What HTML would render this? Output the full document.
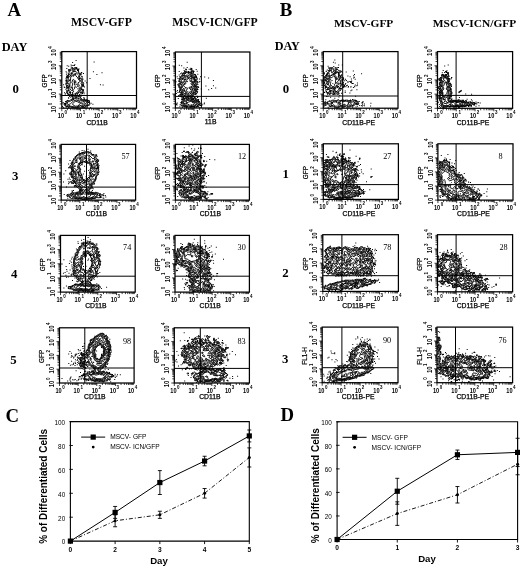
<!DOCTYPE html>
<html><head><meta charset="utf-8"><title>Figure</title>
<style>html,body{margin:0;padding:0;background:#fff;}svg{display:block;}</style></head>
<body><svg width="520" height="568" viewBox="0 0 520 568">
<rect x="0" y="0" width="520" height="568" fill="#fff"/>
<text x="14.30" y="15.60" font-family="'Liberation Serif', serif" font-size="18.8" font-weight="bold" text-anchor="middle" >A</text>
<text x="286.00" y="15.90" font-family="'Liberation Serif', serif" font-size="18.8" font-weight="bold" text-anchor="middle" >B</text>
<text x="101.50" y="25.80" font-family="'Liberation Serif', serif" font-size="11.7" font-weight="bold" text-anchor="middle" >MSCV-GFP</text>
<text x="215.00" y="26.00" font-family="'Liberation Serif', serif" font-size="11.7" font-weight="bold" text-anchor="middle" >MSCV-ICN/GFP</text>
<text x="363.70" y="27.00" font-family="'Liberation Serif', serif" font-size="11.4" font-weight="bold" text-anchor="middle" >MSCV-GFP</text>
<text x="474.50" y="27.00" font-family="'Liberation Serif', serif" font-size="11.4" font-weight="bold" text-anchor="middle" >MSCV-ICN/GFP</text>
<text x="14.50" y="50.90" font-family="'Liberation Serif', serif" font-size="12.4" font-weight="bold" text-anchor="middle" >DAY</text>
<text x="287.30" y="50.30" font-family="'Liberation Serif', serif" font-size="12.2" font-weight="bold" text-anchor="middle" >DAY</text>
<text x="15.60" y="93.40" font-family="'Liberation Serif', serif" font-size="12.8" font-weight="bold" text-anchor="middle" >0</text>
<text x="15.20" y="180.20" font-family="'Liberation Serif', serif" font-size="12.8" font-weight="bold" text-anchor="middle" >3</text>
<text x="14.10" y="278.40" font-family="'Liberation Serif', serif" font-size="12.8" font-weight="bold" text-anchor="middle" >4</text>
<text x="13.40" y="364.20" font-family="'Liberation Serif', serif" font-size="12.8" font-weight="bold" text-anchor="middle" >5</text>
<text x="285.90" y="92.60" font-family="'Liberation Serif', serif" font-size="12.8" font-weight="bold" text-anchor="middle" >0</text>
<text x="285.70" y="178.40" font-family="'Liberation Serif', serif" font-size="12.8" font-weight="bold" text-anchor="middle" >1</text>
<text x="285.40" y="277.20" font-family="'Liberation Serif', serif" font-size="12.8" font-weight="bold" text-anchor="middle" >2</text>
<text x="285.20" y="362.80" font-family="'Liberation Serif', serif" font-size="12.8" font-weight="bold" text-anchor="middle" >3</text>
<rect x="61.80" y="51.60" width="74.70" height="56.60" fill="none" stroke="#000" stroke-width="1.25"/>
<line x1="87.20" y1="51.60" x2="87.20" y2="108.20" stroke="#000" stroke-width="1"/>
<line x1="61.80" y1="95.50" x2="136.50" y2="95.50" stroke="#000" stroke-width="1"/>
<path d="M86 107.7l-.2-2 .4-.5 3 0 .7-.5-.5-3.9-3.2-1.3-1 .5-3-.3-1-1.6-1 .1-.2-.4 1.1-1-.2-1-1.9-1 1.2-.8 2.4-.2-.2-1 1.3-3-1.5-.6-1 .6 .3-2 2.4-3.9-2-3 1.3-2-1-.8-1 .9-1.7-2.1 .7-2.7 1 .3 .4-.6-.4-.6-1 .5-1.3-.9-.7-3.3-1.4-.6 0-1-.6-.3-2 .2-.9 .9-2-.1-2.2 1.3-.7 1 .9 1-.8 1.9 1 1-2.7 1-.8 3 .4 1-.7 1 .8 1-.7 2 1.1 3-1 2.9 1 1-.5 2 1.5 1 .4 1.5 1-1.5 0 1.3-.6 .7 1.6 1.5 1-.9 1.2 1.4-.2 1.3-2 .8-1 1-2-.5-.8 .4-.2 2.8-1-.5-1.4 .6 .4 1.5 2 .4-.5 1.1 2.5 0 .6 1 M70.1 107.7l.2 0 M77.8 107.7l1.2 0 M84.2 98.3l0 1.5 0-1.5 M68.3 97.6l.6 .2-.6-.2 M68.3 84.9l0 .4 0-.4 M82.2 76.7l0 .6 0-.6 M75.2 64.8l-1.3 .2 .3 .7 1-.9 M76.4 107.7l2.8-1 1 .5 2-.9 2 .4 1-2.8 1.2-1.2-.2-1.7-1 .3-6-2.5-1.9 0-1.1-.9-6.9 3.8-1.7 0-.5 3 .6 1 4.6 1.8 3.8 .2 M76.2 71.7l-2.9-.2-2 3.9-3.5 2.5 1.5 2-2 3 2 1.7 .2 1.3-.2 1.2-1.3 .7 1 2 0 1 1.5 1-.2 2.8 2.4 .2 .6 2.5 1.4-.5 .3-2 1.2-1.1 1 0 .7-.9 1.9-1 .3-3 1.9-3.9-1.1-1 .6-1-.5-2-1.8-2-.5-2 .5-2.5-1-1-1 1-.5-.5 .4-1-.9-1.2 M70.3 95l0 1 .3-.2-.3-.8 M78.2 93.6l-.6 .2 .6 .2 0-.4 M81.2 91.6l-.3 .2 .3 .3 0-.5 M70.3 70.7l-1.2 .3 1.2 .1 0-.4 M81.2 100.6l-1-.5-.8 .7-.2 1-.2-1-.8-.4-2 .5-1-.6-1.9 .8-3 2.8-2.1 .8 2.1 1.4 5.9 1.1 5-2 2 .8 .6-.3 .5-4-3.1-1.1 M75.2 73.1l-1.2 2.8-.7 .4-1-.5-1.5 1.1-.6 5 .2 1-.5 1 0 4.9 1.4 1.7 2 .3 .4 1-1.8 1 1.4 1.5 .9-.1 3.8-2.4 1.1-2-.3-1 .7-1-.8-.9 .6-2-1.2-1-.2-1 2.3-1.5 0-.6-1.4-.9-1.6-2.8-1.4-1.2-.6-2.8 M77.5 88.8l-.4 0 .4 0 M73.3 74.3l-.7 .6 .7 .7 .7-.7-.7-.6 M77.2 101.6l-2-.3-2.6 2.4 .2 1 2.4 1.5 3-.2 2-2.7 1 0 1 1 .9-.6-1.9-1.7-2 .7-2-1.1 M73.3 79.4l-.7 .5-.8 3 1 1-.9 3 .8 .9-.4 1.7 1 .4 1.2-1.1 .2-1.9 .5-.5 1 1.2 1.7-1.7-.7-1.7-1 0-1 1.2-.7-.5-.3-3 .3 1 1.4 0-.2-2-.8 0-.7 .9 0-1.9-.9-.5 M71.3 87.2l0 .9 .6-.3-.6-.6" fill="none" stroke="#000" stroke-width="0.9" stroke-linejoin="round"/>
<path d="M70.6 64.4h1.0v1.0h-1.0zM73.3 70.4h1.0v1.0h-1.0zM88.6 100.2h1.0v1.0h-1.0zM66.8 86.8h1.0v1.0h-1.0zM66.3 67.9h1.0v1.0h-1.0zM67.1 76.9h1.0v1.0h-1.0zM87.2 100.3h1.0v1.0h-1.0zM80.9 79.3h1.0v1.0h-1.0zM66.9 105.7h1.0v1.0h-1.0zM73.6 69.4h1.0v1.0h-1.0zM61.7 102.6h1.0v1.0h-1.0zM71.7 67.0h1.0v1.0h-1.0zM81.8 79.5h1.0v1.0h-1.0zM65.1 100.9h1.0v1.0h-1.0zM64.0 92.2h1.0v1.0h-1.0zM88.0 102.1h1.0v1.0h-1.0zM80.1 91.9h1.0v1.0h-1.0zM79.4 107.2h1.0v1.0h-1.0zM88.3 104.3h1.0v1.0h-1.0zM66.7 75.9h1.0v1.0h-1.0zM74.6 69.2h1.0v1.0h-1.0zM84.4 100.0h1.0v1.0h-1.0zM66.2 82.7h1.0v1.0h-1.0zM86.3 104.7h1.0v1.0h-1.0zM69.2 73.4h1.0v1.0h-1.0zM69.8 74.5h1.0v1.0h-1.0zM82.5 82.0h1.0v1.0h-1.0zM80.7 92.0h1.0v1.0h-1.0zM86.9 101.1h1.0v1.0h-1.0zM64.3 86.9h1.0v1.0h-1.0zM64.4 104.2h1.0v1.0h-1.0zM72.5 97.9h1.0v1.0h-1.0zM81.3 72.2h1.0v1.0h-1.0zM67.1 80.8h1.0v1.0h-1.0zM64.1 102.9h1.0v1.0h-1.0zM85.1 105.6h1.0v1.0h-1.0zM62.9 102.2h1.0v1.0h-1.0zM78.7 75.9h1.0v1.0h-1.0zM70.1 92.2h1.0v1.0h-1.0zM67.6 79.2h1.0v1.0h-1.0zM73.3 70.6h1.0v1.0h-1.0zM81.6 91.4h1.0v1.0h-1.0zM75.2 93.8h1.0v1.0h-1.0zM72.5 68.2h1.0v1.0h-1.0zM72.1 70.5h1.0v1.0h-1.0zM70.6 95.2h1.0v1.0h-1.0zM86.6 100.0h1.0v1.0h-1.0zM68.4 82.8h1.0v1.0h-1.0zM64.3 104.3h1.0v1.0h-1.0zM80.8 72.1h1.0v1.0h-1.0zM78.9 94.8h1.0v1.0h-1.0zM71.2 94.5h1.0v1.0h-1.0zM77.7 95.6h1.0v1.0h-1.0zM70.2 75.0h1.0v1.0h-1.0zM80.7 99.6h1.0v1.0h-1.0zM81.9 89.6h1.0v1.0h-1.0zM66.9 83.2h1.0v1.0h-1.0zM75.6 60.0h1.0v1.0h-1.0zM66.0 85.7h1.0v1.0h-1.0zM65.1 103.5h1.0v1.0h-1.0zM65.8 106.0h1.0v1.0h-1.0zM64.6 94.6h1.0v1.0h-1.0zM85.3 105.8h1.0v1.0h-1.0zM83.0 89.6h1.0v1.0h-1.0zM66.8 85.1h1.0v1.0h-1.0zM79.1 96.2h1.0v1.0h-1.0zM83.0 72.9h1.0v1.0h-1.0zM76.9 95.4h1.0v1.0h-1.0zM71.9 99.4h1.0v1.0h-1.0zM77.2 69.2h1.0v1.0h-1.0zM63.0 107.3h1.0v1.0h-1.0zM79.2 73.6h1.0v1.0h-1.0zM74.4 68.2h1.0v1.0h-1.0zM81.8 89.2h1.0v1.0h-1.0zM75.7 98.8h1.0v1.0h-1.0zM77.9 71.4h1.0v1.0h-1.0zM73.0 98.7h1.0v1.0h-1.0zM86.9 102.6h1.0v1.0h-1.0zM72.2 69.2h1.0v1.0h-1.0zM70.6 73.1h1.0v1.0h-1.0zM65.9 80.7h1.0v1.0h-1.0zM67.2 100.0h1.0v1.0h-1.0zM82.1 84.3h1.0v1.0h-1.0zM73.4 64.9h1.0v1.0h-1.0zM76.8 93.7h1.0v1.0h-1.0zM74.6 69.5h1.0v1.0h-1.0zM66.4 79.7h1.0v1.0h-1.0zM71.9 93.9h1.0v1.0h-1.0zM81.5 107.2h1.0v1.0h-1.0zM72.5 70.8h1.0v1.0h-1.0zM81.8 90.0h1.0v1.0h-1.0zM70.2 69.8h1.0v1.0h-1.0zM69.8 91.4h1.0v1.0h-1.0zM68.0 76.4h1.0v1.0h-1.0zM65.9 74.3h1.0v1.0h-1.0zM67.8 86.0h1.0v1.0h-1.0zM81.3 106.8h1.0v1.0h-1.0zM67.8 93.4h1.0v1.0h-1.0zM67.4 85.6h1.0v1.0h-1.0zM72.7 97.8h1.0v1.0h-1.0zM65.1 93.2h1.0v1.0h-1.0zM84.6 107.2h1.0v1.0h-1.0zM67.2 87.7h1.0v1.0h-1.0zM83.6 93.2h1.0v1.0h-1.0zM68.8 106.6h1.0v1.0h-1.0zM74.4 67.5h1.0v1.0h-1.0zM70.7 66.6h1.0v1.0h-1.0zM86.7 100.5h1.0v1.0h-1.0zM76.9 93.2h1.0v1.0h-1.0zM79.5 78.1h1.0v1.0h-1.0zM77.0 70.0h1.0v1.0h-1.0zM65.1 102.9h1.0v1.0h-1.0zM75.9 68.4h1.0v1.0h-1.0zM81.8 83.3h1.0v1.0h-1.0zM71.8 94.8h1.0v1.0h-1.0zM78.0 69.3h1.0v1.0h-1.0zM77.7 96.1h1.0v1.0h-1.0zM89.0 102.6h1.0v1.0h-1.0zM67.1 89.8h1.0v1.0h-1.0zM62.1 106.0h1.0v1.0h-1.0zM73.6 97.4h1.0v1.0h-1.0zM71.7 95.5h1.0v1.0h-1.0zM77.8 70.3h1.0v1.0h-1.0zM79.6 73.8h1.0v1.0h-1.0zM68.4 106.2h1.0v1.0h-1.0zM76.6 107.0h1.0v1.0h-1.0zM67.2 92.6h1.0v1.0h-1.0zM71.0 94.5h1.0v1.0h-1.0zM82.2 85.2h1.0v1.0h-1.0zM77.3 68.4h1.0v1.0h-1.0zM68.0 89.5h1.0v1.0h-1.0zM87.3 105.0h1.0v1.0h-1.0zM67.8 86.7h1.0v1.0h-1.0zM75.2 97.0h1.0v1.0h-1.0zM87.9 100.8h1.0v1.0h-1.0zM78.6 78.3h1.0v1.0h-1.0zM85.5 100.0h1.0v1.0h-1.0zM68.2 97.7h1.0v1.0h-1.0zM83.1 84.9h1.0v1.0h-1.0zM65.0 103.9h1.0v1.0h-1.0zM65.8 79.9h1.0v1.0h-1.0zM83.4 97.1h1.0v1.0h-1.0zM78.3 91.8h1.0v1.0h-1.0zM81.3 75.9h1.0v1.0h-1.0zM68.9 79.9h1.0v1.0h-1.0zM63.1 84.3h1.0v1.0h-1.0zM83.3 86.1h1.0v1.0h-1.0zM67.2 91.1h1.0v1.0h-1.0zM67.5 75.0h1.0v1.0h-1.0zM76.5 95.1h1.0v1.0h-1.0zM66.2 77.2h1.0v1.0h-1.0zM66.5 79.8h1.0v1.0h-1.0zM67.7 75.7h1.0v1.0h-1.0zM82.6 91.5h1.0v1.0h-1.0zM83.7 98.7h1.0v1.0h-1.0zM73.5 69.2h1.0v1.0h-1.0zM72.0 96.3h1.0v1.0h-1.0zM76.1 96.3h1.0v1.0h-1.0zM80.5 74.4h1.0v1.0h-1.0zM81.4 76.2h1.0v1.0h-1.0zM79.9 96.6h1.0v1.0h-1.0zM72.3 67.6h1.0v1.0h-1.0zM78.2 97.4h1.0v1.0h-1.0zM66.3 72.4h1.0v1.0h-1.0zM75.5 95.0h1.0v1.0h-1.0zM78.4 95.8h1.0v1.0h-1.0zM67.8 74.7h1.0v1.0h-1.0zM67.2 91.6h1.0v1.0h-1.0zM67.9 94.1h1.0v1.0h-1.0zM90.2 106.9h1.0v1.0h-1.0zM78.8 77.6h1.0v1.0h-1.0zM79.8 89.7h1.0v1.0h-1.0zM69.3 69.5h1.0v1.0h-1.0zM68.2 107.3h1.0v1.0h-1.0zM82.0 106.2h1.0v1.0h-1.0zM83.9 86.5h1.0v1.0h-1.0zM72.1 62.1h1.0v1.0h-1.0zM70.6 69.6h1.0v1.0h-1.0zM69.8 74.4h1.0v1.0h-1.0zM68.2 69.6h1.0v1.0h-1.0zM66.7 77.6h1.0v1.0h-1.0zM63.7 86.5h1.0v1.0h-1.0zM68.2 68.9h1.0v1.0h-1.0zM65.6 71.2h1.0v1.0h-1.0zM65.7 83.5h1.0v1.0h-1.0zM76.2 67.1h1.0v1.0h-1.0zM76.0 67.4h1.0v1.0h-1.0zM75.2 96.1h1.0v1.0h-1.0zM70.9 72.3h1.0v1.0h-1.0zM74.9 95.1h1.0v1.0h-1.0zM83.4 91.7h1.0v1.0h-1.0zM70.7 72.4h1.0v1.0h-1.0zM76.5 96.9h1.0v1.0h-1.0zM70.6 69.5h1.0v1.0h-1.0zM65.8 106.5h1.0v1.0h-1.0zM67.1 92.9h1.0v1.0h-1.0zM71.5 107.0h1.0v1.0h-1.0zM71.7 65.1h1.0v1.0h-1.0zM67.2 100.6h1.0v1.0h-1.0zM81.1 88.7h1.0v1.0h-1.0zM92.4 103.8h1.0v1.0h-1.0zM77.7 98.5h1.0v1.0h-1.0zM90.6 102.8h1.0v1.0h-1.0zM75.4 97.5h1.0v1.0h-1.0zM67.9 73.8h1.0v1.0h-1.0zM79.5 88.1h1.0v1.0h-1.0zM68.2 65.8h1.0v1.0h-1.0zM78.5 68.6h1.0v1.0h-1.0zM85.4 99.8h1.0v1.0h-1.0zM75.4 67.6h1.0v1.0h-1.0zM66.7 65.3h1.0v1.0h-1.0zM84.6 80.6h1.0v1.0h-1.0zM78.7 77.6h1.0v1.0h-1.0zM71.3 72.9h1.0v1.0h-1.0zM67.9 90.3h1.0v1.0h-1.0zM82.0 92.9h1.0v1.0h-1.0zM82.7 107.3h1.0v1.0h-1.0zM69.1 92.0h1.0v1.0h-1.0zM83.7 107.1h1.0v1.0h-1.0zM78.6 75.9h1.0v1.0h-1.0zM93.6 61.4h1.0v1.0h-1.0zM99.9 84.3h1.0v1.0h-1.0zM92.9 71.2h1.0v1.0h-1.0zM86.1 82.3h1.0v1.0h-1.0zM89.5 78.0h1.0v1.0h-1.0zM101.5 72.2h1.0v1.0h-1.0zM96.4 74.0h1.0v1.0h-1.0zM102.6 84.4h1.0v1.0h-1.0z" fill="#000"/>
<path d="M58.80 108.20H61.80M61.80 108.20V111.20M59.80 103.94H61.80M67.42 108.20V110.20M59.80 101.45H61.80M70.71 108.20V110.20M59.80 99.68H61.80M73.04 108.20V110.20M59.80 98.31H61.80M74.85 108.20V110.20M59.80 97.19H61.80M76.33 108.20V110.20M59.80 96.24H61.80M77.58 108.20V110.20M59.80 95.42H61.80M78.67 108.20V110.20M59.80 94.70H61.80M79.62 108.20V110.20M58.80 94.05H61.80M80.47 108.20V111.20M59.80 89.79H61.80M86.10 108.20V110.20M59.80 87.30H61.80M89.39 108.20V110.20M59.80 85.53H61.80M91.72 108.20V110.20M59.80 84.16H61.80M93.53 108.20V110.20M59.80 83.04H61.80M95.01 108.20V110.20M59.80 82.09H61.80M96.26 108.20V110.20M59.80 81.27H61.80M97.34 108.20V110.20M59.80 80.55H61.80M98.30 108.20V110.20M58.80 79.90H61.80M99.15 108.20V111.20M59.80 75.64H61.80M104.77 108.20V110.20M59.80 73.15H61.80M108.06 108.20V110.20M59.80 71.38H61.80M110.39 108.20V110.20M59.80 70.01H61.80M112.20 108.20V110.20M59.80 68.89H61.80M113.68 108.20V110.20M59.80 67.94H61.80M114.93 108.20V110.20M59.80 67.12H61.80M116.02 108.20V110.20M59.80 66.40H61.80M116.97 108.20V110.20M58.80 65.75H61.80M117.83 108.20V111.20M59.80 61.49H61.80M123.45 108.20V110.20M59.80 59.00H61.80M126.74 108.20V110.20M59.80 57.23H61.80M129.07 108.20V110.20M59.80 55.86H61.80M130.88 108.20V110.20M59.80 54.74H61.80M132.36 108.20V110.20M59.80 53.79H61.80M133.61 108.20V110.20M59.80 52.97H61.80M134.69 108.20V110.20M59.80 52.25H61.80M135.65 108.20V110.20" stroke="#000" stroke-width="0.75" fill="none"/>
<g transform="translate(62.0 118.1)"><text x="-5.53" y="0" font-family="'Liberation Sans', sans-serif" font-size="7.4" font-weight="bold" transform="scale(0.76 1)">10</text><text x="3.25" y="-4.0" font-family="'Liberation Sans', sans-serif" font-size="5.6" font-weight="bold" transform="scale(0.8 1)">0</text></g>
<g transform="translate(80.1 118.1)"><text x="-5.53" y="0" font-family="'Liberation Sans', sans-serif" font-size="7.4" font-weight="bold" transform="scale(0.76 1)">10</text><text x="3.25" y="-4.0" font-family="'Liberation Sans', sans-serif" font-size="5.6" font-weight="bold" transform="scale(0.8 1)">1</text></g>
<g transform="translate(98.2 118.1)"><text x="-5.53" y="0" font-family="'Liberation Sans', sans-serif" font-size="7.4" font-weight="bold" transform="scale(0.76 1)">10</text><text x="3.25" y="-4.0" font-family="'Liberation Sans', sans-serif" font-size="5.6" font-weight="bold" transform="scale(0.8 1)">2</text></g>
<g transform="translate(116.3 118.1)"><text x="-5.53" y="0" font-family="'Liberation Sans', sans-serif" font-size="7.4" font-weight="bold" transform="scale(0.76 1)">10</text><text x="3.25" y="-4.0" font-family="'Liberation Sans', sans-serif" font-size="5.6" font-weight="bold" transform="scale(0.8 1)">3</text></g>
<g transform="translate(134.5 118.1)"><text x="-5.53" y="0" font-family="'Liberation Sans', sans-serif" font-size="7.4" font-weight="bold" transform="scale(0.76 1)">10</text><text x="3.25" y="-4.0" font-family="'Liberation Sans', sans-serif" font-size="5.6" font-weight="bold" transform="scale(0.8 1)">4</text></g>
<g transform="translate(56.4 108.2) rotate(-90)"><text x="-5.66" y="0" font-family="'Liberation Sans', sans-serif" font-size="7.8" font-weight="bold" transform="scale(0.76 1)">10</text><text x="3.62" y="-4.3" font-family="'Liberation Sans', sans-serif" font-size="5.6" font-weight="bold" transform="scale(0.8 1)">0</text></g>
<g transform="translate(56.4 94.0) rotate(-90)"><text x="-5.66" y="0" font-family="'Liberation Sans', sans-serif" font-size="7.8" font-weight="bold" transform="scale(0.76 1)">10</text><text x="3.62" y="-4.3" font-family="'Liberation Sans', sans-serif" font-size="5.6" font-weight="bold" transform="scale(0.8 1)">1</text></g>
<g transform="translate(56.4 79.9) rotate(-90)"><text x="-5.66" y="0" font-family="'Liberation Sans', sans-serif" font-size="7.8" font-weight="bold" transform="scale(0.76 1)">10</text><text x="3.62" y="-4.3" font-family="'Liberation Sans', sans-serif" font-size="5.6" font-weight="bold" transform="scale(0.8 1)">2</text></g>
<g transform="translate(56.4 65.8) rotate(-90)"><text x="-5.66" y="0" font-family="'Liberation Sans', sans-serif" font-size="7.8" font-weight="bold" transform="scale(0.76 1)">10</text><text x="3.62" y="-4.3" font-family="'Liberation Sans', sans-serif" font-size="5.6" font-weight="bold" transform="scale(0.8 1)">3</text></g>
<g transform="translate(56.4 51.6) rotate(-90)"><text x="-5.66" y="0" font-family="'Liberation Sans', sans-serif" font-size="7.8" font-weight="bold" transform="scale(0.76 1)">10</text><text x="3.62" y="-4.3" font-family="'Liberation Sans', sans-serif" font-size="5.6" font-weight="bold" transform="scale(0.8 1)">4</text></g>
<text x="97.15" y="124.50" font-family="'Liberation Sans', sans-serif" font-size="6.8" font-weight="normal" text-anchor="middle" stroke="#000" stroke-width="0.25">CD11B</text>
<text transform="translate(46.60 80.90) rotate(-90)" font-family="'Liberation Sans', sans-serif" font-size="6.4" text-anchor="middle" stroke="#000" stroke-width="0.2">GFP</text>
<rect x="175.40" y="52.00" width="74.50" height="56.00" fill="none" stroke="#000" stroke-width="1.25"/>
<line x1="201.40" y1="52.00" x2="201.40" y2="108.00" stroke="#000" stroke-width="1"/>
<line x1="175.40" y1="96.40" x2="249.90" y2="96.40" stroke="#000" stroke-width="1"/>
<path d="M198.3 107.5l.8-2.6 1.1-.4-.5-2-1.6-2.7-1.5-.3-1.6-2.1-.5 .1-.5 1.3-3.1-1.3 2.8-1-.4-1 .7-1.3 2 0 1-1 .6-1.7-.6-.7-1.2-.3-.2-1 .1-1 1.2-1-1.2-2 .3-.6 1 .5 .9-.9-.6-1 .1-2-.7-1 .5-2-1.2-3.1-1-1-1 0-1 1-.3-.9 1.2-3-1.9-1.9-.8 .9 .8 2-2 .7-1-1.7-1 .5-3-.4-1 1.4-1.7 .5 .1 1-.9 1 .3 1-1.9 1-1.2 4 1.2 .2 .5 .8-2.7 2 1.2 1.1 1.2 3.9 1 1-1.2-.3-.4 1.3 1.2 1 .2 1-.9 2 .9 1.4 1-.1 .5 1.7-.8 1 .6 1-1.1 2 .8 1.4-1-.2-.7 .8 .7 .9 3 1.1 .8 1 M185.8 107.5l1.4 0 M193.6 107.5l1.7 0 M188.2 95.5l.3 1-.5 1-1 .5-.6-.5 1.3-2 .5 0 M182.7 95.5l-.8 .8-.5-.8 .5-.4 .8 .4 M197 88.1l-.4 1.4 .4 .6 .8-.6-.8-1.4 M198.1 86.3l0 .5 0-.5 M196 76.5l-1 1.3-.4-1.3 .4-.6 1 .6 M186 69.2l0 .9 0-.9 M191 68.6l-.4 .9 .4 .6 .7-.6-.7-.9 M190.6 107.5l3.4-.9 2 .3 1.5-1.4 .3-1 1.4-1-.2-1-3-2.4-2 .5-1-1.4-2 .3-1-1.6-2 1.1-3-.3-.4 .8-1.6 1-.4 3 .7 2 1.7 1.4 2-.5 .7 1.1 M180.9 104.3l0 .4 0-.4 M183 97.3l0 .5 0-.5 M187 72.3l-3.2 2.2 1.2 .9 0 1.1-2-1.2-.1 1.2 .8 1-2.8 2-1-.4-.3 1.4 2.4 2-2.1 .6-.5 1.4 1.8 5 1 1-.6 1 2.2 3-.4 1 .6 .8 1-1.5 2 .5 1-.7 1.1 .9 .9 1.7 2.3-.7 1.6-4 2.7-1-1.6-.4-.3-.6-.1-2 1-1-.7-3-1.4-1 .5-1.8 1-.2 .8-1-1.8-1.5-.7-2.5-1.3-.9-1 .4-.8-.5 .8-1.1-2-.3-2-1.8 M181.9 92.7l-.4 .8 .4 .6 .6-.6-.6-.8 M197 84l-.5 .5 .5 .4 .4-.4-.4-.5 M196 80.7l-.9 .8 .9 .9 .6-.9-.6-.8 M181.9 77.4l0 .9 0-.9 M192 73.3l-.8 .2 .8 .5 0-.7 M192 70.4l0 .4 0-.4 M193 100.3l-6-.8-1.4 1-.6 1.4-.5-1.4-.5-.3-.6 3.3 .6 .6 1-1.2 .3 .6-1.3 2 1 .8 2-.2 1 .8 2 .3 3-1 2 .3 1-1.8 1.9-1.2-1.9-2.6-3 .6 0-1.2 M188 75.4l-1-.6-1 .7 .1 1-4.9 4 1.3 2 0 1-.6 .9-1-1.1-.7 .2 .1 1 1.6 .1-.5 3.9 .5 1 2.1 .5 0 .9-1.5 .6 1.5 1.9 1 .5 1-.6 1 1.3 1-1 2 1.8 2 .5 0-1.3-2-1.1 1-.2 1 1.2 1.7-3 .3-2-.5-1 1.3-1-.8-2.9-1.1-1.1 0-1 1.8-2-1.8-1 .1-1-1-2-1 .2-3-1.3 M190 100.2l-1-.1-1 .7-1-.8-.6 .5-.1 4-1.7 1 4.4 .4 1 .8 1-.1 3.8-1.1 1.8-2-.6-1.7-3 .3-1-1.2-2-.7 M187 76.2l-1.2 1.3 .2 1.9-1 .1-1.6 2-.4 1 2.1 1-1.9 1-.9 3 2.3 2-.2 2 1 1 1.6 .9 1-.7 1 .9 1-1.8 1 .2 1-.5 .8-3 1-1-1.4-4 .6-2-2-1 .6-1-.6-1-4-2.3 M192 91.6l-.4 .9 .4 .3 0-1.2 M187.1 89.5l-.1 .5-.3-.5 .4 0 M184 79l0 1 .9-.5-.9-.5 M192 77.5l-.6 0-.4 1 1 .2 0-1.2 M191 101.2l-4 1.4-.3 .9 4.3 2.5 .9-.5-1.1-1 1.2 .8 3-1.7 .6-1.1-2.6 .5-2-1.8 M186 90.4l-.6 1.1 1.6 .9 .4-.9-1.4-1.1 M189 91.3l0 .3 0-.3 M192 86.6l-.1 .9-2.4 1 .5 0 1 1.9 1.1-.9-.1-2.9 M185 88.1l0 .5 0-.5 M189 78.3l-2 1-.4 1.2 1.1 1-.7 .4-2-1-.7 .6 1.4 1 .2 1-2.4 2 1.5 1.9 3 1 .9-.9 3.1-1 .3-1-.3-1.1-1-.3-.2-.6 1.1-1 .2-1-1.1-.4-1 .4 0-1.7-1-1.5 M188 77.2l-.7 .3 .7 .9 .4-.9-.4-.3" fill="none" stroke="#000" stroke-width="0.9" stroke-linejoin="round"/>
<path d="M178.8 81.0h1.0v1.0h-1.0zM181.7 90.2h1.0v1.0h-1.0zM180.9 91.5h1.0v1.0h-1.0zM181.1 72.6h1.0v1.0h-1.0zM192.4 70.8h1.0v1.0h-1.0zM190.0 106.5h1.0v1.0h-1.0zM187.7 97.7h1.0v1.0h-1.0zM179.5 90.3h1.0v1.0h-1.0zM201.3 105.0h1.0v1.0h-1.0zM183.8 97.9h1.0v1.0h-1.0zM194.2 98.3h1.0v1.0h-1.0zM196.7 81.0h1.0v1.0h-1.0zM200.3 105.1h1.0v1.0h-1.0zM188.7 68.8h1.0v1.0h-1.0zM197.6 101.0h1.0v1.0h-1.0zM198.4 81.8h1.0v1.0h-1.0zM193.6 78.2h1.0v1.0h-1.0zM196.4 91.2h1.0v1.0h-1.0zM195.3 82.5h1.0v1.0h-1.0zM199.2 103.7h1.0v1.0h-1.0zM195.7 69.1h1.0v1.0h-1.0zM180.6 95.9h1.0v1.0h-1.0zM186.7 67.1h1.0v1.0h-1.0zM179.0 94.6h1.0v1.0h-1.0zM191.8 99.2h1.0v1.0h-1.0zM188.3 97.9h1.0v1.0h-1.0zM179.8 76.6h1.0v1.0h-1.0zM184.6 75.2h1.0v1.0h-1.0zM177.6 84.2h1.0v1.0h-1.0zM178.2 94.9h1.0v1.0h-1.0zM195.5 75.9h1.0v1.0h-1.0zM194.6 83.5h1.0v1.0h-1.0zM189.4 72.1h1.0v1.0h-1.0zM183.4 67.4h1.0v1.0h-1.0zM193.7 81.8h1.0v1.0h-1.0zM192.4 73.3h1.0v1.0h-1.0zM193.9 76.8h1.0v1.0h-1.0zM181.2 65.3h1.0v1.0h-1.0zM181.7 98.9h1.0v1.0h-1.0zM182.7 97.8h1.0v1.0h-1.0zM179.4 76.0h1.0v1.0h-1.0zM196.6 91.5h1.0v1.0h-1.0zM198.8 100.9h1.0v1.0h-1.0zM188.0 72.1h1.0v1.0h-1.0zM183.4 75.2h1.0v1.0h-1.0zM196.5 100.1h1.0v1.0h-1.0zM184.9 72.5h1.0v1.0h-1.0zM180.4 77.8h1.0v1.0h-1.0zM184.1 98.4h1.0v1.0h-1.0zM194.5 96.9h1.0v1.0h-1.0zM195.2 86.1h1.0v1.0h-1.0zM193.0 98.9h1.0v1.0h-1.0zM185.6 71.8h1.0v1.0h-1.0zM186.7 61.7h1.0v1.0h-1.0zM182.8 103.6h1.0v1.0h-1.0zM195.6 83.2h1.0v1.0h-1.0zM190.5 68.9h1.0v1.0h-1.0zM181.5 105.5h1.0v1.0h-1.0zM177.7 84.4h1.0v1.0h-1.0zM198.1 87.1h1.0v1.0h-1.0zM183.8 73.3h1.0v1.0h-1.0zM182.9 98.8h1.0v1.0h-1.0zM193.3 70.8h1.0v1.0h-1.0zM192.7 71.6h1.0v1.0h-1.0zM179.1 90.8h1.0v1.0h-1.0zM198.1 103.9h1.0v1.0h-1.0zM175.7 103.9h1.0v1.0h-1.0zM195.4 98.0h1.0v1.0h-1.0zM184.9 72.3h1.0v1.0h-1.0zM196.5 81.8h1.0v1.0h-1.0zM203.6 103.5h1.0v1.0h-1.0zM191.7 97.5h1.0v1.0h-1.0zM196.5 78.5h1.0v1.0h-1.0zM176.3 103.3h1.0v1.0h-1.0zM191.2 73.7h1.0v1.0h-1.0zM180.2 95.2h1.0v1.0h-1.0zM194.6 89.2h1.0v1.0h-1.0zM191.1 75.2h1.0v1.0h-1.0zM195.4 99.1h1.0v1.0h-1.0zM188.5 95.3h1.0v1.0h-1.0zM186.8 96.2h1.0v1.0h-1.0zM196.1 106.8h1.0v1.0h-1.0zM182.4 94.0h1.0v1.0h-1.0zM185.0 94.6h1.0v1.0h-1.0zM193.6 74.3h1.0v1.0h-1.0zM180.9 95.5h1.0v1.0h-1.0zM182.9 72.4h1.0v1.0h-1.0zM197.2 106.0h1.0v1.0h-1.0zM197.0 91.6h1.0v1.0h-1.0zM180.5 92.3h1.0v1.0h-1.0zM175.5 81.3h1.0v1.0h-1.0zM199.6 104.9h1.0v1.0h-1.0zM198.1 99.0h1.0v1.0h-1.0zM178.7 71.0h1.0v1.0h-1.0zM196.4 105.5h1.0v1.0h-1.0zM175.9 92.9h1.0v1.0h-1.0zM194.7 92.0h1.0v1.0h-1.0zM180.4 93.9h1.0v1.0h-1.0zM193.3 92.1h1.0v1.0h-1.0zM175.4 91.0h1.0v1.0h-1.0zM181.8 78.2h1.0v1.0h-1.0zM199.4 107.0h1.0v1.0h-1.0zM194.8 74.0h1.0v1.0h-1.0zM194.8 90.2h1.0v1.0h-1.0zM193.2 75.4h1.0v1.0h-1.0zM178.7 91.9h1.0v1.0h-1.0zM177.8 97.9h1.0v1.0h-1.0zM184.2 95.0h1.0v1.0h-1.0zM195.8 93.0h1.0v1.0h-1.0zM181.2 98.5h1.0v1.0h-1.0zM182.6 104.9h1.0v1.0h-1.0zM193.3 91.6h1.0v1.0h-1.0zM185.1 96.4h1.0v1.0h-1.0zM178.8 64.7h1.0v1.0h-1.0zM185.4 68.6h1.0v1.0h-1.0zM193.6 96.7h1.0v1.0h-1.0zM194.3 84.8h1.0v1.0h-1.0zM195.5 94.2h1.0v1.0h-1.0zM177.5 78.1h1.0v1.0h-1.0zM197.8 96.3h1.0v1.0h-1.0zM194.3 77.8h1.0v1.0h-1.0zM179.4 105.8h1.0v1.0h-1.0zM192.3 95.8h1.0v1.0h-1.0zM190.9 68.6h1.0v1.0h-1.0zM196.3 89.2h1.0v1.0h-1.0zM183.7 69.9h1.0v1.0h-1.0zM179.0 90.9h1.0v1.0h-1.0zM197.0 97.0h1.0v1.0h-1.0zM197.8 99.2h1.0v1.0h-1.0zM196.8 89.0h1.0v1.0h-1.0zM193.3 100.5h1.0v1.0h-1.0zM191.0 71.5h1.0v1.0h-1.0zM200.0 76.2h1.0v1.0h-1.0zM196.7 70.8h1.0v1.0h-1.0zM182.0 106.7h1.0v1.0h-1.0zM181.6 101.3h1.0v1.0h-1.0zM180.1 88.5h1.0v1.0h-1.0zM194.2 84.2h1.0v1.0h-1.0zM189.7 71.3h1.0v1.0h-1.0zM184.1 71.1h1.0v1.0h-1.0zM190.2 72.6h1.0v1.0h-1.0zM184.6 73.0h1.0v1.0h-1.0zM183.0 96.9h1.0v1.0h-1.0zM187.7 96.7h1.0v1.0h-1.0zM195.2 83.4h1.0v1.0h-1.0zM188.7 95.8h1.0v1.0h-1.0zM196.4 100.2h1.0v1.0h-1.0zM191.8 98.3h1.0v1.0h-1.0zM194.7 88.2h1.0v1.0h-1.0zM196.0 77.1h1.0v1.0h-1.0zM176.7 102.4h1.0v1.0h-1.0zM194.5 80.5h1.0v1.0h-1.0zM194.8 74.9h1.0v1.0h-1.0zM191.3 68.1h1.0v1.0h-1.0zM182.7 99.0h1.0v1.0h-1.0zM181.3 102.0h1.0v1.0h-1.0zM181.9 93.9h1.0v1.0h-1.0zM194.8 93.4h1.0v1.0h-1.0zM188.4 97.4h1.0v1.0h-1.0zM195.2 80.3h1.0v1.0h-1.0zM188.4 73.3h1.0v1.0h-1.0zM192.5 106.6h1.0v1.0h-1.0zM191.1 71.2h1.0v1.0h-1.0zM194.1 79.5h1.0v1.0h-1.0zM201.7 103.7h1.0v1.0h-1.0zM178.2 86.6h1.0v1.0h-1.0zM199.1 78.6h1.0v1.0h-1.0zM182.5 73.4h1.0v1.0h-1.0zM190.8 98.6h1.0v1.0h-1.0zM186.2 97.8h1.0v1.0h-1.0zM193.0 97.9h1.0v1.0h-1.0zM185.8 69.0h1.0v1.0h-1.0zM199.8 102.8h1.0v1.0h-1.0zM179.5 88.9h1.0v1.0h-1.0zM193.4 77.3h1.0v1.0h-1.0zM197.3 85.9h1.0v1.0h-1.0zM203.9 102.4h1.0v1.0h-1.0zM192.1 71.5h1.0v1.0h-1.0zM176.9 89.9h1.0v1.0h-1.0zM197.1 100.4h1.0v1.0h-1.0zM181.8 74.5h1.0v1.0h-1.0zM180.5 102.0h1.0v1.0h-1.0zM190.9 98.2h1.0v1.0h-1.0zM191.8 75.4h1.0v1.0h-1.0zM179.8 77.6h1.0v1.0h-1.0zM194.5 93.0h1.0v1.0h-1.0zM181.4 101.7h1.0v1.0h-1.0zM188.0 71.1h1.0v1.0h-1.0zM190.4 67.8h1.0v1.0h-1.0zM176.5 104.5h1.0v1.0h-1.0zM192.5 106.6h1.0v1.0h-1.0zM184.7 97.3h1.0v1.0h-1.0zM180.1 73.3h1.0v1.0h-1.0zM197.3 88.9h1.0v1.0h-1.0zM180.9 93.8h1.0v1.0h-1.0zM193.4 95.8h1.0v1.0h-1.0zM185.6 98.5h1.0v1.0h-1.0zM178.7 74.6h1.0v1.0h-1.0zM195.4 77.3h1.0v1.0h-1.0zM195.2 79.0h1.0v1.0h-1.0zM185.2 96.6h1.0v1.0h-1.0zM197.3 73.7h1.0v1.0h-1.0zM177.3 91.7h1.0v1.0h-1.0zM194.4 98.7h1.0v1.0h-1.0zM196.8 95.7h1.0v1.0h-1.0zM178.7 85.4h1.0v1.0h-1.0zM197.4 86.4h1.0v1.0h-1.0zM185.6 96.5h1.0v1.0h-1.0zM195.9 86.6h1.0v1.0h-1.0zM197.3 104.9h1.0v1.0h-1.0zM196.4 86.7h1.0v1.0h-1.0zM205.8 97.7h1.0v1.0h-1.0zM181.8 75.4h1.0v1.0h-1.0zM181.2 91.7h1.0v1.0h-1.0zM183.5 96.2h1.0v1.0h-1.0zM189.9 96.8h1.0v1.0h-1.0zM194.1 81.7h1.0v1.0h-1.0zM198.2 101.7h1.0v1.0h-1.0zM176.7 76.2h1.0v1.0h-1.0zM185.5 70.4h1.0v1.0h-1.0zM212.9 85.3h1.0v1.0h-1.0zM204.2 76.6h1.0v1.0h-1.0zM208.1 77.6h1.0v1.0h-1.0zM215.2 87.5h1.0v1.0h-1.0zM212.9 80.0h1.0v1.0h-1.0zM200.8 88.4h1.0v1.0h-1.0zM208.2 89.2h1.0v1.0h-1.0zM199.3 81.1h1.0v1.0h-1.0zM211.1 88.0h1.0v1.0h-1.0zM205.4 85.4h1.0v1.0h-1.0z" fill="#000"/>
<path d="M172.40 108.00H175.40M175.40 108.00V111.00M173.40 103.79H175.40M181.01 108.00V110.00M173.40 101.32H175.40M184.29 108.00V110.00M173.40 99.57H175.40M186.61 108.00V110.00M173.40 98.21H175.40M188.42 108.00V110.00M173.40 97.11H175.40M189.89 108.00V110.00M173.40 96.17H175.40M191.14 108.00V110.00M173.40 95.36H175.40M192.22 108.00V110.00M173.40 94.64H175.40M193.17 108.00V110.00M172.40 94.00H175.40M194.03 108.00V111.00M173.40 89.79H175.40M199.63 108.00V110.00M173.40 87.32H175.40M202.91 108.00V110.00M173.40 85.57H175.40M205.24 108.00V110.00M173.40 84.21H175.40M207.04 108.00V110.00M173.40 83.11H175.40M208.52 108.00V110.00M173.40 82.17H175.40M209.76 108.00V110.00M173.40 81.36H175.40M210.85 108.00V110.00M173.40 80.64H175.40M211.80 108.00V110.00M172.40 80.00H175.40M212.65 108.00V111.00M173.40 75.79H175.40M218.26 108.00V110.00M173.40 73.32H175.40M221.54 108.00V110.00M173.40 71.57H175.40M223.86 108.00V110.00M173.40 70.21H175.40M225.67 108.00V110.00M173.40 69.11H175.40M227.14 108.00V110.00M173.40 68.17H175.40M228.39 108.00V110.00M173.40 67.36H175.40M229.47 108.00V110.00M173.40 66.64H175.40M230.42 108.00V110.00M172.40 66.00H175.40M231.28 108.00V111.00M173.40 61.79H175.40M236.88 108.00V110.00M173.40 59.32H175.40M240.16 108.00V110.00M173.40 57.57H175.40M242.49 108.00V110.00M173.40 56.21H175.40M244.29 108.00V110.00M173.40 55.11H175.40M245.77 108.00V110.00M173.40 54.17H175.40M247.01 108.00V110.00M173.40 53.36H175.40M248.10 108.00V110.00M173.40 52.64H175.40M249.05 108.00V110.00" stroke="#000" stroke-width="0.75" fill="none"/>
<g transform="translate(175.6 117.9)"><text x="-5.53" y="0" font-family="'Liberation Sans', sans-serif" font-size="7.4" font-weight="bold" transform="scale(0.76 1)">10</text><text x="3.25" y="-4.0" font-family="'Liberation Sans', sans-serif" font-size="5.6" font-weight="bold" transform="scale(0.8 1)">0</text></g>
<g transform="translate(193.7 117.9)"><text x="-5.53" y="0" font-family="'Liberation Sans', sans-serif" font-size="7.4" font-weight="bold" transform="scale(0.76 1)">10</text><text x="3.25" y="-4.0" font-family="'Liberation Sans', sans-serif" font-size="5.6" font-weight="bold" transform="scale(0.8 1)">1</text></g>
<g transform="translate(211.7 117.9)"><text x="-5.53" y="0" font-family="'Liberation Sans', sans-serif" font-size="7.4" font-weight="bold" transform="scale(0.76 1)">10</text><text x="3.25" y="-4.0" font-family="'Liberation Sans', sans-serif" font-size="5.6" font-weight="bold" transform="scale(0.8 1)">2</text></g>
<g transform="translate(229.8 117.9)"><text x="-5.53" y="0" font-family="'Liberation Sans', sans-serif" font-size="7.4" font-weight="bold" transform="scale(0.76 1)">10</text><text x="3.25" y="-4.0" font-family="'Liberation Sans', sans-serif" font-size="5.6" font-weight="bold" transform="scale(0.8 1)">3</text></g>
<g transform="translate(247.9 117.9)"><text x="-5.53" y="0" font-family="'Liberation Sans', sans-serif" font-size="7.4" font-weight="bold" transform="scale(0.76 1)">10</text><text x="3.25" y="-4.0" font-family="'Liberation Sans', sans-serif" font-size="5.6" font-weight="bold" transform="scale(0.8 1)">4</text></g>
<g transform="translate(170.0 108.0) rotate(-90)"><text x="-5.66" y="0" font-family="'Liberation Sans', sans-serif" font-size="7.8" font-weight="bold" transform="scale(0.76 1)">10</text><text x="3.62" y="-4.3" font-family="'Liberation Sans', sans-serif" font-size="5.6" font-weight="bold" transform="scale(0.8 1)">0</text></g>
<g transform="translate(170.0 94.0) rotate(-90)"><text x="-5.66" y="0" font-family="'Liberation Sans', sans-serif" font-size="7.8" font-weight="bold" transform="scale(0.76 1)">10</text><text x="3.62" y="-4.3" font-family="'Liberation Sans', sans-serif" font-size="5.6" font-weight="bold" transform="scale(0.8 1)">1</text></g>
<g transform="translate(170.0 80.0) rotate(-90)"><text x="-5.66" y="0" font-family="'Liberation Sans', sans-serif" font-size="7.8" font-weight="bold" transform="scale(0.76 1)">10</text><text x="3.62" y="-4.3" font-family="'Liberation Sans', sans-serif" font-size="5.6" font-weight="bold" transform="scale(0.8 1)">2</text></g>
<g transform="translate(170.0 66.0) rotate(-90)"><text x="-5.66" y="0" font-family="'Liberation Sans', sans-serif" font-size="7.8" font-weight="bold" transform="scale(0.76 1)">10</text><text x="3.62" y="-4.3" font-family="'Liberation Sans', sans-serif" font-size="5.6" font-weight="bold" transform="scale(0.8 1)">3</text></g>
<g transform="translate(170.0 52.0) rotate(-90)"><text x="-5.66" y="0" font-family="'Liberation Sans', sans-serif" font-size="7.8" font-weight="bold" transform="scale(0.76 1)">10</text><text x="3.62" y="-4.3" font-family="'Liberation Sans', sans-serif" font-size="5.6" font-weight="bold" transform="scale(0.8 1)">4</text></g>
<text x="210.65" y="124.30" font-family="'Liberation Sans', sans-serif" font-size="6.8" font-weight="normal" text-anchor="middle" stroke="#000" stroke-width="0.25">11B</text>
<text transform="translate(160.20 81.00) rotate(-90)" font-family="'Liberation Sans', sans-serif" font-size="6.4" text-anchor="middle" stroke="#000" stroke-width="0.2">GFP</text>
<rect x="61.20" y="144.40" width="74.40" height="55.70" fill="none" stroke="#000" stroke-width="1.25"/>
<line x1="86.50" y1="144.40" x2="86.50" y2="200.10" stroke="#000" stroke-width="1"/>
<line x1="61.20" y1="187.10" x2="135.60" y2="187.10" stroke="#000" stroke-width="1"/>
<path d="M90.8 199.6l2.3-1 1.8 0 2-1.2 1 .4 2.8-.2-.1-2 .7-1-3.4-1.7-1 .4-1-.6-2 .1-2-.7-1 .3-1.9-1.7 1.3-2 2.2-1-.6-2.1 1-1.4 1.4-.5-.6-1 1.3-1 1.8-6 1.5-1-.2-1 .9-1.9-.8-2 .5-3-.7-1 .2-2-.7-1 0-1 .9-1-3-4 .9-1-.4-.9-2 .3-2-.9-1-1.9-2.1-.2-1-.6-1 .7-2-.5-4 1.7-1-.3-3 1.9-4.3 5.7-.9 2 .9 1-1.7 1.2-1.5 2.8 .4 .3 1.1-1.2 1-.3-.8 1.2 1 3-1.1 1 .2 4.9 .7 .6 1-.2 .1 1.6 1.3 1 .7 3 1.6 2-2.1 1 1.4 .3 3 2.5 .9 .2-.2 1 .8 1.9-1.5-.3-1 1.3-7 .7-1.9 2.3 0 1 .7 1 1.2 .1 1 1.1 1-1.3 2 1.2 2 0 1 .6 2-.6 1.7 .9 M83.4 199.6l1.6 0 M87.4 199.6l1 0 M67.7 195l-.6 .6 .6 1.2 .7-1.2-.7-.6 M72.8 180l-1.4 1.7 .3 1 1.1 .7 1-.1 .7-.6-1.7-2.7 M68.7 181.6l0 .4 0-.4 M83.2 161.8l6.7 1.8 .3 .2-.5 1 1.3 2-.9 3 .6 1-1.1 1 .3 2.9-.8 1 .7 1-2.7 2-.1 1-2.2 1.3-2.1-2.3-.9-3.8-1 .4-1.2-.6 1.1-2-.9-1.9 1.1-1-1.6-3 1.5-2 1-.2 .6-2.8 .8 0 M96.9 154.8l-.6 0 .6 0 M89.9 152.6l-1.1 .5-1-.5-1 .7-2-.7-1 .3 .7 .9-.7 .5-2-.4-1 .7-1-.7-3.6 2.9-.8 2-2 2-.4 1 .2 2-1 2 .4 1-.7 2 2 4.9-2.3 2 .2 .6 1.4 .4 .6 2.2 1-.3 1 1.3 .3 .8-.6 2 3.3 1.8 .1 1.2 1.1 1 .3 2 .8 1-.2 2.9-2.1-.2-1 .6-2 .1-3 2.5 2 2.6 3 .5 2-.4 3 1.1 6-.2 6.1-1.1 2-1.5 .4-1 0-1-1.4-1-5-.7-1-.8-1.1 .7-1-.2-.9-1 .9-.3 1.8-2.6 1.6-1 .6-3 2.9-4 1.3-5 1.2-1-.1-3.9-.9-1 1.5-2-1.3-8-1.5-1-.6-2-1.4-1.5-1.9-.5-.1-1.2-1-1 M69.7 195.9l0 .8 0-.8 M98.9 194.8l0 .9 0-.9 M71.8 194l-1.4 .6 .4 .8 1 0 .5-.8-.5-.6 M99.9 194.6l-.8 0 .8 0 M76.8 185.3l-.4 .4 .4 .5 .8-.5-.8-.4 M89.1 160.8l.7 2 1.2 1 .7 4-1.1 2 .8 1-1.1 1.9 .6 2.4-2.1 4.7-2 .5-2 1.5-1.4-1.1-2.1-4-1.5-.8-.9-1.2-.4-2.9 .7-1 0-2-.8-2 1.2-3 3-3 3.2 1.1 2-.6 1-1 .3 .5 M74.9 161.8l-.1 .5 .1-.5 M81.1 158.8l-1.4 0 .1-.5 1.3 .5 M86.2 157.8l-.5 1-1.4 0 1.9-1 M77.8 157.8l-.5 0-.5 2 .3 3-1.3-.6-2.5 2.6-.1 1 .7 1-1.5 2 2.4 4.9-2 2 2.8 2 0 1 1.1 2 .1 1.8 1-.6 2 2.7-.2 1.1 1.5 1-.1 2 1.2 1 1 1.9-1.4 2.1-6-.1-1.6 3 1.6 1.3 4-.1 3 1.1 1-.4 2 .4 5.1-.6 3-1.2 1 .2 1.5-1.7-.5-1.1-6-1.6-2.1 .4-2-1.7 1.7-.9-.4-1 1.7-.7 1.3-1.3-.1-1 2.2-4 1.8-2 .3-1-.4-.8-2 .4-1-.5-1.2 1.9-1.9 1.2-1-.8-1 1.6-3-.3-2-5.3-1 1.4-.7-.8-.7-4-1.7-2.9 .2-1 1.4-1-1-2 1-2-.2-1 2-1 .6-2-1.9-2.9-1-.1 M81.8 190.3l0 1.4 .9-1-.9-.4 M80.2 179.7l-.6 0 .2-.7 .4 .7 M88.8 154.8l-.9 1 1.8 1-1.5 2 2.7 2.9 .7 4.1 .8 1 .1 2 .9 2-2.4 1.9 1.9 1-1.5 1-.3 1 .8 1.8 3.9-2.8 .3-2.9-1.4-2 1.4-2-.7-1 1.3-1-.1-1-1.3-1 .8-1-2.2-4.5-1 .6-4.1-4.1 M94.7 163.8l-.8 .4-.9-.4 .9-.4 .8 .4 M75.8 159.7l-.5 1.1 .5 .6 .9-1.6-.9-.1 M85.8 160.6l-.4 .2 .9 0-.5-.2 M82.8 159l-1-.1-.9 .9 .9 .8 1-.5 .5-.3-.5-.8 M85.8 155.7l-4 .6-2-.8-.7 .3-.1 1 .8 .7 4 .5 2.2-1.2-.2-1.1 M84.8 191.8l-1 .2-.8 1.6-1.2 .6-6 .1-.8 2.3 .8 .8 3-.6 2 1.2 3-.4 2 .8 5.1-.6 4.1-2.2-1.1-1.1-2 .1-2-1.1-2.1 .6-1-1.2-1 .1-1-1.2 M90.9 180.3l-4.1 4.8-1-.9-3-.5-1-.8-1-.1-.6 .9 .6 1.3 1.7 .7 .5 1-.2 .6-1 0-.1 1.4 1.1 .7 1-.1 1 2.1 1-2.5 3-1.1-.4-1.1 2.3-2 .5-1-.2-1 .8-1-.2-1-.7-.4 M80.8 180.1l-1.8 .6 .8 2.5 1.6-1.5-.6-1.6 M75.8 172.2l-.5 3.5-.7 1 1.2 .1 .7 .9-.2 1 1.4 1 0 1 .5 0-.4-3-1.7-2 .9-2-1.2-1.5 M94.9 174.5l-2-.2-1.4 1.4 .4 .7 1-.3 2-1.6 M74.8 168.5l-1-.4-.7 .7 1.7 3.5 .8-.5 .7-2-1.5-1.3 M94.9 171.5l-1.2 .3 1.2 .3 0-.6 M92.9 164.6l-.4 .2 1.4 4.4 .5-.4 .1-2 .9-1-.5-.7-2-.5 M74.8 165.4l0 1.5 .5-1.1-.5-.4 M92.9 160.5l-1 1.5 2.1-.2-1.1-1.3 M89.9 158.5l-.5 .3 .5 1.1 .5-1.1-.5-.3 M86.8 193.5l-2 .7-1-.5-3 1.2-1 .7 .3 1 .7 .7 2-.1 1-1.1 1 1.4 1.6 .1 3.5-1 1.2-2-1.2-.5-2.1 .8-.7-.3-.3-1.1 M75.8 196l0 .8 .3-.2-.3-.6 M77.8 194.6l-.5 1 .5 .4 .7-.4-.7-1 M85.8 185.1l-1.9 1.6 .9 1 2.4-1-1.4-1.6 M89.9 183.3l-1.1 1.6 1.3-.2-.2-1.4" fill="none" stroke="#000" stroke-width="0.9" stroke-linejoin="round"/>
<path d="M68.6 182.3h1.0v1.0h-1.0zM90.1 150.6h1.0v1.0h-1.0zM65.2 170.2h1.0v1.0h-1.0zM78.8 151.4h1.0v1.0h-1.0zM78.7 184.5h1.0v1.0h-1.0zM70.3 181.2h1.0v1.0h-1.0zM80.9 173.6h1.0v1.0h-1.0zM80.6 190.0h1.0v1.0h-1.0zM88.2 177.0h1.0v1.0h-1.0zM72.8 192.5h1.0v1.0h-1.0zM101.1 196.6h1.0v1.0h-1.0zM73.5 182.2h1.0v1.0h-1.0zM78.1 186.1h1.0v1.0h-1.0zM91.0 191.6h1.0v1.0h-1.0zM78.6 154.0h1.0v1.0h-1.0zM89.2 177.7h1.0v1.0h-1.0zM76.4 155.1h1.0v1.0h-1.0zM72.2 182.3h1.0v1.0h-1.0zM89.8 175.6h1.0v1.0h-1.0zM77.9 172.0h1.0v1.0h-1.0zM88.2 169.9h1.0v1.0h-1.0zM89.3 199.4h1.0v1.0h-1.0zM71.4 171.3h1.0v1.0h-1.0zM103.3 197.7h1.0v1.0h-1.0zM80.4 191.8h1.0v1.0h-1.0zM90.7 164.3h1.0v1.0h-1.0zM70.0 173.8h1.0v1.0h-1.0zM83.9 181.6h1.0v1.0h-1.0zM88.4 152.6h1.0v1.0h-1.0zM96.3 192.2h1.0v1.0h-1.0zM84.2 160.9h1.0v1.0h-1.0zM67.6 194.6h1.0v1.0h-1.0zM81.7 153.3h1.0v1.0h-1.0zM84.1 165.7h1.0v1.0h-1.0zM74.8 181.4h1.0v1.0h-1.0zM78.6 198.1h1.0v1.0h-1.0zM75.0 156.8h1.0v1.0h-1.0zM93.8 183.4h1.0v1.0h-1.0zM97.3 163.6h1.0v1.0h-1.0zM82.3 152.2h1.0v1.0h-1.0zM103.2 195.3h1.0v1.0h-1.0zM72.9 182.9h1.0v1.0h-1.0zM89.8 172.7h1.0v1.0h-1.0zM78.9 163.9h1.0v1.0h-1.0zM74.4 186.2h1.0v1.0h-1.0zM85.7 151.0h1.0v1.0h-1.0zM86.6 154.6h1.0v1.0h-1.0zM89.0 191.3h1.0v1.0h-1.0zM88.0 192.4h1.0v1.0h-1.0zM63.0 181.4h1.0v1.0h-1.0zM69.6 179.1h1.0v1.0h-1.0zM96.0 168.1h1.0v1.0h-1.0zM94.6 156.5h1.0v1.0h-1.0zM79.2 190.1h1.0v1.0h-1.0zM71.5 167.1h1.0v1.0h-1.0zM79.5 170.8h1.0v1.0h-1.0zM73.0 158.6h1.0v1.0h-1.0zM71.7 165.8h1.0v1.0h-1.0zM92.0 197.6h1.0v1.0h-1.0zM72.0 197.4h1.0v1.0h-1.0zM87.5 148.8h1.0v1.0h-1.0zM85.7 180.3h1.0v1.0h-1.0zM99.0 195.2h1.0v1.0h-1.0zM72.9 193.5h1.0v1.0h-1.0zM97.6 173.8h1.0v1.0h-1.0zM86.8 162.4h1.0v1.0h-1.0zM91.7 187.6h1.0v1.0h-1.0zM72.4 170.2h1.0v1.0h-1.0zM79.1 153.6h1.0v1.0h-1.0zM72.6 198.3h1.0v1.0h-1.0zM71.1 168.5h1.0v1.0h-1.0zM98.2 168.8h1.0v1.0h-1.0zM99.3 196.7h1.0v1.0h-1.0zM81.0 162.1h1.0v1.0h-1.0zM79.1 167.8h1.0v1.0h-1.0zM79.1 171.6h1.0v1.0h-1.0zM103.0 194.6h1.0v1.0h-1.0zM104.8 194.9h1.0v1.0h-1.0zM81.2 174.3h1.0v1.0h-1.0zM97.0 160.6h1.0v1.0h-1.0zM99.9 195.7h1.0v1.0h-1.0zM83.6 150.3h1.0v1.0h-1.0zM70.9 174.0h1.0v1.0h-1.0zM97.7 167.6h1.0v1.0h-1.0zM75.1 185.1h1.0v1.0h-1.0zM69.7 195.2h1.0v1.0h-1.0zM92.6 154.1h1.0v1.0h-1.0zM97.1 171.8h1.0v1.0h-1.0zM80.5 189.3h1.0v1.0h-1.0zM74.5 177.9h1.0v1.0h-1.0zM72.7 179.8h1.0v1.0h-1.0zM78.9 163.1h1.0v1.0h-1.0zM68.1 183.2h1.0v1.0h-1.0zM80.0 152.9h1.0v1.0h-1.0zM99.0 195.1h1.0v1.0h-1.0zM98.5 164.9h1.0v1.0h-1.0zM83.1 179.9h1.0v1.0h-1.0zM71.5 176.7h1.0v1.0h-1.0zM85.5 178.6h1.0v1.0h-1.0zM90.9 192.0h1.0v1.0h-1.0zM81.6 150.0h1.0v1.0h-1.0zM63.4 173.5h1.0v1.0h-1.0zM81.7 164.3h1.0v1.0h-1.0zM79.8 162.3h1.0v1.0h-1.0zM69.5 159.9h1.0v1.0h-1.0zM80.2 192.4h1.0v1.0h-1.0zM85.9 152.8h1.0v1.0h-1.0zM70.9 170.8h1.0v1.0h-1.0zM96.6 161.7h1.0v1.0h-1.0zM97.2 168.2h1.0v1.0h-1.0zM96.4 159.9h1.0v1.0h-1.0zM76.7 191.5h1.0v1.0h-1.0zM95.4 154.7h1.0v1.0h-1.0zM71.6 191.9h1.0v1.0h-1.0zM69.5 172.5h1.0v1.0h-1.0zM81.9 199.1h1.0v1.0h-1.0zM90.2 150.5h1.0v1.0h-1.0zM69.8 197.4h1.0v1.0h-1.0zM88.2 161.8h1.0v1.0h-1.0zM74.8 156.3h1.0v1.0h-1.0zM101.7 194.0h1.0v1.0h-1.0zM87.3 179.5h1.0v1.0h-1.0zM86.9 178.0h1.0v1.0h-1.0zM67.5 178.8h1.0v1.0h-1.0zM72.1 162.1h1.0v1.0h-1.0zM72.2 162.0h1.0v1.0h-1.0zM96.2 154.7h1.0v1.0h-1.0zM63.7 194.0h1.0v1.0h-1.0zM95.4 178.7h1.0v1.0h-1.0zM98.0 160.7h1.0v1.0h-1.0zM99.8 196.7h1.0v1.0h-1.0zM75.1 183.1h1.0v1.0h-1.0zM85.7 199.2h1.0v1.0h-1.0zM73.6 181.7h1.0v1.0h-1.0zM68.1 163.5h1.0v1.0h-1.0zM95.3 191.8h1.0v1.0h-1.0zM98.2 166.5h1.0v1.0h-1.0zM88.8 162.3h1.0v1.0h-1.0zM71.0 176.6h1.0v1.0h-1.0zM71.6 190.2h1.0v1.0h-1.0zM86.5 161.4h1.0v1.0h-1.0zM71.1 182.8h1.0v1.0h-1.0zM100.0 193.4h1.0v1.0h-1.0zM66.8 193.9h1.0v1.0h-1.0zM97.0 167.1h1.0v1.0h-1.0zM88.3 190.8h1.0v1.0h-1.0zM79.9 190.3h1.0v1.0h-1.0zM71.3 172.7h1.0v1.0h-1.0zM82.9 173.6h1.0v1.0h-1.0zM79.7 189.0h1.0v1.0h-1.0zM105.3 196.6h1.0v1.0h-1.0zM95.4 177.7h1.0v1.0h-1.0zM66.0 186.4h1.0v1.0h-1.0zM70.6 167.8h1.0v1.0h-1.0zM96.9 164.3h1.0v1.0h-1.0zM87.2 179.2h1.0v1.0h-1.0zM87.6 151.1h1.0v1.0h-1.0zM71.8 190.9h1.0v1.0h-1.0zM72.4 174.5h1.0v1.0h-1.0zM96.5 155.9h1.0v1.0h-1.0zM97.4 192.8h1.0v1.0h-1.0zM81.8 161.4h1.0v1.0h-1.0zM86.9 192.2h1.0v1.0h-1.0zM83.7 179.0h1.0v1.0h-1.0zM67.3 197.8h1.0v1.0h-1.0zM85.6 176.2h1.0v1.0h-1.0zM102.6 197.6h1.0v1.0h-1.0zM71.4 194.8h1.0v1.0h-1.0zM87.3 162.4h1.0v1.0h-1.0zM71.6 173.2h1.0v1.0h-1.0zM70.6 163.1h1.0v1.0h-1.0zM91.9 189.9h1.0v1.0h-1.0zM79.8 169.3h1.0v1.0h-1.0zM93.0 153.9h1.0v1.0h-1.0zM66.4 195.3h1.0v1.0h-1.0zM80.3 175.1h1.0v1.0h-1.0zM71.6 164.6h1.0v1.0h-1.0zM71.6 162.2h1.0v1.0h-1.0zM72.5 179.6h1.0v1.0h-1.0zM71.2 182.6h1.0v1.0h-1.0zM69.5 165.8h1.0v1.0h-1.0zM72.5 170.8h1.0v1.0h-1.0zM70.7 192.9h1.0v1.0h-1.0zM78.1 172.2h1.0v1.0h-1.0zM69.0 173.5h1.0v1.0h-1.0zM103.4 193.1h1.0v1.0h-1.0zM92.7 188.3h1.0v1.0h-1.0zM92.3 192.0h1.0v1.0h-1.0zM94.0 183.2h1.0v1.0h-1.0zM82.1 162.3h1.0v1.0h-1.0zM96.6 196.4h1.0v1.0h-1.0zM71.2 172.3h1.0v1.0h-1.0zM83.2 152.6h1.0v1.0h-1.0zM69.6 181.6h1.0v1.0h-1.0zM72.0 194.0h1.0v1.0h-1.0zM97.0 194.0h1.0v1.0h-1.0zM84.1 170.7h1.0v1.0h-1.0zM98.2 171.7h1.0v1.0h-1.0zM72.6 170.1h1.0v1.0h-1.0zM81.4 152.1h1.0v1.0h-1.0zM71.1 173.5h1.0v1.0h-1.0zM68.9 177.6h1.0v1.0h-1.0zM96.3 168.0h1.0v1.0h-1.0zM98.1 159.5h1.0v1.0h-1.0zM80.2 163.1h1.0v1.0h-1.0zM71.5 162.6h1.0v1.0h-1.0zM73.9 180.4h1.0v1.0h-1.0zM77.4 186.5h1.0v1.0h-1.0zM90.4 167.6h1.0v1.0h-1.0zM73.0 190.1h1.0v1.0h-1.0zM83.7 152.7h1.0v1.0h-1.0zM100.2 196.9h1.0v1.0h-1.0zM68.4 193.7h1.0v1.0h-1.0zM96.8 158.9h1.0v1.0h-1.0zM101.6 195.0h1.0v1.0h-1.0zM72.7 181.1h1.0v1.0h-1.0zM75.9 185.8h1.0v1.0h-1.0zM73.8 185.6h1.0v1.0h-1.0zM68.0 167.2h1.0v1.0h-1.0zM71.4 196.1h1.0v1.0h-1.0z" fill="#000"/>
<path d="M58.20 200.10H61.20M61.20 200.10V203.10M59.20 195.91H61.20M66.80 200.10V202.10M59.20 193.46H61.20M70.07 200.10V202.10M59.20 191.72H61.20M72.40 200.10V202.10M59.20 190.37H61.20M74.20 200.10V202.10M59.20 189.26H61.20M75.67 200.10V202.10M59.20 188.33H61.20M76.92 200.10V202.10M59.20 187.52H61.20M78.00 200.10V202.10M59.20 186.81H61.20M78.95 200.10V202.10M58.20 186.18H61.20M79.80 200.10V203.10M59.20 181.98H61.20M85.40 200.10V202.10M59.20 179.53H61.20M88.67 200.10V202.10M59.20 177.79H61.20M91.00 200.10V202.10M59.20 176.44H61.20M92.80 200.10V202.10M59.20 175.34H61.20M94.27 200.10V202.10M59.20 174.41H61.20M95.52 200.10V202.10M59.20 173.60H61.20M96.60 200.10V202.10M59.20 172.89H61.20M97.55 200.10V202.10M58.20 172.25H61.20M98.40 200.10V203.10M59.20 168.06H61.20M104.00 200.10V202.10M59.20 165.61H61.20M107.27 200.10V202.10M59.20 163.87H61.20M109.60 200.10V202.10M59.20 162.52H61.20M111.40 200.10V202.10M59.20 161.41H61.20M112.87 200.10V202.10M59.20 160.48H61.20M114.12 200.10V202.10M59.20 159.67H61.20M115.20 200.10V202.10M59.20 158.96H61.20M116.15 200.10V202.10M58.20 158.33H61.20M117.00 200.10V203.10M59.20 154.13H61.20M122.60 200.10V202.10M59.20 151.68H61.20M125.87 200.10V202.10M59.20 149.94H61.20M128.20 200.10V202.10M59.20 148.59H61.20M130.00 200.10V202.10M59.20 147.49H61.20M131.47 200.10V202.10M59.20 146.56H61.20M132.72 200.10V202.10M59.20 145.75H61.20M133.80 200.10V202.10M59.20 145.04H61.20M134.75 200.10V202.10" stroke="#000" stroke-width="0.75" fill="none"/>
<g transform="translate(61.4 210.0)"><text x="-5.53" y="0" font-family="'Liberation Sans', sans-serif" font-size="7.4" font-weight="bold" transform="scale(0.76 1)">10</text><text x="3.25" y="-4.0" font-family="'Liberation Sans', sans-serif" font-size="5.6" font-weight="bold" transform="scale(0.8 1)">0</text></g>
<g transform="translate(79.4 210.0)"><text x="-5.53" y="0" font-family="'Liberation Sans', sans-serif" font-size="7.4" font-weight="bold" transform="scale(0.76 1)">10</text><text x="3.25" y="-4.0" font-family="'Liberation Sans', sans-serif" font-size="5.6" font-weight="bold" transform="scale(0.8 1)">1</text></g>
<g transform="translate(97.5 210.0)"><text x="-5.53" y="0" font-family="'Liberation Sans', sans-serif" font-size="7.4" font-weight="bold" transform="scale(0.76 1)">10</text><text x="3.25" y="-4.0" font-family="'Liberation Sans', sans-serif" font-size="5.6" font-weight="bold" transform="scale(0.8 1)">2</text></g>
<g transform="translate(115.5 210.0)"><text x="-5.53" y="0" font-family="'Liberation Sans', sans-serif" font-size="7.4" font-weight="bold" transform="scale(0.76 1)">10</text><text x="3.25" y="-4.0" font-family="'Liberation Sans', sans-serif" font-size="5.6" font-weight="bold" transform="scale(0.8 1)">3</text></g>
<g transform="translate(133.6 210.0)"><text x="-5.53" y="0" font-family="'Liberation Sans', sans-serif" font-size="7.4" font-weight="bold" transform="scale(0.76 1)">10</text><text x="3.25" y="-4.0" font-family="'Liberation Sans', sans-serif" font-size="5.6" font-weight="bold" transform="scale(0.8 1)">4</text></g>
<g transform="translate(55.8 200.1) rotate(-90)"><text x="-5.66" y="0" font-family="'Liberation Sans', sans-serif" font-size="7.8" font-weight="bold" transform="scale(0.76 1)">10</text><text x="3.62" y="-4.3" font-family="'Liberation Sans', sans-serif" font-size="5.6" font-weight="bold" transform="scale(0.8 1)">0</text></g>
<g transform="translate(55.8 186.2) rotate(-90)"><text x="-5.66" y="0" font-family="'Liberation Sans', sans-serif" font-size="7.8" font-weight="bold" transform="scale(0.76 1)">10</text><text x="3.62" y="-4.3" font-family="'Liberation Sans', sans-serif" font-size="5.6" font-weight="bold" transform="scale(0.8 1)">1</text></g>
<g transform="translate(55.8 172.2) rotate(-90)"><text x="-5.66" y="0" font-family="'Liberation Sans', sans-serif" font-size="7.8" font-weight="bold" transform="scale(0.76 1)">10</text><text x="3.62" y="-4.3" font-family="'Liberation Sans', sans-serif" font-size="5.6" font-weight="bold" transform="scale(0.8 1)">2</text></g>
<g transform="translate(55.8 158.3) rotate(-90)"><text x="-5.66" y="0" font-family="'Liberation Sans', sans-serif" font-size="7.8" font-weight="bold" transform="scale(0.76 1)">10</text><text x="3.62" y="-4.3" font-family="'Liberation Sans', sans-serif" font-size="5.6" font-weight="bold" transform="scale(0.8 1)">3</text></g>
<g transform="translate(55.8 144.4) rotate(-90)"><text x="-5.66" y="0" font-family="'Liberation Sans', sans-serif" font-size="7.8" font-weight="bold" transform="scale(0.76 1)">10</text><text x="3.62" y="-4.3" font-family="'Liberation Sans', sans-serif" font-size="5.6" font-weight="bold" transform="scale(0.8 1)">4</text></g>
<text x="96.40" y="216.40" font-family="'Liberation Sans', sans-serif" font-size="6.8" font-weight="normal" text-anchor="middle" stroke="#000" stroke-width="0.25">CD11B</text>
<text transform="translate(46.00 173.25) rotate(-90)" font-family="'Liberation Sans', sans-serif" font-size="6.4" text-anchor="middle" stroke="#000" stroke-width="0.2">GFP</text>
<text x="125.50" y="158.80" font-family="'Liberation Serif', serif" font-size="8.2" font-weight="normal" text-anchor="middle" >57</text>
<rect x="175.40" y="144.40" width="74.00" height="55.70" fill="none" stroke="#000" stroke-width="1.25"/>
<line x1="200.80" y1="144.40" x2="200.80" y2="200.10" stroke="#000" stroke-width="1"/>
<line x1="175.40" y1="187.10" x2="249.40" y2="187.10" stroke="#000" stroke-width="1"/>
<path d="M197.4 199.6l4.5-2.2 1-1.3 2 2 .5-.5 .3-2-.8-1 .9-1-.5-2-.4-.3-1 .4-3.3-1-.7-1.5-1 .9-.5-.4 1.1-1 .4-2.6 1.3 .6 0-1-2.3-1.5 0-1.3 2 .6 1.4-.8-1.4-2.4 1 .8 0-3.3 1 .8 .8-.9-.1-1 1.1-1 .9-3-.7-.8-1 1-1.2-.2 1.2 0 .7-.9-.7-3.2-.9 2.2-.6 0-1.5-2.2-2.7-.8 .7-1.1 2 0 2.2-1.9-1.2-1.4-1.4-.6 .2-1-.8-1.4-1-.6-1 .5-2-1.5 2-.6 1.4-1.4-1.4-1.4-1 1.9-3.2-.5-2.8-3.4-1 1.2-1-.1-1 2.3-1 .5-1-1.8-3 2.4-.7 .9-.3 2 .5 2-.5 .3-1.1-.3 .1-1.8 .5-.2-2.5-2.3-1.3 .3 .7 1-.2 5 .6 3-1.3 2 1.1 1-1.1 1 1.3 .9-.8 1.3-1-1.5-.4 1.2 .4 1.3 2 .4 .5 2.3 1.2 2-.6 3-1.8 2 .7 .6 3.4 .4-.1 2 .9 1 .8 2.6 2-2.4 .6 .8-1.6 2.5-2.7-.6-.3-1-2-.3-1.2 1.3 1.7 2-1.3 1 2.8 2.7 1-.7 1 1.2 2 .5 2-.8 1.4 2.1 M193.9 199.6l.1 0 M195.4 199.6l.5-.8 .5 .8 M207.3 199.6l-.4-1.4-1 .1-.3 .3 .8 1 M206.9 192.9l-.9 .7 .1 1 .8 .8 .8-.8-.8-1.7 M178.9 193.5l.5 .1-.5-.1 M212.9 193.5l-2.2 .1 1.2 .4 1-.5 M176.9 188.4l0 1.4 0-1.4 M180.9 189.5l0 .6 0-.6 M191.2 189.7l-1.3 .7 0-.9 1-.3 .3 .5 M180.9 186.1l-1.2 .6 1.2 1.4 .5-.4-.5-1.6 M202.9 185.5l-.9 2.2 .9 .8 .9-.8-.9-2.2 M177.9 184.8l-.6 .9 .6 .7 .8-.7-.8-.9 M175.9 184.8l0-.2 M191.1 183.7l1.1 1-.3 .4-1 .1-.9-1.5 1.1 0 M203.9 181.1l-.6 .6 .6 .6 .6-.6-.6-.6 M178.9 178.2l-2.1 .5 1.1 .5 1 1.6 .9-2.1-.9-.5 M203.9 177.8l-1 .9 1 .8 .8-.8-.8-.9 M202 176.7l-.1 .9 .1-.9 M181.3 169.8l-.4 1.5-1.2-1.5 1.6 0 M176.9 167.4l-.7 1.4 .7 .7 1-.7-1-1.4 M204.9 165.4l0 1.5 .4-1.1-.4-.4 M175.9 166.3l1.3-.5-1.3-1.4 M205.9 164.2l-.7 .6 .7 .7 .6-.7-.6-.6 M199.1 162.8l-.6 1-.8 0 1.4-1 M203.9 160.2l-.7 .6 .7 1.3 .7-1.3-.7-.6 M190.3 157.8l1 2-.4 .3-2.1-1.3 1.5-1 M201.9 157.6l-1.1 .2 1.1 .3 0-.5 M182.9 155.2l-.8 .6 .8 1.9 .7-.9 0-1-.7-.6 M201.9 155.7l-2.4 .1 1.4 .5 1-.6 M195.9 153.3l-1.3 .5 .4 1 1.9 .9 .8-.9-1.8-1.5 M188.9 152.1l-.7 .8 .7 .7 .6-.7-.6-.8 M197.9 151.2l-1.4 .7 .4 1.8 1.7-1.8-.7-.7 M183.9 150.8l0 1.2 0-1.2 M187.9 151.6l-1.2 .3 1.2 .4 .4-.4-.4-.3 M200.9 147.8l0 1.2 0-1.2 M192.8 144.9l.2 0 M193.2 199.6l.7-.9 1 .3 1-.9 2 .6 4-1.9 1.8-2.2-.5-1 1.7-.4 .3-.6-4.3-1.2-1 1-1-.5-1.1-1.2 .1-3-1-1-1 3.1-2.2-.1-.2-1 .7-1-1.3-1.6-2.8 1.6 1.7 2-.5 1-2.2 0-.1-1-1.3-2 .2-.7 2 .5 .7-.8-1.7-2.8 0-1.2 1 .6 1-.4 1 .9 2 .3 2 2.2 1 .4 .5-1-2.4-2 .8-1-.2-1 .3-.5 1 .3 1-.5 1-2.5 .1 1.2 .9 .8 1.6-2.8-.9-1-.2-2-.8-1 1.3 0 1-1.5 1.6-.4-2.6-.5-.1-1.5-.9-.8-2-.5-.2-.7 1.1-2-.9-1-1.4 0 1.1-2 0-1-1.8-2-.7-2-1.2-.4-.8 .4-.1 1-2.1 2.1-2.9-2.1 .7-1-.8-.3-1.9 1.3 .9 1.2 0 .9-1.7-.1 .1-1-1.4-1.4-1 .3 .1 1.1-.6 1 .5 .9 1-.3 .5 1.4-.5 .8-3 .1-.9 1.1 .1 2-.9 1 .1 1 1.6 .6 1-.3 .6 .7-.6 1.5-1.8 1.4-.2 1 1.2 1-.2 .6-1.2 .4 .2 1 1.2 1-.5 1 .7 1-.3 1 .9 .7 2.1 .3-1.1 .1-.8 .9 1.1 1-.3 .7-1.3-.7-.7-1.6-.8 1.6 .3 1 1.5 .5 1-.4 .5 .9-.5 1.1 3.9 1.9 1.5 2-1.4 .2-2 2.3-1-.9-2-.3-.7 .6 .7 1.7 1-1 1.1 3.3 1.9 1.2 2-.7 2 2.4 2-.9 .6 1 M204.9 195.4l-.6 1.2 .6 .5 0-1.7 M179.9 194.5l.4 .1-.4-.1 M206.9 193.5l0 1.3 0-1.3 M183.9 189l0 1.1 .6-.4-.6-.7 M202.9 186.9l-.4 .8 .4 .4 .4-.4-.4-.8 M194.9 186.4l-.3 .3 .3-.3 M198.9 185.1l-.6 .6 .6 .8 .6-.8-.6-.6 M197.9 182.3l-1.2 .4-.5 1 .7 .9 1-.1 .5-.8-.5-1.4 M200.9 182l-.6 .7 .6 .2 .4-.2-.4-.7 M185.1 178.7l-.2 1.2 0-2 .2 .8 M203.9 178.3l-.4 .4 .4 .4 0-.8 M196 175.7l-1.1 .7-.3-.7 .3-.3 1.1 .3 M203.9 174.4l-1 1.2-1.2 .1 2.2 .3 0-1.6 M204.9 172.6l0 1.4 0-1.4 M178.9 171.1l-.7 .7 .7 .5 1-.5-1-.7 M199.9 164l-.8 .8 .3 1 1.5 .2-.1-1.2-.9-.8 M178.9 164.1l0 1 .4-.3-.4-.7 M179.9 161.4l-1 .2 0 2.1 1.4-.9-.4-1.4 M190.1 162.8l-.7 0 .7 0 M199.9 161.4l-.6 .4 .6 .5 0-.9 M185.9 156.4l-.6 .4 .6 .9 0-1.3 M188.9 156.1l-.4 .7 .4 .9 .8-.9-.8-.7 M190.9 154.3l-1.6 1.5 .6 .7 1 .1 1-.8-1-1.5 M196.9 189.4l-1 1.4-2-.4-1 .5-4 .2-2 .6-1.4 1.9 .5 2 1.9 .9 2 2.1 2-.8 3 .5 1-.8 1 0 1 .5 3-1.1 1.3-1.3 .2-2-.5-.6-2 .4-2.6-2.7-.4-1.3 M185.9 195.7l-.5 .9 .5 .3 .6-.3-.6-.9 M183.9 193l-.4 1.6 .4 .7 .5-1.7-.5-.6 M187.9 189.2l0 .8 .4-.3-.4-.5 M186.9 187.1l-.9 .6 .9 .2 0-.8 M191.9 187.4l-.5 .3 .5 .9 0-1.2 M183.9 186l-.4 .7 .4 .3 .5-.3-.5-.7 M194.9 158.7l-1-.4-1.9 2.5-1.7 1 .4 1-.8 1.2-1.2-.2-.4-1 1.9-2-2.3-.5-1 1.3-2-.1 .4 1.3-1.4 1.4-2 .5-1-.5-.5 .6 .4 2-1.1 1 1.2 1.1 1.1-1.1-.4-1 1.3-1.7 1 .2 1.8 1.5-1.6 1 1.6 1-2.6 2-.2 1.2-2 .4-.4 1.3 1.8 2 2.6 1.4 .9 1.6 .4 1-2.3 .8 .4-1.8-.4-1.1-1.9 .1-.5 1 .5 1-.3 1 2.2 0 .8 1-.8 .8-1.3 .2 2.5 1-.8 1 .6 .7 2-1.1 1 .3 .5-.9-.8-2-.1-2 .4-.3 2-.4 .5 .7-.5 1.7-1-1.4-.8 .7 .4 1 1.4 1 1-.6 1 1.1 .7-.5 .3-2.3 1 .2 1-1.9-1-3 1-1 1.3 0 .1-1 1.2-1-1-.9 .4-1 .3 1 1.7 1.3 1.7-.4-1.7-1.9 1.4-1-2.8-1-.3-1 1.2-2-.5-.5-1 .3-1 1.2-.9-1 .2-1 1.3-1-1.3-1-.3-1.5-1.4-.5 1.4-.2 .4-.8-.4-1.1 M196.9 183.5l.6 .2-.6-.2 M194.9 181.5l-.6 1.2 .6 .6 .5-.6-.5-1.2 M195.9 177l-.7 .7 0 1 1 2 .7 .4 .6-.4 0-1-1.2-1 .4-1-.8-.7 M199.9 178.1l0 1.2 .4-.6-.4-.6 M191.9 176.7l-1 1.3-.5-.3 .5-1.1 1 .1 M197.9 173.1l-1.9 3.6 1.9 1.6 1-1.5 1 0 .4-1.1-2.4-2.6 M183.1 173.7l-.5 0 .5 0 M187.4 166.8l0 1-.5 .2-1-1.2 1-1 .5 1 M194.1 167.8l-.2 .5-.3-.5 .5 0 M182.9 166.6l-.8 .2 .8 .3 0-.5 M199.9 164.5l0 .7 0-.7 M193.5 163.8l-1.2 0 1.2 0 M196.9 162.3l-.7 .5 .7 .4 0-.9 M195.9 160.7l-.4 .1 .4-.1 M183.9 159.6l0 .6 0-.6 M190.9 155.5l0 .5 0-.5 M196.9 190.8l-3 .4-2 .9-1 1.5-2 0 1.3-1-1.3-.8-1.9 .8-.6 1 .5 1.3 3 3.1 1-.7 4 .6 1-1 2 0 3-1.1-.4-1.2-2.8-2 0-1-.8-.8 M185.9 180.9l-.5 .8 .2 1 1.1 1 1.2 .1-2-2.9 M191.9 180.5l-.7 .2 .7 .5 0-.7 M182.9 178.6l0 .5 0-.5 M190.9 163.4l-.8 1.4 1 1-2.9 2 .6 1-1.9-.1-3.2 2.1 1.2 .9 2-1.6 1.1 1.7-1 .9 1.2 1-.9 0-.4-.8-2.9 1.8 1.9 3.1 3 1.1 1.6-2.2 .4-1.7 0 .7 1.7 1-.4 1-1.5 1 .2 .5 3 0 .4-.5-1.6-4 1.2 .3 2.1-2.3-.6-.9 1.1-4-2.8-3-1.8-.4-1-1 M196.9 176.1l0 1 .7-.4-.7-.6 M197.9 174.2l-.8 1.5 .8 .9 1.7-.9-1.7-1.5 M190.1 169.8l-.2 .4-.7-.4 .7-.6 .2 .6 M197.9 169.6l-1-.8-.6 1 1.6 .5 .4-.5-.4-.2 M194.5 167.8l0 1-1.8 0 .2-1.3 1-.5 .6 .8 M188.9 164.6l-1-.6-1.4 .8 1.4 1.5 1-.2 .5-1.3-.5-.2 M184.9 163.7l-.7 1.1 .7 .5 .7-.5-.7-1.1 M191.9 161.3l-.6 .5 .6 .7 .6-.7-.6-.5 M196.9 191.3l-.7 .3 .7 1-1.3 0-.7-1.1-4 2.7-2-.3-1.4 .7 2.4 2.7 1-.8 2 .1 1-1.1 2 .9 4-.5 .4-.3-1.4-1.8-2-1.2 0-1.3 M192.9 178.3l-1.3 .4 1.7 0-.4-.4 M187.9 174.5l-2-.2-.7 .4 .7 1.6 3 1.8 1.5-2.4-.5-.7-1 .9-.8-.2 .3-1-.5-.2 M188.9 171.1l-.7 1.6 .7 1 1 .6 1.5-.6-2.5-2.6 M193.9 172.4l-1-.2 0 1.3 1 .2 0-1.3 M191.9 166.8l-1.6 2 .2 2 1.4 .5 1-1.1 1 .9 1.1-1.3-2.1-.1-1-.9 .5-1-.5-1 M187.9 169.3l-.5 .5 .5 .5 .5-.5-.5-.5 M188.9 167.6l.6 .2-.6-.2 M192.9 165.1l-.5 .7 .5 .6 .5-.6-.5-.7" fill="none" stroke="#000" stroke-width="0.9" stroke-linejoin="round"/>
<path d="M182.8 156.6h1.0v1.0h-1.0zM193.5 150.0h1.0v1.0h-1.0zM184.1 156.1h1.0v1.0h-1.0zM179.8 186.3h1.0v1.0h-1.0zM192.3 144.4h1.0v1.0h-1.0zM204.2 156.1h1.0v1.0h-1.0zM206.0 176.1h1.0v1.0h-1.0zM190.9 184.9h1.0v1.0h-1.0zM194.5 187.8h1.0v1.0h-1.0zM181.0 194.0h1.0v1.0h-1.0zM198.4 198.4h1.0v1.0h-1.0zM176.9 182.9h1.0v1.0h-1.0zM188.6 145.6h1.0v1.0h-1.0zM182.1 194.6h1.0v1.0h-1.0zM187.8 151.1h1.0v1.0h-1.0zM205.7 186.8h1.0v1.0h-1.0zM178.1 184.2h1.0v1.0h-1.0zM193.6 185.5h1.0v1.0h-1.0zM196.3 158.9h1.0v1.0h-1.0zM183.4 195.8h1.0v1.0h-1.0zM202.2 191.2h1.0v1.0h-1.0zM196.1 199.3h1.0v1.0h-1.0zM182.6 155.4h1.0v1.0h-1.0zM183.2 151.0h1.0v1.0h-1.0zM193.8 189.1h1.0v1.0h-1.0zM205.9 182.6h1.0v1.0h-1.0zM180.2 191.4h1.0v1.0h-1.0zM178.3 192.8h1.0v1.0h-1.0zM198.6 188.1h1.0v1.0h-1.0zM185.1 157.5h1.0v1.0h-1.0zM178.1 163.8h1.0v1.0h-1.0zM198.1 178.9h1.0v1.0h-1.0zM196.9 161.1h1.0v1.0h-1.0zM195.0 157.7h1.0v1.0h-1.0zM205.4 164.6h1.0v1.0h-1.0zM178.4 160.6h1.0v1.0h-1.0zM196.5 186.4h1.0v1.0h-1.0zM201.1 155.3h1.0v1.0h-1.0zM196.9 157.7h1.0v1.0h-1.0zM176.8 160.6h1.0v1.0h-1.0zM183.8 189.8h1.0v1.0h-1.0zM204.8 193.0h1.0v1.0h-1.0zM189.6 198.7h1.0v1.0h-1.0zM190.9 157.6h1.0v1.0h-1.0zM180.9 186.5h1.0v1.0h-1.0zM177.3 185.0h1.0v1.0h-1.0zM200.8 168.2h1.0v1.0h-1.0zM181.7 196.4h1.0v1.0h-1.0zM176.8 189.6h1.0v1.0h-1.0zM203.3 160.5h1.0v1.0h-1.0zM186.3 151.5h1.0v1.0h-1.0zM176.2 165.7h1.0v1.0h-1.0zM197.4 164.7h1.0v1.0h-1.0zM188.2 152.3h1.0v1.0h-1.0zM189.5 156.0h1.0v1.0h-1.0zM184.3 187.2h1.0v1.0h-1.0zM183.7 197.0h1.0v1.0h-1.0zM212.1 193.4h1.0v1.0h-1.0zM179.9 191.7h1.0v1.0h-1.0zM176.4 153.0h1.0v1.0h-1.0zM177.6 158.0h1.0v1.0h-1.0zM185.4 152.0h1.0v1.0h-1.0zM198.6 168.0h1.0v1.0h-1.0zM203.1 160.8h1.0v1.0h-1.0zM186.4 190.4h1.0v1.0h-1.0zM204.7 165.2h1.0v1.0h-1.0zM201.1 156.9h1.0v1.0h-1.0zM191.5 197.9h1.0v1.0h-1.0zM201.3 190.8h1.0v1.0h-1.0zM199.0 184.5h1.0v1.0h-1.0zM189.2 184.4h1.0v1.0h-1.0zM203.0 170.8h1.0v1.0h-1.0zM203.6 180.8h1.0v1.0h-1.0zM196.3 198.5h1.0v1.0h-1.0zM180.4 180.9h1.0v1.0h-1.0zM199.6 155.2h1.0v1.0h-1.0zM200.7 186.1h1.0v1.0h-1.0zM183.8 150.7h1.0v1.0h-1.0zM202.4 176.4h1.0v1.0h-1.0zM202.7 164.5h1.0v1.0h-1.0zM198.3 155.9h1.0v1.0h-1.0zM198.0 147.8h1.0v1.0h-1.0zM210.6 193.4h1.0v1.0h-1.0zM196.7 157.0h1.0v1.0h-1.0zM176.4 174.2h1.0v1.0h-1.0zM206.2 160.7h1.0v1.0h-1.0zM205.9 199.4h1.0v1.0h-1.0zM178.5 169.2h1.0v1.0h-1.0zM200.3 163.0h1.0v1.0h-1.0zM179.0 190.6h1.0v1.0h-1.0zM198.7 180.9h1.0v1.0h-1.0zM184.8 189.5h1.0v1.0h-1.0zM211.2 193.5h1.0v1.0h-1.0zM188.6 155.8h1.0v1.0h-1.0zM181.7 152.0h1.0v1.0h-1.0zM192.0 151.7h1.0v1.0h-1.0zM202.4 185.5h1.0v1.0h-1.0zM207.4 191.2h1.0v1.0h-1.0zM202.9 193.8h1.0v1.0h-1.0zM178.0 178.3h1.0v1.0h-1.0zM176.1 172.9h1.0v1.0h-1.0zM201.7 178.7h1.0v1.0h-1.0zM201.8 169.4h1.0v1.0h-1.0zM180.5 155.6h1.0v1.0h-1.0zM197.0 184.3h1.0v1.0h-1.0zM175.9 184.1h1.0v1.0h-1.0zM178.8 180.0h1.0v1.0h-1.0zM180.4 186.9h1.0v1.0h-1.0zM178.9 170.5h1.0v1.0h-1.0zM201.1 198.2h1.0v1.0h-1.0zM197.6 155.6h1.0v1.0h-1.0zM177.7 177.8h1.0v1.0h-1.0zM182.9 155.1h1.0v1.0h-1.0zM199.1 160.6h1.0v1.0h-1.0zM214.3 159.3h1.0v1.0h-1.0zM192.6 183.7h1.0v1.0h-1.0zM199.0 180.9h1.0v1.0h-1.0zM183.8 147.3h1.0v1.0h-1.0zM191.7 152.1h1.0v1.0h-1.0zM197.7 188.2h1.0v1.0h-1.0zM202.0 152.9h1.0v1.0h-1.0zM209.2 158.9h1.0v1.0h-1.0zM183.6 187.8h1.0v1.0h-1.0zM175.3 164.2h1.0v1.0h-1.0zM201.3 164.6h1.0v1.0h-1.0zM176.0 177.8h1.0v1.0h-1.0zM179.9 177.4h1.0v1.0h-1.0zM184.5 188.6h1.0v1.0h-1.0zM204.3 191.3h1.0v1.0h-1.0zM201.5 172.8h1.0v1.0h-1.0zM191.1 148.3h1.0v1.0h-1.0zM198.3 161.2h1.0v1.0h-1.0zM195.6 187.4h1.0v1.0h-1.0zM205.2 197.8h1.0v1.0h-1.0zM190.3 199.0h1.0v1.0h-1.0zM203.8 168.5h1.0v1.0h-1.0zM178.8 172.8h1.0v1.0h-1.0zM179.4 182.8h1.0v1.0h-1.0zM179.2 159.0h1.0v1.0h-1.0zM204.4 197.5h1.0v1.0h-1.0zM208.1 174.9h1.0v1.0h-1.0zM185.9 159.6h1.0v1.0h-1.0zM205.5 164.2h1.0v1.0h-1.0zM200.1 188.5h1.0v1.0h-1.0zM191.9 155.2h1.0v1.0h-1.0zM206.4 198.0h1.0v1.0h-1.0zM200.3 184.8h1.0v1.0h-1.0zM181.2 170.0h1.0v1.0h-1.0zM193.4 154.7h1.0v1.0h-1.0zM182.0 161.9h1.0v1.0h-1.0zM184.0 157.1h1.0v1.0h-1.0zM192.2 157.1h1.0v1.0h-1.0zM195.4 189.6h1.0v1.0h-1.0zM180.8 188.9h1.0v1.0h-1.0zM181.6 190.4h1.0v1.0h-1.0zM200.2 147.6h1.0v1.0h-1.0zM182.7 187.6h1.0v1.0h-1.0zM203.1 193.2h1.0v1.0h-1.0zM200.1 174.1h1.0v1.0h-1.0zM201.7 163.7h1.0v1.0h-1.0zM194.0 153.8h1.0v1.0h-1.0zM177.5 184.9h1.0v1.0h-1.0zM203.3 169.6h1.0v1.0h-1.0zM194.2 148.5h1.0v1.0h-1.0zM177.1 171.5h1.0v1.0h-1.0zM198.5 186.5h1.0v1.0h-1.0zM199.4 166.7h1.0v1.0h-1.0zM196.3 152.2h1.0v1.0h-1.0zM176.8 188.4h1.0v1.0h-1.0zM199.9 189.9h1.0v1.0h-1.0zM204.3 185.0h1.0v1.0h-1.0zM176.8 157.2h1.0v1.0h-1.0zM177.2 196.1h1.0v1.0h-1.0zM180.1 160.4h1.0v1.0h-1.0zM207.6 197.1h1.0v1.0h-1.0zM188.9 187.0h1.0v1.0h-1.0zM199.6 162.4h1.0v1.0h-1.0zM200.2 148.0h1.0v1.0h-1.0zM179.9 184.6h1.0v1.0h-1.0zM185.6 155.7h1.0v1.0h-1.0zM199.8 182.1h1.0v1.0h-1.0zM178.0 165.3h1.0v1.0h-1.0zM204.4 166.5h1.0v1.0h-1.0zM177.7 174.7h1.0v1.0h-1.0zM198.5 158.8h1.0v1.0h-1.0zM195.6 154.5h1.0v1.0h-1.0zM200.4 181.1h1.0v1.0h-1.0zM195.0 153.5h1.0v1.0h-1.0zM199.5 188.9h1.0v1.0h-1.0zM203.4 196.5h1.0v1.0h-1.0zM176.2 167.5h1.0v1.0h-1.0zM190.1 184.9h1.0v1.0h-1.0zM202.9 171.0h1.0v1.0h-1.0zM179.8 191.4h1.0v1.0h-1.0zM180.6 194.9h1.0v1.0h-1.0zM178.7 167.9h1.0v1.0h-1.0zM201.2 180.7h1.0v1.0h-1.0zM192.5 156.4h1.0v1.0h-1.0zM176.8 172.3h1.0v1.0h-1.0zM202.8 186.1h1.0v1.0h-1.0zM178.9 171.6h1.0v1.0h-1.0zM177.9 166.4h1.0v1.0h-1.0zM194.9 155.0h1.0v1.0h-1.0zM196.9 160.3h1.0v1.0h-1.0zM202.5 176.8h1.0v1.0h-1.0zM182.5 160.9h1.0v1.0h-1.0zM189.9 159.0h1.0v1.0h-1.0zM194.2 198.7h1.0v1.0h-1.0zM198.3 190.2h1.0v1.0h-1.0zM200.4 172.9h1.0v1.0h-1.0zM188.3 152.8h1.0v1.0h-1.0zM191.6 156.1h1.0v1.0h-1.0zM200.2 170.7h1.0v1.0h-1.0zM191.5 158.5h1.0v1.0h-1.0zM203.0 160.9h1.0v1.0h-1.0zM200.0 156.8h1.0v1.0h-1.0zM199.6 180.2h1.0v1.0h-1.0zM183.1 157.0h1.0v1.0h-1.0zM181.8 163.4h1.0v1.0h-1.0zM209.4 194.3h1.0v1.0h-1.0z" fill="#000"/>
<path d="M172.40 200.10H175.40M175.40 200.10V203.10M173.40 195.91H175.40M180.97 200.10V202.10M173.40 193.46H175.40M184.23 200.10V202.10M173.40 191.72H175.40M186.54 200.10V202.10M173.40 190.37H175.40M188.33 200.10V202.10M173.40 189.26H175.40M189.80 200.10V202.10M173.40 188.33H175.40M191.03 200.10V202.10M173.40 187.52H175.40M192.11 200.10V202.10M173.40 186.81H175.40M193.05 200.10V202.10M172.40 186.18H175.40M193.90 200.10V203.10M173.40 181.98H175.40M199.47 200.10V202.10M173.40 179.53H175.40M202.73 200.10V202.10M173.40 177.79H175.40M205.04 200.10V202.10M173.40 176.44H175.40M206.83 200.10V202.10M173.40 175.34H175.40M208.30 200.10V202.10M173.40 174.41H175.40M209.53 200.10V202.10M173.40 173.60H175.40M210.61 200.10V202.10M173.40 172.89H175.40M211.55 200.10V202.10M172.40 172.25H175.40M212.40 200.10V203.10M173.40 168.06H175.40M217.97 200.10V202.10M173.40 165.61H175.40M221.23 200.10V202.10M173.40 163.87H175.40M223.54 200.10V202.10M173.40 162.52H175.40M225.33 200.10V202.10M173.40 161.41H175.40M226.80 200.10V202.10M173.40 160.48H175.40M228.03 200.10V202.10M173.40 159.67H175.40M229.11 200.10V202.10M173.40 158.96H175.40M230.05 200.10V202.10M172.40 158.33H175.40M230.90 200.10V203.10M173.40 154.13H175.40M236.47 200.10V202.10M173.40 151.68H175.40M239.73 200.10V202.10M173.40 149.94H175.40M242.04 200.10V202.10M173.40 148.59H175.40M243.83 200.10V202.10M173.40 147.49H175.40M245.30 200.10V202.10M173.40 146.56H175.40M246.53 200.10V202.10M173.40 145.75H175.40M247.61 200.10V202.10M173.40 145.04H175.40M248.55 200.10V202.10" stroke="#000" stroke-width="0.75" fill="none"/>
<g transform="translate(175.6 210.0)"><text x="-5.53" y="0" font-family="'Liberation Sans', sans-serif" font-size="7.4" font-weight="bold" transform="scale(0.76 1)">10</text><text x="3.25" y="-4.0" font-family="'Liberation Sans', sans-serif" font-size="5.6" font-weight="bold" transform="scale(0.8 1)">0</text></g>
<g transform="translate(193.5 210.0)"><text x="-5.53" y="0" font-family="'Liberation Sans', sans-serif" font-size="7.4" font-weight="bold" transform="scale(0.76 1)">10</text><text x="3.25" y="-4.0" font-family="'Liberation Sans', sans-serif" font-size="5.6" font-weight="bold" transform="scale(0.8 1)">1</text></g>
<g transform="translate(211.5 210.0)"><text x="-5.53" y="0" font-family="'Liberation Sans', sans-serif" font-size="7.4" font-weight="bold" transform="scale(0.76 1)">10</text><text x="3.25" y="-4.0" font-family="'Liberation Sans', sans-serif" font-size="5.6" font-weight="bold" transform="scale(0.8 1)">2</text></g>
<g transform="translate(229.4 210.0)"><text x="-5.53" y="0" font-family="'Liberation Sans', sans-serif" font-size="7.4" font-weight="bold" transform="scale(0.76 1)">10</text><text x="3.25" y="-4.0" font-family="'Liberation Sans', sans-serif" font-size="5.6" font-weight="bold" transform="scale(0.8 1)">3</text></g>
<g transform="translate(247.4 210.0)"><text x="-5.53" y="0" font-family="'Liberation Sans', sans-serif" font-size="7.4" font-weight="bold" transform="scale(0.76 1)">10</text><text x="3.25" y="-4.0" font-family="'Liberation Sans', sans-serif" font-size="5.6" font-weight="bold" transform="scale(0.8 1)">4</text></g>
<g transform="translate(170.0 200.1) rotate(-90)"><text x="-5.66" y="0" font-family="'Liberation Sans', sans-serif" font-size="7.8" font-weight="bold" transform="scale(0.76 1)">10</text><text x="3.62" y="-4.3" font-family="'Liberation Sans', sans-serif" font-size="5.6" font-weight="bold" transform="scale(0.8 1)">0</text></g>
<g transform="translate(170.0 186.2) rotate(-90)"><text x="-5.66" y="0" font-family="'Liberation Sans', sans-serif" font-size="7.8" font-weight="bold" transform="scale(0.76 1)">10</text><text x="3.62" y="-4.3" font-family="'Liberation Sans', sans-serif" font-size="5.6" font-weight="bold" transform="scale(0.8 1)">1</text></g>
<g transform="translate(170.0 172.2) rotate(-90)"><text x="-5.66" y="0" font-family="'Liberation Sans', sans-serif" font-size="7.8" font-weight="bold" transform="scale(0.76 1)">10</text><text x="3.62" y="-4.3" font-family="'Liberation Sans', sans-serif" font-size="5.6" font-weight="bold" transform="scale(0.8 1)">2</text></g>
<g transform="translate(170.0 158.3) rotate(-90)"><text x="-5.66" y="0" font-family="'Liberation Sans', sans-serif" font-size="7.8" font-weight="bold" transform="scale(0.76 1)">10</text><text x="3.62" y="-4.3" font-family="'Liberation Sans', sans-serif" font-size="5.6" font-weight="bold" transform="scale(0.8 1)">3</text></g>
<g transform="translate(170.0 144.4) rotate(-90)"><text x="-5.66" y="0" font-family="'Liberation Sans', sans-serif" font-size="7.8" font-weight="bold" transform="scale(0.76 1)">10</text><text x="3.62" y="-4.3" font-family="'Liberation Sans', sans-serif" font-size="5.6" font-weight="bold" transform="scale(0.8 1)">4</text></g>
<text x="210.40" y="216.40" font-family="'Liberation Sans', sans-serif" font-size="6.8" font-weight="normal" text-anchor="middle" stroke="#000" stroke-width="0.25">CD11B</text>
<text transform="translate(160.20 173.25) rotate(-90)" font-family="'Liberation Sans', sans-serif" font-size="6.4" text-anchor="middle" stroke="#000" stroke-width="0.2">GFP</text>
<text x="242.00" y="158.80" font-family="'Liberation Serif', serif" font-size="8.2" font-weight="normal" text-anchor="middle" >12</text>
<rect x="60.50" y="235.40" width="74.70" height="56.70" fill="none" stroke="#000" stroke-width="1.25"/>
<line x1="85.50" y1="235.40" x2="85.50" y2="292.10" stroke="#000" stroke-width="1"/>
<line x1="60.50" y1="276.20" x2="135.20" y2="276.20" stroke="#000" stroke-width="1"/>
<path d="M91.6 291.6l2.3-.5 2-1.3 1.9 .5 2-2.7-1-2.4-7.2-.6-1.6-2.9 .9-2.4 2-.5 3-2.6 .9-1.5 .7-5 2.2-2-.4-1 .8-1 .4-1.9-.7-1.4 1.2-.6-1.2-.5-.1-2.5-1-1 1.4-2 .1-1-2.4-1 1-2-1.9-1 .8-3-.8-.8-2.3-.2 .9-1-.4-1-2.2-1.5-2 .2-1-.5-1-1.1-3 1-1-.1-1-1-5.1 7-1.7 1 0 3-1.2-.3-.9 1.3 1.5 1-2.3 3-.7 2 .6 3-.9 1.9 .8 2-.8 1-.2 2 .7 2-.4 3 1.6 1.2 1-.3 .3 2.1 1.7 2.5 4.2 1.5-1.2 1.6-2 1.1-4-.5-1 1.2-1.9 1.2-3.7 .3 0 2 3.7 .5 1 1.2 3.9 .2 1 .7 2-.7 4.3 1.1 M85.4 291.6l1.5-.7 1 .7 M87.9 291.6l1-.5 1.8 .5 M89.4 281.7l-.5 1.9-1.3 0 .3-1.7 1-.6 .5 .4 M77.9 281l-.6 .7 .6 .4 .5-.4-.5-.7 M71 274.5l0 .5 .6-.3-.6-.2 M89.6 253.8l-.2 1 .5 .8 1-1.4 .2 .6-1.1 1 1.5 2-.3 3 .8 2-.5 2.9-1.5 2 .2 2-1.1 1-1.2 .5-2-.8-1 .4-1-1.7-1 .3-1-.5-.8-3.2 1.3-1-.9-3.9 1-1-.3-2 1.7-1.7 1.6-.3 .4-2 1 .3 1-.8 1.7 .5 M73 262.6l.4 .2-.4-.2 M86.9 255.7l-.5 .1 .5-.1 M89.9 241.7l-.9 .2 .9 .5 0-.7 M84.9 282.6l-1 1.5-4 .1-2 .8-1-.7-2 .5-3.8 2.8 1.9 2.1 .9-.4 4 1 3-.3 4 1.1 2-.8 1 .5 3 0 3-.5 1-1 2.9-.3 .4-.4 .2-2-.6-.4-.9 .6-.9-.2-.1-1.1-2-.5-1 .6-4-1.4-1 .2-3-1.8 M89.9 243.9l-1-.7-1 .5-2-.3-.9 .5 1.1 .9-.2 1.1-2.9-1.1 1.7-.9-1.8-.3 0 1.2-2.1 2-1.9 3.3-1 .3 .1 2.4-1 1 .3 1-2.4 3-.3 4 .8 1-1.3 1.9 .9 2-1.2 1 1.4 1-1.5 1 .7 2-.3 1 2.2 2 .6 3.2 1-.3 3.3 1.1 1.2 1 .5 1.9 2-.8 1 .8 1-.3 2.5-1.6 .1-1 2.4-1.5 1 .7 .8-2.2 2.2-.7 .6-2.3-1.3-3 2.6-2 .1-1-.9-1 1.8-1.9-.6-3 .9-1-.1-1-1.1-1 .3-1-.4-2-1.3-2 .2-1-.9-1 1.4-3-1.3-.4-1 .5-1-.9-1.9-.2 1.9-.9 .2-1.1-4.2-.9 M79.9 278.8l-.5 .9 .5 .6 .5-.6-.5-.9 M87.9 251.8l5.1 3 .5 3-1.6 1 .2 3 .7 1-.6 1.9 .7 1-2.2 2 .3 3-5.1 2.3-1-.3-1-2.8-2 .3-.5-.5-.8-3-.7-.8-1.1-.2-.1-1 1.2 .6 1.5-1.5-.9-1-.5-3 1.2-1 0-1 2.4-3 .3-2.2 3-1 1 .2 M86.9 284.6l-3 .5-1-.8-1 .7-2-.2-3 1.1-1.7-.3-1.3 1 1 .6 .2 1.4 .8 .6 2 .5 3-.3 3 1.1 3-.6 2 .4 2-.8 1 .6 1-.7 1 .2 1.5-2-1.5-2.2-2 .5-2-.8-2 .1-1-.6 M73 287.6l0 1.1 0-1.1 M78.9 266.3l-2-.5-.9 .9 .1 2 .8 1.5 1-1.4 .4 .9-1.4 1.3-1-.1-1.3 1.8 1.3 .9 2-1.4 .9 .5-1.3 2 .4 1.6 2 .6 3 2.1 .5-1.3-.5-1 1-2 .3 2 .8 1 .1 2 1.8 .5 1.1-.5-.1-1 2-.7 2-1.6 1.6-2.7-.1-1 .5-.2 1 1 1-.5-.6-2.3-1-1 .5-1-1.2-1-1.7-.2-.5 1.2 .4 2-.9 .9-1.1 .1 1.9 1-2.8 .6-1-.7-1 1.3-1-.3-2 1.1-1-2.1-1-.4-1.1 .5-.5-5-1.4-1.4 M92.9 276.4l-.5 .3 .5 .3 0-.6 M74.9 269.7l0 1.5 .9-.5-.9-1 M94.9 262.8l-1.8 1.9 1.2 2-.4 1 1 1 1.9-1-1.9-4.9 M78.9 261.7l-1 .9-1-.1-1 1.6-1.1 .6 2.1 .9 2.4-2.8-.4-1.1 M88.9 244.1l-2 1.2-1 1.9-2-1.5-3.4 3.1-2.1 3 .4 1-1 1-.3 2 .8 1-1.4 1.5-1-.9-.3 .4-.2 1 .5 1.1 1 .3 3.4-1.4 .8-2-.2-1 2.2-1 .1-3 .7-.8 1 .6 3-1 2 1.8 2-2 .6 .4 1.3 4-.5 1 .3 1 1.3 1-.8 1 1.1 2-.3 .6-1-.4-1-1.5-.2 2.3 2.2 .8 2-1 1.3-1.8-1.3-4 .4-1-1.8-2 .7-1-1.6-2-.4-2-1.3-.4-1.1 .4-2.9-3.7 M84.4 247.8l-.5 1.5-.3-1.5 .8 0 M95.9 248.5l0 .5 0-.5 M88.1 247.8l-.2 .7-.5-.7 .5-.4 .2 .4 M89.9 285.6l-1 .4-3-.6-2 .6-1-1.1-1 .7-2-.5-3.8 2.5 .8 1.2 2-.3 4 1.2 4-.4 2 .6 2-1.3 1 1 2.1-1-.1-2.3-3 .2-1-.9 M85.9 277.6l0 1.1 0-1.1 M90.9 274.4l-2.7 .3 .3 1-.6 1 1 .9 2.9-2.9-.9-.3 M80.9 274.1l-1.2 .6 .3 1 1.9 .2 .4-.2-1.4-1.6 M75.9 272.4l-.4 .3 .8 0-.4-.3 M79.9 270.5l-1 0-.3 1.2 1.3 .5 0-1.7 M92.9 270.4l-1.4 1.3 .4 .4 1.2-.4-.2-1.3 M76.9 266.7l0 1.4 0-1.4 M94.9 267.4l0 .4 .7-.1-.7-.3 M95.9 253.6l-1-.1-1.1 2.3 1.3 1 .4 1-.5 1 .9 1 .7-1 0-4-.7-1.2 M78.9 258.5l-.3 .3 .6 0-.3-.3 M94.9 251.5l-.6 .3 .6 .5 .4-.5-.4-.3 M92.9 248.6l-.7 .2 .7 1.1 0-1.3 M89.9 247.1l-1 .2-.1 .5 1.1 1.2 .6-1.2-.6-.7 M82.9 285.6l-1 .6-1-.3-1.5 1.7 .5 .7 4 .6 3-.2 2 .8 2-1.7 1 1.2 .5-.4-.1-1-1.4-.2-1-1-1 .4-2-.7-3.5 .5-.5-1" fill="none" stroke="#000" stroke-width="0.9" stroke-linejoin="round"/>
<path d="M66.0 276.8h1.0v1.0h-1.0zM81.4 264.2h1.0v1.0h-1.0zM86.5 240.5h1.0v1.0h-1.0zM77.2 251.8h1.0v1.0h-1.0zM89.7 254.0h1.0v1.0h-1.0zM78.1 278.0h1.0v1.0h-1.0zM85.0 281.3h1.0v1.0h-1.0zM70.9 261.7h1.0v1.0h-1.0zM83.0 265.9h1.0v1.0h-1.0zM85.6 252.0h1.0v1.0h-1.0zM80.1 283.4h1.0v1.0h-1.0zM90.0 256.5h1.0v1.0h-1.0zM85.4 254.3h1.0v1.0h-1.0zM74.4 277.5h1.0v1.0h-1.0zM89.0 268.1h1.0v1.0h-1.0zM87.2 291.2h1.0v1.0h-1.0zM99.3 272.0h1.0v1.0h-1.0zM99.1 264.7h1.0v1.0h-1.0zM83.1 242.8h1.0v1.0h-1.0zM88.1 258.4h1.0v1.0h-1.0zM99.3 259.9h1.0v1.0h-1.0zM72.6 274.1h1.0v1.0h-1.0zM73.9 265.7h1.0v1.0h-1.0zM69.6 269.6h1.0v1.0h-1.0zM83.0 268.8h1.0v1.0h-1.0zM72.9 262.0h1.0v1.0h-1.0zM71.3 264.5h1.0v1.0h-1.0zM91.3 255.0h1.0v1.0h-1.0zM73.8 273.2h1.0v1.0h-1.0zM90.2 255.1h1.0v1.0h-1.0zM90.7 280.0h1.0v1.0h-1.0zM97.5 255.5h1.0v1.0h-1.0zM92.3 265.1h1.0v1.0h-1.0zM70.2 287.3h1.0v1.0h-1.0zM66.5 270.7h1.0v1.0h-1.0zM98.0 263.1h1.0v1.0h-1.0zM87.4 240.7h1.0v1.0h-1.0zM85.0 271.0h1.0v1.0h-1.0zM98.3 284.4h1.0v1.0h-1.0zM84.3 253.1h1.0v1.0h-1.0zM71.1 258.5h1.0v1.0h-1.0zM80.9 258.4h1.0v1.0h-1.0zM99.3 264.1h1.0v1.0h-1.0zM75.8 253.7h1.0v1.0h-1.0zM84.4 254.9h1.0v1.0h-1.0zM72.0 279.9h1.0v1.0h-1.0zM90.7 255.3h1.0v1.0h-1.0zM87.4 259.7h1.0v1.0h-1.0zM77.2 278.7h1.0v1.0h-1.0zM74.0 274.8h1.0v1.0h-1.0zM93.3 289.7h1.0v1.0h-1.0zM98.5 290.2h1.0v1.0h-1.0zM99.4 255.5h1.0v1.0h-1.0zM81.2 283.4h1.0v1.0h-1.0zM65.9 285.4h1.0v1.0h-1.0zM99.1 263.5h1.0v1.0h-1.0zM80.7 266.2h1.0v1.0h-1.0zM75.9 248.6h1.0v1.0h-1.0zM82.0 281.8h1.0v1.0h-1.0zM81.1 245.6h1.0v1.0h-1.0zM80.9 243.2h1.0v1.0h-1.0zM84.1 256.6h1.0v1.0h-1.0zM65.4 274.7h1.0v1.0h-1.0zM89.2 278.1h1.0v1.0h-1.0zM73.4 263.2h1.0v1.0h-1.0zM85.4 244.9h1.0v1.0h-1.0zM91.2 279.7h1.0v1.0h-1.0zM71.8 284.9h1.0v1.0h-1.0zM85.6 255.5h1.0v1.0h-1.0zM81.7 289.7h1.0v1.0h-1.0zM75.0 284.1h1.0v1.0h-1.0zM69.6 260.6h1.0v1.0h-1.0zM73.9 259.3h1.0v1.0h-1.0zM91.1 258.1h1.0v1.0h-1.0zM96.7 276.5h1.0v1.0h-1.0zM92.7 290.5h1.0v1.0h-1.0zM89.7 270.2h1.0v1.0h-1.0zM67.9 287.8h1.0v1.0h-1.0zM98.4 285.6h1.0v1.0h-1.0zM84.9 270.2h1.0v1.0h-1.0zM95.7 243.4h1.0v1.0h-1.0zM98.5 254.7h1.0v1.0h-1.0zM81.9 283.6h1.0v1.0h-1.0zM71.7 256.8h1.0v1.0h-1.0zM73.0 269.9h1.0v1.0h-1.0zM74.2 262.4h1.0v1.0h-1.0zM74.6 254.3h1.0v1.0h-1.0zM74.7 265.9h1.0v1.0h-1.0zM98.0 286.9h1.0v1.0h-1.0zM90.8 283.7h1.0v1.0h-1.0zM67.8 276.6h1.0v1.0h-1.0zM81.7 289.8h1.0v1.0h-1.0zM89.2 254.7h1.0v1.0h-1.0zM89.8 282.6h1.0v1.0h-1.0zM94.8 275.5h1.0v1.0h-1.0zM75.0 255.2h1.0v1.0h-1.0zM73.7 270.2h1.0v1.0h-1.0zM87.4 252.2h1.0v1.0h-1.0zM87.7 251.4h1.0v1.0h-1.0zM99.1 261.1h1.0v1.0h-1.0zM82.3 281.1h1.0v1.0h-1.0zM82.4 258.2h1.0v1.0h-1.0zM70.8 274.8h1.0v1.0h-1.0zM93.4 290.0h1.0v1.0h-1.0zM84.0 254.8h1.0v1.0h-1.0zM93.7 278.8h1.0v1.0h-1.0zM62.9 272.7h1.0v1.0h-1.0zM79.4 265.0h1.0v1.0h-1.0zM95.8 274.8h1.0v1.0h-1.0zM90.3 260.1h1.0v1.0h-1.0zM73.2 274.6h1.0v1.0h-1.0zM71.7 267.8h1.0v1.0h-1.0zM90.2 283.4h1.0v1.0h-1.0zM81.0 239.8h1.0v1.0h-1.0zM91.2 266.0h1.0v1.0h-1.0zM92.5 290.0h1.0v1.0h-1.0zM96.2 285.4h1.0v1.0h-1.0zM68.8 286.3h1.0v1.0h-1.0zM97.3 269.8h1.0v1.0h-1.0zM72.2 270.8h1.0v1.0h-1.0zM92.4 242.5h1.0v1.0h-1.0zM98.3 252.0h1.0v1.0h-1.0zM85.5 265.7h1.0v1.0h-1.0zM81.9 261.3h1.0v1.0h-1.0zM84.9 242.8h1.0v1.0h-1.0zM98.4 288.9h1.0v1.0h-1.0zM79.0 246.1h1.0v1.0h-1.0zM91.2 278.4h1.0v1.0h-1.0zM77.7 243.1h1.0v1.0h-1.0zM83.0 282.5h1.0v1.0h-1.0zM90.9 265.0h1.0v1.0h-1.0zM87.6 237.0h1.0v1.0h-1.0zM89.9 239.2h1.0v1.0h-1.0zM87.3 281.1h1.0v1.0h-1.0zM77.9 290.9h1.0v1.0h-1.0zM65.6 266.1h1.0v1.0h-1.0zM96.3 244.8h1.0v1.0h-1.0zM90.5 241.8h1.0v1.0h-1.0zM68.5 272.7h1.0v1.0h-1.0zM77.4 249.4h1.0v1.0h-1.0zM79.4 290.7h1.0v1.0h-1.0zM74.4 283.9h1.0v1.0h-1.0zM98.1 248.4h1.0v1.0h-1.0zM80.9 261.4h1.0v1.0h-1.0zM97.5 254.5h1.0v1.0h-1.0zM86.1 281.7h1.0v1.0h-1.0zM93.2 275.0h1.0v1.0h-1.0zM70.4 287.6h1.0v1.0h-1.0zM100.0 286.4h1.0v1.0h-1.0zM97.8 273.1h1.0v1.0h-1.0zM73.7 257.8h1.0v1.0h-1.0zM68.9 262.9h1.0v1.0h-1.0zM77.8 278.9h1.0v1.0h-1.0zM96.3 283.3h1.0v1.0h-1.0zM106.1 286.8h1.0v1.0h-1.0zM86.0 255.6h1.0v1.0h-1.0zM97.8 252.5h1.0v1.0h-1.0zM89.9 241.2h1.0v1.0h-1.0zM94.3 245.5h1.0v1.0h-1.0zM96.3 271.0h1.0v1.0h-1.0zM69.7 287.1h1.0v1.0h-1.0zM91.4 243.5h1.0v1.0h-1.0zM98.3 254.8h1.0v1.0h-1.0zM88.6 254.1h1.0v1.0h-1.0zM89.4 282.1h1.0v1.0h-1.0zM96.4 250.6h1.0v1.0h-1.0zM73.4 260.9h1.0v1.0h-1.0zM95.7 289.6h1.0v1.0h-1.0zM82.5 262.8h1.0v1.0h-1.0zM84.3 253.7h1.0v1.0h-1.0zM89.8 282.7h1.0v1.0h-1.0zM80.2 262.4h1.0v1.0h-1.0zM63.4 259.2h1.0v1.0h-1.0zM78.2 247.2h1.0v1.0h-1.0zM71.6 272.7h1.0v1.0h-1.0zM84.3 271.7h1.0v1.0h-1.0zM71.6 266.3h1.0v1.0h-1.0zM60.4 263.5h1.0v1.0h-1.0zM81.6 242.3h1.0v1.0h-1.0zM96.6 249.3h1.0v1.0h-1.0zM78.4 264.0h1.0v1.0h-1.0zM98.8 251.2h1.0v1.0h-1.0zM86.2 242.4h1.0v1.0h-1.0zM77.5 241.3h1.0v1.0h-1.0zM87.7 251.7h1.0v1.0h-1.0zM90.7 291.3h1.0v1.0h-1.0zM81.2 259.8h1.0v1.0h-1.0zM97.5 288.7h1.0v1.0h-1.0zM84.0 253.2h1.0v1.0h-1.0zM82.1 282.1h1.0v1.0h-1.0zM66.2 269.1h1.0v1.0h-1.0zM61.6 263.5h1.0v1.0h-1.0zM97.0 273.3h1.0v1.0h-1.0zM89.0 270.3h1.0v1.0h-1.0zM68.0 287.7h1.0v1.0h-1.0zM97.9 264.2h1.0v1.0h-1.0zM96.9 264.9h1.0v1.0h-1.0zM91.2 290.1h1.0v1.0h-1.0zM86.7 253.1h1.0v1.0h-1.0zM81.5 282.4h1.0v1.0h-1.0zM97.6 284.7h1.0v1.0h-1.0zM89.9 270.3h1.0v1.0h-1.0zM63.4 287.4h1.0v1.0h-1.0zM87.9 269.6h1.0v1.0h-1.0zM81.8 262.7h1.0v1.0h-1.0zM97.2 251.5h1.0v1.0h-1.0zM97.0 267.0h1.0v1.0h-1.0zM76.2 280.7h1.0v1.0h-1.0zM100.9 288.0h1.0v1.0h-1.0zM70.5 285.9h1.0v1.0h-1.0zM100.2 261.1h1.0v1.0h-1.0zM96.4 243.6h1.0v1.0h-1.0zM64.6 272.1h1.0v1.0h-1.0zM80.3 280.5h1.0v1.0h-1.0zM73.8 255.7h1.0v1.0h-1.0zM69.7 288.1h1.0v1.0h-1.0zM82.5 280.7h1.0v1.0h-1.0zM96.2 286.3h1.0v1.0h-1.0zM91.4 291.3h1.0v1.0h-1.0zM83.3 239.0h1.0v1.0h-1.0z" fill="#000"/>
<path d="M57.50 292.10H60.50M60.50 292.10V295.10M58.50 287.83H60.50M66.12 292.10V294.10M58.50 285.34H60.50M69.41 292.10V294.10M58.50 283.57H60.50M71.74 292.10V294.10M58.50 282.19H60.50M73.55 292.10V294.10M58.50 281.07H60.50M75.03 292.10V294.10M58.50 280.12H60.50M76.28 292.10V294.10M58.50 279.30H60.50M77.37 292.10V294.10M58.50 278.57H60.50M78.32 292.10V294.10M57.50 277.93H60.50M79.17 292.10V295.10M58.50 273.66H60.50M84.80 292.10V294.10M58.50 271.16H60.50M88.09 292.10V294.10M58.50 269.39H60.50M90.42 292.10V294.10M58.50 268.02H60.50M92.23 292.10V294.10M58.50 266.89H60.50M93.71 292.10V294.10M58.50 265.95H60.50M94.96 292.10V294.10M58.50 265.12H60.50M96.04 292.10V294.10M58.50 264.40H60.50M97.00 292.10V294.10M57.50 263.75H60.50M97.85 292.10V295.10M58.50 259.48H60.50M103.47 292.10V294.10M58.50 256.99H60.50M106.76 292.10V294.10M58.50 255.22H60.50M109.09 292.10V294.10M58.50 253.84H60.50M110.90 292.10V294.10M58.50 252.72H60.50M112.38 292.10V294.10M58.50 251.77H60.50M113.63 292.10V294.10M58.50 250.95H60.50M114.72 292.10V294.10M58.50 250.22H60.50M115.67 292.10V294.10M57.50 249.58H60.50M116.52 292.10V295.10M58.50 245.31H60.50M122.15 292.10V294.10M58.50 242.81H60.50M125.44 292.10V294.10M58.50 241.04H60.50M127.77 292.10V294.10M58.50 239.67H60.50M129.58 292.10V294.10M58.50 238.54H60.50M131.06 292.10V294.10M58.50 237.60H60.50M132.31 292.10V294.10M58.50 236.77H60.50M133.39 292.10V294.10M58.50 236.05H60.50M134.35 292.10V294.10" stroke="#000" stroke-width="0.75" fill="none"/>
<g transform="translate(60.7 302.0)"><text x="-5.53" y="0" font-family="'Liberation Sans', sans-serif" font-size="7.4" font-weight="bold" transform="scale(0.76 1)">10</text><text x="3.25" y="-4.0" font-family="'Liberation Sans', sans-serif" font-size="5.6" font-weight="bold" transform="scale(0.8 1)">0</text></g>
<g transform="translate(78.8 302.0)"><text x="-5.53" y="0" font-family="'Liberation Sans', sans-serif" font-size="7.4" font-weight="bold" transform="scale(0.76 1)">10</text><text x="3.25" y="-4.0" font-family="'Liberation Sans', sans-serif" font-size="5.6" font-weight="bold" transform="scale(0.8 1)">1</text></g>
<g transform="translate(96.9 302.0)"><text x="-5.53" y="0" font-family="'Liberation Sans', sans-serif" font-size="7.4" font-weight="bold" transform="scale(0.76 1)">10</text><text x="3.25" y="-4.0" font-family="'Liberation Sans', sans-serif" font-size="5.6" font-weight="bold" transform="scale(0.8 1)">2</text></g>
<g transform="translate(115.0 302.0)"><text x="-5.53" y="0" font-family="'Liberation Sans', sans-serif" font-size="7.4" font-weight="bold" transform="scale(0.76 1)">10</text><text x="3.25" y="-4.0" font-family="'Liberation Sans', sans-serif" font-size="5.6" font-weight="bold" transform="scale(0.8 1)">3</text></g>
<g transform="translate(133.2 302.0)"><text x="-5.53" y="0" font-family="'Liberation Sans', sans-serif" font-size="7.4" font-weight="bold" transform="scale(0.76 1)">10</text><text x="3.25" y="-4.0" font-family="'Liberation Sans', sans-serif" font-size="5.6" font-weight="bold" transform="scale(0.8 1)">4</text></g>
<g transform="translate(55.1 292.1) rotate(-90)"><text x="-5.66" y="0" font-family="'Liberation Sans', sans-serif" font-size="7.8" font-weight="bold" transform="scale(0.76 1)">10</text><text x="3.62" y="-4.3" font-family="'Liberation Sans', sans-serif" font-size="5.6" font-weight="bold" transform="scale(0.8 1)">0</text></g>
<g transform="translate(55.1 277.9) rotate(-90)"><text x="-5.66" y="0" font-family="'Liberation Sans', sans-serif" font-size="7.8" font-weight="bold" transform="scale(0.76 1)">10</text><text x="3.62" y="-4.3" font-family="'Liberation Sans', sans-serif" font-size="5.6" font-weight="bold" transform="scale(0.8 1)">1</text></g>
<g transform="translate(55.1 263.8) rotate(-90)"><text x="-5.66" y="0" font-family="'Liberation Sans', sans-serif" font-size="7.8" font-weight="bold" transform="scale(0.76 1)">10</text><text x="3.62" y="-4.3" font-family="'Liberation Sans', sans-serif" font-size="5.6" font-weight="bold" transform="scale(0.8 1)">2</text></g>
<g transform="translate(55.1 249.6) rotate(-90)"><text x="-5.66" y="0" font-family="'Liberation Sans', sans-serif" font-size="7.8" font-weight="bold" transform="scale(0.76 1)">10</text><text x="3.62" y="-4.3" font-family="'Liberation Sans', sans-serif" font-size="5.6" font-weight="bold" transform="scale(0.8 1)">3</text></g>
<g transform="translate(55.1 235.4) rotate(-90)"><text x="-5.66" y="0" font-family="'Liberation Sans', sans-serif" font-size="7.8" font-weight="bold" transform="scale(0.76 1)">10</text><text x="3.62" y="-4.3" font-family="'Liberation Sans', sans-serif" font-size="5.6" font-weight="bold" transform="scale(0.8 1)">4</text></g>
<text x="95.85" y="308.40" font-family="'Liberation Sans', sans-serif" font-size="6.8" font-weight="normal" text-anchor="middle" stroke="#000" stroke-width="0.25">CD11B</text>
<text transform="translate(45.30 264.75) rotate(-90)" font-family="'Liberation Sans', sans-serif" font-size="6.4" text-anchor="middle" stroke="#000" stroke-width="0.2">GFP</text>
<text x="127.20" y="250.00" font-family="'Liberation Serif', serif" font-size="8.2" font-weight="normal" text-anchor="middle" >74</text>
<rect x="175.00" y="235.40" width="74.40" height="56.70" fill="none" stroke="#000" stroke-width="1.25"/>
<line x1="200.30" y1="235.40" x2="200.30" y2="292.10" stroke="#000" stroke-width="1"/>
<line x1="175.00" y1="276.20" x2="249.40" y2="276.20" stroke="#000" stroke-width="1"/>
<path d="M175.5 254.5l.8 4.3-.7 3 .9 .9 3 2.3 1-.1 1 1.3 1-.2 1 1.4 3.1-1 1 .1 .5 1.2-.5 1 1 .5 1-1.5 .4 1 1.2 1-.6 1.1-1-.9-1 .1-.6 .7 .6 1.4 2.1 .6-1.5 1-1.2 3 2.8 2 0 2-.7 1 .3 1 2.2-.5-1.6 3.4 1.2 1-.6 .6-1.6-1.6-1.6 0 1.1 1-.7 1 .9 2 .9 .8 1-.2 .8 .4 0 1 M192.9 291.6l3.7-.5 1 .5 M208.5 291.6l1.7-1 .3-2-1.1-1 0-3 1.5-1-2.2-1.9 0-1 3.1-3-1.3-1-.1-1 .6-1-.8-1 .4-1-1.9-1.8 1.4-1.2-.9-1 .7-1-2.3 0 .6-1-.5-2 .4-.9-.7-3-1-1 1.6-2-1-6-1.3-.7-1-1.7-1 0-2.7-2.6-.4-1.1-.3 2.1-.7 .4-1-2.6-3 .7-3-1-1 .9-1.2-1.4 .6-.9-2.4-.9-.9 .9 .6 .9-.1 1-5.3 3-1.7 0 1.5-2-1.2-.3-2 2.9-2-.7 0 1.8 1.1 .3-1.1 .1-.7 .9 .1 1-1.4 .5 M210.9 291.6l-.5 0 M211.7 286.7l-1.6 .9 1.6 1.3 .8-1.3-.8-.9 M212.7 286.5l-.5 .1 .5-.1 M211.7 284.4l0 2 0-2 M185.6 282.9l-.7 .7 .7 1.3 .8-1.3-.8-.7 M187.6 282.5l-1.4 .2 .4 .4 1-.6 M189.6 279.5l0 1.4 .5-.2-.5-1.2 M207 278.7l-.3 .3-1.1-.3 1.4 0 M207.8 273.7l-1.1 .6 0-.7 1.1 .1 M217.7 273.6l-1.1 .1 1.1-.1 M177.5 270.6l-1.1 .1 1.1-.1 M186.6 268l-.7 .7 .2 1 1.5 .4 .6-.4-1.6-1.7 M204.9 265.7l-1 2 .8 .8 1.9 .2-.9 1.2-2-1.2-.4-1 1.3-1-.6-1 .7-.9 .2 .9 M175.5 265.2l1.2-.5-.5-.9 .2-1-.9-.8 M180.3 262.8l-1.1 0 .3-.4 .8 .4 M177.6 260.8l-.1 .6 .1-.6 M208.7 260.2l-.8 .6 .8 .6 .9-.6-.9-.6 M210.7 260.2l-.9 .6 .9 .6 .6-.6-.6-.6 M212.7 256.6l-1.2 .2 1.2-.2 M178.7 255.8l-.2 .4-1.2-.4 1.4 0 M208.7 253.4l-.8 .4-.2 1 .2 1 .8 .4 .7-1.4-.7-1.4 M201.8 251.8l-1.2 1-1.1-1 2.3 0 M175.5 250.9l0-.2 M195 247.8l.5 1-.9 .2-.8-1.2 .8-.4 .4 .4 M205.7 245.7l0 1.3 0-1.3 M208 291.6l1.4-3-.8-1-.4-3 .8-1-.1-.9-1.6 0 .9-1 .5-2-1-.9-1 1-1 .1-.9-1.2 1.9-.8 1 .5 .5-.7-2.1-2 0-2 .6-.9 1 0 1 .8 1-.2 .5-.7-.5-.5-2 .3-.5-.8 2-2-1.5-.9-2 1.9-3.1-1.8-1-2-1 0-1 1.1-.9-1.3 .9-1.2 1 1.2 1-.1 1-1.3 2.1-1.2 2 .1 .3-.4 .1-2-1.6-2 2-2-.8-3 .4-1-.4-1-3-1-1.1 .5 0 1.5-3.2-1-.6-2 3.8 .7 .8-1.7-1.8-1.6-1-.1-3 2.1-1-.2-3.1-1.2-.4-1 .4-1-.9-.6-1 .9-1-1.1-1.2 .8-1.9 0-3.5 2 1.4 1-2.9-.3-2 .6-1 1.2-2 .4 1.9 2.1 .2 1-.7 2-1.4 .1-.8 .9 .9 2 1.9 1.7 2 .9 1-.7 1.3 .1-2.7 2 .4 1.6 4.1-.1 2 .5 1 1.1 2 .4 .1 1.4 1.7 1 .3 1-2.5 4 1 1-.3 2 .7 .9 2-1.1 .2 1.2-1.6 1 1.2 3-1.4 1.9 .8 2-.1 1-1.1 .4-1-1.1-1.2 .7 1.2 2.2 1-.3 1 .8 1-.1 1-1.3 .2 .7-.9 1 1.7 .4 1-.5 1.6 1.1 M200.1 291.6l.5-1 .3 1 M203.5 291.6l.2-.6 2-.4 .2 1 M211.7 287.4l0 .5 0-.5 M209.7 278.5l-.6 .2 .6-.2 M189.6 275.5l-.9 1.2 .9 .7 .8-.7-.8-1.2 M209.7 276.3l0 .5 0-.5 M195.1 272.7l-1.6 0 1.1-.6 .5 .6 M189.6 270.5l-.5 .2 .5 .6 0-.8 M196 270.7l-.5 0 .5 0 M193.8 268.7l-.4 0 .4 0 M205.7 267l-.8 .7 .8 .5 .9-.5-.9-.7 M203.7 266.6l-.4 .1 .4-.1 M190.9 264.7l.4 1-.7 .7-.9-.7-.2-1 1.4 0 M196.8 265.7l-.4 0 .4 0 M206.7 265.6l-1.1 .1 1.1 .3 0-.4 M186.1 262.8l.3 1-.8 .4-.3-1.4 .8 0 M176.5 259.5l0 2.5 .7-2.2-.7-.3 M205.1 256.8l-.4 1.3-.6-.3 .3-1 .7 0 M177.5 253.1l-1.7 .7 .7 1 1.3 0 .4-1-.7-.7 M206.7 254.8l-1 .4-.3-.4 1.3 0 M208.7 254.5l0 .6 0-.6 M183.6 252.8l-1.3 0 .2-.4 1.1 .4 M187.8 249.8l-2 0 2 0 M189.6 243.5l-1.5 .4 1.5 .8 .6-.8-.6-.4 M207.2 291.6l1.1-6-1.6-1.6-2.4 .6 .6-2.9 .8-.4 1 .6 .5-.2 .6-2-2.1 .7-1.5-1.7 1.3-1-.3-2 .7-1-.2-.7-2.4-.3 .4-.5 2 .2 .6-1.7-.6-.6-2 1.3-1.1-.3-1-4.5-2 1-4.3-2.9 1.3-1.1 1 1 2-1.5 1 1.8 1-.2 2-1.9-.2-1 1.7-2-4.5-3.6-1.2-.4 2.2-1.3 2.1 1 1.3-.7-.8-1-.2-2-.7 0 .3 1-2 .5-3-1.3-3-3.2-1.7 0-2-1-1.3-2-1 1.2-2-.7-.6 .5 .2 1 2.3 1-.9 .7-2-.3-1 .6-2.7 0 1.1 2-.5 1.1-1.9-1.1 .4-1-1.5-1-.2 1-1.2 1 1.6 2-.6 1 .3 1-2.9 1 0 1 2 2.1 1-.9 1 1.3 1-.3 3.1 1.1 1-.5 2 3.1 2-.8 1 .3 1.3 1.5-.2 1 .9 .8 1-.4 1 1.6 3.3 1-1.3 .4-1.6 1.6-.2 1-1.9 1-.3 .8-2-.3-.5 .5 1.5 1.8 1-.7 .9 .9-.5 1 .4 1-1.2 2 .4 1.4 1 .1 1-1 .7 .5-1.7 1.7-1-.1-.9 1.3 .9 3.7 1-.7 1 0 .6 1-.6 1.3 1 0 2 1.5 1-.8 2-.5 .6 .5-.1 1 M203 291.6l.1-1 1.6-.6 1.6 .6 .1 1 M192.6 288.3l-1 .3 1 1.2 .7-1.2-.7-.3 M189.6 276.3l0 .6 0-.6 M204.3 275.7l-.6 1.3-.8-.3 .1-1 .7-.5 .6 .5 M192.6 272l0 .9 0-.9 M209.7 272.7l-1.3 0 1.3 0 M194.6 269.1l-1.5 .6 .1 2 1.6-1 .4-1-.6-.6 M206.7 270.5l0 .4 0-.4 M207.7 269.4l-.4 .3 .4 .5 .5-.5-.5-.3 M191.6 266.2l-.6 1.5 .6 1.3 .9-1.3 0-1-.9-.5 M184.6 263.3l-1.1-.3-1 .5-.7 1.2 1.7-.1 1.1-.6 0-.7 M194.8 263.8l-.2 .4-.4-.4 .6 0 M200.8 260.8l-.2 2.2-.7-1.2 .9-1 M204.7 262.4l-.4 .4 .4 .3 .6-.3-.6-.4 M198.9 259.8l-.3 .6-.2-.6 .5 0 M206.7 256.9l-1 .6 0 .6 1 .3 .6-.6-.6-.9 M181.6 256.8l-.7 0 .7 0 M205.7 253.5l-.5 .3 1 0-.5-.3 M200.6 248.6l-1.4 1.2 1.4 .8 2-.2 .4-.6-.4-.5-2-.7 M201.6 269.1l-1 0-.5 1.6-1.5 .1-1.1 .9 1.4 1 0 1-2.1 1 .8 1 .1 2-1.4 0-.7-1-1 .6 .6 1.4-1.4 2 .8 .8 1.3-.8 1.2 1-.7 1 2.9 1.9-3 3 1.3 1.8 1.1-.8-.7 1 .6 1.4 1-1.3 2-.3 1 .6 2.1-.9 .8-.5-1.1-2 .3-.7 1 1.3 2-.9 .2-.7-1.2-.9-2 .9-1.3-1 .6-2.9 1.2-1-1.5-1.7-.2-1.3-1.5-1 .6-1.5 .9-.5-1.6-1-.3-4.6 M206.7 288.6l-.9 1 .9 .5 0-1.5 M194.6 285.2l-.6 1.4 1.6 .6 .9-.6-1.9-1.4 M193.6 284.1l0 1 .7-.5-.7-.5 M196.6 272.4l-2 2.3 2 2.8 .9-1.8-1-1 .4-1-.3-1.3 M204.7 274.4l-.8 .3 .8 .4 .4-.4-.4-.3 M191.6 267.4l0 .6 0-.6 M200.6 264.5l.5 .2-.5-.2 M190.6 249.5l-.4 1.3 .4 1.2-2 0-1 .7-.9-.9 .9-1-1-.1-1 1-1-.3-.5 .4 .2 2 .7 1-2.5 .1-.5 .9 .8 1-.3 .5-2.3 1.5 1.3 1.6 5.1 .3 1 .7 .4 1.4 1.6 .9 2.7-.9-.6-1 .9-.3 1 .7 1 0 1 2 3-.4 .9-1-1.7-2-.2-1 1.6-1 .4-1-1.1-1 1.7-1 .2-1-3.8-2.9-1-1.5-2 1-1-1.2-2-.7 M201.6 263l-.7 .8 .7 .8 .9-.8-.9-.8 M197.4 260.8l-.6 1 1.3 1-.5 .7-1-.6-.4-1.1 .4-1.9 .8 .9 M202.6 260.1l-.9 .7-.3 1 1.2 .8 .8-1.8-.8-.7 M200.6 258l-.8 .8-.1 1 1.9 .9 .7-.9-1.7-1.8 M206.7 257.4l-.5 .4 .5 .2 0-.6 M196.9 255.8l-.3 .6 0-1 .3 .4 M188.6 248.3l-.3 .5 .9 0-.6-.5 M190.6 247.5l0 .8 0-.8 M202.6 281.3l-2 2.3-1-.6-1 .2 0 .5 1.7 .9-2.3 2 2.6 2.7 2.4-1.7 .1-4.9-.5-1.4 M203.7 288l-.8 .6 1.2 0-.4-.6 M197.6 287l-.5 .6 .5 .9 .9-.9-.9-.6 M206.7 285.1l-1.5 .5 1.5 .6 .7-.6-.7-.5 M199.6 274.1l-1.4 1.6 .4 2.2-2 .4-1.5 1.4 1.5 .8 2.8 .2-1 1 1.2 .6 1.3-.6-.3-2.6 1-.4 1 .4 .4-.4-.4-.4-2 .2 .1-1.8-1.1-2.6 M194.6 280l-.4 .7 .4 .4 .4-.4-.4-.7 M200.6 271.2l-1.8 .5 .8 1.5 1 .3 .7-.8-.7-1.5 M189.6 262.1l-.3 .7 1.2 0-.9-.7 M188.6 261.2l0 .9 .7-.3-.7-.6 M197.6 261.5l0 .5 0-.5 M191.6 250.9l-.8 1.9 0 2 .8 .9 1-.3 .4 .4-.4 1.1-1 0-.1-1.1-.9-.8-3-.5-2.8 2.3 .1 2 2.7 .3 1 1.2 1.8 .5 .2 .9 5-1 1-1.4 1 .1 .7-.6 .5-1-1.2-1.6-1 1.4-1.4-1.8 .1-2-1.7-1.6-1 .4-1-1.7 M182.5 258.4l-1.4 .4 1.4 .9 0-1.3 M184.6 255.6l-.7 .2 .7 .5 .6-.5-.6-.2 M198.6 255.3l-.5 .5 1.5 0-1-.5 M197.6 253l-.5 .8 .5 .6 .6-.6-.6-.8 M195.6 251.5l-1-.2-.5 .5 .5 .9 1-.6 0-.6" fill="none" stroke="#000" stroke-width="0.9" stroke-linejoin="round"/>
<path d="M188.7 273.0h1.0v1.0h-1.0zM182.1 246.3h1.0v1.0h-1.0zM188.3 245.7h1.0v1.0h-1.0zM203.8 269.4h1.0v1.0h-1.0zM192.3 279.8h1.0v1.0h-1.0zM208.0 253.6h1.0v1.0h-1.0zM209.1 261.9h1.0v1.0h-1.0zM197.7 248.5h1.0v1.0h-1.0zM208.9 289.4h1.0v1.0h-1.0zM185.1 278.7h1.0v1.0h-1.0zM190.7 270.2h1.0v1.0h-1.0zM208.0 273.1h1.0v1.0h-1.0zM214.8 253.4h1.0v1.0h-1.0zM193.5 246.4h1.0v1.0h-1.0zM199.9 266.4h1.0v1.0h-1.0zM216.7 272.9h1.0v1.0h-1.0zM216.4 275.6h1.0v1.0h-1.0zM197.0 243.9h1.0v1.0h-1.0zM206.5 251.6h1.0v1.0h-1.0zM192.0 243.8h1.0v1.0h-1.0zM215.8 246.7h1.0v1.0h-1.0zM204.1 249.2h1.0v1.0h-1.0zM208.1 260.8h1.0v1.0h-1.0zM179.2 263.9h1.0v1.0h-1.0zM192.5 291.1h1.0v1.0h-1.0zM179.3 249.6h1.0v1.0h-1.0zM200.5 291.3h1.0v1.0h-1.0zM184.4 266.4h1.0v1.0h-1.0zM191.7 277.9h1.0v1.0h-1.0zM186.3 246.0h1.0v1.0h-1.0zM186.4 282.1h1.0v1.0h-1.0zM176.5 257.1h1.0v1.0h-1.0zM190.1 273.6h1.0v1.0h-1.0zM210.3 283.6h1.0v1.0h-1.0zM212.2 285.9h1.0v1.0h-1.0zM187.4 269.4h1.0v1.0h-1.0zM211.2 273.7h1.0v1.0h-1.0zM190.7 285.4h1.0v1.0h-1.0zM193.3 290.1h1.0v1.0h-1.0zM213.9 279.2h1.0v1.0h-1.0zM198.3 245.6h1.0v1.0h-1.0zM187.8 266.8h1.0v1.0h-1.0zM180.4 266.2h1.0v1.0h-1.0zM201.0 247.0h1.0v1.0h-1.0zM185.3 284.6h1.0v1.0h-1.0zM204.8 259.6h1.0v1.0h-1.0zM202.3 266.0h1.0v1.0h-1.0zM207.7 290.1h1.0v1.0h-1.0zM188.9 280.6h1.0v1.0h-1.0zM209.5 252.0h1.0v1.0h-1.0zM205.5 251.6h1.0v1.0h-1.0zM185.1 265.8h1.0v1.0h-1.0zM209.6 287.9h1.0v1.0h-1.0zM195.1 247.7h1.0v1.0h-1.0zM210.2 286.7h1.0v1.0h-1.0zM189.4 270.8h1.0v1.0h-1.0zM195.2 246.8h1.0v1.0h-1.0zM186.4 272.2h1.0v1.0h-1.0zM188.3 270.0h1.0v1.0h-1.0zM207.9 279.2h1.0v1.0h-1.0zM197.8 247.3h1.0v1.0h-1.0zM204.2 267.3h1.0v1.0h-1.0zM209.0 267.0h1.0v1.0h-1.0zM207.9 267.0h1.0v1.0h-1.0zM177.2 262.2h1.0v1.0h-1.0zM191.3 278.9h1.0v1.0h-1.0zM208.4 278.6h1.0v1.0h-1.0zM176.0 256.1h1.0v1.0h-1.0zM183.8 287.0h1.0v1.0h-1.0zM176.9 256.4h1.0v1.0h-1.0zM210.2 290.6h1.0v1.0h-1.0zM208.9 269.0h1.0v1.0h-1.0zM175.4 262.6h1.0v1.0h-1.0zM177.7 267.8h1.0v1.0h-1.0zM175.6 264.5h1.0v1.0h-1.0zM206.8 266.3h1.0v1.0h-1.0zM199.7 245.3h1.0v1.0h-1.0zM213.1 290.2h1.0v1.0h-1.0zM186.9 286.1h1.0v1.0h-1.0zM206.0 252.8h1.0v1.0h-1.0zM207.4 262.9h1.0v1.0h-1.0zM211.0 285.2h1.0v1.0h-1.0zM189.8 277.2h1.0v1.0h-1.0zM190.9 278.3h1.0v1.0h-1.0zM189.6 264.3h1.0v1.0h-1.0zM190.9 283.8h1.0v1.0h-1.0zM211.3 277.5h1.0v1.0h-1.0zM208.9 274.6h1.0v1.0h-1.0zM211.8 256.6h1.0v1.0h-1.0zM180.8 246.2h1.0v1.0h-1.0zM207.0 274.9h1.0v1.0h-1.0zM211.5 284.3h1.0v1.0h-1.0zM201.9 251.4h1.0v1.0h-1.0zM201.8 246.3h1.0v1.0h-1.0zM210.5 277.4h1.0v1.0h-1.0zM188.5 275.9h1.0v1.0h-1.0zM209.3 289.7h1.0v1.0h-1.0zM189.6 281.3h1.0v1.0h-1.0zM186.1 265.3h1.0v1.0h-1.0zM209.2 247.1h1.0v1.0h-1.0zM175.0 264.0h1.0v1.0h-1.0zM196.0 247.5h1.0v1.0h-1.0zM188.7 279.6h1.0v1.0h-1.0zM199.5 264.8h1.0v1.0h-1.0zM209.1 283.6h1.0v1.0h-1.0zM205.3 245.3h1.0v1.0h-1.0zM177.1 248.5h1.0v1.0h-1.0zM184.9 247.0h1.0v1.0h-1.0zM209.0 255.9h1.0v1.0h-1.0zM204.3 242.7h1.0v1.0h-1.0zM193.8 246.8h1.0v1.0h-1.0zM175.0 263.7h1.0v1.0h-1.0zM206.5 264.2h1.0v1.0h-1.0zM197.3 242.3h1.0v1.0h-1.0zM211.3 256.5h1.0v1.0h-1.0zM207.8 255.8h1.0v1.0h-1.0zM192.1 283.6h1.0v1.0h-1.0zM210.3 268.1h1.0v1.0h-1.0zM180.2 246.9h1.0v1.0h-1.0zM212.7 260.1h1.0v1.0h-1.0zM189.8 268.6h1.0v1.0h-1.0zM208.7 264.0h1.0v1.0h-1.0zM208.4 275.5h1.0v1.0h-1.0zM190.5 286.4h1.0v1.0h-1.0zM211.3 251.6h1.0v1.0h-1.0zM217.1 273.0h1.0v1.0h-1.0zM208.8 257.8h1.0v1.0h-1.0zM187.8 284.7h1.0v1.0h-1.0zM185.6 269.2h1.0v1.0h-1.0zM182.2 278.4h1.0v1.0h-1.0zM191.5 279.8h1.0v1.0h-1.0zM208.1 286.2h1.0v1.0h-1.0zM207.4 247.8h1.0v1.0h-1.0zM194.2 244.6h1.0v1.0h-1.0zM198.3 246.1h1.0v1.0h-1.0zM201.9 268.2h1.0v1.0h-1.0zM178.4 249.7h1.0v1.0h-1.0zM210.5 259.8h1.0v1.0h-1.0zM189.4 284.9h1.0v1.0h-1.0zM212.9 275.6h1.0v1.0h-1.0zM176.8 269.9h1.0v1.0h-1.0zM213.7 285.9h1.0v1.0h-1.0zM202.4 264.9h1.0v1.0h-1.0zM187.1 282.6h1.0v1.0h-1.0zM210.6 273.8h1.0v1.0h-1.0zM207.4 271.5h1.0v1.0h-1.0zM208.8 274.9h1.0v1.0h-1.0zM182.8 248.5h1.0v1.0h-1.0zM189.7 271.5h1.0v1.0h-1.0zM205.1 248.4h1.0v1.0h-1.0zM210.8 245.5h1.0v1.0h-1.0zM212.9 284.2h1.0v1.0h-1.0zM175.2 253.1h1.0v1.0h-1.0zM190.7 281.0h1.0v1.0h-1.0zM180.4 243.0h1.0v1.0h-1.0zM211.3 288.4h1.0v1.0h-1.0zM175.4 250.5h1.0v1.0h-1.0zM204.2 291.1h1.0v1.0h-1.0zM206.1 267.7h1.0v1.0h-1.0zM209.8 260.7h1.0v1.0h-1.0zM212.1 254.4h1.0v1.0h-1.0zM204.9 246.7h1.0v1.0h-1.0zM178.3 253.8h1.0v1.0h-1.0zM197.5 248.9h1.0v1.0h-1.0zM207.4 265.7h1.0v1.0h-1.0zM208.7 250.0h1.0v1.0h-1.0zM200.1 246.2h1.0v1.0h-1.0zM189.6 244.1h1.0v1.0h-1.0zM179.5 263.7h1.0v1.0h-1.0zM223.0 258.8h1.0v1.0h-1.0zM208.1 284.4h1.0v1.0h-1.0zM176.2 255.0h1.0v1.0h-1.0zM192.8 245.6h1.0v1.0h-1.0zM192.0 245.4h1.0v1.0h-1.0zM190.6 282.3h1.0v1.0h-1.0zM181.1 249.6h1.0v1.0h-1.0zM195.8 248.7h1.0v1.0h-1.0zM199.0 252.4h1.0v1.0h-1.0zM207.2 268.2h1.0v1.0h-1.0zM190.0 245.3h1.0v1.0h-1.0zM182.3 260.8h1.0v1.0h-1.0zM193.3 248.7h1.0v1.0h-1.0zM213.1 262.7h1.0v1.0h-1.0zM176.4 254.5h1.0v1.0h-1.0zM189.1 290.2h1.0v1.0h-1.0zM179.8 248.0h1.0v1.0h-1.0zM197.3 248.6h1.0v1.0h-1.0zM184.2 265.3h1.0v1.0h-1.0zM178.3 261.5h1.0v1.0h-1.0zM209.3 285.4h1.0v1.0h-1.0zM207.4 273.8h1.0v1.0h-1.0zM188.7 273.8h1.0v1.0h-1.0zM188.4 270.9h1.0v1.0h-1.0zM196.4 246.0h1.0v1.0h-1.0zM206.3 266.2h1.0v1.0h-1.0zM193.8 238.8h1.0v1.0h-1.0zM210.5 278.9h1.0v1.0h-1.0zM204.2 240.2h1.0v1.0h-1.0zM208.1 259.8h1.0v1.0h-1.0zM181.4 264.8h1.0v1.0h-1.0zM186.7 279.7h1.0v1.0h-1.0zM177.0 249.3h1.0v1.0h-1.0zM188.9 245.0h1.0v1.0h-1.0zM187.7 267.7h1.0v1.0h-1.0zM186.1 274.9h1.0v1.0h-1.0zM192.7 242.2h1.0v1.0h-1.0zM177.6 261.8h1.0v1.0h-1.0zM179.3 254.4h1.0v1.0h-1.0zM184.1 288.7h1.0v1.0h-1.0zM201.2 252.7h1.0v1.0h-1.0zM180.3 263.6h1.0v1.0h-1.0zM180.8 262.3h1.0v1.0h-1.0zM181.9 243.9h1.0v1.0h-1.0zM177.9 263.2h1.0v1.0h-1.0zM190.6 243.8h1.0v1.0h-1.0zM175.9 269.7h1.0v1.0h-1.0zM206.2 259.9h1.0v1.0h-1.0zM197.1 246.6h1.0v1.0h-1.0zM180.9 247.5h1.0v1.0h-1.0z" fill="#000"/>
<path d="M172.00 292.10H175.00M175.00 292.10V295.10M173.00 287.83H175.00M180.60 292.10V294.10M173.00 285.34H175.00M183.87 292.10V294.10M173.00 283.57H175.00M186.20 292.10V294.10M173.00 282.19H175.00M188.00 292.10V294.10M173.00 281.07H175.00M189.47 292.10V294.10M173.00 280.12H175.00M190.72 292.10V294.10M173.00 279.30H175.00M191.80 292.10V294.10M173.00 278.57H175.00M192.75 292.10V294.10M172.00 277.93H175.00M193.60 292.10V295.10M173.00 273.66H175.00M199.20 292.10V294.10M173.00 271.16H175.00M202.47 292.10V294.10M173.00 269.39H175.00M204.80 292.10V294.10M173.00 268.02H175.00M206.60 292.10V294.10M173.00 266.89H175.00M208.07 292.10V294.10M173.00 265.95H175.00M209.32 292.10V294.10M173.00 265.12H175.00M210.40 292.10V294.10M173.00 264.40H175.00M211.35 292.10V294.10M172.00 263.75H175.00M212.20 292.10V295.10M173.00 259.48H175.00M217.80 292.10V294.10M173.00 256.99H175.00M221.07 292.10V294.10M173.00 255.22H175.00M223.40 292.10V294.10M173.00 253.84H175.00M225.20 292.10V294.10M173.00 252.72H175.00M226.67 292.10V294.10M173.00 251.77H175.00M227.92 292.10V294.10M173.00 250.95H175.00M229.00 292.10V294.10M173.00 250.22H175.00M229.95 292.10V294.10M172.00 249.58H175.00M230.80 292.10V295.10M173.00 245.31H175.00M236.40 292.10V294.10M173.00 242.81H175.00M239.67 292.10V294.10M173.00 241.04H175.00M242.00 292.10V294.10M173.00 239.67H175.00M243.80 292.10V294.10M173.00 238.54H175.00M245.27 292.10V294.10M173.00 237.60H175.00M246.52 292.10V294.10M173.00 236.77H175.00M247.60 292.10V294.10M173.00 236.05H175.00M248.55 292.10V294.10" stroke="#000" stroke-width="0.75" fill="none"/>
<g transform="translate(175.2 302.0)"><text x="-5.53" y="0" font-family="'Liberation Sans', sans-serif" font-size="7.4" font-weight="bold" transform="scale(0.76 1)">10</text><text x="3.25" y="-4.0" font-family="'Liberation Sans', sans-serif" font-size="5.6" font-weight="bold" transform="scale(0.8 1)">0</text></g>
<g transform="translate(193.2 302.0)"><text x="-5.53" y="0" font-family="'Liberation Sans', sans-serif" font-size="7.4" font-weight="bold" transform="scale(0.76 1)">10</text><text x="3.25" y="-4.0" font-family="'Liberation Sans', sans-serif" font-size="5.6" font-weight="bold" transform="scale(0.8 1)">1</text></g>
<g transform="translate(211.3 302.0)"><text x="-5.53" y="0" font-family="'Liberation Sans', sans-serif" font-size="7.4" font-weight="bold" transform="scale(0.76 1)">10</text><text x="3.25" y="-4.0" font-family="'Liberation Sans', sans-serif" font-size="5.6" font-weight="bold" transform="scale(0.8 1)">2</text></g>
<g transform="translate(229.3 302.0)"><text x="-5.53" y="0" font-family="'Liberation Sans', sans-serif" font-size="7.4" font-weight="bold" transform="scale(0.76 1)">10</text><text x="3.25" y="-4.0" font-family="'Liberation Sans', sans-serif" font-size="5.6" font-weight="bold" transform="scale(0.8 1)">3</text></g>
<g transform="translate(247.4 302.0)"><text x="-5.53" y="0" font-family="'Liberation Sans', sans-serif" font-size="7.4" font-weight="bold" transform="scale(0.76 1)">10</text><text x="3.25" y="-4.0" font-family="'Liberation Sans', sans-serif" font-size="5.6" font-weight="bold" transform="scale(0.8 1)">4</text></g>
<g transform="translate(169.6 292.1) rotate(-90)"><text x="-5.66" y="0" font-family="'Liberation Sans', sans-serif" font-size="7.8" font-weight="bold" transform="scale(0.76 1)">10</text><text x="3.62" y="-4.3" font-family="'Liberation Sans', sans-serif" font-size="5.6" font-weight="bold" transform="scale(0.8 1)">0</text></g>
<g transform="translate(169.6 277.9) rotate(-90)"><text x="-5.66" y="0" font-family="'Liberation Sans', sans-serif" font-size="7.8" font-weight="bold" transform="scale(0.76 1)">10</text><text x="3.62" y="-4.3" font-family="'Liberation Sans', sans-serif" font-size="5.6" font-weight="bold" transform="scale(0.8 1)">1</text></g>
<g transform="translate(169.6 263.8) rotate(-90)"><text x="-5.66" y="0" font-family="'Liberation Sans', sans-serif" font-size="7.8" font-weight="bold" transform="scale(0.76 1)">10</text><text x="3.62" y="-4.3" font-family="'Liberation Sans', sans-serif" font-size="5.6" font-weight="bold" transform="scale(0.8 1)">2</text></g>
<g transform="translate(169.6 249.6) rotate(-90)"><text x="-5.66" y="0" font-family="'Liberation Sans', sans-serif" font-size="7.8" font-weight="bold" transform="scale(0.76 1)">10</text><text x="3.62" y="-4.3" font-family="'Liberation Sans', sans-serif" font-size="5.6" font-weight="bold" transform="scale(0.8 1)">3</text></g>
<g transform="translate(169.6 235.4) rotate(-90)"><text x="-5.66" y="0" font-family="'Liberation Sans', sans-serif" font-size="7.8" font-weight="bold" transform="scale(0.76 1)">10</text><text x="3.62" y="-4.3" font-family="'Liberation Sans', sans-serif" font-size="5.6" font-weight="bold" transform="scale(0.8 1)">4</text></g>
<text x="210.20" y="308.40" font-family="'Liberation Sans', sans-serif" font-size="6.8" font-weight="normal" text-anchor="middle" stroke="#000" stroke-width="0.25">CD11B</text>
<text transform="translate(159.80 264.75) rotate(-90)" font-family="'Liberation Sans', sans-serif" font-size="6.4" text-anchor="middle" stroke="#000" stroke-width="0.2">GFP</text>
<text x="241.70" y="250.00" font-family="'Liberation Serif', serif" font-size="8.2" font-weight="normal" text-anchor="middle" >30</text>
<rect x="59.50" y="327.80" width="74.60" height="55.20" fill="none" stroke="#000" stroke-width="1.25"/>
<line x1="84.80" y1="327.80" x2="84.80" y2="383.00" stroke="#000" stroke-width="1"/>
<line x1="59.50" y1="368.00" x2="134.10" y2="368.00" stroke="#000" stroke-width="1"/>
<path d="M103.8 333.5l-1 .4-2-.4-2 .7-4 2.7-2 2.2-2 .3-.7 .9 .3 2.1-1.2 1-.8 2-.3 3-2.4 4 .8 1-.3 1 .7 1.2-2-1.8-1.4 .6-.6 1.6-.7-.6 .5-2-.8-.6-1 1.6 1.8 3-2.8 .1-1 .9 1.5 2-.8 5 1.3 1.8 1-1.3 2 1.8 .2-.3-.2-2.6-2 .3-.8-.7 1.8-2.7 1 .6 1-.4 0 1.1-1-.4-.8 .8 .8 .9 1-.4 .9 1.5 1.1 .2 .9 .9 .2-1.1 .8-.7 1 .5 1 1.2 2 .6 1.3 2.5-.5 1 .4 1-2.2-.7-1.4 1.7-1.6-.5-3.9 2.3-1-1-1 1.7-1.6 .5 .6 .7 3-1.2 .3 .5-1.3 3 .2 1 .8 .4 2-.4 1.9 1.1 1-1.2 2 1.6 1-.3 2 .8 2-1.1 2 1.3 2-.5 3 .4 3.4-1.1 .5-.9 2 .2 .6-.3-.1-1 .6-1 2.7-1 0-1-.8-.8-1.5-.2-4.5-2.6-.9 .7-2-1.4-3 .8-.5-.5-.1-2 1.6-.6 2.8-2.5 .1-1 1.1-.3 .5-1.7 1.8-2 1.4-4-.1-2 1.1-2 0-1-.8-1 .7-1 .5-4-1.2-3-.1-2.1-2-1-.2-1 .7-2-1.4-1.3-2.3-.7-.6-1.8 M84.9 371.3l0 .5 .4-.3-.4-.2 M85.9 368.2l0 .5 0-.5 M105.8 365.7l-.9 .7 .9 .7 .5-.7-.5-.7 M100.8 344.4l.4 2 1.4 1 1.1 2-.1 4-.8 2.1-.9-.1-.2-1-.5 3-1.4 1.7-1 .4-1-1.1-2-.1-.3-2.9 .5-1-1.2-1.4-.1-1.6 .9-3 1.2-1.6 3-2.3 1-.1 M84.9 350.3l-.4 .1 .4-.1 M99.8 371.8l-3 .8-1-.9-.7 .8-1.3 .1-2-1-1 1.4-4.4 1.5 1.1 1-2.2 1-.8 1 .2 1 3.1 .7 1-.5 1 .2 2 1.4 2 0 1 .7 2-.9 2 .6 5 .3 2-1.3 .9 .2 2-4.2 1 1 2-.4 .6-.8-3.6-1.8-2-.6-.9 .3-2-.9-3 .6-1-1.3 M94.8 369.6l-.5 .9 .5 .4 .6-.4-.6-.9 M101.8 334l-2 .5-4 2.3-2 2.4-1.9 1.1 .5 1-.6 1.1-2 1-1.6 6 .1 2-1.4 6.7-1-.5-1-2-1.3 .8 .5 1-.2 1 1.3 1-2.3-1.3-3 .3 1.4 2-.4 1.2 1 .2 1-.9 1 .4 1-.3 .8 .4 .2 1.1 .8-.1 1.1-1.4 1.9 3.4 1.1 1.2 2.6 .8 1.4 3 2-.5 1 .5 3-.8 2.7-2.2 2-3 2-2 .8-3 .7-1-.3-2 1.1-2-.5-2 1.1-5-1.5-2-.2-2.4-2-2.5-.1-1.2 .7-1-4.5-1.4-1-1.9 M80.9 365l-.5 .4 .5 .7 .5-.7-.5-.4 M85.9 364l0 .7 .6-.3-.6-.4 M101.2 344.4l.6 1.4 1.3 .6 1.3 4-.5 4-4.1 5.3-3 0-1.9-2.3-1.2-7 5.1-6.9 2 .1 .4 .8 M90.8 340.1l0 .7 .8-.5-.8-.2 M104.8 373.1l-1-.2-3 .8-1-1-6 .6-1-.8-1 2-3 0-.7 2 3.7 3.2 1-.2 2 .9 2-.8 6 .8 2-1 3.2-3.9-.3-.8-1.9-.5-1-1.1 M99.8 335l-3.6 2.3-2 2-2.4 4-1 .3-1.9 5.8 .3 4-1 1-.4 2 .5 1-.7 1 3.2 6.3 3.4 1.7-.2 1 .8 .9 1 .3 1-.6 1 .9 5-2.8 1.5-1.7 .1-1 2.5-2 1.9-7 0-6 .9-.9 .2-1.1-1.2-.8-1 0 .7-2.2-2.7-5.1-2.9-1.6-1-1.2-2-.5 M101.2 343.4l3.1 4 .8 3-.6 1 .2 2-1.9 4.1-3.7 2.9-.3 1-1 .3-.8-.3 .2-1-2.4-1.8-2-7.2 .8-3 1.6-1 .6-1.6 1.5-1.4 0-1 1.5-.9 2.4 .9 M82.9 358.9l-1.4 .5 1.4 .6 .5-.6-.5-.5 M84.9 357.1l0 1.4 0-1.4 M94.8 378.7l-.6 .8 .6 .4 .8-.4-.8-.8 M97.8 373.4l-2 .7-3-.7-.5 1.1-2.9 2 1.3 2 1.1 .5 2-1.1 2 1.4 3-.1 3 .6 1.3-.3 .7-1.3 1.1 .3 .7-3-.8-1-1 .1-1-.8-2 .5-1-.7-2-.2 M106.7 375.4l-.3 .1 .3-.1 M95.8 366.7l-1 .1-.3 .6 1.3 .2 0-.9 M100.8 336l-2 .6-.6 .7 .9 1-.3 .5-2-.3-2 .8-.9 2-1.3 1.1-1.6 3 .8 1.3-1 .1-1.4 2.6 .7 4-.3 1.2-1-.2-.1 1 .1 1.2 1.7 .8-.6 2 1.7 2-.2 1 1.4 1.5 .4 1.5 2.6 .8 2 1.9 5.7-3.7 0-1 3-3 .6-4 1.2-2 .1-6 .8-2-2.5 .1-2.2-2.1 .3-.5 1.9 1.3 .9-.8-.3-2-2.5-3.9-1-.2-3-2.3 M100.1 341.3l.7 .7 1 0 1.4 1.4 .3 2 1.5 2-.1 1 1 2-.1 2.4-3.1 5.6 .6 1-.2 1-2.3-.3-2 1.9-2 .1-1-1.4-1-.3-1.4-3 .3-1-1.3-2-.4-5 2.7-3 1.2-3 3.3-2.1 .9 0 M99.8 374.1l-4 1.1-1-.6-2 0-1.1 .9 1.1 2.3 1-.7 1 .1 1 1.1 2 .5 4-.1 2-1.3 1 .2 0-1.2-2-1.6-2 0-1-.7 M101.8 363.4l-5 .2-.2 .8 1.2 .8 2-.1 1 .5 1.7-1.2-.7-1 M93.8 362.1l-1.1 .3 1.1 .2 0-.5 M100.8 361.1l-1 .4-.4 .9 .4 .8 1.7-.8-.1-1-.6-.3 M102.8 361.4l0 .6 .7-.6-.7 0 M90.8 358.1l0 1.6 .5-.3-.5-1.3 M104.8 357.2l-.6 1.2 .6 2 1-2-1-1.2 M92.8 356.3l-1.4 .1 1.4-.1 M106.7 351.1l-.4 1.3 .3 1-1.4 2 .6 .7 .9-.1 1-1.6-.6-1 .6-1.6-1-.7 M90.8 351.6l0 1.6 .7-.8-.7-.8 M106.7 347.3l-.9 0-.2 1.1 1.1 1.6 1 0 0-2-1-.7 M93.8 345.6l-1-.1 0 2 1.1-1.1-.1-.8 M91.8 345.3l.5 .1-.5-.1 M94.8 341.7l-2 1.2 0 1.9 1 .4 1-1.4 .6-1.4-.6-.7 M106.7 342.8l-.6 .6 .6 .5 0-1.1 M105.8 341.1l-1 0-1.5 1.3 2.5 .9 .8-.9-.8-1.3 M96.8 339.3l-1.5 1-.3 1 .8 .7 2.9-1.7-1.9-1 M102.8 338.3l-1-.8-1 1.2-1 .3-.5 1.3 1.5-.3 2 1.4 .5-1.1-.5-2" fill="none" stroke="#000" stroke-width="0.9" stroke-linejoin="round"/>
<path d="M83.3 345.8h1.0v1.0h-1.0zM96.1 350.5h1.0v1.0h-1.0zM109.1 376.7h1.0v1.0h-1.0zM94.1 350.6h1.0v1.0h-1.0zM101.3 355.2h1.0v1.0h-1.0zM81.0 364.7h1.0v1.0h-1.0zM90.1 340.6h1.0v1.0h-1.0zM81.0 375.1h1.0v1.0h-1.0zM77.8 367.6h1.0v1.0h-1.0zM91.7 371.0h1.0v1.0h-1.0zM83.1 374.7h1.0v1.0h-1.0zM110.2 381.3h1.0v1.0h-1.0zM95.0 354.3h1.0v1.0h-1.0zM87.4 379.2h1.0v1.0h-1.0zM90.7 339.2h1.0v1.0h-1.0zM101.0 353.7h1.0v1.0h-1.0zM103.6 350.1h1.0v1.0h-1.0zM107.0 379.6h1.0v1.0h-1.0zM112.4 376.1h1.0v1.0h-1.0zM85.6 379.0h1.0v1.0h-1.0zM106.1 338.5h1.0v1.0h-1.0zM106.8 364.1h1.0v1.0h-1.0zM88.2 380.1h1.0v1.0h-1.0zM81.8 368.3h1.0v1.0h-1.0zM81.0 361.5h1.0v1.0h-1.0zM83.2 361.1h1.0v1.0h-1.0zM81.4 367.9h1.0v1.0h-1.0zM109.6 355.7h1.0v1.0h-1.0zM83.0 354.5h1.0v1.0h-1.0zM94.7 380.9h1.0v1.0h-1.0zM94.1 349.6h1.0v1.0h-1.0zM83.0 378.5h1.0v1.0h-1.0zM92.9 371.4h1.0v1.0h-1.0zM87.0 373.3h1.0v1.0h-1.0zM81.4 353.9h1.0v1.0h-1.0zM80.1 376.2h1.0v1.0h-1.0zM86.1 380.3h1.0v1.0h-1.0zM88.8 344.6h1.0v1.0h-1.0zM83.7 363.4h1.0v1.0h-1.0zM109.3 379.4h1.0v1.0h-1.0zM86.6 353.9h1.0v1.0h-1.0zM112.8 375.0h1.0v1.0h-1.0zM83.9 350.1h1.0v1.0h-1.0zM106.2 338.5h1.0v1.0h-1.0zM102.1 366.7h1.0v1.0h-1.0zM82.2 364.8h1.0v1.0h-1.0zM83.4 351.3h1.0v1.0h-1.0zM105.2 366.3h1.0v1.0h-1.0zM77.1 356.6h1.0v1.0h-1.0zM103.4 371.2h1.0v1.0h-1.0zM86.4 357.3h1.0v1.0h-1.0zM95.2 370.4h1.0v1.0h-1.0zM105.6 366.0h1.0v1.0h-1.0zM108.8 358.7h1.0v1.0h-1.0zM83.5 367.0h1.0v1.0h-1.0zM108.6 373.4h1.0v1.0h-1.0zM86.9 366.1h1.0v1.0h-1.0zM98.5 370.6h1.0v1.0h-1.0zM89.9 341.7h1.0v1.0h-1.0zM108.1 378.3h1.0v1.0h-1.0zM106.2 371.8h1.0v1.0h-1.0zM80.0 362.0h1.0v1.0h-1.0zM97.3 369.8h1.0v1.0h-1.0zM97.1 344.5h1.0v1.0h-1.0zM98.1 371.2h1.0v1.0h-1.0zM78.1 360.7h1.0v1.0h-1.0zM101.7 345.7h1.0v1.0h-1.0zM83.7 366.5h1.0v1.0h-1.0zM110.4 349.3h1.0v1.0h-1.0zM92.6 379.9h1.0v1.0h-1.0zM79.4 363.6h1.0v1.0h-1.0zM86.5 349.5h1.0v1.0h-1.0zM94.3 335.8h1.0v1.0h-1.0zM86.9 366.1h1.0v1.0h-1.0zM83.5 353.9h1.0v1.0h-1.0zM82.2 375.3h1.0v1.0h-1.0zM84.2 378.7h1.0v1.0h-1.0zM86.0 352.9h1.0v1.0h-1.0zM84.9 367.7h1.0v1.0h-1.0zM110.5 350.1h1.0v1.0h-1.0zM74.7 361.7h1.0v1.0h-1.0zM83.3 365.6h1.0v1.0h-1.0zM80.2 363.3h1.0v1.0h-1.0zM95.5 355.4h1.0v1.0h-1.0zM108.2 378.8h1.0v1.0h-1.0zM101.5 354.3h1.0v1.0h-1.0zM88.8 371.1h1.0v1.0h-1.0zM100.1 357.6h1.0v1.0h-1.0zM79.6 352.6h1.0v1.0h-1.0zM81.6 375.4h1.0v1.0h-1.0zM106.4 337.5h1.0v1.0h-1.0zM102.8 351.3h1.0v1.0h-1.0zM107.8 368.9h1.0v1.0h-1.0zM100.3 357.6h1.0v1.0h-1.0zM102.7 346.4h1.0v1.0h-1.0zM119.8 374.3h1.0v1.0h-1.0zM81.4 357.7h1.0v1.0h-1.0zM110.8 375.9h1.0v1.0h-1.0zM80.1 359.4h1.0v1.0h-1.0zM99.4 380.7h1.0v1.0h-1.0zM79.4 358.6h1.0v1.0h-1.0zM83.6 361.3h1.0v1.0h-1.0zM108.7 373.0h1.0v1.0h-1.0zM96.7 358.1h1.0v1.0h-1.0zM86.9 371.6h1.0v1.0h-1.0zM80.1 349.7h1.0v1.0h-1.0zM87.6 360.7h1.0v1.0h-1.0zM91.5 369.4h1.0v1.0h-1.0zM86.1 350.6h1.0v1.0h-1.0zM81.6 377.4h1.0v1.0h-1.0zM88.7 371.6h1.0v1.0h-1.0zM87.8 362.4h1.0v1.0h-1.0zM98.4 369.8h1.0v1.0h-1.0zM83.4 362.8h1.0v1.0h-1.0zM82.7 365.8h1.0v1.0h-1.0zM87.8 378.8h1.0v1.0h-1.0zM87.5 349.9h1.0v1.0h-1.0zM77.8 349.0h1.0v1.0h-1.0zM109.0 371.9h1.0v1.0h-1.0zM107.6 373.2h1.0v1.0h-1.0zM89.4 368.8h1.0v1.0h-1.0zM81.0 352.1h1.0v1.0h-1.0zM97.0 380.4h1.0v1.0h-1.0zM117.0 374.3h1.0v1.0h-1.0zM82.9 362.6h1.0v1.0h-1.0zM84.6 354.2h1.0v1.0h-1.0zM83.6 350.3h1.0v1.0h-1.0zM107.3 363.0h1.0v1.0h-1.0zM102.8 366.3h1.0v1.0h-1.0zM94.1 337.1h1.0v1.0h-1.0zM92.6 338.5h1.0v1.0h-1.0zM102.9 333.7h1.0v1.0h-1.0zM80.6 354.1h1.0v1.0h-1.0zM109.3 338.7h1.0v1.0h-1.0zM77.9 357.8h1.0v1.0h-1.0zM109.4 378.4h1.0v1.0h-1.0zM112.0 374.0h1.0v1.0h-1.0zM110.5 373.7h1.0v1.0h-1.0zM75.5 353.4h1.0v1.0h-1.0zM91.1 371.4h1.0v1.0h-1.0zM83.7 374.2h1.0v1.0h-1.0zM104.6 369.3h1.0v1.0h-1.0zM102.0 332.7h1.0v1.0h-1.0zM108.9 349.6h1.0v1.0h-1.0zM80.2 365.7h1.0v1.0h-1.0zM86.8 351.9h1.0v1.0h-1.0zM116.2 375.8h1.0v1.0h-1.0zM110.2 354.3h1.0v1.0h-1.0zM98.8 344.4h1.0v1.0h-1.0zM84.8 374.3h1.0v1.0h-1.0zM94.3 349.5h1.0v1.0h-1.0zM83.1 374.0h1.0v1.0h-1.0zM100.5 332.7h1.0v1.0h-1.0zM79.5 378.6h1.0v1.0h-1.0zM83.6 357.7h1.0v1.0h-1.0zM76.7 360.1h1.0v1.0h-1.0zM105.8 334.8h1.0v1.0h-1.0zM110.9 351.4h1.0v1.0h-1.0zM85.7 363.3h1.0v1.0h-1.0zM84.2 363.4h1.0v1.0h-1.0zM77.8 353.1h1.0v1.0h-1.0zM107.4 372.4h1.0v1.0h-1.0zM114.8 376.9h1.0v1.0h-1.0zM99.6 343.4h1.0v1.0h-1.0zM79.3 362.7h1.0v1.0h-1.0zM108.9 343.4h1.0v1.0h-1.0zM87.2 364.3h1.0v1.0h-1.0zM75.6 370.2h1.0v1.0h-1.0zM104.2 336.0h1.0v1.0h-1.0zM85.7 352.2h1.0v1.0h-1.0zM101.2 371.7h1.0v1.0h-1.0zM83.8 360.9h1.0v1.0h-1.0zM109.8 344.6h1.0v1.0h-1.0zM99.5 371.1h1.0v1.0h-1.0zM109.3 352.3h1.0v1.0h-1.0zM111.7 375.5h1.0v1.0h-1.0zM84.9 367.0h1.0v1.0h-1.0zM87.2 361.8h1.0v1.0h-1.0zM112.4 375.9h1.0v1.0h-1.0zM94.3 349.1h1.0v1.0h-1.0zM101.0 347.0h1.0v1.0h-1.0zM106.5 380.4h1.0v1.0h-1.0zM96.1 380.8h1.0v1.0h-1.0zM84.0 370.7h1.0v1.0h-1.0zM107.8 358.0h1.0v1.0h-1.0zM106.2 372.0h1.0v1.0h-1.0zM108.9 348.5h1.0v1.0h-1.0zM94.9 370.8h1.0v1.0h-1.0zM78.9 376.1h1.0v1.0h-1.0zM78.7 376.5h1.0v1.0h-1.0zM81.9 363.5h1.0v1.0h-1.0zM94.2 371.6h1.0v1.0h-1.0zM102.7 370.7h1.0v1.0h-1.0zM102.7 353.1h1.0v1.0h-1.0zM96.3 372.4h1.0v1.0h-1.0zM80.1 362.9h1.0v1.0h-1.0zM83.9 342.9h1.0v1.0h-1.0zM82.6 348.1h1.0v1.0h-1.0zM83.1 353.0h1.0v1.0h-1.0zM94.0 368.5h1.0v1.0h-1.0zM104.8 363.7h1.0v1.0h-1.0zM73.2 362.7h1.0v1.0h-1.0zM86.4 356.4h1.0v1.0h-1.0zM81.4 362.1h1.0v1.0h-1.0zM73.1 357.4h1.0v1.0h-1.0zM114.6 373.8h1.0v1.0h-1.0zM83.7 373.3h1.0v1.0h-1.0zM71.6 364.2h1.0v1.0h-1.0zM80.0 372.0h1.0v1.0h-1.0zM105.0 363.3h1.0v1.0h-1.0zM102.6 334.5h1.0v1.0h-1.0zM83.5 368.9h1.0v1.0h-1.0zM77.2 362.0h1.0v1.0h-1.0zM114.5 375.5h1.0v1.0h-1.0zM78.8 354.9h1.0v1.0h-1.0zM102.8 381.5h1.0v1.0h-1.0zM85.2 370.8h1.0v1.0h-1.0zM108.3 340.7h1.0v1.0h-1.0zM114.2 379.0h1.0v1.0h-1.0zM105.6 335.4h1.0v1.0h-1.0zM74.7 379.0h1.0v1.0h-1.0zM70.5 376.4h1.0v1.0h-1.0zM73.5 379.6h1.0v1.0h-1.0zM76.4 380.2h1.0v1.0h-1.0zM78.1 378.7h1.0v1.0h-1.0zM72.1 379.3h1.0v1.0h-1.0zM67.2 380.4h1.0v1.0h-1.0zM69.9 377.4h1.0v1.0h-1.0zM69.4 379.4h1.0v1.0h-1.0zM70.2 380.8h1.0v1.0h-1.0zM77.9 379.6h1.0v1.0h-1.0zM69.6 378.2h1.0v1.0h-1.0zM61.5 378.1h1.0v1.0h-1.0zM81.0 378.6h1.0v1.0h-1.0zM71.3 355.0h1.0v1.0h-1.0zM88.7 344.7h1.0v1.0h-1.0zM73.0 363.7h1.0v1.0h-1.0zM85.0 360.1h1.0v1.0h-1.0zM82.0 346.1h1.0v1.0h-1.0zM82.4 356.4h1.0v1.0h-1.0zM69.4 350.9h1.0v1.0h-1.0zM74.8 355.4h1.0v1.0h-1.0zM82.0 362.7h1.0v1.0h-1.0zM83.5 354.9h1.0v1.0h-1.0zM70.9 352.7h1.0v1.0h-1.0zM76.8 364.3h1.0v1.0h-1.0zM76.2 353.8h1.0v1.0h-1.0zM86.2 361.9h1.0v1.0h-1.0zM69.9 364.8h1.0v1.0h-1.0zM71.6 356.0h1.0v1.0h-1.0zM78.5 350.2h1.0v1.0h-1.0zM77.0 358.8h1.0v1.0h-1.0zM68.3 363.0h1.0v1.0h-1.0zM74.5 365.1h1.0v1.0h-1.0zM76.9 356.7h1.0v1.0h-1.0zM79.5 368.2h1.0v1.0h-1.0zM81.5 353.6h1.0v1.0h-1.0zM68.2 353.4h1.0v1.0h-1.0zM77.9 357.3h1.0v1.0h-1.0zM80.9 359.9h1.0v1.0h-1.0zM74.6 354.5h1.0v1.0h-1.0zM71.1 360.7h1.0v1.0h-1.0zM78.0 362.7h1.0v1.0h-1.0zM75.1 362.9h1.0v1.0h-1.0zM75.2 354.5h1.0v1.0h-1.0zM80.6 352.9h1.0v1.0h-1.0zM73.5 356.6h1.0v1.0h-1.0zM87.7 346.5h1.0v1.0h-1.0zM74.9 359.2h1.0v1.0h-1.0zM82.0 355.1h1.0v1.0h-1.0zM79.9 360.1h1.0v1.0h-1.0zM70.7 356.8h1.0v1.0h-1.0zM82.8 363.8h1.0v1.0h-1.0z" fill="#000"/>
<path d="M56.50 383.00H59.50M59.50 383.00V386.00M57.50 378.85H59.50M65.11 383.00V385.00M57.50 376.42H59.50M68.40 383.00V385.00M57.50 374.69H59.50M70.73 383.00V385.00M57.50 373.35H59.50M72.54 383.00V385.00M57.50 372.26H59.50M74.01 383.00V385.00M57.50 371.34H59.50M75.26 383.00V385.00M57.50 370.54H59.50M76.34 383.00V385.00M57.50 369.83H59.50M77.30 383.00V385.00M56.50 369.20H59.50M78.15 383.00V386.00M57.50 365.05H59.50M83.76 383.00V385.00M57.50 362.62H59.50M87.05 383.00V385.00M57.50 360.89H59.50M89.38 383.00V385.00M57.50 359.55H59.50M91.19 383.00V385.00M57.50 358.46H59.50M92.66 383.00V385.00M57.50 357.54H59.50M93.91 383.00V385.00M57.50 356.74H59.50M94.99 383.00V385.00M57.50 356.03H59.50M95.95 383.00V385.00M56.50 355.40H59.50M96.80 383.00V386.00M57.50 351.25H59.50M102.41 383.00V385.00M57.50 348.82H59.50M105.70 383.00V385.00M57.50 347.09H59.50M108.03 383.00V385.00M57.50 345.75H59.50M109.84 383.00V385.00M57.50 344.66H59.50M111.31 383.00V385.00M57.50 343.74H59.50M112.56 383.00V385.00M57.50 342.94H59.50M113.64 383.00V385.00M57.50 342.23H59.50M114.60 383.00V385.00M56.50 341.60H59.50M115.45 383.00V386.00M57.50 337.45H59.50M121.06 383.00V385.00M57.50 335.02H59.50M124.35 383.00V385.00M57.50 333.29H59.50M126.68 383.00V385.00M57.50 331.95H59.50M128.49 383.00V385.00M57.50 330.86H59.50M129.96 383.00V385.00M57.50 329.94H59.50M131.21 383.00V385.00M57.50 329.14H59.50M132.29 383.00V385.00M57.50 328.43H59.50M133.25 383.00V385.00" stroke="#000" stroke-width="0.75" fill="none"/>
<g transform="translate(59.7 392.9)"><text x="-5.53" y="0" font-family="'Liberation Sans', sans-serif" font-size="7.4" font-weight="bold" transform="scale(0.76 1)">10</text><text x="3.25" y="-4.0" font-family="'Liberation Sans', sans-serif" font-size="5.6" font-weight="bold" transform="scale(0.8 1)">0</text></g>
<g transform="translate(77.8 392.9)"><text x="-5.53" y="0" font-family="'Liberation Sans', sans-serif" font-size="7.4" font-weight="bold" transform="scale(0.76 1)">10</text><text x="3.25" y="-4.0" font-family="'Liberation Sans', sans-serif" font-size="5.6" font-weight="bold" transform="scale(0.8 1)">1</text></g>
<g transform="translate(95.9 392.9)"><text x="-5.53" y="0" font-family="'Liberation Sans', sans-serif" font-size="7.4" font-weight="bold" transform="scale(0.76 1)">10</text><text x="3.25" y="-4.0" font-family="'Liberation Sans', sans-serif" font-size="5.6" font-weight="bold" transform="scale(0.8 1)">2</text></g>
<g transform="translate(114.0 392.9)"><text x="-5.53" y="0" font-family="'Liberation Sans', sans-serif" font-size="7.4" font-weight="bold" transform="scale(0.76 1)">10</text><text x="3.25" y="-4.0" font-family="'Liberation Sans', sans-serif" font-size="5.6" font-weight="bold" transform="scale(0.8 1)">3</text></g>
<g transform="translate(132.1 392.9)"><text x="-5.53" y="0" font-family="'Liberation Sans', sans-serif" font-size="7.4" font-weight="bold" transform="scale(0.76 1)">10</text><text x="3.25" y="-4.0" font-family="'Liberation Sans', sans-serif" font-size="5.6" font-weight="bold" transform="scale(0.8 1)">4</text></g>
<g transform="translate(54.1 383.0) rotate(-90)"><text x="-5.66" y="0" font-family="'Liberation Sans', sans-serif" font-size="7.8" font-weight="bold" transform="scale(0.76 1)">10</text><text x="3.62" y="-4.3" font-family="'Liberation Sans', sans-serif" font-size="5.6" font-weight="bold" transform="scale(0.8 1)">0</text></g>
<g transform="translate(54.1 369.2) rotate(-90)"><text x="-5.66" y="0" font-family="'Liberation Sans', sans-serif" font-size="7.8" font-weight="bold" transform="scale(0.76 1)">10</text><text x="3.62" y="-4.3" font-family="'Liberation Sans', sans-serif" font-size="5.6" font-weight="bold" transform="scale(0.8 1)">1</text></g>
<g transform="translate(54.1 355.4) rotate(-90)"><text x="-5.66" y="0" font-family="'Liberation Sans', sans-serif" font-size="7.8" font-weight="bold" transform="scale(0.76 1)">10</text><text x="3.62" y="-4.3" font-family="'Liberation Sans', sans-serif" font-size="5.6" font-weight="bold" transform="scale(0.8 1)">2</text></g>
<g transform="translate(54.1 341.6) rotate(-90)"><text x="-5.66" y="0" font-family="'Liberation Sans', sans-serif" font-size="7.8" font-weight="bold" transform="scale(0.76 1)">10</text><text x="3.62" y="-4.3" font-family="'Liberation Sans', sans-serif" font-size="5.6" font-weight="bold" transform="scale(0.8 1)">3</text></g>
<g transform="translate(54.1 327.8) rotate(-90)"><text x="-5.66" y="0" font-family="'Liberation Sans', sans-serif" font-size="7.8" font-weight="bold" transform="scale(0.76 1)">10</text><text x="3.62" y="-4.3" font-family="'Liberation Sans', sans-serif" font-size="5.6" font-weight="bold" transform="scale(0.8 1)">4</text></g>
<text x="94.80" y="399.30" font-family="'Liberation Sans', sans-serif" font-size="6.8" font-weight="normal" text-anchor="middle" stroke="#000" stroke-width="0.25">CD11B</text>
<text transform="translate(44.30 356.40) rotate(-90)" font-family="'Liberation Sans', sans-serif" font-size="6.4" text-anchor="middle" stroke="#000" stroke-width="0.2">GFP</text>
<text x="127.00" y="343.70" font-family="'Liberation Serif', serif" font-size="8.2" font-weight="normal" text-anchor="middle" >98</text>
<rect x="174.30" y="327.80" width="75.10" height="55.20" fill="none" stroke="#000" stroke-width="1.25"/>
<line x1="200.30" y1="327.80" x2="200.30" y2="383.00" stroke="#000" stroke-width="1"/>
<line x1="174.30" y1="368.40" x2="249.40" y2="368.40" stroke="#000" stroke-width="1"/>
<path d="M216.7 382.5l.2-1 3 .4 4-4.4 2 .7 .7-.7-.3-1 1.1-1 .3-1-2.8-2.3-.3-.7 .6-1-1.3-1.6-1 1.6-1 .1-2-2.5-1 .9-2-.3-1 1.5-1 0-2-1.8-2.1 1.3-2-1.3 1.6-1 .4-2 2.1-1.5 2 1.9 .4-.4 .6-2 1.4-1-.5-1 1.1-1.8 2 1.1 1.7-1.3 0-2-.9-2 1.2-.2 .6-.8-1.1-1 .5-.9 1 .3 2-.9 .5-.5-.1-1-.4-.7-1 .9-.8-.2-1.2-1.8-1 3.1-1 .3-1-3.2-.7 2.6-.6 0-.5-1 .8-2.4 2 .2 1 .8 .8-.6 0-1-.8-.8-1.5-.2 0-1 1.2-1-.7-.7-1 .5-.2-.8 .6-1-.4-.5-1-.4-1.7 .9 .7 1-1 2.1-1-1.6-3.1-.1-1-1.9-2-.1-1 1.3-2-1.4-2 .9-1-.7-1 2-1.9-.5-.4-1 2.3-.3 .7-.8-1.8-2-1.9-1.4-1 1-1-.2-1-1.2-1.6 .8-.4 2.8-1-.6-1.5 1.9-.2 2-1.1 1-.2 2-1.1 0 .6-1-.3-1 .8-1-1-1.6-.9 1.6 .7 1-1.4 1-.4 2.1-1 .5-1-1.4-1.5 .8 .6 1-1.4 1 .6 1-.2 1-1.8 2 .7 1.5 1.5 .5 .5 1.5 2-.1 .4 .6-.4 1 .4 1-1.4 .9-1-.2-.6 1.3 .6 .7 2-.4 2 1.2 1-1.7 1 0 .5 1.2-.3 1 3 1-.5 1 1.3 2.5 4 1.2 .8-.6 0-2.1-.8-1.5 2 3.2 3 1.2 .8-.8-.2-1.1 1.4-1 2 .3 0 .9-.7 .9-2.3 0-.9 1-.1 1-2 0-3 2-2-.3-2.5 3.3 1.5 3 0 1.3 2.3-.3 .2 1-.8 1 M199.7 382.5l-1-1 .1-.5 2 .8 .8-.3 .2-1.1 .1 1.1 1.1 1 M205.3 382.5l.1-1 5.4-.4 1 1.1 2.1-.5 1 .8 M223.9 379.2l-.5 1.3 .5 1.2 .4-1.2-.4-1.3 M227.9 380.2l-1.3 .3 1.3 .2 0-.5 M187.8 372.8l-.6 .7 .6 .8 .7-.8-.7-.7 M192.8 372.6l-1.4 .9 .4 .5 1 .2 .9-.7-.9-.9 M193.8 372.3l0 .4 0-.4 M185.8 368.1l0 1.6 .4-1.3-.4-.3 M205.8 367.9l-1-.3-.5 .8 1.5 .6 .7-.6-.7-.5 M222.9 368.3l0 .3 0-.3 M187.8 367.2l-1.3 .2 .3 .5 1-.2 0-.5 M212.9 365.7l-1.8 .7 1.8 .8 .7-.8-.7-.7 M188.8 364l-.4 1.4 1.4 .4 .5-.4-1.5-1.4 M195 364.4l-.2 .5-.2-.5 .4 0 M217.9 363.7l-1.9 .7 1.9 .8 .7-.8-.7-.7 M220.9 361.8l-1 0-.6 1.6 .6 .7 2 .1 .8-.8-1.8-1.6 M217.9 361.3l-.4 .1 .4-.1 M222.9 359.6l-1.7 .8 1.7 1.5 .7-1.5-.7-.8 M227.9 358.7l-.8 .7 .8 1.4 .7-1.4-.7-.7 M184.8 358.6l-.6 .8 .6 .7 1-.7-1-.8 M224.9 355.9l-1-.2-.8 .7 .8 1.4 1.5-.4-.5-1.5 M185.1 355.4l-.3 1.3-.7-1.3 1 0 M221.9 355.9l-.7 .5 1 0-.3-.5 M218.9 354.4l0 1.2 0-1.2 M222.9 354.9l-.7 .5 .7 .5 .5-.5-.5-.5 M226.9 354.2l0 1.5 0-1.5 M181.8 352.3l0 .9 0-.9 M223.9 349.1l-.5 .3 .5 .5 .3-.5-.3-.3 M225.9 347l-.6 2.4 .6 .4 .6-1.4-.6-1.4 M181.8 347.7l-.6 .7 .6 .7 .8-.7-.8-.7 M222.9 348.1l-.6 .3 .6 .5 .4-.5-.4-.3 M227.9 347.1l-.4 1.3 .4 .2 0-1.5 M185.8 347.1l-.4 .3 .4 .2 0-.5 M184.8 345.1l-2.2 1.3 2.2 .8 .6-.8-.6-1.3 M222.9 342.6l-.8 .8 .8 .7 .6-.7-.6-.8 M196.2 341.3l.7 1.1-1.9 0 .8-1.5 .4 .4 M213.9 338.1l-.6 2.2 1.3 1-1 1.1 1.3 .4 1.3-1.5-2.3-3.2 M221.9 342.2l0 .4 0-.4 M187.8 340.1l0 1.5 0-1.5 M205.8 339.1l-1.3 1.2 .3 .4 1 .2 .8-.6-.8-1.2 M208.8 339.9l-1-.4-.8 .8 .8 .8 1-.2 .4-.6-.4-.4 M192.8 339.1l-1.2 .2 1.2 .6 .4-.6-.4-.2 M202.8 338.6l-1.7 .7 .7 .8 1 0 .8-.8-.8-.7 M207.8 335.9l-1.3 .4 1.3 2.6 1.5-1.6-1.5-1.4 M198.8 335.7l-.8 .6 .8 .8 .7-.8-.7-.6 M209.8 336.2l-.3 .1 .3-.1 M199.1 382.5l-.7 0 M207.8 368l-.6 1.5-1.4 .7-2-.2-1 2.2-2-.4-3 2.2-2 .4-1.8 2.1 .8 1 0 1.2 1-.3 1 .9 2 .1 1-1 .4 1.1-.7 1 1.3 .2 1-1 .9 .8-.2 1 1.3 .7 1-1 5-.1 1-.7 1.2 .1-.2 1.2 1.1-.2 1.9-1 .1-1.1 1.1 .1 .9 1.5 2 .2 1-.2 1-2.6 1 .4 2-1.7 1-.1 2.3-2.5-1.3-1.4-1.5-.6-.5-1.5-2 .2-2-2.5-2 1.6-1-1.1-.5 1.3-1.5 .2-2-2-2.1 1.7-1-.9-1.2 0-.8-1.5 M216.2 382.5l-.3-.9-.5 .9 M192.8 373.3l-.3 .2 .3-.2 M196.8 366.9l-.8 .5 0 1 .8 .8 .8-.8-.8-1.5 M201.8 367.7l-1-.2-.8 .9 1.8 .9 .6-.9-.6-.7 M194.8 366l-1.3 .4 .4 1 .9 .5 .8-.5-.8-1.4 M192.8 341l-.9 1.4 2.1 4-3.2 0-1 1.5-2-.1-1.4 1.6-2.1 1 1.5 1.8 1.9 .2-1.8 1 .7 1-.7 1 .1 2 1 1-.5 1 .5 1-1 1 .8 1.5 1-.3 1-1 1-.1 3 2.9 4-.7 2 2.4 2-.2 1.1 .5 .9 1.6 2-1.6 5 .8 .2-1.8 2.9-2.1 2 1.7 .4-.6 .1-1-1.7-2-.1-1 2.3 .8 .4-.8-.5-1 1.1 .4 1-1.6 .7 .2 .3 1.2 1-.7 1 .2 .1-1.7-1.1-.9-1 .3-.7-2.4 .7-.6 1 .4 .7-.8-.7-.7-2-.2-1-1-1 1.1-1.1-.2 1.9-1-.2-1 .8-2-.4-1.3 1 0 .7-.7-.7-.8-2 .4-2-1.5-2.1 .1-1-1.4-2 1.5-3-2.3-4 2.1-4-1.8-1 .2-.9 .5 1 1-1.1 .9-.8-.9 .8-1-2-.4-1-2 M208.5 365.4l-.7 .7-.5-.7 1.2 0 M200 363.4l-.4 0 .2-.7 .2 .7 M221.9 363.1l-1-.6-.9 .9 1.9 .3 0-.6 M184.8 362.2l-.6 .2 1 0-.4-.2 M222.9 360.2l-.6 .2 .6 .5 0-.7 M227.9 359.3l0 .4 0-.4 M181.8 354.1l0 .8 .5-.5-.5-.3 M184.8 352.7l-1 0-.5 .7-.2 1 .7 .5 1.5-.5 .4-1-.9-.7 M220.9 353.9l-.5 .5 .5 .3 .5-.3-.5-.5 M192 351.4l-.8 0 .8 0 M221.9 349.7l-.5 1.7 .5 .5 1.1-.5-1.1-1.7 M194.1 349.4l-.4 0 .4 0 M220.9 347.1l-2-.2-.5 .5 2.5 .5 0-.8 M196 346.4l-.2-.6 .2 .6 M190.8 345.2l0 1.1 0-1.1 M207.4 345.4l-.9 0 .9 0 M188.8 343.6l-.5 .8 .5 .5 .5-.5-.5-.8 M217.9 342l-.7 .4 .7 .8 .6-.8-.6-.4 M200.8 340.7l-1-.2-.6 .8 1.6 .6 .9-.6-.9-.6 M214.9 340.1l-.6 .2 .6 .3 0-.5 M195.8 337.9l-.9 .4-.3 1 1.2 .8 .8-.8-.8-1.4 M199.8 339.2l0 1 0-1 M219.9 369.4l-2 1.5-3 .4-2-2.2-2.1 1.9-1-1-2-.2-2.8 1.7-1.2-.2-1 1.5-1-.7-1 .1-1.6 1.3 .6 2.3-3 .1-1.3 1.6 2.3 1.4 3-1.6 .7 .2-.6 1 .9 .7 1-.1 1 1.3 1 .2 5 .2 2-.9 2.1 .5 1-1.4 1 .1 1 1.1 2 .5 1.3-2.2 1.7-.5 1-1.2 1.1-.3-1.2-1 1.1-.2 1.5-1.8-2.5-1.9-1 .4-2-2.6 M216.1 374.5l-.6 0 .6 0 M212.1 372.5l-1.3 0 1.3 0 M199.8 364.5l-.6 .9 .6 .3 .7-.3-.7-.9 M206.8 343.3l-1-.4-3 2.1-5-1.5-1 1.9 0 2-2-.9-2 .6-1-.3-2 1.7-2 .2-2.3 1.7 .3 1.4 3-.1 .2-1.3 .8-.5 1 1.1 2-1 0-2.2 1 .4 1 1.6-1.8 1.6-2.7 1 .5 1.3-1 .4-1-1.3-1.3 .6 .3 1-1.6 1 .3 2 1.3 .8 .7-.8-1.5-1 .8-.9 1 .8 1-1-.7 1.1 .4 1-.4 2 2 1-.2 1 1.9 2.3 1.5-.3-.7-1 1.2-.6 1 .1 2 1.7 1-2 1-.2 1.3 1-1.2 2 2.9 1.8 1.7-.8 .1-1-.6-1 .8-.2 1 1.9 2-.2 1.6-1.5 1.4 .6 .3-1.6 .7-.4 2.6 1.4-1.8-3 1.3-1.4 2.1-.6-.1-2.1 0 1.1 1 .6 1.4-.6 .1-1-2.3-3-1.2 0-.6-1 1.3-1 .1-2 1-1-.4-1-3.4-2.2-1.1 .9-3-.7-2 1.2-2-.2 2.2-2-.2-1.1 M198.8 363.8l-.5 .6 .5 .7 1-.7-1-.6 M188.8 360.1l-1 .3 1 .2 0-.5 M192.3 356.4l0 2-.5 .5-1.6-1.5 1.6-1.7 .5 .7 M217.9 353.1l-.8 .3 .8 .4 .5-.4-.5-.3 M205.1 348.4l-.3 .3 0-.7 .3 .4 M213.2 347.4l-1.4 1 1.1-1.8 .3 .8 M193.8 343.9l-.4 .5 .4 .7 .5-.7-.5-.5 M210.8 344.2l0 .4 0-.4 M195.8 338.7l-.3 .6 .3 .3 0-.9 M217.9 371.4l-1-.2-2 .8-1-1.3-2.1 .3-.5 .5 1.6 1-1.1 1-1-.1-3-2.5-5 2.5-1-.8-1 .1-.9 .8 .3 3 2.6 .4 .9 2.6 2.1 .8 2-.5 2 .6 2-1.1 2.1 .1 1-.8 2 .8 2 0 3-2.6 1-2 1.1-.3 .1-1-4.2-.8-2-1.3 M201.8 378.1l0 .6 .5-.2-.5-.4 M198.8 376.4l-1.2 .1 .2 .8 1-.1 .5-.7-.5-.1 M215.2 373.5l1.7 .8 .6 1.2-1.6 0-1-.6-.5-.4 .5-1.4 .3 .4 M219.9 370.2l0 .5 0-.5 M200.8 345.2l-.3 1.2-3.1 2-2.6-1.4-.9 .4 2 4 1.8 1-.9 .3-1-1.3-1 1.7-1-1.2-1.6 .5-.6 1 1.3 2 0 3 .9 1 4 2.9 .7-1.9 1.3 .3 2.3 1.7-.9 2 .6 .4 2-1.9 3 .3 2-2.8 .5 1-.7 1 2.2-.4 2.8-3.6 .4-2 2.3-1-2.2-2-.4-1 1.2-1-.3-2 1-1-.7-.6-1 .2-2.1 2.1-1.2-.7 1.1-2-1.9-1.5-3 1.3-.9 1.2 .9 .8 2-1.6 .4 .8-.4 .9-2 1.1-1-1.8-1 1.2-.8-.4 .5-2-1.7-1.5-2-.7 M203.8 364.1l-.5 .3 .5 .7 0-1 M207.8 363.3l0 .6 0-.6 M207.1 360.4l-1.3 1.2 1-2.2 .3 1 M190.8 359l0 .5 0-.5 M189.8 358.3l.6 .1-.6-.1 M212.6 356.4l0 1-.8 .8-.7-1.8 1.5 0 M216.9 355.7l-.4 .7 .4 .6 .9-.6-.9-.7 M186.8 355.2l0 .5 0-.5 M188.8 353.9l0 1 0-1 M212.2 353.4l-.4 .5-.2-.5 .6 0 M188.8 348.9l-1 .6 1 .4 .7-.5-.7-.5 M190.8 348.1l0 .7 .8-.4-.8-.3 M191.8 347.2l0 .9 0-.9 M197.8 345.7l0 1.3 .5-.6-.5-.7 M213.9 346.2l0 .4 0-.4 M207.8 371.9l-2.7 .6-1.6 1-.7 1.3-1.5-.3 .2-1-.8 0 .1 2.3 3 .7 .1 2 1.9 1.3 1 .2 1-1.4 2 1.3 3.1-1.5 1 .7 1-1.1 3 1 1-.1 1.8-2.4-1.8-1.5-1 .9-4.3-.4-.7-1.8-2.7 .8 .1-1-2.5-1.6 M207.7 376.5l.1 1-2.4-1 1.4-.5 .9 .5 M221.9 373.3l-2 1.2 1 1.5 1.5-1.5-.5-1.2 M213.9 371.8l-.9 1.7 .9 .6 .5-1.6-.5-.7 M216.9 372l-.8 .5 .8 .7 .5-.7-.5-.5 M197.8 361.2l-.5 .2 .5-.2 M202.8 361.2l-.6 .2 .6 .6 .7-.6-.7-.2 M201.8 360.1l-1-.5-.7 .8 1.7 .8 .5-.8-.5-.3 M202.8 347.1l-2-.2-1 .5-.6 1 1.1 2-.5 .6-1-.3-1-1.7-2-.9-.4 .3 1.2 3 1.2 .6 1-.3 .4 .7-1.4 1.1-1 .1-2 2.4-1-1.4-.5 1.8 .6 1-.6 1 2.5 1.3 .9-1.3 .2-2 .9-.6 1 .5 0 .5-1.6 1.6 1.6 1.5 .7-.5-.6-1 .9-.6 2 .1 1 2.1 2 1.2 1-3 1 .4 1 1.6 1-.5 2 1.5 1.2-1.8-3.1-2 .6-1-.6-1 1.9-.2 .7-.8-.5-1 .8-.8 1.1 .3 .6-2.5-.6-.8-1.1 1.2-1-.1-.8 .7 .5 2-1.7 .6-.6-.6 1.4-2-.6-1-4.2 .4-1.8-.4 .7-2-.9-1.3 M204.2 355.4l.6 1.2-1 .1-1.7-1.3 1.7-.6 .4 .6 M208.6 355.4l-1.2 0 1.2 0 M213.9 353.8l-1 0-1.6 1.6 1.6 .5 1.2-.5 .5-1-.7-.6 M193.8 353.1l-1-.1 0 1.1 1-.2 0-.8 M195.8 352.6l-.6 .8 .6 .8 1-.8-1-.8 M203.1 352.4l-.2 1-1.1 0 0-1.2 1.3 .2 M206.8 348l0 .6 0-.6" fill="none" stroke="#000" stroke-width="0.9" stroke-linejoin="round"/>
<path d="M208.5 342.3h1.0v1.0h-1.0zM203.1 342.6h1.0v1.0h-1.0zM187.8 375.0h1.0v1.0h-1.0zM184.2 380.4h1.0v1.0h-1.0zM184.9 367.9h1.0v1.0h-1.0zM190.7 362.6h1.0v1.0h-1.0zM227.8 347.3h1.0v1.0h-1.0zM227.5 380.4h1.0v1.0h-1.0zM175.2 360.5h1.0v1.0h-1.0zM179.8 340.3h1.0v1.0h-1.0zM221.6 345.3h1.0v1.0h-1.0zM221.2 360.0h1.0v1.0h-1.0zM205.0 338.5h1.0v1.0h-1.0zM213.8 339.6h1.0v1.0h-1.0zM183.2 355.6h1.0v1.0h-1.0zM192.2 345.1h1.0v1.0h-1.0zM198.1 378.5h1.0v1.0h-1.0zM220.9 348.7h1.0v1.0h-1.0zM216.5 361.4h1.0v1.0h-1.0zM225.6 348.3h1.0v1.0h-1.0zM201.5 340.5h1.0v1.0h-1.0zM196.0 365.1h1.0v1.0h-1.0zM223.1 354.0h1.0v1.0h-1.0zM199.6 339.9h1.0v1.0h-1.0zM203.9 382.0h1.0v1.0h-1.0zM196.5 336.3h1.0v1.0h-1.0zM225.4 351.8h1.0v1.0h-1.0zM189.0 368.5h1.0v1.0h-1.0zM214.0 379.6h1.0v1.0h-1.0zM185.1 369.0h1.0v1.0h-1.0zM193.5 342.0h1.0v1.0h-1.0zM213.4 337.7h1.0v1.0h-1.0zM218.5 342.3h1.0v1.0h-1.0zM222.8 368.3h1.0v1.0h-1.0zM226.5 356.5h1.0v1.0h-1.0zM216.3 363.5h1.0v1.0h-1.0zM201.5 368.7h1.0v1.0h-1.0zM175.8 359.1h1.0v1.0h-1.0zM197.1 379.9h1.0v1.0h-1.0zM218.0 345.0h1.0v1.0h-1.0zM216.0 339.2h1.0v1.0h-1.0zM183.8 351.8h1.0v1.0h-1.0zM213.7 344.3h1.0v1.0h-1.0zM183.5 350.9h1.0v1.0h-1.0zM217.5 368.9h1.0v1.0h-1.0zM184.7 358.8h1.0v1.0h-1.0zM213.3 339.1h1.0v1.0h-1.0zM182.0 363.2h1.0v1.0h-1.0zM202.4 341.9h1.0v1.0h-1.0zM221.7 341.9h1.0v1.0h-1.0zM200.7 367.1h1.0v1.0h-1.0zM204.9 339.7h1.0v1.0h-1.0zM209.5 335.9h1.0v1.0h-1.0zM226.6 375.1h1.0v1.0h-1.0zM184.9 346.4h1.0v1.0h-1.0zM213.8 342.2h1.0v1.0h-1.0zM180.9 348.1h1.0v1.0h-1.0zM216.7 341.5h1.0v1.0h-1.0zM216.5 343.5h1.0v1.0h-1.0zM185.7 355.9h1.0v1.0h-1.0zM205.7 341.6h1.0v1.0h-1.0zM193.0 377.0h1.0v1.0h-1.0zM194.8 368.0h1.0v1.0h-1.0zM203.3 381.6h1.0v1.0h-1.0zM194.6 379.5h1.0v1.0h-1.0zM195.1 343.0h1.0v1.0h-1.0zM204.7 339.4h1.0v1.0h-1.0zM223.1 348.5h1.0v1.0h-1.0zM204.2 367.9h1.0v1.0h-1.0zM214.2 380.5h1.0v1.0h-1.0zM220.4 362.2h1.0v1.0h-1.0zM184.4 345.5h1.0v1.0h-1.0zM195.4 364.7h1.0v1.0h-1.0zM184.0 356.6h1.0v1.0h-1.0zM222.0 340.1h1.0v1.0h-1.0zM193.6 366.4h1.0v1.0h-1.0zM197.0 341.0h1.0v1.0h-1.0zM189.4 365.1h1.0v1.0h-1.0zM231.8 351.1h1.0v1.0h-1.0zM190.5 376.9h1.0v1.0h-1.0zM186.9 340.9h1.0v1.0h-1.0zM193.9 338.2h1.0v1.0h-1.0zM187.8 346.6h1.0v1.0h-1.0zM220.3 351.8h1.0v1.0h-1.0zM220.5 358.6h1.0v1.0h-1.0zM209.9 342.2h1.0v1.0h-1.0zM215.8 362.2h1.0v1.0h-1.0zM187.6 340.1h1.0v1.0h-1.0zM190.0 364.4h1.0v1.0h-1.0zM189.0 337.3h1.0v1.0h-1.0zM215.3 340.4h1.0v1.0h-1.0zM218.9 362.5h1.0v1.0h-1.0zM209.0 369.0h1.0v1.0h-1.0zM223.4 366.9h1.0v1.0h-1.0zM217.8 337.7h1.0v1.0h-1.0zM176.5 361.6h1.0v1.0h-1.0zM194.7 340.9h1.0v1.0h-1.0zM224.7 357.2h1.0v1.0h-1.0zM188.0 345.7h1.0v1.0h-1.0zM214.1 343.7h1.0v1.0h-1.0zM191.8 364.4h1.0v1.0h-1.0zM180.6 364.3h1.0v1.0h-1.0zM197.5 367.1h1.0v1.0h-1.0zM207.0 335.3h1.0v1.0h-1.0zM183.7 350.3h1.0v1.0h-1.0zM190.3 345.5h1.0v1.0h-1.0zM198.3 341.9h1.0v1.0h-1.0zM197.9 337.6h1.0v1.0h-1.0zM196.0 378.8h1.0v1.0h-1.0zM199.2 370.2h1.0v1.0h-1.0zM215.3 360.6h1.0v1.0h-1.0zM187.8 372.7h1.0v1.0h-1.0zM187.0 345.6h1.0v1.0h-1.0zM200.8 380.9h1.0v1.0h-1.0zM199.7 366.9h1.0v1.0h-1.0zM208.9 343.5h1.0v1.0h-1.0zM221.1 353.6h1.0v1.0h-1.0zM201.6 365.8h1.0v1.0h-1.0zM235.0 354.2h1.0v1.0h-1.0zM188.6 363.6h1.0v1.0h-1.0zM217.1 360.7h1.0v1.0h-1.0zM232.2 378.0h1.0v1.0h-1.0zM181.2 355.4h1.0v1.0h-1.0zM178.0 365.6h1.0v1.0h-1.0zM181.3 351.6h1.0v1.0h-1.0zM177.8 354.8h1.0v1.0h-1.0zM183.8 348.1h1.0v1.0h-1.0zM225.8 346.7h1.0v1.0h-1.0zM225.1 349.1h1.0v1.0h-1.0zM195.7 378.9h1.0v1.0h-1.0zM225.7 365.1h1.0v1.0h-1.0zM198.5 336.0h1.0v1.0h-1.0zM224.0 349.9h1.0v1.0h-1.0zM214.0 341.5h1.0v1.0h-1.0zM180.8 348.1h1.0v1.0h-1.0zM184.1 359.4h1.0v1.0h-1.0zM193.6 375.6h1.0v1.0h-1.0zM196.8 340.0h1.0v1.0h-1.0zM182.9 362.3h1.0v1.0h-1.0zM223.4 351.2h1.0v1.0h-1.0zM224.6 350.7h1.0v1.0h-1.0zM191.0 374.5h1.0v1.0h-1.0zM223.5 369.0h1.0v1.0h-1.0zM197.9 365.5h1.0v1.0h-1.0zM184.0 347.7h1.0v1.0h-1.0zM181.9 353.4h1.0v1.0h-1.0zM191.0 368.3h1.0v1.0h-1.0zM219.5 359.6h1.0v1.0h-1.0zM183.1 361.1h1.0v1.0h-1.0zM219.3 364.7h1.0v1.0h-1.0zM185.3 361.3h1.0v1.0h-1.0zM198.7 340.7h1.0v1.0h-1.0zM203.5 366.7h1.0v1.0h-1.0zM182.1 354.9h1.0v1.0h-1.0zM207.9 339.9h1.0v1.0h-1.0zM196.3 381.8h1.0v1.0h-1.0zM219.3 381.0h1.0v1.0h-1.0zM226.1 355.1h1.0v1.0h-1.0zM220.3 379.2h1.0v1.0h-1.0zM185.0 352.7h1.0v1.0h-1.0zM191.9 363.8h1.0v1.0h-1.0zM223.3 362.6h1.0v1.0h-1.0zM206.2 335.6h1.0v1.0h-1.0zM182.1 350.3h1.0v1.0h-1.0zM193.5 364.8h1.0v1.0h-1.0zM195.7 363.6h1.0v1.0h-1.0zM222.3 355.4h1.0v1.0h-1.0zM194.9 379.6h1.0v1.0h-1.0zM217.6 343.5h1.0v1.0h-1.0zM202.4 368.6h1.0v1.0h-1.0zM197.1 381.1h1.0v1.0h-1.0zM204.3 335.6h1.0v1.0h-1.0zM183.9 348.7h1.0v1.0h-1.0zM209.5 342.1h1.0v1.0h-1.0zM232.1 376.0h1.0v1.0h-1.0zM218.1 349.6h1.0v1.0h-1.0zM224.2 369.7h1.0v1.0h-1.0zM227.3 360.4h1.0v1.0h-1.0zM176.4 351.1h1.0v1.0h-1.0zM207.1 337.7h1.0v1.0h-1.0zM181.8 369.2h1.0v1.0h-1.0zM188.0 343.1h1.0v1.0h-1.0zM187.6 373.1h1.0v1.0h-1.0zM193.8 371.6h1.0v1.0h-1.0zM215.3 381.2h1.0v1.0h-1.0zM191.7 372.9h1.0v1.0h-1.0zM197.2 340.0h1.0v1.0h-1.0zM208.5 337.0h1.0v1.0h-1.0zM216.1 350.9h1.0v1.0h-1.0zM219.6 355.4h1.0v1.0h-1.0zM198.2 335.3h1.0v1.0h-1.0zM219.7 367.9h1.0v1.0h-1.0zM191.3 339.0h1.0v1.0h-1.0zM214.2 365.3h1.0v1.0h-1.0zM229.4 377.7h1.0v1.0h-1.0zM225.4 344.6h1.0v1.0h-1.0zM219.5 362.1h1.0v1.0h-1.0zM194.9 372.6h1.0v1.0h-1.0zM218.8 351.9h1.0v1.0h-1.0zM211.8 366.2h1.0v1.0h-1.0zM226.6 353.8h1.0v1.0h-1.0zM237.1 375.8h1.0v1.0h-1.0zM219.2 354.5h1.0v1.0h-1.0zM192.7 339.2h1.0v1.0h-1.0zM199.0 368.3h1.0v1.0h-1.0zM223.1 370.0h1.0v1.0h-1.0zM212.2 343.9h1.0v1.0h-1.0zM186.1 344.8h1.0v1.0h-1.0zM221.7 379.3h1.0v1.0h-1.0zM183.6 346.3h1.0v1.0h-1.0zM184.0 345.2h1.0v1.0h-1.0zM229.2 353.6h1.0v1.0h-1.0zM217.2 343.0h1.0v1.0h-1.0zM213.5 359.8h1.0v1.0h-1.0zM183.7 332.3h1.0v1.0h-1.0zM195.3 368.7h1.0v1.0h-1.0zM184.3 339.9h1.0v1.0h-1.0zM216.6 349.3h1.0v1.0h-1.0zM205.7 368.2h1.0v1.0h-1.0zM193.0 367.7h1.0v1.0h-1.0z" fill="#000"/>
<path d="M171.30 383.00H174.30M174.30 383.00V386.00M172.30 378.85H174.30M179.95 383.00V385.00M172.30 376.42H174.30M183.26 383.00V385.00M172.30 374.69H174.30M185.60 383.00V385.00M172.30 373.35H174.30M187.42 383.00V385.00M172.30 372.26H174.30M188.91 383.00V385.00M172.30 371.34H174.30M190.17 383.00V385.00M172.30 370.54H174.30M191.26 383.00V385.00M172.30 369.83H174.30M192.22 383.00V385.00M171.30 369.20H174.30M193.08 383.00V386.00M172.30 365.05H174.30M198.73 383.00V385.00M172.30 362.62H174.30M202.03 383.00V385.00M172.30 360.89H174.30M204.38 383.00V385.00M172.30 359.55H174.30M206.20 383.00V385.00M172.30 358.46H174.30M207.68 383.00V385.00M172.30 357.54H174.30M208.94 383.00V385.00M172.30 356.74H174.30M210.03 383.00V385.00M172.30 356.03H174.30M210.99 383.00V385.00M171.30 355.40H174.30M211.85 383.00V386.00M172.30 351.25H174.30M217.50 383.00V385.00M172.30 348.82H174.30M220.81 383.00V385.00M172.30 347.09H174.30M223.15 383.00V385.00M172.30 345.75H174.30M224.97 383.00V385.00M172.30 344.66H174.30M226.46 383.00V385.00M172.30 343.74H174.30M227.72 383.00V385.00M172.30 342.94H174.30M228.81 383.00V385.00M172.30 342.23H174.30M229.77 383.00V385.00M171.30 341.60H174.30M230.62 383.00V386.00M172.30 337.45H174.30M236.28 383.00V385.00M172.30 335.02H174.30M239.58 383.00V385.00M172.30 333.29H174.30M241.93 383.00V385.00M172.30 331.95H174.30M243.75 383.00V385.00M172.30 330.86H174.30M245.23 383.00V385.00M172.30 329.94H174.30M246.49 383.00V385.00M172.30 329.14H174.30M247.58 383.00V385.00M172.30 328.43H174.30M248.54 383.00V385.00" stroke="#000" stroke-width="0.75" fill="none"/>
<g transform="translate(174.5 392.9)"><text x="-5.53" y="0" font-family="'Liberation Sans', sans-serif" font-size="7.4" font-weight="bold" transform="scale(0.76 1)">10</text><text x="3.25" y="-4.0" font-family="'Liberation Sans', sans-serif" font-size="5.6" font-weight="bold" transform="scale(0.8 1)">0</text></g>
<g transform="translate(192.7 392.9)"><text x="-5.53" y="0" font-family="'Liberation Sans', sans-serif" font-size="7.4" font-weight="bold" transform="scale(0.76 1)">10</text><text x="3.25" y="-4.0" font-family="'Liberation Sans', sans-serif" font-size="5.6" font-weight="bold" transform="scale(0.8 1)">1</text></g>
<g transform="translate(210.9 392.9)"><text x="-5.53" y="0" font-family="'Liberation Sans', sans-serif" font-size="7.4" font-weight="bold" transform="scale(0.76 1)">10</text><text x="3.25" y="-4.0" font-family="'Liberation Sans', sans-serif" font-size="5.6" font-weight="bold" transform="scale(0.8 1)">2</text></g>
<g transform="translate(229.1 392.9)"><text x="-5.53" y="0" font-family="'Liberation Sans', sans-serif" font-size="7.4" font-weight="bold" transform="scale(0.76 1)">10</text><text x="3.25" y="-4.0" font-family="'Liberation Sans', sans-serif" font-size="5.6" font-weight="bold" transform="scale(0.8 1)">3</text></g>
<g transform="translate(247.3 392.9)"><text x="-5.53" y="0" font-family="'Liberation Sans', sans-serif" font-size="7.4" font-weight="bold" transform="scale(0.76 1)">10</text><text x="3.25" y="-4.0" font-family="'Liberation Sans', sans-serif" font-size="5.6" font-weight="bold" transform="scale(0.8 1)">4</text></g>
<g transform="translate(168.9 383.0) rotate(-90)"><text x="-5.66" y="0" font-family="'Liberation Sans', sans-serif" font-size="7.8" font-weight="bold" transform="scale(0.76 1)">10</text><text x="3.62" y="-4.3" font-family="'Liberation Sans', sans-serif" font-size="5.6" font-weight="bold" transform="scale(0.8 1)">0</text></g>
<g transform="translate(168.9 369.2) rotate(-90)"><text x="-5.66" y="0" font-family="'Liberation Sans', sans-serif" font-size="7.8" font-weight="bold" transform="scale(0.76 1)">10</text><text x="3.62" y="-4.3" font-family="'Liberation Sans', sans-serif" font-size="5.6" font-weight="bold" transform="scale(0.8 1)">1</text></g>
<g transform="translate(168.9 355.4) rotate(-90)"><text x="-5.66" y="0" font-family="'Liberation Sans', sans-serif" font-size="7.8" font-weight="bold" transform="scale(0.76 1)">10</text><text x="3.62" y="-4.3" font-family="'Liberation Sans', sans-serif" font-size="5.6" font-weight="bold" transform="scale(0.8 1)">2</text></g>
<g transform="translate(168.9 341.6) rotate(-90)"><text x="-5.66" y="0" font-family="'Liberation Sans', sans-serif" font-size="7.8" font-weight="bold" transform="scale(0.76 1)">10</text><text x="3.62" y="-4.3" font-family="'Liberation Sans', sans-serif" font-size="5.6" font-weight="bold" transform="scale(0.8 1)">3</text></g>
<g transform="translate(168.9 327.8) rotate(-90)"><text x="-5.66" y="0" font-family="'Liberation Sans', sans-serif" font-size="7.8" font-weight="bold" transform="scale(0.76 1)">10</text><text x="3.62" y="-4.3" font-family="'Liberation Sans', sans-serif" font-size="5.6" font-weight="bold" transform="scale(0.8 1)">4</text></g>
<text x="209.85" y="399.30" font-family="'Liberation Sans', sans-serif" font-size="6.8" font-weight="normal" text-anchor="middle" stroke="#000" stroke-width="0.25">CD11B</text>
<text transform="translate(159.10 356.40) rotate(-90)" font-family="'Liberation Sans', sans-serif" font-size="6.4" text-anchor="middle" stroke="#000" stroke-width="0.2">GFP</text>
<text x="241.50" y="343.70" font-family="'Liberation Serif', serif" font-size="8.2" font-weight="normal" text-anchor="middle" >83</text>
<rect x="323.30" y="51.60" width="74.70" height="56.60" fill="none" stroke="#000" stroke-width="1.25"/>
<line x1="342.70" y1="51.60" x2="342.70" y2="108.20" stroke="#000" stroke-width="1"/>
<line x1="323.30" y1="96.00" x2="398.00" y2="96.00" stroke="#000" stroke-width="1"/>
<path d="M337.8 107.7l2.9-1.2 3 .9 2-1 1 .8 3-.1 2-.9 1 .3 3-2.3 1 .5 2.2-1-2.2-3-3-.7-1 0-1 .9-2-.5-1 .6-1-.8-2-.1-2 .5-2-.5-2 .7-1-1.1-1 0-1 1.3-2.9-.9-2 .2-1 .7-2 .2-2 1.3-2-.6-.6 .8-.2 1 1.6 1 .2 1.2 .1-1.2 .9-.9 2-.7 1.1 1.6-1 1 .9 .5 4 0 1 1.5 1-.5 1.9 .5 M362.6 104.6l-1.3 1.1 1.3 .4 .5-.4-.5-1.1 M362.6 102.1l-.6 .6 .6 .4 0-1 M323.8 85.1l2 1.8-1 .9 1.3 2-.2 1 1.5 3 .4 .3 1-.8 1 1.4 1-1.6 1 .1 1 1.3 2-.4 .3-.3-.3-.4-1.4-.6 1.4-.7 1.9 1.8 1 .3 1.5-.4-.5-1.4-1 .6 0-1.2 3-1.5 1.2-2.5 3.1-1.9-2.3-1.7-1 1.2-.6-.5 2.4-2-2.1-2 2-1 .1-2-.8-.7-1 .1-2-.8-.8-2.6 .8-1.4 1.5-.5-.1-1-2.4-.3-.2-.7-2.7-1.6 .3 1.6-.3 .5-2.8-.5 .3-1-.5-1.5-2.9 .5-.5 3-3 2.9 .2 1-.8 .2-1 2.6-1-.3 M323.8 79.2l1 .7-1 1.4 M340.7 75.6l0 1.3 0-1.3 M341.7 74.7l0 .5 0-.5 M323.8 73.9l.4-1-.4-.4 M328.8 67.4l-.6 .6 .6 .6 .9-.6-.9-.6 M353.7 101.4l-2 .9-3-.4-1-.9-1 .4-1-.4-3 .9-1-.9-4 2-1.9-1.2-1 .3-1-.9-.7 .5-.3 1.4-1.7 .6-.1 1 1.8 .8 1-.9 1 1.8 1-.3 3.9 .2 1-.9 2 0 1 1.1 3-1 3 .9 2-1.2 1 .2 1.9-2.7-.9-1.3 M330.8 70.2l-2.4 2.7-2.3 5 .7 .7 1.1-.7 .2 1-1.3 1.6-1-.3-1.4 1.7 .5 2 1.9 3.2 2 .5 .9 3.2-.3 1 1.1 0 .1-1 1.2-.3 1 .7 .4-.4-.3-2 .9-.1 1.6 1.1-.2 1 .6 1.2 2-1.2 1.5-2-.1-1 1.6-.9-.7-2 .3-4-1.4-2 2.2-1-2.5-.2-.4-4.8-.6-.8-1.9 .8 0 .8-1-1-.5 1.2-.5 .2-1-1.5-1 .3-1-2.7 M337.9 85.9l.7 1-.9 .8-.7-.8 .9-1 M327.2 83.9l.6 1.2-1.2-1.2 .2-.5 .4 .5 M323.8 83.4l.9-.5-.9-.5 M327.9 81.9l-1.1 .6-.2-.6 .2-.5 1 .1 .1 .4 M330 74.9l-.4 0 .4 0 M349.7 102.6l-1.7 .1 1.7 3 1.5-1 .1-1-1.6-1.1 M339.7 102.4l-1.5 1.3-.1 1 .6 .7 2.5-1.7-1.5-1.3 M344.7 104.3l-1.5 .4 .5 .6 1.7-.6-.7-.4 M347.7 104.3l-.5 .4 .5 .4 .4-.4-.4-.4 M334.8 74.6l-2-.4-1.4 .7-1.6 2.1-1.5 3.9 .5 2-.5 1 2.5 5.1 2-1.3 3 1 .9-3.8 1 .1 1.3-1.1-.3-.9-2 .3-.5-.4 2.3-2-.1-1-.7-1.8-1 .8-.9-1.1-1-1.9 .6-1-.6-.3 M336.8 79.9l-.1-.8 .1 .8 M328.8 75.5l-.8 .4-.2 1.1 1.9-.1-.9-1.4 M336.7 76.7l0 .7 0-.7 M339.7 103.2l-.7 .5 .7 .5 .5-.5-.5-.5 M333.8 75.7l-2 2.1-1-.6-1 1.7 0 1.5-.6 .5 .6 .5 1 4 1.3 .5 .5 1 1.2-.5 1 1.7 .5-.3-.2-1.9-1-1 1.2-1 .4-4-.8-3-1.1-1.2 M332.9 83.9l-.1-.5 .1 .5 M332.8 74.8l-.4 .1 .4 .4 .4-.4-.4-.1" fill="none" stroke="#000" stroke-width="0.9" stroke-linejoin="round"/>
<path d="M326.1 78.6h1.0v1.0h-1.0zM338.7 74.4h1.0v1.0h-1.0zM350.7 100.5h1.0v1.0h-1.0zM340.9 100.1h1.0v1.0h-1.0zM344.9 83.8h1.0v1.0h-1.0zM355.5 103.3h1.0v1.0h-1.0zM354.2 103.6h1.0v1.0h-1.0zM330.3 67.6h1.0v1.0h-1.0zM342.7 77.2h1.0v1.0h-1.0zM354.9 99.8h1.0v1.0h-1.0zM363.9 103.5h1.0v1.0h-1.0zM332.7 70.9h1.0v1.0h-1.0zM323.3 77.7h1.0v1.0h-1.0zM330.4 91.5h1.0v1.0h-1.0zM339.3 94.9h1.0v1.0h-1.0zM347.7 99.9h1.0v1.0h-1.0zM328.6 91.4h1.0v1.0h-1.0zM326.1 75.1h1.0v1.0h-1.0zM324.8 86.2h1.0v1.0h-1.0zM343.5 84.2h1.0v1.0h-1.0zM328.7 87.8h1.0v1.0h-1.0zM343.4 105.8h1.0v1.0h-1.0zM325.4 79.9h1.0v1.0h-1.0zM336.1 69.4h1.0v1.0h-1.0zM339.6 89.6h1.0v1.0h-1.0zM342.3 83.9h1.0v1.0h-1.0zM338.0 67.1h1.0v1.0h-1.0zM328.3 87.3h1.0v1.0h-1.0zM329.0 100.4h1.0v1.0h-1.0zM325.3 99.3h1.0v1.0h-1.0zM362.3 102.2h1.0v1.0h-1.0zM352.0 99.1h1.0v1.0h-1.0zM333.4 70.5h1.0v1.0h-1.0zM341.4 77.6h1.0v1.0h-1.0zM335.7 100.5h1.0v1.0h-1.0zM356.2 100.2h1.0v1.0h-1.0zM343.2 85.4h1.0v1.0h-1.0zM327.4 96.1h1.0v1.0h-1.0zM345.7 71.5h1.0v1.0h-1.0zM339.0 71.6h1.0v1.0h-1.0zM334.4 101.3h1.0v1.0h-1.0zM325.7 70.9h1.0v1.0h-1.0zM336.3 91.7h1.0v1.0h-1.0zM340.6 75.3h1.0v1.0h-1.0zM326.8 89.2h1.0v1.0h-1.0zM352.6 105.0h1.0v1.0h-1.0zM347.3 106.0h1.0v1.0h-1.0zM337.1 67.3h1.0v1.0h-1.0zM327.2 93.8h1.0v1.0h-1.0zM370.4 102.7h1.0v1.0h-1.0zM333.7 90.5h1.0v1.0h-1.0zM338.2 100.5h1.0v1.0h-1.0zM326.7 73.8h1.0v1.0h-1.0zM340.9 74.6h1.0v1.0h-1.0zM341.5 82.7h1.0v1.0h-1.0zM359.2 104.9h1.0v1.0h-1.0zM333.5 93.4h1.0v1.0h-1.0zM327.3 72.7h1.0v1.0h-1.0zM352.1 106.8h1.0v1.0h-1.0zM332.9 61.8h1.0v1.0h-1.0zM330.6 69.8h1.0v1.0h-1.0zM323.8 105.4h1.0v1.0h-1.0zM329.8 90.5h1.0v1.0h-1.0zM338.1 72.7h1.0v1.0h-1.0zM331.5 105.0h1.0v1.0h-1.0zM330.7 105.2h1.0v1.0h-1.0zM324.7 101.2h1.0v1.0h-1.0zM344.7 100.4h1.0v1.0h-1.0zM342.4 100.7h1.0v1.0h-1.0zM334.5 67.6h1.0v1.0h-1.0zM330.9 69.7h1.0v1.0h-1.0zM336.8 100.3h1.0v1.0h-1.0zM353.7 102.1h1.0v1.0h-1.0zM332.4 93.5h1.0v1.0h-1.0zM337.4 71.7h1.0v1.0h-1.0zM325.9 87.0h1.0v1.0h-1.0zM324.4 102.2h1.0v1.0h-1.0zM329.1 105.4h1.0v1.0h-1.0zM335.3 72.7h1.0v1.0h-1.0zM331.1 102.0h1.0v1.0h-1.0zM356.5 104.1h1.0v1.0h-1.0zM336.0 91.1h1.0v1.0h-1.0zM332.5 92.3h1.0v1.0h-1.0zM340.3 80.4h1.0v1.0h-1.0zM338.4 96.6h1.0v1.0h-1.0zM325.9 96.1h1.0v1.0h-1.0zM324.6 103.0h1.0v1.0h-1.0zM343.1 86.2h1.0v1.0h-1.0zM349.3 100.0h1.0v1.0h-1.0zM323.9 78.4h1.0v1.0h-1.0zM333.3 93.7h1.0v1.0h-1.0zM330.1 96.8h1.0v1.0h-1.0zM325.6 75.2h1.0v1.0h-1.0zM332.1 101.7h1.0v1.0h-1.0zM338.4 106.2h1.0v1.0h-1.0zM323.3 83.2h1.0v1.0h-1.0zM330.6 68.3h1.0v1.0h-1.0zM324.8 77.3h1.0v1.0h-1.0zM333.1 91.6h1.0v1.0h-1.0zM341.2 106.4h1.0v1.0h-1.0zM356.0 102.8h1.0v1.0h-1.0zM325.8 70.8h1.0v1.0h-1.0zM355.6 100.8h1.0v1.0h-1.0zM326.3 77.9h1.0v1.0h-1.0zM324.1 84.8h1.0v1.0h-1.0zM334.2 106.3h1.0v1.0h-1.0zM355.4 102.6h1.0v1.0h-1.0zM339.8 88.0h1.0v1.0h-1.0zM330.1 106.0h1.0v1.0h-1.0zM327.7 106.8h1.0v1.0h-1.0zM332.8 91.0h1.0v1.0h-1.0zM333.8 89.5h1.0v1.0h-1.0zM355.5 106.6h1.0v1.0h-1.0zM331.1 101.4h1.0v1.0h-1.0zM338.7 87.4h1.0v1.0h-1.0zM324.6 103.6h1.0v1.0h-1.0zM358.8 101.1h1.0v1.0h-1.0zM326.6 102.4h1.0v1.0h-1.0zM323.5 72.1h1.0v1.0h-1.0zM341.7 71.7h1.0v1.0h-1.0zM323.1 77.8h1.0v1.0h-1.0zM345.1 100.0h1.0v1.0h-1.0zM363.9 105.3h1.0v1.0h-1.0zM338.2 93.6h1.0v1.0h-1.0zM329.3 74.9h1.0v1.0h-1.0zM323.9 92.0h1.0v1.0h-1.0zM353.7 100.4h1.0v1.0h-1.0zM355.2 102.7h1.0v1.0h-1.0zM325.1 102.7h1.0v1.0h-1.0zM326.4 83.1h1.0v1.0h-1.0zM330.3 101.3h1.0v1.0h-1.0zM347.1 100.7h1.0v1.0h-1.0zM326.4 89.0h1.0v1.0h-1.0zM342.3 105.4h1.0v1.0h-1.0zM362.5 101.1h1.0v1.0h-1.0zM341.5 85.5h1.0v1.0h-1.0zM343.3 87.0h1.0v1.0h-1.0zM344.7 91.9h1.0v1.0h-1.0zM327.1 92.4h1.0v1.0h-1.0zM335.2 71.1h1.0v1.0h-1.0zM356.9 105.8h1.0v1.0h-1.0zM357.6 101.2h1.0v1.0h-1.0zM325.0 79.5h1.0v1.0h-1.0zM342.2 79.0h1.0v1.0h-1.0zM341.7 79.2h1.0v1.0h-1.0zM344.2 80.2h1.0v1.0h-1.0zM357.8 103.7h1.0v1.0h-1.0zM339.7 83.1h1.0v1.0h-1.0zM353.4 99.7h1.0v1.0h-1.0zM335.5 66.9h1.0v1.0h-1.0zM342.7 82.6h1.0v1.0h-1.0zM336.8 93.4h1.0v1.0h-1.0zM331.8 104.9h1.0v1.0h-1.0zM361.4 102.4h1.0v1.0h-1.0zM327.1 92.1h1.0v1.0h-1.0zM336.2 101.3h1.0v1.0h-1.0zM356.9 102.4h1.0v1.0h-1.0zM323.6 104.5h1.0v1.0h-1.0zM329.3 93.4h1.0v1.0h-1.0zM342.6 81.8h1.0v1.0h-1.0zM338.5 100.5h1.0v1.0h-1.0zM340.4 88.0h1.0v1.0h-1.0zM344.3 85.7h1.0v1.0h-1.0zM337.9 76.2h1.0v1.0h-1.0zM327.8 103.8h1.0v1.0h-1.0zM331.9 102.7h1.0v1.0h-1.0zM324.7 78.5h1.0v1.0h-1.0zM342.4 79.8h1.0v1.0h-1.0zM333.8 89.3h1.0v1.0h-1.0zM341.4 79.1h1.0v1.0h-1.0zM326.0 90.9h1.0v1.0h-1.0zM327.6 65.7h1.0v1.0h-1.0zM330.3 102.7h1.0v1.0h-1.0zM323.8 73.6h1.0v1.0h-1.0zM326.8 69.6h1.0v1.0h-1.0zM340.3 105.2h1.0v1.0h-1.0zM339.3 79.3h1.0v1.0h-1.0zM352.0 104.9h1.0v1.0h-1.0zM326.7 103.4h1.0v1.0h-1.0zM331.6 68.2h1.0v1.0h-1.0zM340.1 82.7h1.0v1.0h-1.0zM330.5 69.2h1.0v1.0h-1.0zM332.9 100.5h1.0v1.0h-1.0zM349.5 100.9h1.0v1.0h-1.0zM355.8 101.3h1.0v1.0h-1.0zM325.1 87.1h1.0v1.0h-1.0zM334.7 62.4h1.0v1.0h-1.0zM350.0 99.4h1.0v1.0h-1.0zM334.3 97.8h1.0v1.0h-1.0zM335.5 71.5h1.0v1.0h-1.0zM334.4 71.6h1.0v1.0h-1.0zM336.5 71.2h1.0v1.0h-1.0zM324.3 91.7h1.0v1.0h-1.0zM323.6 72.8h1.0v1.0h-1.0zM327.2 88.0h1.0v1.0h-1.0zM337.0 107.4h1.0v1.0h-1.0zM333.6 88.6h1.0v1.0h-1.0zM356.2 103.3h1.0v1.0h-1.0zM342.9 99.5h1.0v1.0h-1.0zM355.4 101.2h1.0v1.0h-1.0zM330.5 90.8h1.0v1.0h-1.0zM325.3 79.5h1.0v1.0h-1.0zM362.1 102.2h1.0v1.0h-1.0zM340.6 70.8h1.0v1.0h-1.0zM327.0 101.8h1.0v1.0h-1.0zM334.0 92.9h1.0v1.0h-1.0zM355.0 100.5h1.0v1.0h-1.0zM370.1 105.5h1.0v1.0h-1.0zM333.3 66.0h1.0v1.0h-1.0zM327.2 73.6h1.0v1.0h-1.0zM357.5 102.7h1.0v1.0h-1.0zM350.4 100.4h1.0v1.0h-1.0zM336.3 68.8h1.0v1.0h-1.0zM338.2 64.4h1.0v1.0h-1.0zM334.7 93.8h1.0v1.0h-1.0zM333.7 72.4h1.0v1.0h-1.0zM327.9 88.9h1.0v1.0h-1.0zM338.1 71.7h1.0v1.0h-1.0zM323.9 76.3h1.0v1.0h-1.0zM340.6 82.4h1.0v1.0h-1.0zM350.4 81.1h1.0v1.0h-1.0zM348.0 85.9h1.0v1.0h-1.0zM345.2 82.9h1.0v1.0h-1.0zM352.9 86.9h1.0v1.0h-1.0zM350.2 86.5h1.0v1.0h-1.0zM347.7 86.8h1.0v1.0h-1.0zM354.7 78.7h1.0v1.0h-1.0zM356.3 85.2h1.0v1.0h-1.0zM353.1 75.2h1.0v1.0h-1.0zM349.6 76.3h1.0v1.0h-1.0zM351.0 82.4h1.0v1.0h-1.0zM344.8 78.7h1.0v1.0h-1.0zM350.7 81.6h1.0v1.0h-1.0zM350.6 86.2h1.0v1.0h-1.0zM352.7 82.9h1.0v1.0h-1.0zM350.4 90.2h1.0v1.0h-1.0zM349.3 81.1h1.0v1.0h-1.0zM351.4 89.6h1.0v1.0h-1.0zM347.4 75.4h1.0v1.0h-1.0zM347.9 81.6h1.0v1.0h-1.0zM356.9 82.4h1.0v1.0h-1.0zM346.9 81.6h1.0v1.0h-1.0zM345.9 80.1h1.0v1.0h-1.0zM354.0 74.0h1.0v1.0h-1.0zM345.5 86.2h1.0v1.0h-1.0zM351.2 80.6h1.0v1.0h-1.0zM346.2 85.1h1.0v1.0h-1.0zM354.8 84.5h1.0v1.0h-1.0zM350.9 78.4h1.0v1.0h-1.0zM354.2 85.7h1.0v1.0h-1.0zM352.0 83.1h1.0v1.0h-1.0zM344.7 90.5h1.0v1.0h-1.0zM353.9 76.8h1.0v1.0h-1.0zM349.4 92.5h1.0v1.0h-1.0zM353.1 77.5h1.0v1.0h-1.0zM335.8 77.5h1.0v1.0h-1.0zM356.4 89.2h1.0v1.0h-1.0zM341.0 92.7h1.0v1.0h-1.0zM354.2 86.2h1.0v1.0h-1.0zM346.9 84.7h1.0v1.0h-1.0zM355.1 95.7h1.0v1.0h-1.0zM350.2 81.9h1.0v1.0h-1.0zM361.1 73.3h1.0v1.0h-1.0zM357.0 84.4h1.0v1.0h-1.0zM352.8 70.4h1.0v1.0h-1.0zM331.5 80.0h1.0v1.0h-1.0zM327.9 78.3h1.0v1.0h-1.0zM338.5 88.4h1.0v1.0h-1.0zM332.9 87.5h1.0v1.0h-1.0zM325.7 80.8h1.0v1.0h-1.0zM330.1 79.2h1.0v1.0h-1.0zM331.3 88.0h1.0v1.0h-1.0zM338.4 73.2h1.0v1.0h-1.0zM334.7 68.7h1.0v1.0h-1.0zM330.0 85.6h1.0v1.0h-1.0zM327.5 89.1h1.0v1.0h-1.0zM328.9 93.6h1.0v1.0h-1.0zM329.7 92.4h1.0v1.0h-1.0zM327.1 72.7h1.0v1.0h-1.0zM342.2 81.5h1.0v1.0h-1.0zM330.3 89.7h1.0v1.0h-1.0zM328.7 73.2h1.0v1.0h-1.0zM341.8 64.4h1.0v1.0h-1.0zM336.9 86.9h1.0v1.0h-1.0zM333.3 74.2h1.0v1.0h-1.0zM334.3 59.4h1.0v1.0h-1.0zM331.9 87.3h1.0v1.0h-1.0zM325.1 85.7h1.0v1.0h-1.0zM328.2 69.9h1.0v1.0h-1.0zM328.1 69.9h1.0v1.0h-1.0zM343.5 85.2h1.0v1.0h-1.0zM331.0 75.0h1.0v1.0h-1.0zM330.6 86.9h1.0v1.0h-1.0zM345.1 78.8h1.0v1.0h-1.0zM339.9 75.7h1.0v1.0h-1.0zM327.7 91.9h1.0v1.0h-1.0zM338.1 86.1h1.0v1.0h-1.0zM330.4 81.6h1.0v1.0h-1.0zM325.2 76.7h1.0v1.0h-1.0zM326.5 82.3h1.0v1.0h-1.0zM334.8 72.6h1.0v1.0h-1.0zM337.1 85.6h1.0v1.0h-1.0z" fill="#000"/>
<path d="M320.30 108.20H323.30M323.30 108.20V111.20M321.30 103.94H323.30M328.92 108.20V110.20M321.30 101.45H323.30M332.21 108.20V110.20M321.30 99.68H323.30M334.54 108.20V110.20M321.30 98.31H323.30M336.35 108.20V110.20M321.30 97.19H323.30M337.83 108.20V110.20M321.30 96.24H323.30M339.08 108.20V110.20M321.30 95.42H323.30M340.17 108.20V110.20M321.30 94.70H323.30M341.12 108.20V110.20M320.30 94.05H323.30M341.98 108.20V111.20M321.30 89.79H323.30M347.60 108.20V110.20M321.30 87.30H323.30M350.89 108.20V110.20M321.30 85.53H323.30M353.22 108.20V110.20M321.30 84.16H323.30M355.03 108.20V110.20M321.30 83.04H323.30M356.51 108.20V110.20M321.30 82.09H323.30M357.76 108.20V110.20M321.30 81.27H323.30M358.84 108.20V110.20M321.30 80.55H323.30M359.80 108.20V110.20M320.30 79.90H323.30M360.65 108.20V111.20M321.30 75.64H323.30M366.27 108.20V110.20M321.30 73.15H323.30M369.56 108.20V110.20M321.30 71.38H323.30M371.89 108.20V110.20M321.30 70.01H323.30M373.70 108.20V110.20M321.30 68.89H323.30M375.18 108.20V110.20M321.30 67.94H323.30M376.43 108.20V110.20M321.30 67.12H323.30M377.52 108.20V110.20M321.30 66.40H323.30M378.47 108.20V110.20M320.30 65.75H323.30M379.32 108.20V111.20M321.30 61.49H323.30M384.95 108.20V110.20M321.30 59.00H323.30M388.24 108.20V110.20M321.30 57.23H323.30M390.57 108.20V110.20M321.30 55.86H323.30M392.38 108.20V110.20M321.30 54.74H323.30M393.86 108.20V110.20M321.30 53.79H323.30M395.11 108.20V110.20M321.30 52.97H323.30M396.19 108.20V110.20M321.30 52.25H323.30M397.15 108.20V110.20" stroke="#000" stroke-width="0.75" fill="none"/>
<g transform="translate(323.5 118.1)"><text x="-5.53" y="0" font-family="'Liberation Sans', sans-serif" font-size="7.4" font-weight="bold" transform="scale(0.76 1)">10</text><text x="3.25" y="-4.0" font-family="'Liberation Sans', sans-serif" font-size="5.6" font-weight="bold" transform="scale(0.8 1)">0</text></g>
<g transform="translate(341.6 118.1)"><text x="-5.53" y="0" font-family="'Liberation Sans', sans-serif" font-size="7.4" font-weight="bold" transform="scale(0.76 1)">10</text><text x="3.25" y="-4.0" font-family="'Liberation Sans', sans-serif" font-size="5.6" font-weight="bold" transform="scale(0.8 1)">1</text></g>
<g transform="translate(359.7 118.1)"><text x="-5.53" y="0" font-family="'Liberation Sans', sans-serif" font-size="7.4" font-weight="bold" transform="scale(0.76 1)">10</text><text x="3.25" y="-4.0" font-family="'Liberation Sans', sans-serif" font-size="5.6" font-weight="bold" transform="scale(0.8 1)">2</text></g>
<g transform="translate(377.8 118.1)"><text x="-5.53" y="0" font-family="'Liberation Sans', sans-serif" font-size="7.4" font-weight="bold" transform="scale(0.76 1)">10</text><text x="3.25" y="-4.0" font-family="'Liberation Sans', sans-serif" font-size="5.6" font-weight="bold" transform="scale(0.8 1)">3</text></g>
<g transform="translate(396.0 118.1)"><text x="-5.53" y="0" font-family="'Liberation Sans', sans-serif" font-size="7.4" font-weight="bold" transform="scale(0.76 1)">10</text><text x="3.25" y="-4.0" font-family="'Liberation Sans', sans-serif" font-size="5.6" font-weight="bold" transform="scale(0.8 1)">4</text></g>
<g transform="translate(317.9 108.2) rotate(-90)"><text x="-5.66" y="0" font-family="'Liberation Sans', sans-serif" font-size="7.8" font-weight="bold" transform="scale(0.76 1)">10</text><text x="3.62" y="-4.3" font-family="'Liberation Sans', sans-serif" font-size="5.6" font-weight="bold" transform="scale(0.8 1)">0</text></g>
<g transform="translate(317.9 94.0) rotate(-90)"><text x="-5.66" y="0" font-family="'Liberation Sans', sans-serif" font-size="7.8" font-weight="bold" transform="scale(0.76 1)">10</text><text x="3.62" y="-4.3" font-family="'Liberation Sans', sans-serif" font-size="5.6" font-weight="bold" transform="scale(0.8 1)">1</text></g>
<g transform="translate(317.9 79.9) rotate(-90)"><text x="-5.66" y="0" font-family="'Liberation Sans', sans-serif" font-size="7.8" font-weight="bold" transform="scale(0.76 1)">10</text><text x="3.62" y="-4.3" font-family="'Liberation Sans', sans-serif" font-size="5.6" font-weight="bold" transform="scale(0.8 1)">2</text></g>
<g transform="translate(317.9 65.8) rotate(-90)"><text x="-5.66" y="0" font-family="'Liberation Sans', sans-serif" font-size="7.8" font-weight="bold" transform="scale(0.76 1)">10</text><text x="3.62" y="-4.3" font-family="'Liberation Sans', sans-serif" font-size="5.6" font-weight="bold" transform="scale(0.8 1)">3</text></g>
<g transform="translate(317.9 51.6) rotate(-90)"><text x="-5.66" y="0" font-family="'Liberation Sans', sans-serif" font-size="7.8" font-weight="bold" transform="scale(0.76 1)">10</text><text x="3.62" y="-4.3" font-family="'Liberation Sans', sans-serif" font-size="5.6" font-weight="bold" transform="scale(0.8 1)">4</text></g>
<text x="358.65" y="124.50" font-family="'Liberation Sans', sans-serif" font-size="6.8" font-weight="normal" text-anchor="middle" stroke="#000" stroke-width="0.25">CD11B-PE</text>
<text transform="translate(308.10 80.90) rotate(-90)" font-family="'Liberation Sans', sans-serif" font-size="6.4" text-anchor="middle" stroke="#000" stroke-width="0.2">GFP</text>
<rect x="437.50" y="51.60" width="75.10" height="56.70" fill="none" stroke="#000" stroke-width="1.25"/>
<line x1="456.10" y1="51.60" x2="456.10" y2="108.30" stroke="#000" stroke-width="1"/>
<line x1="437.50" y1="95.40" x2="512.60" y2="95.40" stroke="#000" stroke-width="1"/>
<path d="M445.3 107.8l2.7-1.2 2 .6 2-.7 2 .9 1-.6 3 0 1 .8 2-1 4 .1 2-1.2 3 .6 1.3-.3 .2-1 1.5-.7 1 1 .9-1.3-.1-1-.8-.6-1 .9-3-1.4-1 .6-2 0-.8-.5-.2-1.2-1 1.2-2-1.7-.7 .7-1.3 .2-2-1.2-2.9 1-1.1-.5-3 .1-1-1.6-.2-1.9-.8-1 1-.3 .8-3.7-.8-1 .3-1-.5-2-1-1 1.7-2-2.7-2 .8-2-.7-.9 0-2-.9-.7-2.1-.3-.9-1-1 .1-1-.9-1 1.6-2 1.1-.7 1.1-.2 1 1.3 .9-1 3 .9 2-1.6 1 0 2 1.7 1-.6 2 .7 1-1.4 4 .3 1.9 2.5 7 2.1 1-1.6 1 M478.1 102.7l0 .3 0-.3 M448 72.2l-1.5 3.8 .5 .6 1.7-.6-.7-3.8 M442 74.7l0 .7 .6-.4-.6-.3 M445 74.7l-.4 .3 .4 .7 .5-.7-.5-.3 M446 71l-.7 1 .7 .4 .6-.4-.6-1 M443 76.7l-1.6 1.3-.1 3.9-1.3 1.7 1.1 3.3-1.6 1 1.6 2-.7 1 1 2-1 2 .3 1-.6 1 .9 1.8 1-1.4 .4 1.5-.4 .5-1-.2-.4 .7 1.5 3 .2 2 2.7 2 3-1.1 2 .9 2-.6 2 .9 3-.7 2 .5 2-.6 3 .1 4-1.7 .7-.7-.7-.7-1 .2-4-2.1-2 .3-3-.9-1 .5-3-.2-1 .6-2-.4-1 .7-1-.5-.7-1.5 .7-1 0-2.9 1.1-1 .3-2 .8-1-1.6-1 .5-3-1.2-1 1.6-2-2.4-2 .9-2-1-1.6-.9-.3 .1-1-4.2-1.3 M470 104.2l-1.3 .6 1.3 .4 .4-.4-.4-.6 M470 102.6l0 .7 .9-.5-.9-.2 M450 98l-.9 .8 .9 .4 0-1.2 M450 105.3l0 .7 .8-.2-.8-.5 M446 77.9l-3.3 .1 .3 .6 1.1 .4-1.7 1.9 .2 1-1.5 1 .5 4-1.2 1 .9 1-.4 2 1.2 2-1.3 2 2 2 1.2 2.8 1-.7 .3 .8-1.3 .2-1-.7-1 1-.3 .5 1 2 .1 2 1.2 .7 3 .2 2-.5 1-1.3 1 1.2 3 1.4 3-.8 2 .7 7-1.4 .5-1.2-1.5-1-6-1.6-3 .3-1-.4-2 .9-2-.3-1 .6-1.5-.5-.8-2 .7-1-1.5-.9 2.1-3-.1-6-.7-2 1.4-2-2.5-2-.1-1 1 0 .6-1-1.6-1.1-1-1.9 M459 101.7l-3 .3-1-.5-1 .7-3.9 .6 3.9 3.2 1-.6 3 0 1 .6 5.5-1.2 .3-1-.8-.9-5-1.2 M447 104.6l-.4 .2 .4-.2 M445 100.8l-1.4 2 .4 .4 1 .4 3.6-.8-.6-.5-1 .5-1-1.8-1-.2 M445 80.6l-1.2 .3-.8 1.9-1.1 .1 1 2-.8 1 0 1 .9 1-1.6 3 1.1 2-.2 3 2.7 2.2 1-.1 2-3.1 .4-5-1.5-1 .7-1 .1-2 1.1-1-1.8-1.3-.7-1.7-1.3-1.3 M448 80.8l-.8 .1 .8-.1 M459 102.2l-3.5 .6-.8 1 .4 1 .9 .6 2-.7 1 .7 1-.6-.4-2-.6-.6 M462 102.7l-1.8 1.1 0 1 2.2 0 .4-1-.8-1.1 M446 82.6l-1.8 .3 0 2-1.5 2 1.1 1-.1 1-.3 1-1.4 1 1 2-.2 3 1.2 .7 2-.7-.7-1 1.7-1.4 .1-1.6 .7-1-1.6-2 1-2-1.2-4.3" fill="none" stroke="#000" stroke-width="0.9" stroke-linejoin="round"/>
<path d="M440.9 101.3h1.0v1.0h-1.0zM449.1 96.7h1.0v1.0h-1.0zM447.7 75.7h1.0v1.0h-1.0zM440.6 97.9h1.0v1.0h-1.0zM439.2 104.0h1.0v1.0h-1.0zM437.7 90.1h1.0v1.0h-1.0zM468.2 104.9h1.0v1.0h-1.0zM441.8 72.3h1.0v1.0h-1.0zM465.8 101.6h1.0v1.0h-1.0zM438.7 79.8h1.0v1.0h-1.0zM446.0 72.0h1.0v1.0h-1.0zM466.8 102.6h1.0v1.0h-1.0zM445.4 74.4h1.0v1.0h-1.0zM445.5 105.9h1.0v1.0h-1.0zM440.8 85.9h1.0v1.0h-1.0zM449.1 79.3h1.0v1.0h-1.0zM442.8 75.0h1.0v1.0h-1.0zM439.5 95.2h1.0v1.0h-1.0zM437.9 78.5h1.0v1.0h-1.0zM438.2 86.6h1.0v1.0h-1.0zM451.0 85.9h1.0v1.0h-1.0zM448.7 95.7h1.0v1.0h-1.0zM438.5 88.2h1.0v1.0h-1.0zM457.0 105.8h1.0v1.0h-1.0zM443.0 75.6h1.0v1.0h-1.0zM444.8 76.7h1.0v1.0h-1.0zM448.2 80.8h1.0v1.0h-1.0zM442.7 107.0h1.0v1.0h-1.0zM477.6 102.2h1.0v1.0h-1.0zM458.1 106.1h1.0v1.0h-1.0zM458.3 107.1h1.0v1.0h-1.0zM438.5 97.9h1.0v1.0h-1.0zM471.0 105.0h1.0v1.0h-1.0zM447.4 71.9h1.0v1.0h-1.0zM468.0 101.9h1.0v1.0h-1.0zM453.5 99.9h1.0v1.0h-1.0zM440.7 80.0h1.0v1.0h-1.0zM439.0 90.7h1.0v1.0h-1.0zM447.3 72.3h1.0v1.0h-1.0zM467.6 101.8h1.0v1.0h-1.0zM468.5 103.1h1.0v1.0h-1.0zM450.6 84.5h1.0v1.0h-1.0zM439.7 79.8h1.0v1.0h-1.0zM447.6 78.1h1.0v1.0h-1.0zM440.4 77.6h1.0v1.0h-1.0zM446.5 70.3h1.0v1.0h-1.0zM445.7 105.9h1.0v1.0h-1.0zM471.4 103.0h1.0v1.0h-1.0zM449.2 97.8h1.0v1.0h-1.0zM475.5 105.8h1.0v1.0h-1.0zM467.4 104.5h1.0v1.0h-1.0zM438.6 85.9h1.0v1.0h-1.0zM462.5 99.6h1.0v1.0h-1.0zM447.8 73.2h1.0v1.0h-1.0zM440.2 106.9h1.0v1.0h-1.0zM465.2 102.6h1.0v1.0h-1.0zM447.0 77.6h1.0v1.0h-1.0zM442.7 70.0h1.0v1.0h-1.0zM451.5 100.7h1.0v1.0h-1.0zM443.6 76.2h1.0v1.0h-1.0zM441.5 74.1h1.0v1.0h-1.0zM451.5 98.4h1.0v1.0h-1.0zM476.3 103.5h1.0v1.0h-1.0zM448.8 106.2h1.0v1.0h-1.0zM450.9 78.3h1.0v1.0h-1.0zM444.5 75.7h1.0v1.0h-1.0zM439.4 97.0h1.0v1.0h-1.0zM450.0 89.3h1.0v1.0h-1.0zM465.3 99.9h1.0v1.0h-1.0zM471.5 102.2h1.0v1.0h-1.0zM453.2 100.4h1.0v1.0h-1.0zM471.0 105.7h1.0v1.0h-1.0zM445.4 71.1h1.0v1.0h-1.0zM449.4 106.1h1.0v1.0h-1.0zM442.4 106.8h1.0v1.0h-1.0zM439.1 105.9h1.0v1.0h-1.0zM440.3 102.7h1.0v1.0h-1.0zM441.3 105.5h1.0v1.0h-1.0zM457.7 99.6h1.0v1.0h-1.0zM473.3 102.6h1.0v1.0h-1.0zM474.0 102.8h1.0v1.0h-1.0zM439.5 78.9h1.0v1.0h-1.0zM448.1 81.3h1.0v1.0h-1.0zM447.6 72.2h1.0v1.0h-1.0zM464.3 106.1h1.0v1.0h-1.0zM469.5 104.9h1.0v1.0h-1.0zM437.8 101.8h1.0v1.0h-1.0zM441.2 106.0h1.0v1.0h-1.0zM440.4 81.6h1.0v1.0h-1.0zM440.1 91.9h1.0v1.0h-1.0zM461.7 106.4h1.0v1.0h-1.0zM449.9 100.8h1.0v1.0h-1.0zM479.7 102.4h1.0v1.0h-1.0zM439.5 82.2h1.0v1.0h-1.0zM440.5 79.2h1.0v1.0h-1.0zM444.8 74.7h1.0v1.0h-1.0zM448.7 86.5h1.0v1.0h-1.0zM474.9 103.2h1.0v1.0h-1.0zM439.0 99.5h1.0v1.0h-1.0zM439.0 91.7h1.0v1.0h-1.0zM439.4 86.2h1.0v1.0h-1.0zM451.0 77.1h1.0v1.0h-1.0zM449.4 99.8h1.0v1.0h-1.0zM447.2 105.9h1.0v1.0h-1.0zM444.2 65.4h1.0v1.0h-1.0zM466.4 104.8h1.0v1.0h-1.0zM438.7 92.5h1.0v1.0h-1.0zM470.4 104.3h1.0v1.0h-1.0zM440.8 79.4h1.0v1.0h-1.0zM437.2 91.8h1.0v1.0h-1.0zM468.0 106.1h1.0v1.0h-1.0zM468.0 101.8h1.0v1.0h-1.0zM447.7 64.6h1.0v1.0h-1.0zM450.4 93.5h1.0v1.0h-1.0zM445.7 70.7h1.0v1.0h-1.0zM449.4 90.6h1.0v1.0h-1.0zM463.7 101.5h1.0v1.0h-1.0zM477.7 102.0h1.0v1.0h-1.0zM452.7 100.5h1.0v1.0h-1.0zM449.5 83.1h1.0v1.0h-1.0zM444.8 74.0h1.0v1.0h-1.0zM450.4 94.8h1.0v1.0h-1.0zM450.1 95.5h1.0v1.0h-1.0zM438.1 96.5h1.0v1.0h-1.0zM473.3 104.3h1.0v1.0h-1.0zM439.1 96.3h1.0v1.0h-1.0zM469.3 103.7h1.0v1.0h-1.0zM465.8 100.6h1.0v1.0h-1.0zM450.4 84.1h1.0v1.0h-1.0zM439.8 87.9h1.0v1.0h-1.0zM462.6 100.8h1.0v1.0h-1.0zM439.6 78.1h1.0v1.0h-1.0zM439.0 93.2h1.0v1.0h-1.0zM439.5 98.1h1.0v1.0h-1.0zM447.2 77.4h1.0v1.0h-1.0zM439.0 88.4h1.0v1.0h-1.0zM450.2 88.0h1.0v1.0h-1.0zM440.3 104.9h1.0v1.0h-1.0zM478.5 105.3h1.0v1.0h-1.0zM447.9 78.7h1.0v1.0h-1.0zM451.0 99.5h1.0v1.0h-1.0zM460.5 99.8h1.0v1.0h-1.0zM473.7 104.7h1.0v1.0h-1.0zM441.3 96.9h1.0v1.0h-1.0zM467.2 105.0h1.0v1.0h-1.0zM448.7 75.7h1.0v1.0h-1.0zM469.9 101.5h1.0v1.0h-1.0zM450.9 95.9h1.0v1.0h-1.0zM473.4 102.0h1.0v1.0h-1.0zM448.7 77.9h1.0v1.0h-1.0zM475.5 102.7h1.0v1.0h-1.0zM439.9 82.0h1.0v1.0h-1.0zM471.5 102.8h1.0v1.0h-1.0zM451.7 92.4h1.0v1.0h-1.0zM472.4 102.8h1.0v1.0h-1.0zM448.0 97.5h1.0v1.0h-1.0zM440.0 79.3h1.0v1.0h-1.0zM439.4 96.8h1.0v1.0h-1.0zM475.5 101.6h1.0v1.0h-1.0zM451.3 76.9h1.0v1.0h-1.0zM443.0 107.5h1.0v1.0h-1.0zM439.9 77.3h1.0v1.0h-1.0zM448.6 98.1h1.0v1.0h-1.0zM471.8 100.5h1.0v1.0h-1.0zM450.5 99.7h1.0v1.0h-1.0zM458.5 99.6h1.0v1.0h-1.0zM473.8 103.8h1.0v1.0h-1.0zM446.1 73.9h1.0v1.0h-1.0zM446.1 75.2h1.0v1.0h-1.0zM444.1 71.9h1.0v1.0h-1.0zM449.1 97.7h1.0v1.0h-1.0zM440.9 76.8h1.0v1.0h-1.0zM450.1 82.7h1.0v1.0h-1.0zM439.2 84.4h1.0v1.0h-1.0zM449.6 78.5h1.0v1.0h-1.0zM444.2 106.9h1.0v1.0h-1.0zM442.2 74.0h1.0v1.0h-1.0zM450.6 89.6h1.0v1.0h-1.0zM446.1 75.4h1.0v1.0h-1.0zM471.5 102.7h1.0v1.0h-1.0zM441.1 75.0h1.0v1.0h-1.0zM465.8 105.5h1.0v1.0h-1.0zM440.4 100.6h1.0v1.0h-1.0zM443.1 74.2h1.0v1.0h-1.0zM462.1 100.4h1.0v1.0h-1.0zM470.7 102.6h1.0v1.0h-1.0zM470.4 102.6h1.0v1.0h-1.0zM449.9 88.7h1.0v1.0h-1.0zM448.7 100.8h1.0v1.0h-1.0zM470.9 99.2h1.0v1.0h-1.0zM466.6 98.7h1.0v1.0h-1.0zM465.2 93.5h1.0v1.0h-1.0zM471.1 93.8h1.0v1.0h-1.0zM458.9 96.9h1.0v1.0h-1.0z" fill="#000"/>
<path d="M434.50 108.30H437.50M437.50 108.30V111.30M435.50 104.03H437.50M443.15 108.30V110.30M435.50 101.54H437.50M446.46 108.30V110.30M435.50 99.77H437.50M448.80 108.30V110.30M435.50 98.39H437.50M450.62 108.30V110.30M435.50 97.27H437.50M452.11 108.30V110.30M435.50 96.32H437.50M453.37 108.30V110.30M435.50 95.50H437.50M454.46 108.30V110.30M435.50 94.77H437.50M455.42 108.30V110.30M434.50 94.12H437.50M456.27 108.30V111.30M435.50 89.86H437.50M461.93 108.30V110.30M435.50 87.36H437.50M465.23 108.30V110.30M435.50 85.59H437.50M467.58 108.30V110.30M435.50 84.22H437.50M469.40 108.30V110.30M435.50 83.09H437.50M470.88 108.30V110.30M435.50 82.15H437.50M472.14 108.30V110.30M435.50 81.32H437.50M473.23 108.30V110.30M435.50 80.60H437.50M474.19 108.30V110.30M434.50 79.95H437.50M475.05 108.30V111.30M435.50 75.68H437.50M480.70 108.30V110.30M435.50 73.19H437.50M484.01 108.30V110.30M435.50 71.42H437.50M486.35 108.30V110.30M435.50 70.04H437.50M488.17 108.30V110.30M435.50 68.92H437.50M489.66 108.30V110.30M435.50 67.97H437.50M490.92 108.30V110.30M435.50 67.15H437.50M492.01 108.30V110.30M435.50 66.42H437.50M492.97 108.30V110.30M434.50 65.78H437.50M493.83 108.30V111.30M435.50 61.51H437.50M499.48 108.30V110.30M435.50 59.01H437.50M502.78 108.30V110.30M435.50 57.24H437.50M505.13 108.30V110.30M435.50 55.87H437.50M506.95 108.30V110.30M435.50 54.74H437.50M508.43 108.30V110.30M435.50 53.80H437.50M509.69 108.30V110.30M435.50 52.97H437.50M510.78 108.30V110.30M435.50 52.25H437.50M511.74 108.30V110.30" stroke="#000" stroke-width="0.75" fill="none"/>
<g transform="translate(437.7 118.2)"><text x="-5.53" y="0" font-family="'Liberation Sans', sans-serif" font-size="7.4" font-weight="bold" transform="scale(0.76 1)">10</text><text x="3.25" y="-4.0" font-family="'Liberation Sans', sans-serif" font-size="5.6" font-weight="bold" transform="scale(0.8 1)">0</text></g>
<g transform="translate(455.9 118.2)"><text x="-5.53" y="0" font-family="'Liberation Sans', sans-serif" font-size="7.4" font-weight="bold" transform="scale(0.76 1)">10</text><text x="3.25" y="-4.0" font-family="'Liberation Sans', sans-serif" font-size="5.6" font-weight="bold" transform="scale(0.8 1)">1</text></g>
<g transform="translate(474.1 118.2)"><text x="-5.53" y="0" font-family="'Liberation Sans', sans-serif" font-size="7.4" font-weight="bold" transform="scale(0.76 1)">10</text><text x="3.25" y="-4.0" font-family="'Liberation Sans', sans-serif" font-size="5.6" font-weight="bold" transform="scale(0.8 1)">2</text></g>
<g transform="translate(492.3 118.2)"><text x="-5.53" y="0" font-family="'Liberation Sans', sans-serif" font-size="7.4" font-weight="bold" transform="scale(0.76 1)">10</text><text x="3.25" y="-4.0" font-family="'Liberation Sans', sans-serif" font-size="5.6" font-weight="bold" transform="scale(0.8 1)">3</text></g>
<g transform="translate(510.5 118.2)"><text x="-5.53" y="0" font-family="'Liberation Sans', sans-serif" font-size="7.4" font-weight="bold" transform="scale(0.76 1)">10</text><text x="3.25" y="-4.0" font-family="'Liberation Sans', sans-serif" font-size="5.6" font-weight="bold" transform="scale(0.8 1)">4</text></g>
<g transform="translate(432.1 108.3) rotate(-90)"><text x="-5.66" y="0" font-family="'Liberation Sans', sans-serif" font-size="7.8" font-weight="bold" transform="scale(0.76 1)">10</text><text x="3.62" y="-4.3" font-family="'Liberation Sans', sans-serif" font-size="5.6" font-weight="bold" transform="scale(0.8 1)">0</text></g>
<g transform="translate(432.1 94.1) rotate(-90)"><text x="-5.66" y="0" font-family="'Liberation Sans', sans-serif" font-size="7.8" font-weight="bold" transform="scale(0.76 1)">10</text><text x="3.62" y="-4.3" font-family="'Liberation Sans', sans-serif" font-size="5.6" font-weight="bold" transform="scale(0.8 1)">1</text></g>
<g transform="translate(432.1 80.0) rotate(-90)"><text x="-5.66" y="0" font-family="'Liberation Sans', sans-serif" font-size="7.8" font-weight="bold" transform="scale(0.76 1)">10</text><text x="3.62" y="-4.3" font-family="'Liberation Sans', sans-serif" font-size="5.6" font-weight="bold" transform="scale(0.8 1)">2</text></g>
<g transform="translate(432.1 65.8) rotate(-90)"><text x="-5.66" y="0" font-family="'Liberation Sans', sans-serif" font-size="7.8" font-weight="bold" transform="scale(0.76 1)">10</text><text x="3.62" y="-4.3" font-family="'Liberation Sans', sans-serif" font-size="5.6" font-weight="bold" transform="scale(0.8 1)">3</text></g>
<g transform="translate(432.1 51.6) rotate(-90)"><text x="-5.66" y="0" font-family="'Liberation Sans', sans-serif" font-size="7.8" font-weight="bold" transform="scale(0.76 1)">10</text><text x="3.62" y="-4.3" font-family="'Liberation Sans', sans-serif" font-size="5.6" font-weight="bold" transform="scale(0.8 1)">4</text></g>
<text x="473.05" y="124.60" font-family="'Liberation Sans', sans-serif" font-size="6.8" font-weight="normal" text-anchor="middle" stroke="#000" stroke-width="0.25">CD11B-PE</text>
<text transform="translate(422.30 80.95) rotate(-90)" font-family="'Liberation Sans', sans-serif" font-size="6.4" text-anchor="middle" stroke="#000" stroke-width="0.2">GFP</text>
<rect x="323.30" y="143.80" width="75.10" height="55.60" fill="none" stroke="#000" stroke-width="1.25"/>
<line x1="342.30" y1="143.80" x2="342.30" y2="199.40" stroke="#000" stroke-width="1"/>
<line x1="323.30" y1="184.60" x2="398.40" y2="184.60" stroke="#000" stroke-width="1"/>
<path d="M323.8 195.3l2 .9 1-.1 1 1.2 2 .9 1-.9 2 .1 1 1 1 .2 5-.1 1.7 .4 M343.2 198.9l1.6-1.1 3.7 1.1 M349.2 198.9l3.7-2 2.9-.4 1-.7 1 .6 2-1.9 3.1-1.3 1.1 .7-.6-2.9-2.6-1.5-.9-1.5-.1-1.2-1-.3-1.8 .5 .6-1-.8-.7-1 1.2-1-.2-1-1.5-1 2.2-1.2-1 1-1-2-1 1.2-1.3 2.2 .3 .9-2-2-1 1.2-1.9 .3-2 .4-.4 .3 .4 .1 2.9 .6 .8 .8-.8-.3-1.9 2.1-1-.6-1.2-1-.3 .3-1.5-1.2-1 .6-1-.7-.9-1.7-.1 3-1-1.3-.3-3 .6-1-.3-2.1-3 .1-1 3-.1 1 .6 .5-1.4-1.5-1.3-3.2-.7-.8-2.2-1 2-.3-.8-1.6-1-.1-2.2-1.8 1.2 1.7 1-1.6 0-1-3 .6-1-.9-.9-2.2 .9 1.7 1-1.1 1-.4 2.2-1 1-2-3-2 1.6-1-2.8-1-.8-.8 .8 .3 1-2.5 1.4-1-.3-1 .7-2-.6-2.2 .8 1.2 1.5 3-1.3 1 .7 1-.2 0 1.4-1 .3-2-1.2-1 1-2 .1-1 1 M353 198.9l-.3 0 M323.8 193.5l.5 .4-.5 .5 M323.8 182.3l1-.3 1.2 2 1.8 1-.3 2 1 3-.7 1.8-1-1.1-3 1.8 M323.8 188.1l0-.2 M334 187l-.2 1.6-.3-.6 .5-1 M325.8 184.4l-.7 1.6 .7 1.3 .8-1.3-.8-1.6 M348 185l-.2 .4 .2-.4 M323.8 184.1l0-.3 M351.1 180l-.3 .8 0-1.2 .3 .4 M371.9 176.9l-1.2 .2 1.2-.2 M325.9 172.1l-.6 0 .6 0 M323.8 164.5l1.8 .6-1.2 1 1.4 .8 1-.1 2-1.9 .7 .2-.7 1.8-1 .2-.1 1-.9 .4-2-.2-1-1.6 M352.8 165.6l-1.6 1.5 1.6 .4 .5-1.4-.5-.5 M356.8 166l0 1.3 0-1.3 M354.8 162.1l-.4 1.1 .4 .2 0-1.3 M323.8 162.7l0-.7 M344 162.2l-.4 0 .4 0 M359.8 158.1l0 1.2 0-1.2 M349.8 158.1l-1.1 .1 1.1-.1 M328.8 157.1l-1.1 .1 1.1-.1 M337.8 157l-1.1 .2 1.1 .3 0-.5 M339.8 154.1l0 1.3 0-1.3 M343.8 153.7l-.6 .5 .6 .7 .6-.7-.6-.5 M323.8 180.5l1 .8 1-.3 1-1.3 1 .2-1.9 1.1-.5 1 1.6 2 1.7 1-.6 1 .8 1-.1 1.7 2 1 2-1.7 .1-1 .9-.8 .9 .8-.4 2-4.5 1.2-2 2.4-1-.4-1.6 1.7 .6 1.4 1 .1 3 2 1-.8 2 .1 1 1 2 .7 4-.6 2 .9 3-1.2 4 .5 5-1.8 1 .2 2-1.2 1 .6 .9-.9 .1-1.2 1 0 1-1 1.1 .7 .5-.5-.8-1.9-1.8-1.9-1 .9 1-1-1-1.8-4 .9-.5-.1 .1-1-.6-.5-1 1.5-1-1.3-3-.7-3 1 0-2.1 2-.6 1 .6 1-.9 .6-1-.6-.4-1-.5-1 1.3-.2-.4 2.7-2-.4-1 .9-1.4 2 .2 .8-.7-.2-1-1.8-2 1.2-.2 1 .9 .9-.7-.8-2 .9-1.5 1.1-.5-4.1-1.5-.7 .5 1.1 2-.3 1-1.1 .5 .4-1.5-2.4-4 1.1-1-.8-1 .2-1 .5-.8 2.8-.1-1.8-1.4-1 0-1 1-2.5-1.6 .4-1-.9-.6-1 .6 .7 1-.7 .9-1 .1-2 2.1 0-.5 2-1.6-1.4-1-.3-1 1.4-1-.7-2.4-1.4 1.4 .1 2-1.7 1.5-2-.6-1 .5-.4-1.4-1.8-2-.8-.5-.8 .5-2 4 .8 .7 1-.2 1 1.4 1-.2 .1 2.2-1.1-1.9-2 .5-1-.5-1.4 .9-.7 2-1.7 1 .6 1-.8 .4-.7-.4 .5-1-1.8-.1-1 1.9 M342.9 187l-.1-.4 .1 .4 M325.8 185.7l0 .5 0-.5 M349.8 184.2l-.4 .8 .4 .4 .6-.4-.6-.8 M352.8 180.5l-1.1 .5 1.1 1.1 .6-1.1-.6-.5 M323.8 175.8l.7 .3-.7 1.5 M349.9 176.1l-.1 .8 0-1.3 .1 .5 M326 175.1l-.2 .9-.8-.9 .8-.5 .2 .5 M355.8 173.5l-.5 1.6 .5 .7 .4-.7-.4-1.6 M323.8 172.6l2-1.4 .8 .9 0 1-.8 .6-2-.4 M325.8 165.9l-.3 .2 1 0-.7-.2 M328.8 162.9l-1-.4-2.5 .7 1.5 1-.4 .9 .4 .9 2.3-2.8-.3-.3 M330.8 163.3l-1.6 .9 1.6 .8 .8-.8-.8-.9 M334.4 162.2l-.6 .9-.6-.9 .6-.5 .6 .5 M327.8 160.1l-1.7 .1 .7 .3 1-.4 M329.8 159.8l-.5 .4 .5 .4 .7-.4-.7-.4 M337.8 159.1l0 1.2 0-1.2 M333.8 156.9l0 .9 .4-.6-.4-.3 M342.8 155.8l-.8 .4 .8 .5 .4-.5-.4-.4 M345.8 162.6l-2.9 2.5-.1 1.1-1 0-.8-1.1 .8-1.9 1.1 0-2.1-.8-1 1.4-2-.8-1 2-1-.4-.4 2.5-.6 .4-2-1.9-.8 .5-.2 1.1-1-1.4-.8 .3-.4 2-1.4 2-1.2 1 .5 1-1.3 2 .1 4 .5 .4 1-.4 .3 1.9 0 2-.8 1 .5 .7 1-.4 2.4 1.7-2.7 1 1.3 .4 2 1.9 1.3-2.3-.9-1 .6-.2 2.2 1.2 .4 1-.6 2.6-2 .4-1 1.1-2-.1-1 2.2-1.4 .7-.2 1 .6 .4 5 1 3 1.7 4-1 2 1.4 3-1.3 4 .5 2-.7 2-2.3 2 1.4 1.4-1.1-.9-2 .5-.2 .1 1.2 1.9 1.3 1-2.3 1.5-.9-1.8-1 .3-2-1-.9-5 .5-2-1.9-2-.1-3 1-.6-.6-.1-2 1.5-1 0-1-.8-.7-1-.3-1.1 2-.2-1 2.3-2.2 1 1.7 1-.1 1.7-1.4-.7-1 .7-1-.5-2.9 .9-3-1.3-1 .8-1-1.2-1 1.1-1-1.5-1.5-1 .1-2.4-1.6 1.6-1 .5-1.9-.7-.6 M352.8 195.7l-.4 .2 .4-.2 M342 192.9l1.2 1-.4 .4-2.4-1.4 .4-.6 1.2 .6 M349.5 192l-2.7 1.3-2.2-1.3 1.2 .6 .2-.6 2.8-.4 .7 .4 M343.2 186l-.4 1.8-1.5 .2-.5-2.3 1-.6 1.4 .9 M337.9 186l-1.1 1.4-.4-.4 .4-.8 1.1-.2 M341.1 184l-.9 0 .9 0 M348.8 183.5l-.5 .5 .5 .4 .4-.4-.4-.5 M324.8 177.2l-.7 .9-.1 1.9 .8 .8 1.1-.8-.3-1.9-.8-.9 M352.8 177.4l-.7 .7 .7 .3 0-1 M350.8 175.2l-.5 .9 .3 1 1.2 .4 .3-.4-1.3-1.9 M348.3 175.1l.3 1-.8 .3-.5-1.3 .5-.5 .5 .5 M353.8 174.6l0 .7 0-.7 M323.8 174.6l.7-.5-.7-.3 M328.8 172.1l0 .4 0-.4 M347.8 164.5l-.6 1.6 .6 .7 .6-1.7-.6-.6 M340 165.1l-.5 0 .5 0 M330.8 163.9l-.4 .3 .4 .2 0-.5 M331.8 161.9l0 .8 0-.8 M334.8 160.5l-.7 .7 .7 .6 .9-.6-.9-.7 M342.8 159l-.9 1.2 1.1 0-.2-1.2 M339.8 184.5l-1.4 .5-1 4-2.6 1.6-2-.1-1 1.4-1-.3-.7 .4-.7 .9-.3 2 2.7 .3 4 2.1 2 0 2-.9 2 1.6 3-1.5 4.4 .4 .8-1-.6-1 2.4-.1 .7-.9-.7-.5 0-1.5 2 2.7 .7-1.7 1.3-.7 .9 .7 .1 1.3 .6-.3-.1-1 2-.9-2.5-2-1 .8-3-1.1-1-1.8-6 .3-2-1.5-1 1.5-2 0-.3-3.2-.7-.5 M337.9 192.9l-.1 1.5-1 1.2-.1-.7 1-1 .2-1 M350.4 191l-.1 1-1.5 1.3-2 .5-2-.7-.9 .8-.1 1.2-1 0-3-2.2 1-1.1 1.3 .2 .7 .7 .4-.7 1.6-.7 2 .3 2-.8 1.6 .2 M354.8 194.4l-.7 .5 .7 .5 .6-.5-.6-.5 M343.8 192.6l-.7 .3 .7 .7 .7-.7-.7-.3 M335.8 187.3l-.4 .7 .4 .6 .8-.6-.8-.7 M331.8 186.5l0 .8 0-.8 M337.8 164.2l-1 1.5-1 .4 0 1.3-1 .5-1.6-.8-.4-1-1 2-1 .4-.5 1.6-1.7 1 1.6 2-.4 .8-1 .6-1-1.2-.7 .8 .7 1.2 1.9 .8-1.3 1 .7 1-.5 1.9 .2 .9 1-.3 1.5 1.4-1.3 1 .8 1 5 1.2 .6-.2 .4-2.2 1-1 .4 1.2 1.6 .6 3-1.3 3-2.1 2 1.4 .7-.6-.1-2 .7-.9-.3-1.4-1.2 .4-1.7 1 1.5 .9-1.6 .5-.4-.5 .4-.9-1.1-1 .1-.4 1 1.3 .7-.9 .2-1-1.1-2 .2-1 1.1 0 .7-2-2-2 .2-1-.6-1-1.4-.7-2 .4-1-.9-2-.4-1-1.3 M343.8 184.9l-1 .1 1 .6 0-.7 M329.8 181.8l-.9 .2 .9 .5 .7-.5-.7-.2 M335 182l-.2 .6 0-1.3 .2 .7 M332.9 181l-.1 .8-.3-.8 .4 0 M324.8 179.4l0 .9 .4-.3-.4-.6 M331.8 177.1l-1.2 0 .2-.7 1 .7 M336.4 171.1l-.6 .4-.5-.4 .5-1 .6 1 M341.7 169.1l-.9 1.2-.5-1.2 .5-.4 .9 .4 M347.8 168.5l-.7 .6 .7 .5 1-.5-1-.6 M338.8 192.3l-.3 3.6 1.3-.4 2 1.8 2.7-1.4-4.7-1.4-.7-.6-.3-1.6 M347.8 194.5l-.1 1.4 1.1 .3 .3-.3-1.3-1.4 M338.8 185.8l.3 3.2-1.3 1.1-2 .4-1 1-1-.9-1 .5-1 1.4-1-.2-.6 .6 2.6 2.1 1-.7 1 1 1.8-1.4 .7-1.9 2.5-.1 1-.6 2 .2 1-.5 0-1.8 1.8-.2-4.8-.4-1-2.4-1-.4 M345.8 193.9l-1.1 0 .1 1.6 1.6-.6-.6-1 M350.8 192.1l-1.5 .8 0 1 .5 .5 1.6-.5-.6-1.8 M354.8 190.7l-2-.2-.5 .5 1.5 1.8 1.6-.8-.6-1.3 M356.8 191.4l-.6 .6 .6 .5 .7-.5-.7-.6 M349.8 188.7l-1-.2-1 1.1-1-.7-1 .1-.8 1 1.8 1.2 1-.9 3 .4 1.1-.7-2.1-1.3 M333.8 182.6l-.7 .4 .7 .6 0-1 M335.8 181.9l0 .4 0-.4 M344.8 167.8l-1-.6-.8 .9 .8 1-2.5 2-.5 .2-1-1.6-5 2.8-.5 .6 .8 1-.3 .9-1 0-2 2.6-1.3 .5 .2 .9-.5 1 1.6 .2 1-.7 1 2 1-1 1 0 2 .9 1 1.4 1 .2 2.8-2 1.6-4.9 1.6-.7-1.3-1.3 .7-4-1.4-1 1-.7 0-.6 M347.8 179.6l-1 .4 1 .5 0-.9 M336 176.1l-.2 2.1-1-1.1 .4-1 .6-.4 .2 .4 M338.1 174.1l-.3 .7-1.3-.7 1.3-.4 .3 .4 M342.7 174.1l-.9 .9 0-1.1 .9 .2 M332.8 168.1l.5 3-1.8 1-.5 1 .8 .6 1 0 1.7-1.6 0-3-.7-.9-1-.1 M331.8 169.9l0 .5 1-.3-1-.2 M338.8 166.1l-1-.7-1.3 1.7-.2 1 1.5 2.9 2.7-2.9 .2-1-1.9-1" fill="none" stroke="#000" stroke-width="0.9" stroke-linejoin="round"/>
<path d="M356.6 185.8h1.0v1.0h-1.0zM335.5 152.3h1.0v1.0h-1.0zM349.7 157.4h1.0v1.0h-1.0zM352.8 165.2h1.0v1.0h-1.0zM360.0 195.9h1.0v1.0h-1.0zM323.1 181.6h1.0v1.0h-1.0zM354.6 161.8h1.0v1.0h-1.0zM346.5 160.4h1.0v1.0h-1.0zM332.7 188.9h1.0v1.0h-1.0zM357.5 170.0h1.0v1.0h-1.0zM332.5 159.0h1.0v1.0h-1.0zM351.8 196.4h1.0v1.0h-1.0zM351.7 167.1h1.0v1.0h-1.0zM370.7 168.4h1.0v1.0h-1.0zM352.0 169.4h1.0v1.0h-1.0zM353.2 184.3h1.0v1.0h-1.0zM337.8 160.8h1.0v1.0h-1.0zM348.8 185.9h1.0v1.0h-1.0zM326.0 183.9h1.0v1.0h-1.0zM362.4 190.4h1.0v1.0h-1.0zM354.9 186.6h1.0v1.0h-1.0zM343.6 153.7h1.0v1.0h-1.0zM357.7 195.9h1.0v1.0h-1.0zM332.1 163.6h1.0v1.0h-1.0zM358.7 186.8h1.0v1.0h-1.0zM350.2 184.9h1.0v1.0h-1.0zM325.9 166.0h1.0v1.0h-1.0zM325.2 172.6h1.0v1.0h-1.0zM336.6 159.3h1.0v1.0h-1.0zM355.5 182.0h1.0v1.0h-1.0zM366.0 181.2h1.0v1.0h-1.0zM353.3 181.5h1.0v1.0h-1.0zM352.9 185.6h1.0v1.0h-1.0zM334.7 158.3h1.0v1.0h-1.0zM345.8 197.5h1.0v1.0h-1.0zM341.3 157.7h1.0v1.0h-1.0zM357.3 174.1h1.0v1.0h-1.0zM348.0 157.3h1.0v1.0h-1.0zM358.8 194.0h1.0v1.0h-1.0zM337.3 154.6h1.0v1.0h-1.0zM346.4 184.4h1.0v1.0h-1.0zM354.3 168.4h1.0v1.0h-1.0zM326.8 191.8h1.0v1.0h-1.0zM361.1 189.4h1.0v1.0h-1.0zM350.4 182.5h1.0v1.0h-1.0zM325.8 189.1h1.0v1.0h-1.0zM353.8 176.6h1.0v1.0h-1.0zM350.6 197.2h1.0v1.0h-1.0zM354.5 162.9h1.0v1.0h-1.0zM355.6 155.8h1.0v1.0h-1.0zM356.8 165.8h1.0v1.0h-1.0zM359.3 157.4h1.0v1.0h-1.0zM361.1 171.4h1.0v1.0h-1.0zM324.3 162.2h1.0v1.0h-1.0zM356.9 184.6h1.0v1.0h-1.0zM359.1 175.6h1.0v1.0h-1.0zM324.9 159.7h1.0v1.0h-1.0zM340.6 161.1h1.0v1.0h-1.0zM358.6 164.9h1.0v1.0h-1.0zM354.0 180.6h1.0v1.0h-1.0zM323.4 161.9h1.0v1.0h-1.0zM325.0 182.1h1.0v1.0h-1.0zM346.1 161.8h1.0v1.0h-1.0zM327.0 164.6h1.0v1.0h-1.0zM327.1 166.3h1.0v1.0h-1.0zM330.8 189.6h1.0v1.0h-1.0zM358.9 193.3h1.0v1.0h-1.0zM324.5 163.6h1.0v1.0h-1.0zM327.5 196.5h1.0v1.0h-1.0zM356.2 175.6h1.0v1.0h-1.0zM345.6 185.3h1.0v1.0h-1.0zM341.3 155.7h1.0v1.0h-1.0zM333.2 164.3h1.0v1.0h-1.0zM353.0 164.0h1.0v1.0h-1.0zM351.7 181.2h1.0v1.0h-1.0zM325.0 191.6h1.0v1.0h-1.0zM323.3 168.4h1.0v1.0h-1.0zM323.6 166.5h1.0v1.0h-1.0zM324.0 165.5h1.0v1.0h-1.0zM328.0 189.3h1.0v1.0h-1.0zM323.6 184.0h1.0v1.0h-1.0zM329.6 188.5h1.0v1.0h-1.0zM351.3 179.5h1.0v1.0h-1.0zM344.5 161.5h1.0v1.0h-1.0zM352.3 175.5h1.0v1.0h-1.0zM352.4 197.9h1.0v1.0h-1.0zM325.5 160.8h1.0v1.0h-1.0zM363.7 192.7h1.0v1.0h-1.0zM329.7 197.3h1.0v1.0h-1.0zM356.4 172.4h1.0v1.0h-1.0zM355.4 175.1h1.0v1.0h-1.0zM356.5 179.7h1.0v1.0h-1.0zM327.8 161.6h1.0v1.0h-1.0zM362.7 191.9h1.0v1.0h-1.0zM348.2 161.8h1.0v1.0h-1.0zM331.1 197.3h1.0v1.0h-1.0zM348.3 159.6h1.0v1.0h-1.0zM356.3 185.9h1.0v1.0h-1.0zM323.4 192.5h1.0v1.0h-1.0zM351.9 166.9h1.0v1.0h-1.0zM353.5 164.8h1.0v1.0h-1.0zM330.3 189.9h1.0v1.0h-1.0zM342.3 198.4h1.0v1.0h-1.0zM349.8 181.3h1.0v1.0h-1.0zM351.3 172.1h1.0v1.0h-1.0zM328.5 188.9h1.0v1.0h-1.0zM325.9 153.9h1.0v1.0h-1.0zM331.1 159.1h1.0v1.0h-1.0zM334.3 157.4h1.0v1.0h-1.0zM325.7 187.0h1.0v1.0h-1.0zM369.3 189.2h1.0v1.0h-1.0zM345.0 157.6h1.0v1.0h-1.0zM326.7 168.9h1.0v1.0h-1.0zM323.6 167.7h1.0v1.0h-1.0zM358.9 158.7h1.0v1.0h-1.0zM354.6 165.6h1.0v1.0h-1.0zM324.6 194.2h1.0v1.0h-1.0zM359.9 193.2h1.0v1.0h-1.0zM323.7 163.9h1.0v1.0h-1.0zM339.0 155.1h1.0v1.0h-1.0zM344.1 159.1h1.0v1.0h-1.0zM330.2 159.8h1.0v1.0h-1.0zM327.9 196.0h1.0v1.0h-1.0zM350.2 168.4h1.0v1.0h-1.0zM352.8 163.5h1.0v1.0h-1.0zM359.7 188.6h1.0v1.0h-1.0zM350.0 160.2h1.0v1.0h-1.0zM333.2 197.4h1.0v1.0h-1.0zM350.4 168.1h1.0v1.0h-1.0zM328.6 163.6h1.0v1.0h-1.0zM360.8 169.3h1.0v1.0h-1.0zM327.0 161.7h1.0v1.0h-1.0zM353.2 168.2h1.0v1.0h-1.0zM357.0 175.1h1.0v1.0h-1.0zM363.0 189.1h1.0v1.0h-1.0zM354.2 171.2h1.0v1.0h-1.0zM344.8 158.9h1.0v1.0h-1.0zM323.3 175.9h1.0v1.0h-1.0zM328.4 156.8h1.0v1.0h-1.0zM357.6 161.2h1.0v1.0h-1.0zM352.2 162.3h1.0v1.0h-1.0zM371.6 176.1h1.0v1.0h-1.0zM323.6 194.1h1.0v1.0h-1.0zM355.8 176.7h1.0v1.0h-1.0zM336.1 151.7h1.0v1.0h-1.0zM343.1 160.9h1.0v1.0h-1.0zM351.4 178.2h1.0v1.0h-1.0zM355.0 168.1h1.0v1.0h-1.0zM359.2 186.2h1.0v1.0h-1.0zM324.5 159.8h1.0v1.0h-1.0zM323.5 187.2h1.0v1.0h-1.0zM325.4 184.8h1.0v1.0h-1.0zM332.5 150.8h1.0v1.0h-1.0zM329.0 162.3h1.0v1.0h-1.0zM362.7 173.3h1.0v1.0h-1.0zM338.4 160.2h1.0v1.0h-1.0zM348.3 198.2h1.0v1.0h-1.0zM354.6 186.2h1.0v1.0h-1.0zM338.9 161.4h1.0v1.0h-1.0zM324.0 191.5h1.0v1.0h-1.0zM326.8 156.3h1.0v1.0h-1.0zM343.4 162.5h1.0v1.0h-1.0zM327.3 186.3h1.0v1.0h-1.0zM326.2 190.7h1.0v1.0h-1.0zM337.6 160.5h1.0v1.0h-1.0zM347.9 160.7h1.0v1.0h-1.0zM337.6 157.2h1.0v1.0h-1.0zM336.1 156.4h1.0v1.0h-1.0zM349.5 149.6h1.0v1.0h-1.0zM336.7 162.1h1.0v1.0h-1.0zM358.0 176.6h1.0v1.0h-1.0zM344.3 160.6h1.0v1.0h-1.0zM340.8 155.9h1.0v1.0h-1.0zM359.2 173.0h1.0v1.0h-1.0zM362.9 193.5h1.0v1.0h-1.0zM339.1 197.1h1.0v1.0h-1.0zM356.7 166.3h1.0v1.0h-1.0zM370.3 176.5h1.0v1.0h-1.0zM364.4 190.9h1.0v1.0h-1.0zM324.8 192.2h1.0v1.0h-1.0zM353.4 182.7h1.0v1.0h-1.0zM354.9 172.9h1.0v1.0h-1.0zM360.0 164.0h1.0v1.0h-1.0zM346.0 185.4h1.0v1.0h-1.0zM343.8 153.2h1.0v1.0h-1.0zM325.2 195.3h1.0v1.0h-1.0zM356.6 169.0h1.0v1.0h-1.0zM355.5 177.5h1.0v1.0h-1.0zM339.6 153.3h1.0v1.0h-1.0z" fill="#000"/>
<path d="M320.30 199.40H323.30M323.30 199.40V202.40M321.30 195.22H323.30M328.95 199.40V201.40M321.30 192.77H323.30M332.26 199.40V201.40M321.30 191.03H323.30M334.60 199.40V201.40M321.30 189.68H323.30M336.42 199.40V201.40M321.30 188.58H323.30M337.91 199.40V201.40M321.30 187.65H323.30M339.17 199.40V201.40M321.30 186.85H323.30M340.26 199.40V201.40M321.30 186.14H323.30M341.22 199.40V201.40M320.30 185.50H323.30M342.07 199.40V202.40M321.30 181.32H323.30M347.73 199.40V201.40M321.30 178.87H323.30M351.03 199.40V201.40M321.30 177.13H323.30M353.38 199.40V201.40M321.30 175.78H323.30M355.20 199.40V201.40M321.30 174.68H323.30M356.68 199.40V201.40M321.30 173.75H323.30M357.94 199.40V201.40M321.30 172.95H323.30M359.03 199.40V201.40M321.30 172.24H323.30M359.99 199.40V201.40M320.30 171.60H323.30M360.85 199.40V202.40M321.30 167.42H323.30M366.50 199.40V201.40M321.30 164.97H323.30M369.81 199.40V201.40M321.30 163.23H323.30M372.15 199.40V201.40M321.30 161.88H323.30M373.97 199.40V201.40M321.30 160.78H323.30M375.46 199.40V201.40M321.30 159.85H323.30M376.72 199.40V201.40M321.30 159.05H323.30M377.81 199.40V201.40M321.30 158.34H323.30M378.77 199.40V201.40M320.30 157.70H323.30M379.62 199.40V202.40M321.30 153.52H323.30M385.28 199.40V201.40M321.30 151.07H323.30M388.58 199.40V201.40M321.30 149.33H323.30M390.93 199.40V201.40M321.30 147.98H323.30M392.75 199.40V201.40M321.30 146.88H323.30M394.23 199.40V201.40M321.30 145.95H323.30M395.49 199.40V201.40M321.30 145.15H323.30M396.58 199.40V201.40M321.30 144.44H323.30M397.54 199.40V201.40" stroke="#000" stroke-width="0.75" fill="none"/>
<g transform="translate(323.5 209.3)"><text x="-5.53" y="0" font-family="'Liberation Sans', sans-serif" font-size="7.4" font-weight="bold" transform="scale(0.76 1)">10</text><text x="3.25" y="-4.0" font-family="'Liberation Sans', sans-serif" font-size="5.6" font-weight="bold" transform="scale(0.8 1)">0</text></g>
<g transform="translate(341.7 209.3)"><text x="-5.53" y="0" font-family="'Liberation Sans', sans-serif" font-size="7.4" font-weight="bold" transform="scale(0.76 1)">10</text><text x="3.25" y="-4.0" font-family="'Liberation Sans', sans-serif" font-size="5.6" font-weight="bold" transform="scale(0.8 1)">1</text></g>
<g transform="translate(359.9 209.3)"><text x="-5.53" y="0" font-family="'Liberation Sans', sans-serif" font-size="7.4" font-weight="bold" transform="scale(0.76 1)">10</text><text x="3.25" y="-4.0" font-family="'Liberation Sans', sans-serif" font-size="5.6" font-weight="bold" transform="scale(0.8 1)">2</text></g>
<g transform="translate(378.1 209.3)"><text x="-5.53" y="0" font-family="'Liberation Sans', sans-serif" font-size="7.4" font-weight="bold" transform="scale(0.76 1)">10</text><text x="3.25" y="-4.0" font-family="'Liberation Sans', sans-serif" font-size="5.6" font-weight="bold" transform="scale(0.8 1)">3</text></g>
<g transform="translate(396.3 209.3)"><text x="-5.53" y="0" font-family="'Liberation Sans', sans-serif" font-size="7.4" font-weight="bold" transform="scale(0.76 1)">10</text><text x="3.25" y="-4.0" font-family="'Liberation Sans', sans-serif" font-size="5.6" font-weight="bold" transform="scale(0.8 1)">4</text></g>
<g transform="translate(317.9 199.4) rotate(-90)"><text x="-5.66" y="0" font-family="'Liberation Sans', sans-serif" font-size="7.8" font-weight="bold" transform="scale(0.76 1)">10</text><text x="3.62" y="-4.3" font-family="'Liberation Sans', sans-serif" font-size="5.6" font-weight="bold" transform="scale(0.8 1)">0</text></g>
<g transform="translate(317.9 185.5) rotate(-90)"><text x="-5.66" y="0" font-family="'Liberation Sans', sans-serif" font-size="7.8" font-weight="bold" transform="scale(0.76 1)">10</text><text x="3.62" y="-4.3" font-family="'Liberation Sans', sans-serif" font-size="5.6" font-weight="bold" transform="scale(0.8 1)">1</text></g>
<g transform="translate(317.9 171.6) rotate(-90)"><text x="-5.66" y="0" font-family="'Liberation Sans', sans-serif" font-size="7.8" font-weight="bold" transform="scale(0.76 1)">10</text><text x="3.62" y="-4.3" font-family="'Liberation Sans', sans-serif" font-size="5.6" font-weight="bold" transform="scale(0.8 1)">2</text></g>
<g transform="translate(317.9 157.7) rotate(-90)"><text x="-5.66" y="0" font-family="'Liberation Sans', sans-serif" font-size="7.8" font-weight="bold" transform="scale(0.76 1)">10</text><text x="3.62" y="-4.3" font-family="'Liberation Sans', sans-serif" font-size="5.6" font-weight="bold" transform="scale(0.8 1)">3</text></g>
<g transform="translate(317.9 143.8) rotate(-90)"><text x="-5.66" y="0" font-family="'Liberation Sans', sans-serif" font-size="7.8" font-weight="bold" transform="scale(0.76 1)">10</text><text x="3.62" y="-4.3" font-family="'Liberation Sans', sans-serif" font-size="5.6" font-weight="bold" transform="scale(0.8 1)">4</text></g>
<text x="358.85" y="215.70" font-family="'Liberation Sans', sans-serif" font-size="6.8" font-weight="normal" text-anchor="middle" stroke="#000" stroke-width="0.25">CD11B-PE</text>
<text transform="translate(308.10 172.60) rotate(-90)" font-family="'Liberation Sans', sans-serif" font-size="6.4" text-anchor="middle" stroke="#000" stroke-width="0.2">GFP</text>
<text x="387.30" y="158.80" font-family="'Liberation Serif', serif" font-size="8.2" font-weight="normal" text-anchor="middle" >27</text>
<rect x="437.90" y="143.80" width="75.10" height="56.30" fill="none" stroke="#000" stroke-width="1.25"/>
<line x1="456.10" y1="143.80" x2="456.10" y2="200.10" stroke="#000" stroke-width="1"/>
<line x1="437.90" y1="184.60" x2="513.00" y2="184.60" stroke="#000" stroke-width="1"/>
<path d="M438.4 186.1l3 .9-.2 1.5-1.2 1 1.4 .5-.1 1.6 1.1 2.6 1 .1 4 3.2 1.1 1.1-.2 1 M451 199.6l3.4-1.1 .6 .1 0 1 M455.6 199.6l.8-.4 .3 .4 M458.3 199.6l.1-.4 .2 .4 M470.6 199.6l4.8-.2 2.1-2 2-.5 1-1.2 1.3-.1-.3-.8-1 .5-.4-1.7-.6-.7-2 1.8-.8-.1 .3-1-2.6-2-1-1.6-2.7-.5 .3-1-.6-1.1-1-.3-1 .6-1-2.1-1 .8-.9-.9-1.7-3 0-2-1.4-1.5-1 .9-.8-.4 .7-1-2.2-3-.2-1-.5-.5-2 .4-2-.4 .4-1.5-.4-1.6-1-.8-2 .2-1.1-.9-.1-1 1.1-1-1.7-2 0-3-2.5-1-.7-2-1 1.2-2-.1-1 1.3-3 .6-.5 2 1.1 2-.5 2-1.1-.1 M479.5 199.6l0-1-1.1 1 M438.4 190.6l0-.1 M438.4 181.8l.4 .7-.4 2.3 M438.4 179.1l0 .9 M465.4 179.2l-.3 .3 .3 .3 0-.6 M463.4 177.4l-1-.9-.5 1 .5 .6 1-.1 0-.6 M438.4 175.3l0 .3 M438.4 171.4l0 1.3 M453.4 166.3l-1 .1 .2 1 .8 .8 .6-.8-.6-1.1 M441.3 163.4l-.9 .5-.9-.5 .9-.8 .9 .8 M444.1 163.4l-.7 .4-.5-.4 .5-.8 .7 .8 M438.4 173.8l1 2.6 1.1 1.1-1.3 2 .3 1 1.1 1-1.6 2 .4 1.2 1.8 .8 .6 1 .7 3-.4 1 .3 2.4 2 1.5 2-.3 .9 .5 .8 3 1.8 0 .5 1.1 2-1.1 4 .2 1 .8 1-1.1 1 2 1-.4 1.4 .5 M464.1 199.6l1.3-.4 .6 .4 M466.9 199.6l.5-.6 1 .5 1-1.1 3 .6 1-.4 0-2.2 1.5 .2-1.2 1 .7 .5 1 .1 2-1.6-2-1.1-.7-1.9-1.3-.9-1-2-1-.6-1 .7-.4-.3-.9-1 .2-1-2.9-.6-1-1.6-.4 .2 .3 1-.9 .4-2-3.2-1.8 .8-.2 1.7-.1-1.7-.7-1 .8-1.2 1-.3 1 1.2 .8-.7-.8-1.7-1 .2-.9-.5-1-2 1.2-1-2.4-1-.5-2-.4-.3-1 .6-1-.6-1 .1-.8-1.8 .5-1-1.7-1.6-1.9-.5-.8-1-.4-1 1.2-1-2.1-1.7-.9-2.3 1.2-1-1.3-.5-1.8 .5 .6 1-.8 .9-2.9 1.1 .8 1-1.9 .8-2 1.8-1 .1 M452.5 196.6l-.1 .8 .1-.8 M479.5 193.5l-1.3 1.1 .3 .4 1-.2 0-1.3 M464.4 185.2l-.7 .3 .7 .5 0-.8 M438.4 178l.5-.5-.5-.6 M438.4 170.9l1.1 1.6-1.1 .8 M441.4 165.1l-1 .3 1 .5 .8-.5-.8-.3 M444.4 162.1l0 .5 .5-.2-.5-.3 M447.4 164.5l-2.8 .9-.7 2-2.5 .5-2.7 2.5 1.3 2.1-.8 1 .4 2 1.3 2-.5 3 1.5 2-.3 2 1 2 .8 .4 1-.7 1 .1-.6 1.2 .6 2.4 1 1.1 1-.1 1.1 1.7-1.5 1 2.4 1.8 1 .1 1 1.2 1-1.2 3 1.8 1-.1 1-1 1.6 .4 .4 1.7 2-.3 2-1.3 .9 .9-1.9 .4-.2 .6 1.2 .5 1.2-.5-.1-1 1.9-1.5 1 1.7 1 .2 1-.5 3 .8 .9-4.7-1.9-2.9-1 .8-3-2.2-2 0-2-1-1 .7-.2-1.5-.8-.8-.2 .8-1.8 0-.5-3 2-2-2-3-.2-1-1.1-1-.2-1.4-1 .4-1-.6-1 .8-1 0-1-1.3-.7-.9 .7-1-1-1.9-1.1-.2-.9-1.5-1.8-1.5 .8-.7 1.4-.3-1.4-.4-1-2.5 M448.4 194.7l-.5 .9 .5 1.1 .8-1.1-.8-.9 M471 194.6l-.6 .8-.4-.8 .4-1 .6 1 M445.4 191.1l-1.5 1.5 .5 1.2 1.4-.2-.4-2.5 M443.4 189.7l-.8 .8 .8 1.7 .8-.6 0-1.1-.8-.8 M462.4 185.7l-.9 .8 .9 1 .7-1-.7-.8 M440.4 183l-.7 .5 .7 .6 .7-.6-.7-.5 M456.7 178.5l-.6 0 .3-.6 .3 .6 M446.4 165.3l-1.6 1.1 .2 1-2.2 1-.2 1 .8 1-1 .3-1-1.9-.7 1.6 .6 2.1-1 2 1.3 2-.5 4 1.8 1-.2 2 .7 1.8 3 .2-.7 3 1.7 1.3 1-.7 .5 .4-.7 2.1 1 1-.4 1 .6 1 1-.8 0-1.4 2 2 2.4 .2 .1 2 .5 .3 1-.2 1-1.1 4 .8 1.6-.8 1.4 .4 2-.8 1.6 .4-.6 1 1 .5 .6-.5-.4-1 .4-1-.6-1 .3-1-.9-1 .3-1.1-.7-.4-2 1.2-1-1.1-1 .9-3.2-1.6 1.4-1-2.2-.2-1.5-2.8 .5-1.6 1.6-1.4-.4-1-1.2 0-1 1.2 1-1.2-1-2.2-3-.3-2-1.9-1.5-.6 .4-3-1.9-2-.2-1.1-.8-.6-1 .1-1.1-1.5 1.2-2-.5-1-.6-.1 M457.2 194.6l-1.3 0 .5-.8 .8 .8 M471.4 191.3l-.5 2.3 1.5 1.1 .3-1.1-1.3-2.3 M456.7 191.6l-.3 .3-.2-.3 .5 0 M443.4 190.4l0 .6 0-.6 M455.7 187.5l.7 1.3-1.4-1.3 .7 0 M448.9 186.5l-.5 .4-.2-.4 .7 0 M449.6 178.5l-.2 .6 0-1.2 .2 .6 M456.4 195.2l-.8 .4 .8 .4 .4-.4-.4-.4 M461.4 191.4l-2-.2-1 .5-.5 .9 .5 3 2-.6 1 .8 1-1.1 2.5-.1-.5-.8-1 .2-.2-1.4-1.8-1.2 M460.6 193.6l-.5 0 .3-.4 .2 .4 M454.4 190.3l-2.7 1.3 .7 1.7 1-.1 1.7-1.6-.7-1.3 M467.4 192.1l-1-.3-1 .7-1.6 .1 3.6 .9 .5-.9-.5-.5 M450.4 190.2l-1-.1 0 1.6 1.6-1.2-.6-.3 M447.4 188.3l-.4 .2 .4 .3 .4-.3-.4-.2 M445.4 168.9l-1-.1-.6 .6 1.1 2-1.5 .7-2 2.4 .8 2-.4 3 1.6 .8 1-.7 .5 .9 .5 3-1.1 1 5.1 1.1 1-1.7 .6 .6-1.1 3 3.5 1.7 .7-.7-.4-1 .7-.9 1-.1 .4-1 1.8-1-3.6-2 1.1-1-1.7-2.6-1 1.1-3 .7-1.2-1.2-.7-1 2.1-2-.4-1 .3-2-3.8-2.1 .4-1-.7-1.5 M457.4 188l0 1.1 .5-.6-.5-.5 M451.6 182.5l-.4 0 .4 0 M451.4 177.6l-.4 .9 .4 .1 0-1 M448.4 170.4l0 1.1 0-1.1" fill="none" stroke="#000" stroke-width="0.9" stroke-linejoin="round"/>
<path d="M457.4 198.6h1.0v1.0h-1.0zM462.4 176.3h1.0v1.0h-1.0zM440.9 165.4h1.0v1.0h-1.0zM461.9 177.5h1.0v1.0h-1.0zM471.7 186.8h1.0v1.0h-1.0zM455.2 160.0h1.0v1.0h-1.0zM439.9 161.2h1.0v1.0h-1.0zM464.5 179.4h1.0v1.0h-1.0zM440.2 190.9h1.0v1.0h-1.0zM458.9 175.6h1.0v1.0h-1.0zM449.6 159.0h1.0v1.0h-1.0zM461.8 177.3h1.0v1.0h-1.0zM478.7 198.9h1.0v1.0h-1.0zM454.8 173.6h1.0v1.0h-1.0zM468.9 186.2h1.0v1.0h-1.0zM469.5 198.4h1.0v1.0h-1.0zM476.9 190.8h1.0v1.0h-1.0zM443.3 195.2h1.0v1.0h-1.0zM442.1 162.9h1.0v1.0h-1.0zM441.9 164.2h1.0v1.0h-1.0zM444.2 159.1h1.0v1.0h-1.0zM438.9 162.4h1.0v1.0h-1.0zM440.5 189.1h1.0v1.0h-1.0zM441.4 194.8h1.0v1.0h-1.0zM474.0 191.4h1.0v1.0h-1.0zM478.5 194.8h1.0v1.0h-1.0zM444.2 160.8h1.0v1.0h-1.0zM459.6 173.9h1.0v1.0h-1.0zM467.7 198.8h1.0v1.0h-1.0zM451.5 168.2h1.0v1.0h-1.0zM468.2 181.7h1.0v1.0h-1.0zM455.7 174.2h1.0v1.0h-1.0zM445.3 161.8h1.0v1.0h-1.0zM464.4 199.0h1.0v1.0h-1.0zM470.0 181.9h1.0v1.0h-1.0zM440.0 185.8h1.0v1.0h-1.0zM476.3 191.9h1.0v1.0h-1.0zM442.3 163.8h1.0v1.0h-1.0zM459.5 186.0h1.0v1.0h-1.0zM458.8 199.0h1.0v1.0h-1.0zM442.4 193.9h1.0v1.0h-1.0zM443.0 160.7h1.0v1.0h-1.0zM439.0 160.8h1.0v1.0h-1.0zM438.1 184.8h1.0v1.0h-1.0zM463.4 177.4h1.0v1.0h-1.0zM438.6 177.2h1.0v1.0h-1.0zM454.0 163.2h1.0v1.0h-1.0zM446.1 159.9h1.0v1.0h-1.0zM449.1 161.6h1.0v1.0h-1.0zM457.5 176.0h1.0v1.0h-1.0zM453.8 171.3h1.0v1.0h-1.0zM469.4 187.7h1.0v1.0h-1.0zM450.8 198.0h1.0v1.0h-1.0zM438.5 180.1h1.0v1.0h-1.0zM449.9 199.0h1.0v1.0h-1.0zM442.9 160.8h1.0v1.0h-1.0zM477.4 188.6h1.0v1.0h-1.0zM459.0 175.6h1.0v1.0h-1.0zM454.9 199.3h1.0v1.0h-1.0zM476.7 193.1h1.0v1.0h-1.0zM460.7 198.9h1.0v1.0h-1.0zM457.2 198.9h1.0v1.0h-1.0zM463.5 181.8h1.0v1.0h-1.0zM465.0 183.2h1.0v1.0h-1.0zM449.0 168.1h1.0v1.0h-1.0zM439.1 185.8h1.0v1.0h-1.0zM447.0 195.6h1.0v1.0h-1.0zM455.1 197.9h1.0v1.0h-1.0zM438.2 178.1h1.0v1.0h-1.0zM452.0 170.1h1.0v1.0h-1.0zM476.9 195.8h1.0v1.0h-1.0zM439.5 196.0h1.0v1.0h-1.0zM469.0 198.9h1.0v1.0h-1.0zM466.6 186.2h1.0v1.0h-1.0zM477.5 199.0h1.0v1.0h-1.0zM466.3 186.7h1.0v1.0h-1.0zM461.2 174.1h1.0v1.0h-1.0zM473.3 190.9h1.0v1.0h-1.0zM438.4 179.6h1.0v1.0h-1.0zM473.7 198.2h1.0v1.0h-1.0zM451.8 198.0h1.0v1.0h-1.0zM474.3 191.8h1.0v1.0h-1.0zM453.8 168.8h1.0v1.0h-1.0zM444.3 193.9h1.0v1.0h-1.0zM474.3 186.9h1.0v1.0h-1.0zM440.8 162.8h1.0v1.0h-1.0zM486.3 191.3h1.0v1.0h-1.0zM446.1 193.8h1.0v1.0h-1.0zM453.3 170.3h1.0v1.0h-1.0zM438.5 181.4h1.0v1.0h-1.0zM440.6 190.7h1.0v1.0h-1.0zM441.0 187.6h1.0v1.0h-1.0zM478.0 188.5h1.0v1.0h-1.0zM439.2 166.7h1.0v1.0h-1.0zM446.1 196.6h1.0v1.0h-1.0zM448.2 199.2h1.0v1.0h-1.0zM481.2 194.6h1.0v1.0h-1.0zM467.5 199.2h1.0v1.0h-1.0zM463.2 185.2h1.0v1.0h-1.0zM444.5 161.3h1.0v1.0h-1.0zM453.1 198.2h1.0v1.0h-1.0zM475.6 194.2h1.0v1.0h-1.0zM438.4 190.5h1.0v1.0h-1.0zM480.1 195.6h1.0v1.0h-1.0zM463.4 178.3h1.0v1.0h-1.0zM438.8 163.1h1.0v1.0h-1.0zM452.0 166.2h1.0v1.0h-1.0zM446.0 158.5h1.0v1.0h-1.0zM448.6 198.1h1.0v1.0h-1.0zM478.1 198.0h1.0v1.0h-1.0zM475.6 194.7h1.0v1.0h-1.0zM457.7 196.7h1.0v1.0h-1.0zM446.7 197.9h1.0v1.0h-1.0zM451.0 167.1h1.0v1.0h-1.0zM438.2 173.5h1.0v1.0h-1.0zM476.0 192.7h1.0v1.0h-1.0zM439.4 188.9h1.0v1.0h-1.0zM439.4 176.1h1.0v1.0h-1.0zM439.8 197.1h1.0v1.0h-1.0zM473.7 188.8h1.0v1.0h-1.0zM439.5 165.9h1.0v1.0h-1.0zM439.0 180.8h1.0v1.0h-1.0zM461.6 174.9h1.0v1.0h-1.0zM454.6 173.0h1.0v1.0h-1.0zM455.0 168.1h1.0v1.0h-1.0zM483.6 192.9h1.0v1.0h-1.0zM441.8 162.0h1.0v1.0h-1.0zM449.0 165.4h1.0v1.0h-1.0zM470.3 199.0h1.0v1.0h-1.0zM455.7 170.0h1.0v1.0h-1.0zM458.7 172.1h1.0v1.0h-1.0zM466.1 197.4h1.0v1.0h-1.0zM442.9 195.6h1.0v1.0h-1.0zM476.3 190.5h1.0v1.0h-1.0zM440.3 163.9h1.0v1.0h-1.0zM466.7 185.9h1.0v1.0h-1.0zM472.8 196.0h1.0v1.0h-1.0zM443.1 193.5h1.0v1.0h-1.0zM451.5 162.6h1.0v1.0h-1.0zM458.0 174.6h1.0v1.0h-1.0zM469.1 197.7h1.0v1.0h-1.0zM447.4 154.1h1.0v1.0h-1.0zM461.3 198.7h1.0v1.0h-1.0zM472.5 189.6h1.0v1.0h-1.0zM461.0 180.0h1.0v1.0h-1.0zM479.0 189.7h1.0v1.0h-1.0zM442.3 192.6h1.0v1.0h-1.0zM439.6 195.1h1.0v1.0h-1.0zM448.9 162.6h1.0v1.0h-1.0zM469.6 188.0h1.0v1.0h-1.0zM439.4 189.0h1.0v1.0h-1.0zM445.6 159.9h1.0v1.0h-1.0zM440.8 154.9h1.0v1.0h-1.0zM437.9 176.1h1.0v1.0h-1.0zM457.3 174.5h1.0v1.0h-1.0zM477.0 196.2h1.0v1.0h-1.0zM463.8 173.0h1.0v1.0h-1.0zM463.7 185.7h1.0v1.0h-1.0zM458.3 173.8h1.0v1.0h-1.0zM441.6 189.0h1.0v1.0h-1.0zM455.9 197.8h1.0v1.0h-1.0zM460.3 184.5h1.0v1.0h-1.0zM475.3 198.1h1.0v1.0h-1.0zM468.0 181.4h1.0v1.0h-1.0zM479.3 196.9h1.0v1.0h-1.0zM477.7 195.1h1.0v1.0h-1.0zM461.0 184.4h1.0v1.0h-1.0zM465.5 180.8h1.0v1.0h-1.0zM442.1 165.5h1.0v1.0h-1.0zM486.4 195.7h1.0v1.0h-1.0zM453.5 198.9h1.0v1.0h-1.0zM486.9 188.6h1.0v1.0h-1.0zM463.9 179.8h1.0v1.0h-1.0zM471.4 187.7h1.0v1.0h-1.0zM472.6 185.4h1.0v1.0h-1.0zM472.5 198.0h1.0v1.0h-1.0zM454.2 171.7h1.0v1.0h-1.0zM459.4 199.1h1.0v1.0h-1.0zM469.2 188.1h1.0v1.0h-1.0zM444.5 157.5h1.0v1.0h-1.0zM478.9 196.4h1.0v1.0h-1.0zM475.4 191.6h1.0v1.0h-1.0zM470.0 188.7h1.0v1.0h-1.0zM465.1 178.8h1.0v1.0h-1.0zM475.2 193.0h1.0v1.0h-1.0zM462.5 180.3h1.0v1.0h-1.0zM450.5 198.4h1.0v1.0h-1.0zM452.9 169.2h1.0v1.0h-1.0zM443.2 159.7h1.0v1.0h-1.0zM459.8 180.1h1.0v1.0h-1.0zM440.7 161.5h1.0v1.0h-1.0zM473.1 198.4h1.0v1.0h-1.0zM453.4 167.0h1.0v1.0h-1.0zM463.8 183.9h1.0v1.0h-1.0zM463.3 182.6h1.0v1.0h-1.0zM438.2 184.6h1.0v1.0h-1.0zM470.9 184.5h1.0v1.0h-1.0zM442.0 196.1h1.0v1.0h-1.0zM448.5 197.1h1.0v1.0h-1.0zM446.0 160.2h1.0v1.0h-1.0zM438.5 184.7h1.0v1.0h-1.0zM478.9 198.6h1.0v1.0h-1.0zM452.5 166.0h1.0v1.0h-1.0zM458.8 177.1h1.0v1.0h-1.0zM439.7 167.3h1.0v1.0h-1.0zM439.5 162.2h1.0v1.0h-1.0zM439.3 163.6h1.0v1.0h-1.0zM439.3 182.3h1.0v1.0h-1.0zM473.6 195.9h1.0v1.0h-1.0zM480.6 195.4h1.0v1.0h-1.0zM461.6 178.6h1.0v1.0h-1.0zM462.8 181.2h1.0v1.0h-1.0zM468.7 187.4h1.0v1.0h-1.0zM460.1 175.1h1.0v1.0h-1.0zM466.6 186.9h1.0v1.0h-1.0zM463.4 180.6h1.0v1.0h-1.0zM457.7 174.4h1.0v1.0h-1.0zM465.7 179.8h1.0v1.0h-1.0zM451.4 165.0h1.0v1.0h-1.0zM453.0 166.8h1.0v1.0h-1.0z" fill="#000"/>
<path d="M434.90 200.10H437.90M437.90 200.10V203.10M435.90 195.86H437.90M443.55 200.10V202.10M435.90 193.38H437.90M446.86 200.10V202.10M435.90 191.63H437.90M449.20 200.10V202.10M435.90 190.26H437.90M451.02 200.10V202.10M435.90 189.15H437.90M452.51 200.10V202.10M435.90 188.21H437.90M453.77 200.10V202.10M435.90 187.39H437.90M454.86 200.10V202.10M435.90 186.67H437.90M455.82 200.10V202.10M434.90 186.03H437.90M456.67 200.10V203.10M435.90 181.79H437.90M462.33 200.10V202.10M435.90 179.31H437.90M465.63 200.10V202.10M435.90 177.55H437.90M467.98 200.10V202.10M435.90 176.19H437.90M469.80 200.10V202.10M435.90 175.07H437.90M471.28 200.10V202.10M435.90 174.13H437.90M472.54 200.10V202.10M435.90 173.31H437.90M473.63 200.10V202.10M435.90 172.59H437.90M474.59 200.10V202.10M434.90 171.95H437.90M475.45 200.10V203.10M435.90 167.71H437.90M481.10 200.10V202.10M435.90 165.23H437.90M484.41 200.10V202.10M435.90 163.48H437.90M486.75 200.10V202.10M435.90 162.11H437.90M488.57 200.10V202.10M435.90 161.00H437.90M490.06 200.10V202.10M435.90 160.06H437.90M491.32 200.10V202.10M435.90 159.24H437.90M492.41 200.10V202.10M435.90 158.52H437.90M493.37 200.10V202.10M434.90 157.88H437.90M494.23 200.10V203.10M435.90 153.64H437.90M499.88 200.10V202.10M435.90 151.16H437.90M503.18 200.10V202.10M435.90 149.40H437.90M505.53 200.10V202.10M435.90 148.04H437.90M507.35 200.10V202.10M435.90 146.92H437.90M508.83 200.10V202.10M435.90 145.98H437.90M510.09 200.10V202.10M435.90 145.16H437.90M511.18 200.10V202.10M435.90 144.44H437.90M512.14 200.10V202.10" stroke="#000" stroke-width="0.75" fill="none"/>
<g transform="translate(438.1 210.0)"><text x="-5.53" y="0" font-family="'Liberation Sans', sans-serif" font-size="7.4" font-weight="bold" transform="scale(0.76 1)">10</text><text x="3.25" y="-4.0" font-family="'Liberation Sans', sans-serif" font-size="5.6" font-weight="bold" transform="scale(0.8 1)">0</text></g>
<g transform="translate(456.3 210.0)"><text x="-5.53" y="0" font-family="'Liberation Sans', sans-serif" font-size="7.4" font-weight="bold" transform="scale(0.76 1)">10</text><text x="3.25" y="-4.0" font-family="'Liberation Sans', sans-serif" font-size="5.6" font-weight="bold" transform="scale(0.8 1)">1</text></g>
<g transform="translate(474.5 210.0)"><text x="-5.53" y="0" font-family="'Liberation Sans', sans-serif" font-size="7.4" font-weight="bold" transform="scale(0.76 1)">10</text><text x="3.25" y="-4.0" font-family="'Liberation Sans', sans-serif" font-size="5.6" font-weight="bold" transform="scale(0.8 1)">2</text></g>
<g transform="translate(492.7 210.0)"><text x="-5.53" y="0" font-family="'Liberation Sans', sans-serif" font-size="7.4" font-weight="bold" transform="scale(0.76 1)">10</text><text x="3.25" y="-4.0" font-family="'Liberation Sans', sans-serif" font-size="5.6" font-weight="bold" transform="scale(0.8 1)">3</text></g>
<g transform="translate(510.9 210.0)"><text x="-5.53" y="0" font-family="'Liberation Sans', sans-serif" font-size="7.4" font-weight="bold" transform="scale(0.76 1)">10</text><text x="3.25" y="-4.0" font-family="'Liberation Sans', sans-serif" font-size="5.6" font-weight="bold" transform="scale(0.8 1)">4</text></g>
<g transform="translate(432.5 200.1) rotate(-90)"><text x="-5.66" y="0" font-family="'Liberation Sans', sans-serif" font-size="7.8" font-weight="bold" transform="scale(0.76 1)">10</text><text x="3.62" y="-4.3" font-family="'Liberation Sans', sans-serif" font-size="5.6" font-weight="bold" transform="scale(0.8 1)">0</text></g>
<g transform="translate(432.5 186.0) rotate(-90)"><text x="-5.66" y="0" font-family="'Liberation Sans', sans-serif" font-size="7.8" font-weight="bold" transform="scale(0.76 1)">10</text><text x="3.62" y="-4.3" font-family="'Liberation Sans', sans-serif" font-size="5.6" font-weight="bold" transform="scale(0.8 1)">1</text></g>
<g transform="translate(432.5 172.0) rotate(-90)"><text x="-5.66" y="0" font-family="'Liberation Sans', sans-serif" font-size="7.8" font-weight="bold" transform="scale(0.76 1)">10</text><text x="3.62" y="-4.3" font-family="'Liberation Sans', sans-serif" font-size="5.6" font-weight="bold" transform="scale(0.8 1)">2</text></g>
<g transform="translate(432.5 157.9) rotate(-90)"><text x="-5.66" y="0" font-family="'Liberation Sans', sans-serif" font-size="7.8" font-weight="bold" transform="scale(0.76 1)">10</text><text x="3.62" y="-4.3" font-family="'Liberation Sans', sans-serif" font-size="5.6" font-weight="bold" transform="scale(0.8 1)">3</text></g>
<g transform="translate(432.5 143.8) rotate(-90)"><text x="-5.66" y="0" font-family="'Liberation Sans', sans-serif" font-size="7.8" font-weight="bold" transform="scale(0.76 1)">10</text><text x="3.62" y="-4.3" font-family="'Liberation Sans', sans-serif" font-size="5.6" font-weight="bold" transform="scale(0.8 1)">4</text></g>
<text x="473.45" y="216.40" font-family="'Liberation Sans', sans-serif" font-size="6.8" font-weight="normal" text-anchor="middle" stroke="#000" stroke-width="0.25">CD11B-PE</text>
<text transform="translate(422.70 172.95) rotate(-90)" font-family="'Liberation Sans', sans-serif" font-size="6.4" text-anchor="middle" stroke="#000" stroke-width="0.2">GFP</text>
<text x="500.50" y="158.80" font-family="'Liberation Serif', serif" font-size="8.2" font-weight="normal" text-anchor="middle" >8</text>
<rect x="322.80" y="234.70" width="75.60" height="56.70" fill="none" stroke="#000" stroke-width="1.25"/>
<line x1="341.90" y1="234.70" x2="341.90" y2="291.40" stroke="#000" stroke-width="1"/>
<line x1="322.80" y1="275.70" x2="398.40" y2="275.70" stroke="#000" stroke-width="1"/>
<path d="M365.1 278.1l-3 1.3-6-.1-2 1-8.9-.2-2 .9-1-.3-4 1.8-1-.4-5.9 1.9-1-.6-4 2.8-1-.9-1.4 1.6 .4 1.9 1-.8 3 2.1 2-.7 1.9 .8 1-.7 4 0 4 1 3-2 1 .5 2-.7 2 .9 2-.7 1.9-.1 .3-.5 1.7-.5 2 1.1 2-.3 1-1.4 2 0 4-1.6 1 1.1 .6-1.4 4.3-1.1 1-2.1 1-.2 1 1.4 .9-1.9-.9-1.6-2 1.4-2.1 .2-.9-1.7-.3 .7-2.6 .2-2-2.1 M342.7 284.9l.5 1.2-1.6-.2 .6-1.4 .5 .4 M351.6 283.9l-3.4 2.2-1.1-.2-.8-1 .9-.8 1 .3 1-1 2.4 .5 M357.2 283.9l-4.1 1.4-.8-.4 .3-1 3.5-.3 1.1 .3 M362.1 246.9l-1-.2-3 1.8-2-1.3-1 .4-2 1.5-1-.4-.9 .4 .4 1-.4 .3-4-1.2-.2-1.1-.8-.7-2-.2-1 1.3-1 0-3-1.7-4 1.2-1-.5-1.2 .6-.2 1-2.5 1.4-2.2-.4 .2-1-1-.7-1.4 .7-.9 1-.1 1 .8 1 .6 3-1.6 1 0 1 .6 1 1.3-1 .3 1-.9 1 0 1 .9 1-1.6 1 1.2 .9-.2 1-.3 1-1.6 1-.1 1 1 .8 1-.7 .6 .9-.5 1 2 2-2 1 .2 1 1.7 .8 2-1 1 1.2 .9 .4 3-.8 .9 .4 .1 .8 5-.9-1 1.1 1 .8 4-.9 1 1.5 1-1.8 .9-.6 1.1 .2 2-.6 1.9 .8 1-.7 1 1 1-.3 .9-.4-.9-1 2-1.1 0 1.8-.6 .3 1.6 .4 2 1.6 2-1.4 1 .2 1-2 1 1 1-.1 1 .7 2.9-.3 1-2.7 1 .1 .2-.5-.2-.5-1.2-.5 .6-1-.3-2 3-3-1.1-1-1 .7-.9-1.6 .4-3 1.1-1-2.1-3 1.3-2-1.4-1 .1-1-2.4-.8 1.5-1.2-.6-1-.9 .4-1-.4-1 1.2-1.2-1.2-1.8-.5-1 .3-1-1 M363.1 275.2l-.6 .8 .6 .4 .6-.4-.6-.8 M369.5 270l-.4 .3 0-.5 .4 .2 M324.3 267l-.8 1 .8 .8 .8-.8-.8-1 M325.3 262.3l0 .8 0-.8 M328.3 247.1l-.7 1 .7 1 3.4-1-3.4-1 M348.2 247.8l-.7 .3 .7 .5 .3-.5-.3-.3 M330.3 245.9l0 .6 0-.6 M347.2 280.9l-2-.3-1 1.1-2-.2-2 1.2-3 .6-.7 .6 2 2-.3 .4-1.5-.4 .5-1-2-1.4-5.9 1.4-1.8 1-.5 1 .3 1 1 1.2 2-.4 1.9 .8 1-.8 1 .3 3-.4 2 .8 2-.9 2 .1 .6-.7-.6-.8-2-.6-.1-1.6 1.1-1.8 1 1.2 1-.7 4 .1 .8-1.7-.8-1-1-.1 M345.2 285.5l-1 .4-.5 1 1.5 1.3 1 .2 1.8-1.5-2.8-1.4 M352.1 285.5l-.9-.5-2 1.2-.8 .7 0 1 .8 .7 2.9-1.1 .7-1.6-.7-.4 M325.3 286.7l.4 .2-.4-.2 M365.1 279.3l-2 1.4-2-.7-1 .4-4-.2-2 1.3-3.9-.6-1 1.1 1 .7 2.9 .6 2-.8 4 .1 .4 .3-.4 .7-2.1 1.3 .3 2 .8 .6 1-.1 1-1.4 1-.4 0-1.7 3 1.6 1-.7 4-.9 2.9-1.3 .5-.6-.5-.6-2 .5-.9-1.3-2 2.4-1.1-1-.2-2-.7-.7 M356.1 285.3l-1-.2-1.7 .8 .7 .9 1 0 1.6-.9-.6-.6 M375 280.6l0 .6 0-.6 M360.1 248.1l-3 2.7-2 .1-2-1.1-1.9 2.4-3-.8-2-2.4-1-.1-1-.9-.4 1.1-2.6 1.4-2-.1-1-1.6-1-.2-3 1.9-1 1.8-1.9-1.4-2 .9-.4 1.3-1.6 1-.4 1 .4 1 1.3 0 .3 1 .2 2-1.4 1 1 2-.7 1.9 1.3 1-2 0-1.7 1 1.7 .3 .4 .7-.8 2 4.4 3.8 1.9 .7 1-1.3 1 .4 1-.7 1 1.6 1-.5 0-1.3 1 1.1 1-.4 2 1.1 .6-.5-.2-1 .6-.1 1 2 1-1.5 1 .2 .9-.6 .1-1-.1 2 2.1 .3 1-1.3 1 .3 .9 1.5 1-.1 1-1.6 1 .7 3-1.8 1 .4 2 2.3 .1-.7 1.9-1.1 2 0 1 .9 .9-.8-.5-1 .6-.5 .6 .5-.2 2 1.6 .7 .9-.2 .9-1.5-.9-.7-1.7-.3-.1-2 .4-1 1.4 .3 1.4-1.3-.7-3-.8-1 .2-1.9-1.1-2 1-.8 2.1-.2-2.1-2.3-1 1.3-.2-1 .7-1 0-1-.4-.9-1 .3-.6-.4 .2-1-1.4-2-2 0 .5-1-.7-.7-1.2 .7 .9 1-.7 .2-3-2.2 M359.1 272.6l0 .6 .5-.2-.5-.4 M329.3 271.1l0 1.1 .6-.2-.6-.9 M333 271l-.8 .4-.3-.4 1.1 0 M349.3 270l-.1 .3 0-.8 .1 .5 M352.5 270l-.4 .7 0-1.2 .4 .5 M332.3 256.1l.3 2-.4 .3-.1-1.3-1.2-1 1.4 0 M338.3 257.1l-.1 .7-1-.1 0-.9 1.1 .3 M343.2 255.1l-.4 0 .4-.4 0 .4 M342.9 253.1l-.7 .8-1.2-.8 1.2-.8 .7 .8 M361.5 252.1l-.3 1-.8 0-.2-1 .9-.9 .4 .9 M371 252.6l-.9 .5 .9 .7 .6-.7-.6-.5 M339.2 247.6l-.8 .5 .8 .6 .9-.6-.9-.5 M356.1 248.1l0 .8 0-.8 M335.2 284.4l-1-.4-1 .9-1.9 .2-.7 .8-.3 1.9-1-1-.9 1.1 2.9 .5 2.9-1.1 2.5 .6 .1-1-1.1-1 .1-1-.6-.5 M340.2 284.4l-.7 2.5 .7 1.4 .6-1.4-.6-2.5 M342.2 287.9l.4 0-.4 0 M347.2 286.9l-1-.4-1.2 .4 1.2 .9 1-.9 M355.1 285.5l-.8 .4 .8 .5 .8-.5-.8-.4 M360.1 284.8l-.5 .1 .5-.1 M364.1 283.2l-1.8 .7 1.8 1.1 .9-1.1-.9-.7 M366.1 283.5l-.6 .4 .7 0-.1-.4 M348.2 282.5l-.9 .4 .9 .2 0-.6 M362.1 280.7l-1-.3-.6 .6-.1 1 .4 .9 1.3 .8 1-1.7-1-1.3 M365.1 281.9l-1-.7-.9 .8 1.9 1.5 .4-.6-.4-1 M346.2 281.3l-1.4 .7 1.4 .8 .9-.8-.9-.7 M353.1 281.8l0 .4 0-.4 M356.1 280.7l-.5 .3 .5 1.1 1-1.1-1-.3 M358.1 281.4l0 .6 0-.6 M359.1 280.6l-.9 .4 .9 .6 .5-.6-.5-.4 M352.1 271.5l-.5 .5 .1 1 1.4 .2-.1-1.2-.9-.5 M348.2 271.3l-.5 .7 .5 .6 .7-.6-.7-.7 M365.1 251l-2 .5-1 1.6-2 .8-1-1.5-2 1.6-1-.7-1 .1-1-.8-1 .9-2.9-.8-1.2 .4-.8 1.3-.6-.3 .3-2-.7-.5-1 .7-1-1-1.2 .8 .7 2-1 1 .5 1.4 1 1 1-1 2.5 2.6-.5 .8-1-.5-1 .7 .5 2.9-.5 .6-1.8-2.5 .4-3-.6-.6-1 1.2-1-2.2-1-.4-1 .3-2.1 2.7 1.7 1-.6 .8-2-.6-1 1-.5-.2 1.2-1-.4-4 1.5-1-.1-1-.7-.2-1 .9-2-2.3-2.9 .8-1-1.3-.7 3.1 .7 .3 1-.9 .9 0 1 .8 .4 1.8-1.4 3.5-.9-3.2-1 .3-.3 1.4 .4 1-1.1 1 .2 1.9 .8 1 1-.8 .9 .4 1-.8 1.2 .2-.2 .7-1-.5-.7 1.8-2.2 2-.3 1 1.3 1 1.9-.3 2-2.6 1 0 1 1.8 1-1.5 1 .6-1 1.6-2-.3-1.8 1.7 0 1 .8 .9 2-1.2 2-.2 2 .9 2-.1 3-2.4 1 1 1-.1 .1-1.8 .9-.3 .9 .3 .1 2.2 1.9-2.6 1-.3 .6 .7-.5 2 1.9 2.1 2.2-1.1-.2-.9-1 .4-.6-.5 1.6-1.2 .1 1.2 1.9 .3 1 1.1 2-.9 1.2 .5 .8-1.2 2 .5 2-2.7 1.5-.6-.4-1 1.2-1-1.3-1.3-1 .4-.9-1.1 1.5-1.9 .1-1-.7-1-2 .4-1 1.4-1.1-.8 1.1-1.7 3 .3 .3-.6-1.3-1.8-3 .8-2 0 0-1.6 1-.2 1 1.6 .4-1.8 .6-.4 2 1.3 1.2-.9-1.2-1.6-1 .3-1-2.8 M370 271.8l-.8 .2 .8 .5 0-.7 M331.3 269l-2 .5-.4 .5 2.4 .6 .6-.6-.6-1 M328.3 267.3l0 1.9 0-1.9 M343.2 269l-.6 0 .6 0 M355.9 268l-1 0 1 0 M360.4 258.1l.7 1.7 1.5 1.3-.6 1 2.1 1.3 1 1.4 1-.2 .7 .4-1.5 1-.2 1.2-4 1-.7-1.2 .6-1 0-5.9-1.6-2 .7-.9 .3 .9 M329.3 266.8l-.8 .2 1.6 0-.8-.2 M342.4 264l.6 1-.8 1-.3-2 .5 0 M345.5 266l-.6 0 .3-.5 .3 .5 M347.6 266l-.8 0 .8 0 M350.7 264l-.5 2.2-.8-2.2 .8-.3 .5 .3 M362.1 265.2l-.8 .8 .8 .7 .8-.7-.8-.8 M331.3 264.7l-1 .3 1 1 .7-1-.7-.3 M348.7 264l-1.2 0 1.2 0 M338.7 262.1l-.5-.2 .5 .2 M357.3 258.1l-.6 1 1.1 2-.3 1-1.4 .6-.3-.6 .8-2-.9-1 0-1 1.6 0 M350.4 260.1l-.2 1-1.6 0 .7-1 1.1 0 M348.5 256.1l-.7 0 .7 0 M359.6 255.1l-.5 1.3-1 .1-1.1-1.4 .1-.7 2 .1 .5 .6 M337.2 249.6l-1 1-2 .6 3.5 .9 1.5 2.7 .7-1.7-.2-1-2.5-2.5 M357.1 251.7l-1-.2-.6 .6 .6 .8 1.6-.8-.6-.4 M343.2 251l-1-.3-.9 .4 .9 .4 1-.5 M353.1 250.6l-.4 .5 .4 .5 .7-.5-.7-.5 M359.1 249.6l-.7 1.5 .7 .9 .9-.9 .1-1-1-.5 M362.1 250.6l-.4 .5 .4 .5 .6-.5-.6-.5 M360.1 248.9l-.4 .2 .4 .9 .4-.9-.4-.2 M331.3 285.7l0 2 .8-.8-.2-1-.6-.2 M334.2 284.7l-.6 1.2 .6 .6 .6-.6-.6-1.2 M361.1 280.9l0 1.4 1 .1 .4-.4-1.4-1.1 M352.1 272.6l0 .4 0-.4 M336.2 269l-1.4 1 .4 1.4 1.6-1.4-.6-1 M354.1 269.5l0 .9 .5-.4-.5-.5 M361.1 269.2l-1.4 .8 .4 .4 1-.2 0-1 M341.2 266.8l-1-.4-.5 .6-.5 2.5 1.4-.5 .1-1 1-1-.5-.2 M346.2 266.4l-1.9 1.6 .9 1.4 1-1.1 1 .6 0-1.9-1-.6 M363.1 268l-1.9 1 1.9 .5 .8-.5-.8-1 M367.1 265.7l-.7 .3 0 1-1.9 1 .4 1 1.2-.1 2.1-1.9-1.1-1.3 M331.3 267.1l-.4 .9 .4 .4 .5-.4-.5-.9 M343.2 267.6l-.8 .4 1.4 0-.6-.4 M350.2 256.5l-.5 .6 0 2 1.4 1 .3 1-1.2 .8-3-.5-.4 .7 .4 .6 1 .5 1-.7 2 .9 2.9-.8 .5 .4-1.2 2 .7 2.4 1 .1 1-1.1 .8 .6 .2 1.2 2.1-.2 1.3-2-.4-1.6-3 1.1-1.2-1.5-.5-2.9-2.3-2.6-1 .9-1.9-2.9 M333.2 265.6l-1 .1-.7 1.3 .7 .4 1.3-1.4-.3-.4 M352.1 265.8l0 .4 0-.4 M337.2 260.9l-.5 1.2-2.1 1.9 .6 1.3 1 .1 1.8-1.4 .2-1-1-2.1 M340.2 262.9l-.8 1.1 0 1 .8 .6 1.3-.6-.7-2-.6-.1 M347.2 264.6l-1-.1-.5 .5 .5 .6 1.9-.6-.9-.4 M344.2 262.2l-.9 1.8 .9 .9 1.2-.9-1.2-1.8 M352.1 263.8l0 .6 0-.6 M330.3 261.4l0 2 .4-.4-.4-1.6 M342.2 262.9l-.6 .1 1 0-.4-.1 M357.1 263l0 .4 0-.4 M359.1 259.7l-1 .4 2 2-.8 .9 .8 .6 .4-2.5-.4-.9-1-.5 M365.1 261.7l-2-.2-.4 .6 2.4 1.3 .8-1.3-.8-.4 M331.3 260.8l-.7 .3 .7 .3 0-.6 M334.2 260.4l-.8 .7 .8 .6 0-1.3 M342.2 258l-1-.7-1 .2-.5 1.6 .5 .5 1-.1 2 1.9 .8-1.3-1.7-1-.1-1.1 M366.1 260l0 1.3 .6-.2-.6-1.1 M368.1 259.8l-.8 .3 0 1 .8 0 0-1.3 M347.2 259.9l0 .6 0-.6 M334.2 254.3l-.2 3.8 1.2 1.5 .9-.5-.2-2-1.7-2.8 M363.1 257.7l-1 .8 0 .9 2-.3-.1-1-.9-.4 M354.1 253.1l-1 1.4-1-.8-.6 .4-1.1 2 .8 .8 .9-1.2 2 1.2 1-1.7 1 .1 0-.5-1 .2-1-1.9 M361.1 255.4l-1-.1 0 1.1 1 .3 0-1.3 M346.2 254.5l-2 .6 2 .4 .5-.4-.5-.6 M349.2 253.8l-.7 1.3 .7 .6 .6-1.6-.6-.3 M367.1 254.2l-.6 .9 .6 .5 .5-.5-.5-.9 M333.2 253.5l-.6 .6 .6 .5 1-.5-1-.6 M358.1 253.8l-.3 .3 .8 0-.5-.3 M365.1 251.9l-1.6 .2-.4 1.5-1.7 .5 .7 .6 2 0 1-.9 0-1.9 M337.2 250.2l-.4 .9 .4 .2 0-1.1 M345.2 267.9l0 .4 0-.4 M366.1 267.7l-.4 .3 .4 .3 .3-.3-.3-.3 M337.2 263l-1.1 0-.1 1 1.2-1 M354.1 260.9l0 .4 0-.4 M354.1 254.9l0 .5 0-.5" fill="none" stroke="#000" stroke-width="0.9" stroke-linejoin="round"/>
<path d="M377.6 279.9h1.0v1.0h-1.0zM354.8 282.1h1.0v1.0h-1.0zM338.0 256.6h1.0v1.0h-1.0zM344.3 283.2h1.0v1.0h-1.0zM346.4 270.1h1.0v1.0h-1.0zM332.2 255.6h1.0v1.0h-1.0zM355.9 248.6h1.0v1.0h-1.0zM324.4 256.2h1.0v1.0h-1.0zM374.5 279.9h1.0v1.0h-1.0zM344.8 273.5h1.0v1.0h-1.0zM375.9 272.1h1.0v1.0h-1.0zM371.3 274.5h1.0v1.0h-1.0zM360.5 251.7h1.0v1.0h-1.0zM369.8 252.8h1.0v1.0h-1.0zM367.8 251.1h1.0v1.0h-1.0zM376.3 279.7h1.0v1.0h-1.0zM373.9 272.9h1.0v1.0h-1.0zM336.0 248.5h1.0v1.0h-1.0zM375.0 263.5h1.0v1.0h-1.0zM324.3 270.6h1.0v1.0h-1.0zM367.1 245.8h1.0v1.0h-1.0zM359.3 279.7h1.0v1.0h-1.0zM358.7 248.1h1.0v1.0h-1.0zM356.3 271.8h1.0v1.0h-1.0zM337.6 272.2h1.0v1.0h-1.0zM323.8 267.7h1.0v1.0h-1.0zM371.4 263.6h1.0v1.0h-1.0zM336.8 275.3h1.0v1.0h-1.0zM324.8 266.0h1.0v1.0h-1.0zM374.2 258.2h1.0v1.0h-1.0zM339.7 247.2h1.0v1.0h-1.0zM346.5 246.6h1.0v1.0h-1.0zM373.6 280.3h1.0v1.0h-1.0zM324.7 266.6h1.0v1.0h-1.0zM357.0 273.8h1.0v1.0h-1.0zM370.3 254.4h1.0v1.0h-1.0zM347.6 280.6h1.0v1.0h-1.0zM354.7 273.8h1.0v1.0h-1.0zM356.1 275.6h1.0v1.0h-1.0zM373.1 262.5h1.0v1.0h-1.0zM360.8 285.4h1.0v1.0h-1.0zM371.4 280.2h1.0v1.0h-1.0zM369.3 278.9h1.0v1.0h-1.0zM351.6 248.7h1.0v1.0h-1.0zM354.7 272.7h1.0v1.0h-1.0zM349.9 272.0h1.0v1.0h-1.0zM352.2 279.6h1.0v1.0h-1.0zM363.6 271.1h1.0v1.0h-1.0zM370.6 262.2h1.0v1.0h-1.0zM375.1 264.5h1.0v1.0h-1.0zM336.0 288.2h1.0v1.0h-1.0zM370.8 275.7h1.0v1.0h-1.0zM355.8 284.8h1.0v1.0h-1.0zM368.6 273.3h1.0v1.0h-1.0zM349.0 275.3h1.0v1.0h-1.0zM336.4 282.2h1.0v1.0h-1.0zM355.3 242.5h1.0v1.0h-1.0zM374.3 250.3h1.0v1.0h-1.0zM374.5 262.0h1.0v1.0h-1.0zM336.5 247.2h1.0v1.0h-1.0zM354.3 273.3h1.0v1.0h-1.0zM357.1 286.1h1.0v1.0h-1.0zM353.8 247.5h1.0v1.0h-1.0zM369.0 249.1h1.0v1.0h-1.0zM369.9 269.1h1.0v1.0h-1.0zM374.7 279.9h1.0v1.0h-1.0zM340.8 275.7h1.0v1.0h-1.0zM376.5 280.8h1.0v1.0h-1.0zM333.0 249.7h1.0v1.0h-1.0zM362.0 286.3h1.0v1.0h-1.0zM374.7 248.7h1.0v1.0h-1.0zM372.5 257.1h1.0v1.0h-1.0zM373.1 263.1h1.0v1.0h-1.0zM327.4 272.8h1.0v1.0h-1.0zM358.4 271.7h1.0v1.0h-1.0zM351.5 283.8h1.0v1.0h-1.0zM340.7 284.4h1.0v1.0h-1.0zM349.9 272.8h1.0v1.0h-1.0zM360.4 274.2h1.0v1.0h-1.0zM334.1 248.0h1.0v1.0h-1.0zM345.8 274.8h1.0v1.0h-1.0zM324.6 262.1h1.0v1.0h-1.0zM343.4 275.8h1.0v1.0h-1.0zM370.0 261.8h1.0v1.0h-1.0zM346.2 249.2h1.0v1.0h-1.0zM370.1 271.1h1.0v1.0h-1.0zM374.9 281.5h1.0v1.0h-1.0zM331.6 249.4h1.0v1.0h-1.0zM363.7 272.4h1.0v1.0h-1.0zM341.1 274.4h1.0v1.0h-1.0zM371.3 252.8h1.0v1.0h-1.0zM370.9 262.0h1.0v1.0h-1.0zM351.0 287.4h1.0v1.0h-1.0zM325.9 259.4h1.0v1.0h-1.0zM353.9 286.0h1.0v1.0h-1.0zM327.9 264.2h1.0v1.0h-1.0zM341.8 274.2h1.0v1.0h-1.0zM324.3 261.2h1.0v1.0h-1.0zM335.7 273.3h1.0v1.0h-1.0zM322.9 268.3h1.0v1.0h-1.0zM367.2 273.5h1.0v1.0h-1.0zM353.0 273.4h1.0v1.0h-1.0zM327.0 255.8h1.0v1.0h-1.0zM353.0 280.8h1.0v1.0h-1.0zM374.2 282.8h1.0v1.0h-1.0zM355.1 282.9h1.0v1.0h-1.0zM370.3 273.4h1.0v1.0h-1.0zM370.3 259.8h1.0v1.0h-1.0zM372.0 249.0h1.0v1.0h-1.0zM343.6 283.2h1.0v1.0h-1.0zM337.1 281.6h1.0v1.0h-1.0zM369.7 252.0h1.0v1.0h-1.0zM341.3 286.2h1.0v1.0h-1.0zM370.8 268.4h1.0v1.0h-1.0zM342.8 246.9h1.0v1.0h-1.0zM362.8 279.7h1.0v1.0h-1.0zM326.9 258.7h1.0v1.0h-1.0zM367.3 251.4h1.0v1.0h-1.0zM355.2 249.7h1.0v1.0h-1.0zM339.8 248.0h1.0v1.0h-1.0zM346.4 273.9h1.0v1.0h-1.0zM328.6 272.4h1.0v1.0h-1.0zM367.9 250.1h1.0v1.0h-1.0zM342.6 273.7h1.0v1.0h-1.0zM348.1 283.7h1.0v1.0h-1.0zM326.4 249.1h1.0v1.0h-1.0zM369.5 262.9h1.0v1.0h-1.0zM335.0 290.1h1.0v1.0h-1.0zM331.9 283.6h1.0v1.0h-1.0zM368.2 258.5h1.0v1.0h-1.0zM350.2 280.7h1.0v1.0h-1.0zM367.6 247.5h1.0v1.0h-1.0zM365.2 280.1h1.0v1.0h-1.0zM341.2 273.5h1.0v1.0h-1.0zM371.6 260.0h1.0v1.0h-1.0zM344.3 272.2h1.0v1.0h-1.0zM348.0 247.6h1.0v1.0h-1.0zM366.3 285.0h1.0v1.0h-1.0zM337.9 275.2h1.0v1.0h-1.0zM330.2 248.1h1.0v1.0h-1.0zM351.0 284.5h1.0v1.0h-1.0zM362.8 249.5h1.0v1.0h-1.0zM338.5 281.3h1.0v1.0h-1.0zM331.6 249.8h1.0v1.0h-1.0zM324.7 285.9h1.0v1.0h-1.0zM370.2 278.8h1.0v1.0h-1.0zM370.8 260.6h1.0v1.0h-1.0zM368.6 252.4h1.0v1.0h-1.0zM339.0 247.1h1.0v1.0h-1.0zM344.1 273.7h1.0v1.0h-1.0zM326.0 249.0h1.0v1.0h-1.0zM364.3 278.3h1.0v1.0h-1.0zM350.4 248.3h1.0v1.0h-1.0zM367.0 284.6h1.0v1.0h-1.0zM362.6 285.4h1.0v1.0h-1.0zM372.9 264.2h1.0v1.0h-1.0zM338.4 272.7h1.0v1.0h-1.0zM371.2 253.4h1.0v1.0h-1.0zM324.3 271.4h1.0v1.0h-1.0zM337.4 273.7h1.0v1.0h-1.0zM373.8 266.1h1.0v1.0h-1.0zM329.1 290.0h1.0v1.0h-1.0zM349.2 247.2h1.0v1.0h-1.0zM345.0 283.0h1.0v1.0h-1.0zM324.2 288.6h1.0v1.0h-1.0zM357.2 283.1h1.0v1.0h-1.0zM348.7 249.3h1.0v1.0h-1.0zM369.9 273.7h1.0v1.0h-1.0zM366.4 278.8h1.0v1.0h-1.0zM356.8 287.4h1.0v1.0h-1.0zM348.3 249.3h1.0v1.0h-1.0zM368.4 251.2h1.0v1.0h-1.0zM345.7 272.1h1.0v1.0h-1.0zM335.7 274.1h1.0v1.0h-1.0zM345.8 247.7h1.0v1.0h-1.0zM366.0 247.9h1.0v1.0h-1.0zM344.1 273.4h1.0v1.0h-1.0zM338.7 272.4h1.0v1.0h-1.0zM367.8 248.6h1.0v1.0h-1.0zM338.5 275.7h1.0v1.0h-1.0zM368.1 250.5h1.0v1.0h-1.0zM332.3 247.4h1.0v1.0h-1.0zM351.7 287.2h1.0v1.0h-1.0zM336.4 288.3h1.0v1.0h-1.0zM323.4 265.5h1.0v1.0h-1.0zM364.5 277.8h1.0v1.0h-1.0zM373.4 254.4h1.0v1.0h-1.0zM337.9 273.9h1.0v1.0h-1.0zM375.5 260.2h1.0v1.0h-1.0zM330.9 272.1h1.0v1.0h-1.0zM340.9 289.1h1.0v1.0h-1.0zM333.1 273.4h1.0v1.0h-1.0zM324.6 256.3h1.0v1.0h-1.0zM359.2 274.5h1.0v1.0h-1.0zM378.1 278.7h1.0v1.0h-1.0zM365.4 281.8h1.0v1.0h-1.0zM335.4 276.0h1.0v1.0h-1.0zM333.8 273.5h1.0v1.0h-1.0zM365.8 249.0h1.0v1.0h-1.0zM344.2 280.8h1.0v1.0h-1.0zM341.4 249.1h1.0v1.0h-1.0zM364.3 271.5h1.0v1.0h-1.0zM367.9 248.2h1.0v1.0h-1.0zM361.5 285.6h1.0v1.0h-1.0zM352.6 246.1h1.0v1.0h-1.0zM353.4 248.9h1.0v1.0h-1.0zM327.1 288.2h1.0v1.0h-1.0zM335.6 247.9h1.0v1.0h-1.0zM360.1 275.7h1.0v1.0h-1.0zM365.4 273.0h1.0v1.0h-1.0zM338.0 247.6h1.0v1.0h-1.0zM331.7 289.0h1.0v1.0h-1.0zM327.9 256.2h1.0v1.0h-1.0zM325.7 250.0h1.0v1.0h-1.0zM325.0 249.6h1.0v1.0h-1.0zM371.5 268.2h1.0v1.0h-1.0zM369.4 283.8h1.0v1.0h-1.0zM372.7 258.0h1.0v1.0h-1.0zM339.7 273.2h1.0v1.0h-1.0zM325.2 255.3h1.0v1.0h-1.0zM349.5 249.6h1.0v1.0h-1.0zM372.2 280.1h1.0v1.0h-1.0zM369.4 280.8h1.0v1.0h-1.0zM363.0 278.5h1.0v1.0h-1.0zM333.4 248.2h1.0v1.0h-1.0zM371.8 261.0h1.0v1.0h-1.0zM345.3 247.6h1.0v1.0h-1.0zM356.8 246.9h1.0v1.0h-1.0zM326.4 250.4h1.0v1.0h-1.0zM371.4 270.6h1.0v1.0h-1.0zM369.7 259.1h1.0v1.0h-1.0zM358.0 275.8h1.0v1.0h-1.0zM357.2 282.9h1.0v1.0h-1.0zM344.7 246.1h1.0v1.0h-1.0zM325.6 287.9h1.0v1.0h-1.0zM360.5 246.5h1.0v1.0h-1.0zM365.8 273.8h1.0v1.0h-1.0zM340.3 272.0h1.0v1.0h-1.0zM328.4 250.3h1.0v1.0h-1.0zM335.4 282.7h1.0v1.0h-1.0zM327.0 253.5h1.0v1.0h-1.0zM323.6 272.0h1.0v1.0h-1.0zM370.0 248.1h1.0v1.0h-1.0zM341.8 288.6h1.0v1.0h-1.0zM369.2 268.6h1.0v1.0h-1.0zM351.3 289.1h1.0v1.0h-1.0zM373.0 271.7h1.0v1.0h-1.0zM371.4 282.0h1.0v1.0h-1.0zM347.5 280.1h1.0v1.0h-1.0zM355.4 273.4h1.0v1.0h-1.0zM340.1 250.0h1.0v1.0h-1.0zM362.0 246.4h1.0v1.0h-1.0zM328.9 270.0h1.0v1.0h-1.0zM362.4 263.6h1.0v1.0h-1.0zM341.6 274.3h1.0v1.0h-1.0zM356.8 279.3h1.0v1.0h-1.0zM329.8 245.7h1.0v1.0h-1.0zM327.4 262.9h1.0v1.0h-1.0zM359.9 272.1h1.0v1.0h-1.0zM353.7 282.6h1.0v1.0h-1.0zM339.4 274.4h1.0v1.0h-1.0zM366.0 275.4h1.0v1.0h-1.0zM360.9 251.3h1.0v1.0h-1.0zM376.0 250.1h1.0v1.0h-1.0zM368.4 267.7h1.0v1.0h-1.0zM355.8 287.5h1.0v1.0h-1.0zM357.8 273.1h1.0v1.0h-1.0zM363.2 274.3h1.0v1.0h-1.0zM371.4 267.2h1.0v1.0h-1.0zM354.2 247.1h1.0v1.0h-1.0zM336.8 256.8h1.0v1.0h-1.0zM323.7 250.5h1.0v1.0h-1.0zM362.8 273.0h1.0v1.0h-1.0zM371.5 265.6h1.0v1.0h-1.0zM327.0 259.0h1.0v1.0h-1.0zM323.4 259.2h1.0v1.0h-1.0zM332.0 256.5h1.0v1.0h-1.0zM327.7 247.2h1.0v1.0h-1.0zM325.0 255.1h1.0v1.0h-1.0zM334.7 249.1h1.0v1.0h-1.0zM326.1 253.4h1.0v1.0h-1.0zM370.7 265.4h1.0v1.0h-1.0zM363.5 278.6h1.0v1.0h-1.0zM325.0 251.0h1.0v1.0h-1.0zM374.0 268.2h1.0v1.0h-1.0zM325.8 252.6h1.0v1.0h-1.0zM327.3 247.0h1.0v1.0h-1.0zM353.2 283.0h1.0v1.0h-1.0zM335.4 282.1h1.0v1.0h-1.0zM331.9 255.9h1.0v1.0h-1.0zM371.4 250.8h1.0v1.0h-1.0zM323.8 286.9h1.0v1.0h-1.0zM374.6 260.4h1.0v1.0h-1.0zM348.4 250.7h1.0v1.0h-1.0zM367.9 281.8h1.0v1.0h-1.0zM323.1 270.2h1.0v1.0h-1.0zM322.6 285.7h1.0v1.0h-1.0zM350.6 274.7h1.0v1.0h-1.0zM322.9 264.6h1.0v1.0h-1.0zM326.7 263.0h1.0v1.0h-1.0zM373.0 256.8h1.0v1.0h-1.0zM371.2 256.3h1.0v1.0h-1.0zM379.1 282.0h1.0v1.0h-1.0zM356.8 248.7h1.0v1.0h-1.0zM370.3 270.1h1.0v1.0h-1.0zM327.0 255.2h1.0v1.0h-1.0zM373.7 264.0h1.0v1.0h-1.0zM323.9 287.2h1.0v1.0h-1.0zM350.7 284.8h1.0v1.0h-1.0zM354.6 249.1h1.0v1.0h-1.0zM329.7 283.9h1.0v1.0h-1.0zM366.2 250.7h1.0v1.0h-1.0zM345.9 275.1h1.0v1.0h-1.0zM363.6 247.7h1.0v1.0h-1.0zM325.8 252.1h1.0v1.0h-1.0zM371.1 255.1h1.0v1.0h-1.0zM340.0 290.1h1.0v1.0h-1.0zM370.5 254.0h1.0v1.0h-1.0zM362.6 285.1h1.0v1.0h-1.0zM328.1 289.1h1.0v1.0h-1.0zM370.4 250.5h1.0v1.0h-1.0zM336.6 247.7h1.0v1.0h-1.0zM325.2 284.7h1.0v1.0h-1.0zM367.7 249.6h1.0v1.0h-1.0zM326.4 275.2h1.0v1.0h-1.0zM366.9 272.7h1.0v1.0h-1.0zM354.3 245.3h1.0v1.0h-1.0zM366.3 249.3h1.0v1.0h-1.0zM360.4 273.2h1.0v1.0h-1.0zM362.4 272.5h1.0v1.0h-1.0zM361.3 247.7h1.0v1.0h-1.0zM373.4 282.4h1.0v1.0h-1.0zM361.4 279.8h1.0v1.0h-1.0zM327.7 273.7h1.0v1.0h-1.0zM343.0 283.9h1.0v1.0h-1.0zM333.1 248.8h1.0v1.0h-1.0zM354.7 279.3h1.0v1.0h-1.0zM369.8 283.6h1.0v1.0h-1.0zM342.2 274.4h1.0v1.0h-1.0zM329.4 245.9h1.0v1.0h-1.0zM363.5 273.2h1.0v1.0h-1.0zM371.1 258.3h1.0v1.0h-1.0zM326.7 257.3h1.0v1.0h-1.0zM374.9 252.8h1.0v1.0h-1.0zM366.2 272.0h1.0v1.0h-1.0zM356.4 282.8h1.0v1.0h-1.0zM344.8 288.2h1.0v1.0h-1.0zM367.4 275.4h1.0v1.0h-1.0zM348.6 273.8h1.0v1.0h-1.0zM374.3 274.7h1.0v1.0h-1.0z" fill="#000"/>
<path d="M319.80 291.40H322.80M322.80 291.40V294.40M320.80 287.13H322.80M328.49 291.40V293.40M320.80 284.64H322.80M331.82 291.40V293.40M320.80 282.87H322.80M334.18 291.40V293.40M320.80 281.49H322.80M336.01 291.40V293.40M320.80 280.37H322.80M337.51 291.40V293.40M320.80 279.42H322.80M338.77 291.40V293.40M320.80 278.60H322.80M339.87 291.40V293.40M320.80 277.87H322.80M340.84 291.40V293.40M319.80 277.23H322.80M341.70 291.40V294.40M320.80 272.96H322.80M347.39 291.40V293.40M320.80 270.46H322.80M350.72 291.40V293.40M320.80 268.69H322.80M353.08 291.40V293.40M320.80 267.32H322.80M354.91 291.40V293.40M320.80 266.19H322.80M356.41 291.40V293.40M320.80 265.25H322.80M357.67 291.40V293.40M320.80 264.42H322.80M358.77 291.40V293.40M320.80 263.70H322.80M359.74 291.40V293.40M319.80 263.05H322.80M360.60 291.40V294.40M320.80 258.78H322.80M366.29 291.40V293.40M320.80 256.29H322.80M369.62 291.40V293.40M320.80 254.52H322.80M371.98 291.40V293.40M320.80 253.14H322.80M373.81 291.40V293.40M320.80 252.02H322.80M375.31 291.40V293.40M320.80 251.07H322.80M376.57 291.40V293.40M320.80 250.25H322.80M377.67 291.40V293.40M320.80 249.52H322.80M378.64 291.40V293.40M319.80 248.88H322.80M379.50 291.40V294.40M320.80 244.61H322.80M385.19 291.40V293.40M320.80 242.11H322.80M388.52 291.40V293.40M320.80 240.34H322.80M390.88 291.40V293.40M320.80 238.97H322.80M392.71 291.40V293.40M320.80 237.84H322.80M394.21 291.40V293.40M320.80 236.90H322.80M395.47 291.40V293.40M320.80 236.07H322.80M396.57 291.40V293.40M320.80 235.35H322.80M397.54 291.40V293.40" stroke="#000" stroke-width="0.75" fill="none"/>
<g transform="translate(323.0 301.3)"><text x="-5.53" y="0" font-family="'Liberation Sans', sans-serif" font-size="7.4" font-weight="bold" transform="scale(0.76 1)">10</text><text x="3.25" y="-4.0" font-family="'Liberation Sans', sans-serif" font-size="5.6" font-weight="bold" transform="scale(0.8 1)">0</text></g>
<g transform="translate(341.3 301.3)"><text x="-5.53" y="0" font-family="'Liberation Sans', sans-serif" font-size="7.4" font-weight="bold" transform="scale(0.76 1)">10</text><text x="3.25" y="-4.0" font-family="'Liberation Sans', sans-serif" font-size="5.6" font-weight="bold" transform="scale(0.8 1)">1</text></g>
<g transform="translate(359.7 301.3)"><text x="-5.53" y="0" font-family="'Liberation Sans', sans-serif" font-size="7.4" font-weight="bold" transform="scale(0.76 1)">10</text><text x="3.25" y="-4.0" font-family="'Liberation Sans', sans-serif" font-size="5.6" font-weight="bold" transform="scale(0.8 1)">2</text></g>
<g transform="translate(378.0 301.3)"><text x="-5.53" y="0" font-family="'Liberation Sans', sans-serif" font-size="7.4" font-weight="bold" transform="scale(0.76 1)">10</text><text x="3.25" y="-4.0" font-family="'Liberation Sans', sans-serif" font-size="5.6" font-weight="bold" transform="scale(0.8 1)">3</text></g>
<g transform="translate(396.3 301.3)"><text x="-5.53" y="0" font-family="'Liberation Sans', sans-serif" font-size="7.4" font-weight="bold" transform="scale(0.76 1)">10</text><text x="3.25" y="-4.0" font-family="'Liberation Sans', sans-serif" font-size="5.6" font-weight="bold" transform="scale(0.8 1)">4</text></g>
<g transform="translate(317.4 291.4) rotate(-90)"><text x="-5.66" y="0" font-family="'Liberation Sans', sans-serif" font-size="7.8" font-weight="bold" transform="scale(0.76 1)">10</text><text x="3.62" y="-4.3" font-family="'Liberation Sans', sans-serif" font-size="5.6" font-weight="bold" transform="scale(0.8 1)">0</text></g>
<g transform="translate(317.4 277.2) rotate(-90)"><text x="-5.66" y="0" font-family="'Liberation Sans', sans-serif" font-size="7.8" font-weight="bold" transform="scale(0.76 1)">10</text><text x="3.62" y="-4.3" font-family="'Liberation Sans', sans-serif" font-size="5.6" font-weight="bold" transform="scale(0.8 1)">1</text></g>
<g transform="translate(317.4 263.1) rotate(-90)"><text x="-5.66" y="0" font-family="'Liberation Sans', sans-serif" font-size="7.8" font-weight="bold" transform="scale(0.76 1)">10</text><text x="3.62" y="-4.3" font-family="'Liberation Sans', sans-serif" font-size="5.6" font-weight="bold" transform="scale(0.8 1)">2</text></g>
<g transform="translate(317.4 248.9) rotate(-90)"><text x="-5.66" y="0" font-family="'Liberation Sans', sans-serif" font-size="7.8" font-weight="bold" transform="scale(0.76 1)">10</text><text x="3.62" y="-4.3" font-family="'Liberation Sans', sans-serif" font-size="5.6" font-weight="bold" transform="scale(0.8 1)">3</text></g>
<g transform="translate(317.4 234.7) rotate(-90)"><text x="-5.66" y="0" font-family="'Liberation Sans', sans-serif" font-size="7.8" font-weight="bold" transform="scale(0.76 1)">10</text><text x="3.62" y="-4.3" font-family="'Liberation Sans', sans-serif" font-size="5.6" font-weight="bold" transform="scale(0.8 1)">4</text></g>
<text x="358.60" y="307.70" font-family="'Liberation Sans', sans-serif" font-size="6.8" font-weight="normal" text-anchor="middle" stroke="#000" stroke-width="0.25">CD11B-PE</text>
<text transform="translate(307.60 264.05) rotate(-90)" font-family="'Liberation Sans', sans-serif" font-size="6.4" text-anchor="middle" stroke="#000" stroke-width="0.2">GFP</text>
<text x="387.30" y="250.20" font-family="'Liberation Serif', serif" font-size="8.2" font-weight="normal" text-anchor="middle" >78</text>
<rect x="437.50" y="234.70" width="75.10" height="57.10" fill="none" stroke="#000" stroke-width="1.25"/>
<line x1="456.10" y1="234.70" x2="456.10" y2="291.80" stroke="#000" stroke-width="1"/>
<line x1="437.50" y1="275.70" x2="512.60" y2="275.70" stroke="#000" stroke-width="1"/>
<path d="M469.6 291.3l.7-1-1.3-.5-1.3 1.5 M438 274l1 2.6 1.9-4.3 .6 0-1.2 2 2.7 2.9 1.2 .1-1.2 .2-.3 .8 3.5 2-.2 .5-1.7 .5 2.7 .4 1 1.8 2-.4 1 1 1.7 .2-.4 3 .7 .7 1.6-.7 .4-1.9 1 .9 0 1 4-1.1 2 2.7 4 .9 4-1.7 .5 1.2 1.5 .4 1.4 1.6 M474.7 291.3l.1-1-1.2-1 1.4-.2 1.1 .8 2-.1 1 .7 1.3-2.2-1.5-1 1.2-.5 1 1 1-.3 .3-1.2 .7-.4 1 .1 .8 1.3-2.4 2 .9 1-.1 1 M476.2 291.3l-.4 0 M482.1 289.6l-.6 .7 .6 .6 .8-.6-.8-.7 M484.9 291.3l1-2 1.6-1-.8-1-.4-2-1.2-.2-.2-.8-1.7-1-.1-1-1.3-1 .3-1.3-1-.1-1 .7-1-.4-2.5-2.9-.1-1-1.5-1.4-2 1 0-2.6-1-.9-2 .1-1-1.8-2 .4-1-.8-.9 1 .2 1-1.3 1.2-3 .3-1.5-1.5-.6-1 .4-1-.3-1.7-1 1.1 0-.5 2-1.7 1 1.2 1.4-1.4-1.5-1 .5-2-.8-1.1 .4-1-.4-1-3.6-3.5-.5-2.5-1.2-1-.3-1.1-.3 1.1-1.7 1.2-1-2.6-1.2 .4 .8 1-.3 1-1.3 .6-1-.5-2 .5-1-.5-2 1-.5-1.1 .4-1-.9-1.4-.7 1.4 .3 3 .7 1-.3 .4-2-.3-2 1.1-1-.8 M487.2 291.3l-.3 0 M496.1 284.2l0 1.2 0-1.2 M443 280.5l-1 .8 0 1.1 0-1.1-1-.5-2.1 .5 1.6 1 .5 1.3 2 .9 1.5-1.2 .1-1-1.6-1.8 M442 280.2l0 1 0-1 M487.1 278.2l-2.7 1.1 .5 1 2.8-1-.6-1.1 M479.1 274.6l-1.7 1.7-.2 1 .9 .8 3-.4 1 .8 .3-1.2-2.3-.7-.1-1.3-.9-.7 M442 276.3l0 1.2 .7-.2-.7-1 M481.1 274.7l-1 .6 1 .7 .5-.7-.5-.6 M468.7 273.3l-1 0 .3-.6 .7 .6 M474 272.1l-.9 1.2 1.1 0-.2-1.2 M438 269.5l0 2.8 M463 271.1l0 1.4 0-1.4 M465 268.8l-.7 1.5 .7 .9 1-.9-1-1.5 M438 265l1.1 1.3-1.1 1 M438 267l.5-.7-.5-.3 M438 261.2l0 .2 M460 258l-.4 1.2 .4 .9 0-2.1 M438 257.8l.8-1.6-.8-.7 M458 254.7l-.7 .5 .7 .6 .6-.6-.6-.5 M447 253.9l-2.3 .3 1.3 .7 1.3-.7-.3-.3 M474 290.1l0 .5 0-.5 M484.2 291.3l-.3 0 M484.1 288.7l-.6 .6 .6 .4 .9-.4-.9-.6 M438 268.7l.9 1.6-.7 3 .8 .9 2-3.1 1 .4 1 1.8-.9 1 .6 2 1.3-.4 1 1.3 1-.2 1.5 1.3-.5 2 1 2.1 2.1-.1 .9 1.3 1 .1 2-.7 .9 .3 2.1 3.3 3-1.3 3 3.4 3-1.6 1 .4 1-1.4 2 1.2 2-2.1 .5 1.1-1.6 2 1.1 .9 1.9-.9 1.1-3.1 1.9 1.1-1.9 .2-.7 .8 1.8 1.8 1 .1 2-2.8 1-.5 1 .9 1.6-1.5-.1-2-1.5-1.7-.9 .7 1 2-1.1 .3-.6-1.3 .5-1-.9-.9-1 0-1.3-3.1-.7-.8-1.1 .1-1-1.3-1.8 0 .4-3-.6-.6-1.7 .6 .3 1-1.5 2 .9 .8 1.7 .2-.7 1.1-2 0-1.1-1.1 1.1-3.2-2-.6-1 .9-1-.8-1 .8-4.3-.1-1.3-3-1.4-1 .9-2-.3-1 2.2-2-.2-1-1.3-1.1 1-1-.3-.9-1 .8-.8-.9 1.7-1-.9-.5-2 1-2.4-.5 .4-.6 1 .5 1-.9 0-2.9-1-.7-2 .6-1-.4-5 .7-1-.6-2.1 1.3 1 1-.1 1-1.8 .3-1-.9-1 0-2 1.4-1-.5 M466 287.8l-.3 .5 .3 .5 .7-.5-.7-.5 M486.1 287.6l-.9 .7 1.3 0-.4-.7 M453 286.5l0 .9 .4-.1-.4-.8 M485.1 286.1l.4 .2-.4-.2 M454 284.6l-.6 .7 .6 .9 .4-.9-.4-.7 M443 281.2l0 .5 0-.5 M452.5 281.3l-.5 .7-.6-.7 1.1 0 M454.6 280.3l-.6 .8 0-1.8 .6 1 M452 275.3l.1 1-1.6 3-.5 .5-1-.5-.9-1 .9-.7 1 .8 .8-.1-.6-1 1.8-2 M486.1 278.9l-.5 .4 .5 .4 .4-.4-.4-.4 M478.1 276.8l0 .7 .6-.2-.6-.5 M456.2 275.3l-1.2 1.4-.2-1.4 1.4 0 M475 275.8l-.9 .5 .9 .5 .5-.5-.5-.5 M439 274.6l0 .9 0-.9 M479.1 275.2l0 .5 0-.5 M444 273.3l-.8 0 .8 0 M466 271.1l0 1.3 1 .2-1-1.5 M438 264.4l1.4 .9 .2 1-.6 1.1-1 .4 M461 267.1l0 .5 0-.5 M438 260.7l.6 .5-.6 1.5 M438 256.8l0-.8 M443 254l0 .6 0-.6 M473 286.4l-1.6 1.9 .6 .5 1.3-.5-.3-1.9 M477.1 286.9l-1.5 .4 .5 1.1 1-.1 .4-1-.4-.4 M467 286.1l-1 .1-2-.7-.8 .8-.2 1 1 .3 1-.9 2-.6 M453 257l-2-.4-4 .4-1-.4-1.3 .6 1.3 1.9 1.3 .1-3.3 1.1-1-.1-1-1.3-1 .1-1.6 1.2-.4 2-.7 1 1.7 2.1 1 .1 .1 .9-1.1 .2-.6 .8 1.1 1-.1 1 2.6 2.9 1.1 .1 .4 1-.4 2 .9 .9 2 0 1-.9 1 1.4 1-.1 1-1.3 0-1.2 1-.2 1.1 3.4-1.1 .2-.7 1.8-1.1 1 .8 .7 2-.4 1-2.1 1 .2 .2 1.6 1.3 2-.2 2 .7 1.5 1-.1 1-1.7 1-.1 1 1.6 1-.3 1 1 1-1.9 1-.2 5 2.6 1-1.7 1-.3 2 .5 1-.5 3.1 1.4 1.8-.8-2-2 .2-.9 1 .7 .5-.8-.5-.5-1 .5-2-4.4-2.1 .6-1 1.3-1-1.6-2 1.4-2-1.2-1 .3-.8-1.4 1.5-1-.7-2.2-1.6 2.2-1 0-1.4-1-1.3 2-.7 .2-1 0-.4-1.2 3.3-1-3.9-.4-1 1.1-1-.4-2 2.3-.6-.6-.4-2.1 1-.4 2 .3 1.7-.8-.7-1-1.1 0 0-2-1-1 1.4-2-.8-1 .7-1 2-1-3.6-1-1.3-3.1-1.3-.4-.1-1.6 1.4-1-.5-1-.8-.2 M468.1 283.3l-.1 .5 .1-.5 M476.2 281.3l-.1 1.3-.5-1.3 .6 0 M448 278.9l-.6 1.4 .3 1 1.3 .4 .8-.4-.1-1-1.7-1.4 M463.5 278.3l.8 1-.7 0-.6-1 .5 0 M473 277.1l-.3 .2 .3 .5 .8-.5-.8-.2 M471 274.8l-1.4 1.5 .4 .4 1.3-.4-.3-1.5 M447.3 273.3l-.3 1.3-.1-1.3 .4 0 M458 271.8l-.4 .5 .4 .8 0-1.3 M440 270.9l-.9 .4 .9 .4 0-.8 M451.1 270.3l-1.1 .4-.1-.4 1.2 0 M454.3 264.3l-.4 0 .4 0 M457 262.9l-.4 .3 .4 .6 0-.9 M455 256.2l-.9 1 .9 .9 .7-.9-.7-1 M463 284.7l0 .8 0-.8 M478.1 284.7l-.8 .6 1.6 0-.8-.6 M458 283.8l-.9 .5 .9 .6 0-1.1 M465 276.9l-1.5 .4 1.9 2 .2 1-.6 .2-1-.7-1 .1-1 1.5-2 .3 0-1.6-3-2.1-1.2 .3-.1 2 1.3 .9 1 1.8 2-.1 1 1.9 2-1 5-.9 .9 .4 .1 1.9 .4-1.9 .6-.8 1 1.5 1 .1 .8-1.8-.8-.6-1 0-1-1.1-1 0-1-1.5-1 .5-2-2.7 M477.1 283.8l-1-.2-.8 .7 1.8 .5 0-1 M475 279.2l-1 .1-1.2 2 .2 .4 1 .1 1-1.3 1.9-.2-1.9-1.1 M477.1 280.7l0 1.1 0-1.1 M449 280.3l-1 0 1 0 M452 279.7l-1.2 .6 1.6 0-.4-.6 M471 279.9l-.7 .4 .7 .4 .5-.4-.5-.4 M453 278l-1.2 .3 1.2 1.3 0-1.6 M459 277.3l-.6 1 1.5 0-.9-1 M462 277.9l-1.9 .4 1.9 .6 0-1 M463 275.8l-.4 .5 .4 .6 .6-.6-.6-.5 M467 275.2l-.7 1.1 .7 .3 0-1.4 M446 271.9l-.8 .4-.2 1 .8 1-.8 1.1 1.2-.1 .6-3-.8-.4 M450 273l-1 1.1-1.1 .2 1.1 .1 1 1.2 0-2.6 M450 257.2l-.7 1 .4 1-6.7 1.6-.8 .4 .1 1-2.1 1 1.1 1.1 .7 2.6 1-1.2 1-.1 1.4 2.7-.4 .6-2-2.1-2.1 2.5 3.1 2.4 1 .1 1-1.4 1-.3 .2 2.2 .8 .6 1.6-.6-.6-1 1-1.9 2 .9 0 1-1.8 1 .8 .5 1-.1 1 2.3 .7-.7 .3-1.6 1 .5 1.2-1.9-1.5-1 1.3-2-1.6-1 .3-1-.7-.8-1-.2-.2-2.1 1.2 .1 .4-1.1-.4-.5-1.9-.5 .3-1-.3-1 .8-1-.9-.8-1 .4-1-.6 M457 274.1l-1 .1-1-.7-.4 .8 2.8 0-.4-.2 M440 267.1l.8 .2-.8-.2 M451.9 267.3l-1.1 0 1.1 0 M440 263.9l0 .5 .4-.1-.4-.4 M440 260.8l0 .9 .4-.5-.4-.4 M442 259.8l-.4 .4 .4 .6 0-1 M451.9 259.2l-.9 .5-.6-.5 .6-.6 .9 .6 M471 282.9l0 .5 .5-.1-.5-.4 M459 281.7l-.8 .6 1.1 0-.3-.6 M468 280.1l-3.3 1.2-.2 1 .5 .4 1-1.3 1 1.2 2 0 .2-1.3-1.2-1.2 M472 282.2l0 .4 0-.4 M458 280.3l-.3 1 .3 .9 .9-.9-.9-1 M457 278.9l-.4 1.4 1.4 0-1-1.4 M453 266.6l-.3 .7-2.1 1 .4 1 1.5 1 .5 1.6 1.4-.6-.6-1 1.6-2-2-1-.4-.7 M443 268.1l-1.5 1.2 1.5 .8 .9-.8-.9-1.2 M447 260.1l-1 2.7-1.6-.6-.4-.6-2 1.6-1.1 0 1.1 .3 1 1.2 1-1.2 1.2 3.8 1.7 2 1.1 .4 2.1-2.4-1.2-2 .9-1 .9-3.1-.7-.9-3-.2 M454 266.1l-.6 .2 .6 .3 0-.5 M452 263.8l-1.5 .5 .5 1.9 1.2-.9-.2-1.5" fill="none" stroke="#000" stroke-width="0.9" stroke-linejoin="round"/>
<path d="M454.0 284.0h1.0v1.0h-1.0zM459.2 263.0h1.0v1.0h-1.0zM467.3 271.0h1.0v1.0h-1.0zM479.4 287.7h1.0v1.0h-1.0zM478.9 289.6h1.0v1.0h-1.0zM439.5 251.9h1.0v1.0h-1.0zM464.5 289.2h1.0v1.0h-1.0zM465.8 288.7h1.0v1.0h-1.0zM477.9 279.0h1.0v1.0h-1.0zM444.6 277.6h1.0v1.0h-1.0zM481.4 289.5h1.0v1.0h-1.0zM458.1 256.4h1.0v1.0h-1.0zM475.5 290.5h1.0v1.0h-1.0zM461.2 289.4h1.0v1.0h-1.0zM441.7 282.6h1.0v1.0h-1.0zM469.2 269.3h1.0v1.0h-1.0zM481.9 289.8h1.0v1.0h-1.0zM482.7 288.6h1.0v1.0h-1.0zM460.9 264.4h1.0v1.0h-1.0zM444.8 277.0h1.0v1.0h-1.0zM441.0 278.2h1.0v1.0h-1.0zM485.0 274.7h1.0v1.0h-1.0zM478.4 276.9h1.0v1.0h-1.0zM461.5 273.6h1.0v1.0h-1.0zM460.3 261.5h1.0v1.0h-1.0zM456.9 258.4h1.0v1.0h-1.0zM458.2 268.6h1.0v1.0h-1.0zM466.1 265.0h1.0v1.0h-1.0zM483.7 279.2h1.0v1.0h-1.0zM480.6 274.8h1.0v1.0h-1.0zM486.7 281.6h1.0v1.0h-1.0zM483.2 288.3h1.0v1.0h-1.0zM442.1 278.2h1.0v1.0h-1.0zM448.3 285.5h1.0v1.0h-1.0zM466.3 258.9h1.0v1.0h-1.0zM449.1 285.1h1.0v1.0h-1.0zM437.6 272.6h1.0v1.0h-1.0zM442.7 252.9h1.0v1.0h-1.0zM473.8 287.3h1.0v1.0h-1.0zM445.5 253.6h1.0v1.0h-1.0zM486.9 278.1h1.0v1.0h-1.0zM441.3 274.3h1.0v1.0h-1.0zM448.7 254.4h1.0v1.0h-1.0zM439.5 281.2h1.0v1.0h-1.0zM482.4 282.0h1.0v1.0h-1.0zM443.2 282.7h1.0v1.0h-1.0zM442.9 281.8h1.0v1.0h-1.0zM437.6 257.2h1.0v1.0h-1.0zM475.0 274.8h1.0v1.0h-1.0zM480.2 275.2h1.0v1.0h-1.0zM439.7 256.4h1.0v1.0h-1.0zM447.1 255.3h1.0v1.0h-1.0zM485.0 280.2h1.0v1.0h-1.0zM447.2 282.3h1.0v1.0h-1.0zM484.5 288.3h1.0v1.0h-1.0zM438.3 274.1h1.0v1.0h-1.0zM451.7 254.1h1.0v1.0h-1.0zM462.3 272.0h1.0v1.0h-1.0zM455.5 285.2h1.0v1.0h-1.0zM460.1 286.4h1.0v1.0h-1.0zM454.1 253.9h1.0v1.0h-1.0zM474.3 285.3h1.0v1.0h-1.0zM464.5 260.2h1.0v1.0h-1.0zM499.1 277.4h1.0v1.0h-1.0zM475.7 288.8h1.0v1.0h-1.0zM446.7 254.2h1.0v1.0h-1.0zM488.6 284.5h1.0v1.0h-1.0zM460.9 272.1h1.0v1.0h-1.0zM460.8 263.5h1.0v1.0h-1.0zM445.6 278.9h1.0v1.0h-1.0zM468.7 270.6h1.0v1.0h-1.0zM454.3 259.7h1.0v1.0h-1.0zM454.0 287.1h1.0v1.0h-1.0zM452.2 284.5h1.0v1.0h-1.0zM477.6 275.6h1.0v1.0h-1.0zM447.0 249.7h1.0v1.0h-1.0zM461.6 266.5h1.0v1.0h-1.0zM478.0 289.1h1.0v1.0h-1.0zM486.5 288.1h1.0v1.0h-1.0zM452.5 251.6h1.0v1.0h-1.0zM473.8 290.5h1.0v1.0h-1.0zM487.5 279.0h1.0v1.0h-1.0zM443.9 281.4h1.0v1.0h-1.0zM461.6 288.1h1.0v1.0h-1.0zM438.6 276.1h1.0v1.0h-1.0zM475.3 276.1h1.0v1.0h-1.0zM442.2 257.0h1.0v1.0h-1.0zM473.7 272.1h1.0v1.0h-1.0zM438.1 284.6h1.0v1.0h-1.0zM446.7 251.8h1.0v1.0h-1.0zM459.2 258.5h1.0v1.0h-1.0zM472.6 289.7h1.0v1.0h-1.0zM480.8 283.5h1.0v1.0h-1.0zM460.5 267.8h1.0v1.0h-1.0zM467.4 288.1h1.0v1.0h-1.0zM455.2 286.8h1.0v1.0h-1.0zM468.0 277.0h1.0v1.0h-1.0zM445.7 280.8h1.0v1.0h-1.0zM454.9 290.2h1.0v1.0h-1.0zM478.2 276.1h1.0v1.0h-1.0zM484.9 288.9h1.0v1.0h-1.0zM461.1 257.5h1.0v1.0h-1.0zM495.7 284.4h1.0v1.0h-1.0zM463.1 274.2h1.0v1.0h-1.0zM446.4 278.2h1.0v1.0h-1.0zM462.5 270.3h1.0v1.0h-1.0zM440.9 273.6h1.0v1.0h-1.0zM455.8 254.5h1.0v1.0h-1.0zM445.4 278.2h1.0v1.0h-1.0zM457.5 268.2h1.0v1.0h-1.0zM468.8 288.3h1.0v1.0h-1.0zM480.2 286.8h1.0v1.0h-1.0zM454.4 253.1h1.0v1.0h-1.0zM481.7 280.0h1.0v1.0h-1.0zM442.5 284.2h1.0v1.0h-1.0zM491.5 286.7h1.0v1.0h-1.0zM462.8 269.0h1.0v1.0h-1.0zM467.9 290.8h1.0v1.0h-1.0zM459.3 260.3h1.0v1.0h-1.0zM460.4 269.7h1.0v1.0h-1.0zM460.6 259.7h1.0v1.0h-1.0zM469.1 286.7h1.0v1.0h-1.0zM478.9 287.7h1.0v1.0h-1.0zM442.1 283.1h1.0v1.0h-1.0zM484.8 282.9h1.0v1.0h-1.0zM443.7 258.6h1.0v1.0h-1.0zM459.9 253.3h1.0v1.0h-1.0zM480.2 280.5h1.0v1.0h-1.0zM468.2 290.0h1.0v1.0h-1.0zM451.7 252.8h1.0v1.0h-1.0zM458.2 270.1h1.0v1.0h-1.0zM468.4 276.3h1.0v1.0h-1.0zM485.2 285.9h1.0v1.0h-1.0zM487.1 289.0h1.0v1.0h-1.0zM454.9 283.6h1.0v1.0h-1.0zM465.6 267.4h1.0v1.0h-1.0zM444.0 280.9h1.0v1.0h-1.0zM457.4 255.0h1.0v1.0h-1.0zM441.3 276.7h1.0v1.0h-1.0zM481.9 286.3h1.0v1.0h-1.0zM446.6 285.9h1.0v1.0h-1.0zM486.8 291.0h1.0v1.0h-1.0zM462.8 255.4h1.0v1.0h-1.0zM485.6 285.1h1.0v1.0h-1.0zM466.0 272.8h1.0v1.0h-1.0zM456.2 258.0h1.0v1.0h-1.0zM441.8 272.7h1.0v1.0h-1.0zM443.4 277.9h1.0v1.0h-1.0zM478.2 279.4h1.0v1.0h-1.0zM458.5 259.8h1.0v1.0h-1.0zM482.2 284.6h1.0v1.0h-1.0zM451.1 254.6h1.0v1.0h-1.0zM459.6 258.1h1.0v1.0h-1.0zM481.4 276.6h1.0v1.0h-1.0zM442.9 255.1h1.0v1.0h-1.0zM461.5 252.1h1.0v1.0h-1.0zM447.9 252.2h1.0v1.0h-1.0zM450.9 252.3h1.0v1.0h-1.0zM458.6 261.2h1.0v1.0h-1.0zM493.4 286.1h1.0v1.0h-1.0zM476.9 289.2h1.0v1.0h-1.0zM455.7 255.5h1.0v1.0h-1.0zM444.7 284.2h1.0v1.0h-1.0zM468.5 286.5h1.0v1.0h-1.0zM457.4 254.9h1.0v1.0h-1.0zM444.4 253.3h1.0v1.0h-1.0zM495.6 283.4h1.0v1.0h-1.0zM468.4 290.9h1.0v1.0h-1.0zM462.7 273.5h1.0v1.0h-1.0zM463.3 267.0h1.0v1.0h-1.0zM441.9 279.5h1.0v1.0h-1.0zM479.4 272.9h1.0v1.0h-1.0zM452.3 286.1h1.0v1.0h-1.0zM480.3 277.0h1.0v1.0h-1.0zM449.7 281.8h1.0v1.0h-1.0zM470.6 288.9h1.0v1.0h-1.0zM441.7 273.9h1.0v1.0h-1.0zM483.8 284.4h1.0v1.0h-1.0zM439.7 272.6h1.0v1.0h-1.0zM447.2 250.6h1.0v1.0h-1.0zM450.7 249.1h1.0v1.0h-1.0zM481.5 277.8h1.0v1.0h-1.0zM440.7 286.1h1.0v1.0h-1.0zM478.6 288.5h1.0v1.0h-1.0zM440.2 270.7h1.0v1.0h-1.0zM437.8 265.7h1.0v1.0h-1.0zM464.3 268.6h1.0v1.0h-1.0zM443.6 251.6h1.0v1.0h-1.0zM466.9 288.2h1.0v1.0h-1.0zM438.3 281.0h1.0v1.0h-1.0zM453.8 255.0h1.0v1.0h-1.0zM443.3 257.5h1.0v1.0h-1.0zM453.7 285.4h1.0v1.0h-1.0zM487.2 284.0h1.0v1.0h-1.0zM479.2 280.5h1.0v1.0h-1.0zM458.8 285.9h1.0v1.0h-1.0zM469.6 289.9h1.0v1.0h-1.0zM442.1 256.2h1.0v1.0h-1.0zM480.8 279.7h1.0v1.0h-1.0zM451.9 275.7h1.0v1.0h-1.0zM440.8 283.3h1.0v1.0h-1.0zM459.6 263.9h1.0v1.0h-1.0zM464.7 272.8h1.0v1.0h-1.0zM479.3 276.7h1.0v1.0h-1.0zM437.4 258.5h1.0v1.0h-1.0zM473.7 273.0h1.0v1.0h-1.0zM441.0 280.9h1.0v1.0h-1.0zM469.2 273.1h1.0v1.0h-1.0zM459.8 272.8h1.0v1.0h-1.0zM444.3 279.0h1.0v1.0h-1.0zM473.1 275.7h1.0v1.0h-1.0zM440.9 254.7h1.0v1.0h-1.0zM484.7 290.2h1.0v1.0h-1.0zM440.4 281.6h1.0v1.0h-1.0zM485.6 286.6h1.0v1.0h-1.0zM458.6 267.2h1.0v1.0h-1.0zM488.2 287.1h1.0v1.0h-1.0zM458.2 266.7h1.0v1.0h-1.0zM445.6 276.4h1.0v1.0h-1.0zM459.3 266.2h1.0v1.0h-1.0z" fill="#000"/>
<path d="M434.50 291.80H437.50M437.50 291.80V294.80M435.50 287.50H437.50M443.15 291.80V293.80M435.50 284.99H437.50M446.46 291.80V293.80M435.50 283.21H437.50M448.80 291.80V293.80M435.50 281.82H437.50M450.62 291.80V293.80M435.50 280.69H437.50M452.11 291.80V293.80M435.50 279.74H437.50M453.37 291.80V293.80M435.50 278.91H437.50M454.46 291.80V293.80M435.50 278.18H437.50M455.42 291.80V293.80M434.50 277.52H437.50M456.27 291.80V294.80M435.50 273.23H437.50M461.93 291.80V293.80M435.50 270.71H437.50M465.23 291.80V293.80M435.50 268.93H437.50M467.58 291.80V293.80M435.50 267.55H437.50M469.40 291.80V293.80M435.50 266.42H437.50M470.88 291.80V293.80M435.50 265.46H437.50M472.14 291.80V293.80M435.50 264.63H437.50M473.23 291.80V293.80M435.50 263.90H437.50M474.19 291.80V293.80M434.50 263.25H437.50M475.05 291.80V294.80M435.50 258.95H437.50M480.70 291.80V293.80M435.50 256.44H437.50M484.01 291.80V293.80M435.50 254.66H437.50M486.35 291.80V293.80M435.50 253.27H437.50M488.17 291.80V293.80M435.50 252.14H437.50M489.66 291.80V293.80M435.50 251.19H437.50M490.92 291.80V293.80M435.50 250.36H437.50M492.01 291.80V293.80M435.50 249.63H437.50M492.97 291.80V293.80M434.50 248.97H437.50M493.83 291.80V294.80M435.50 244.68H437.50M499.48 291.80V293.80M435.50 242.16H437.50M502.78 291.80V293.80M435.50 240.38H437.50M505.13 291.80V293.80M435.50 239.00H437.50M506.95 291.80V293.80M435.50 237.87H437.50M508.43 291.80V293.80M435.50 236.91H437.50M509.69 291.80V293.80M435.50 236.08H437.50M510.78 291.80V293.80M435.50 235.35H437.50M511.74 291.80V293.80" stroke="#000" stroke-width="0.75" fill="none"/>
<g transform="translate(437.7 301.7)"><text x="-5.53" y="0" font-family="'Liberation Sans', sans-serif" font-size="7.4" font-weight="bold" transform="scale(0.76 1)">10</text><text x="3.25" y="-4.0" font-family="'Liberation Sans', sans-serif" font-size="5.6" font-weight="bold" transform="scale(0.8 1)">0</text></g>
<g transform="translate(455.9 301.7)"><text x="-5.53" y="0" font-family="'Liberation Sans', sans-serif" font-size="7.4" font-weight="bold" transform="scale(0.76 1)">10</text><text x="3.25" y="-4.0" font-family="'Liberation Sans', sans-serif" font-size="5.6" font-weight="bold" transform="scale(0.8 1)">1</text></g>
<g transform="translate(474.1 301.7)"><text x="-5.53" y="0" font-family="'Liberation Sans', sans-serif" font-size="7.4" font-weight="bold" transform="scale(0.76 1)">10</text><text x="3.25" y="-4.0" font-family="'Liberation Sans', sans-serif" font-size="5.6" font-weight="bold" transform="scale(0.8 1)">2</text></g>
<g transform="translate(492.3 301.7)"><text x="-5.53" y="0" font-family="'Liberation Sans', sans-serif" font-size="7.4" font-weight="bold" transform="scale(0.76 1)">10</text><text x="3.25" y="-4.0" font-family="'Liberation Sans', sans-serif" font-size="5.6" font-weight="bold" transform="scale(0.8 1)">3</text></g>
<g transform="translate(510.5 301.7)"><text x="-5.53" y="0" font-family="'Liberation Sans', sans-serif" font-size="7.4" font-weight="bold" transform="scale(0.76 1)">10</text><text x="3.25" y="-4.0" font-family="'Liberation Sans', sans-serif" font-size="5.6" font-weight="bold" transform="scale(0.8 1)">4</text></g>
<g transform="translate(432.1 291.8) rotate(-90)"><text x="-5.66" y="0" font-family="'Liberation Sans', sans-serif" font-size="7.8" font-weight="bold" transform="scale(0.76 1)">10</text><text x="3.62" y="-4.3" font-family="'Liberation Sans', sans-serif" font-size="5.6" font-weight="bold" transform="scale(0.8 1)">0</text></g>
<g transform="translate(432.1 277.5) rotate(-90)"><text x="-5.66" y="0" font-family="'Liberation Sans', sans-serif" font-size="7.8" font-weight="bold" transform="scale(0.76 1)">10</text><text x="3.62" y="-4.3" font-family="'Liberation Sans', sans-serif" font-size="5.6" font-weight="bold" transform="scale(0.8 1)">1</text></g>
<g transform="translate(432.1 263.2) rotate(-90)"><text x="-5.66" y="0" font-family="'Liberation Sans', sans-serif" font-size="7.8" font-weight="bold" transform="scale(0.76 1)">10</text><text x="3.62" y="-4.3" font-family="'Liberation Sans', sans-serif" font-size="5.6" font-weight="bold" transform="scale(0.8 1)">2</text></g>
<g transform="translate(432.1 249.0) rotate(-90)"><text x="-5.66" y="0" font-family="'Liberation Sans', sans-serif" font-size="7.8" font-weight="bold" transform="scale(0.76 1)">10</text><text x="3.62" y="-4.3" font-family="'Liberation Sans', sans-serif" font-size="5.6" font-weight="bold" transform="scale(0.8 1)">3</text></g>
<g transform="translate(432.1 234.7) rotate(-90)"><text x="-5.66" y="0" font-family="'Liberation Sans', sans-serif" font-size="7.8" font-weight="bold" transform="scale(0.76 1)">10</text><text x="3.62" y="-4.3" font-family="'Liberation Sans', sans-serif" font-size="5.6" font-weight="bold" transform="scale(0.8 1)">4</text></g>
<text x="473.05" y="308.10" font-family="'Liberation Sans', sans-serif" font-size="6.8" font-weight="normal" text-anchor="middle" stroke="#000" stroke-width="0.25">CD11B-PE</text>
<text transform="translate(422.30 264.25) rotate(-90)" font-family="'Liberation Sans', sans-serif" font-size="6.4" text-anchor="middle" stroke="#000" stroke-width="0.2">GFP</text>
<text x="503.50" y="250.20" font-family="'Liberation Serif', serif" font-size="8.2" font-weight="normal" text-anchor="middle" >28</text>
<rect x="322.20" y="327.10" width="75.80" height="55.60" fill="none" stroke="#000" stroke-width="1.25"/>
<line x1="341.90" y1="327.10" x2="341.90" y2="382.70" stroke="#000" stroke-width="1"/>
<line x1="322.20" y1="367.70" x2="398.00" y2="367.70" stroke="#000" stroke-width="1"/>
<path d="M363.6 342.3l-1.4 3.2-.6 .2-1-2.1-1 .2-1 1.9-2 .8-1.8 1.9 1.2 1-3.2 1-.7 1 .2 1-.7 .5-1.4-.5 .4 3-1.8 5 1.5 1 1 2.9-.7 .8-2-.5-2 1-1-.8-1-.1-2 1.4-1-.5-1.9 .2-1.1 .5-.9 2 0 1.8-.1-.8-.9-.7-2 .3-1.4 1.4 .4 1-1 2-1 .6-1-.9-.3 .3 .4 2.9-1.1 0-1.1 1 1.1 1-.6 2 .6 .4 1-.4 2 1.9 2-.4 1-1.7 2 1.3 1-.6 4.9 .2 1.9-.7 1.1 .2 1-.8 1 .2 8-2.2 2-1.4 5-.7 .7-1.2 2.3-1.2 2-.1 1.3-1.7 3.7-2.6 .3-.4-1.3-1.5-1 .3-1.7-1.8 1.4-1-.7-1.8-1.4 2.8-.6 .3-.9-1.3 .7-1 2.2-1 1 .4 1-.5 .4-2.8-.9-2 1.4-1-1.4-1 .3-2-.8-1 2.9-1-2.9-1.6-1-4.6-1-.4-1 .5-2-2.5-1 1.1-2-1.6 M326.7 378l0 .4 0-.4 M371.8 368.3l-.2-.7 .2 .7 M372.6 365.2l0 .4 0-.4 M351.9 354.4l1 1-.3 .9-1.9-.9 0-1 .9-.5 .3 .5 M373.6 352.9l-.6 .5 .6 .6 0-1.1 M364.7 345.5l-1.1 .4-.7-.4 1.7-.4 .1 .4 M361.6 341.3l0 .4 0-.4 M366.6 344.4l-1.1 1.1-.2 2-.7 .7-2.1 .2-1.9-3.3-1 .3 .1 1.1-2.1 .1-1.6 .9-.4 .9 1.8 1-1.8 1.3-1-.1-.5 .8 1.3 3-.8 1.9-1-.1-1.6 1.2-.3 1 2.7 3-2.8 .1-.5 .8 1.5 2.9 1 .1 .2 1-.8 1-.8 0 .1-1-.7-1.2-1 .7-1-.6-1.2 .1-.3 1-1.5 .7-1-1.2-1-.4-1 1.4-1.6 .5-.4 1-.9 .2-.7 .8-1.3 .2-.8 2.8-2.2 .4-1.7 1.6-.3 2.3-1-1.6-2.3 2.2 .2 2 2.1 1.7 3-1.7 2 1.3 1-.4 7.9-.2 1-1 1 .2 6-1.5 4-1.9 2-.1 2.2-1.3 2.8-.8 1-1 2.3-.2 2.4-3-.7-.7-1 .4-1.5-.7 1.5-.7 1 .4 .4-.7-1.4-.7-1 .5-1.5-.8 .7-1-1.2-1-.1-1 1.1 0 3-1.8 1.3-.1-1.7-2-.5-2 1.3-2-1.4-1-.4-1 1.4 0-.4-2 .6-1-.2-.6-2.2-.4 .2-2.9-1 .5-1-2.6 M357.1 366.3l-.9 0 .9 0 M366 366.3l-1.1 0 .7-.4 .4 .4 M371.6 358.2l0 .4 0-.4 M357.6 347.1l-1.1 .4-.1 .9 2.2 .9 0 .8-2 .4-.7 .9 2 1-2.3 3 0 1.1-1.7 .9 .8 1-1 1 1.4 2-.2 .9-1.7 0-.7 1 2.1 2.6 2-.7 3.6 2.1-2.6 .2-2-.8-1.2 .6-.8 1.2-2-.1-1-2-1 .9 .6 1-.6 .9-1 .1-1-1.7-4-.1-.7 .8 .2 1-1.5 .8-.8 1.2-1.1 .1-3 1.8-1 1.6-1-.4-.6 2.8 1.6 1 1 1.3 5.9 .4 2-.7 2 .1 1-1 4-.3 2-1.2 2-.1 3-1.7 2 .1 2-1.4 2-.2 2-1.6 1 .2 1-.6 .8-1.2-.5-1-1.9-1 .1-1-.5-.4-2 .9-.8-.5 1.8-4-1-1 0-1.4 2-.6 0 .4-1 0-.2 .7 .8 .9 1.4 .5 1.8-1.4-.3-4 .9-2-1.9-2 1.3-1-.1-1-1.7-1.9-1 .3-.7 .6 1.2 2-.5 1-1.6-1 .4-2-.8-1.3-1-.2-2 .9-.4-1.4-3.6-1.3 M332.7 376l-.6 2.2 1.6 .9 .4-.9-1.2-1-.2-1.2 M352.7 373.3l-.1 1.8 .1-1.8 M345.1 370.3l-1.4 0 1.4 0 M351.6 366.1l-.6 .2 .6 .4 0-.6 M363.1 366.3l-.5 .8-1.2-.8 1.7 0 M353.6 357.9l-1.3 .5 1.3 .9 .9-.9-.9-.5 M355.6 352.2l0 .4 0-.4 M363.6 368l-2-.5-3 .8-3-.3-2 1.4-1-.4-2 .6-2 0-1-.6-3 2.2-3 .4-1.9 .9-1 1.8-1-.3-1 1.2-1 .3-.6 .7 .1 1 1.5 1.8 4 .1 .9 .5 4-.6 2-1.1 4-.3 1.2-1.4-1.2-.7-1 .2-.3-1.4 .4-1 2.9-.9 1 .3 2.3-.4-.8 1-1.5 .3-1.2 1.7 1.2 1.2 2.7-1.2 .6-2 .7-.1 2 1.4 2-1.5 1 .1 2-.9 1-1.2 1.2 .2 .1-2-1.3-.8-2 0-1-.5 M345 375.3l-.4 .5-.3-.5 .7 0 M348.8 374.3l-.3 0 .3 0 M344.6 368.8l-.3 .5 .5 0-.2-.5 M343.6 368.1l0 .8 .8-.6-.8-.2 M345.6 368.3l-.3 0 .3 0 M363.6 350.5l-2.4 .9 .4 1-.8 1-.7 0-.5-1-1 .6-2 1.9-.5 1.5-1 1 1.9 2 0 2.9-.9 2 1.5 1 1-2.2 1 1.2 2 .4 .9-1.4-1.4-1 .5-.4 1 .1 2-2.1 1.7-.5 .2-1-1.1-3 1.2 .6 1.4-.6-3.4-2.8-1 0-1.3 .8 2-2-.7-.9 M354.6 363.9l0 .7 0-.7 M363.6 361.5l-.9 1.8 .9 .6 .7-.6-.7-1.8 M367.6 356.8l-.9 1.6 .9 3.2 0-2.2 .8-2-.8-.6 M359.2 358.4l-.4 1-.6 0-.2-1 .6-.6 .6 .6 M368.6 355.6l-.5 .8 .5 .8 0-1.6 M368.6 351.4l-1-.4-.3 .4 .3 .6 1-.6 M350.6 370.1l-3-.3-2 1.9-2 0-3.6 1.6-2 2-.3 1.1-1 0-.2 1.8 2.2 0 3.9 .9 1-.6 2 0 2-1.2 3.2-.1-1.2-.5-1 .4-6-.6-1.2 .7 .2-1.3 1 .2 1-1.2 2-1.1 2 .3 1-.9 3.4-.9 1.1-1-2.5-1.2 M346.6 374.6l0 1.1 .8-.4-.8-.7 M355.6 374.8l-.6 .5 .9 0-.3-.5 M362.6 368.2l-3 0-1 .8-4 .6-.9 .7 .1 1 .8 .6 3-.6 3 2.5 .5-.5 0-1 2.1 0 2.4-1.3 1.4-1.7-2.4-.1-2-1 M364.6 353.3l-2 1.3-2.4-.2-.7 2 .9 1 2.7 1-4.7 2-.3 1 1.5 2.1 1 .4 .7-.6-.9-1 1.2-1 1 0 2.3-2.9-.7-3 .4-.8 .8-.2-.8-1.1" fill="none" stroke="#000" stroke-width="0.9" stroke-linejoin="round"/>
<path d="M371.8 360.8h1.0v1.0h-1.0zM351.6 359.4h1.0v1.0h-1.0zM330.9 374.1h1.0v1.0h-1.0zM347.3 361.3h1.0v1.0h-1.0zM340.3 367.3h1.0v1.0h-1.0zM355.3 338.4h1.0v1.0h-1.0zM333.0 372.3h1.0v1.0h-1.0zM361.7 337.1h1.0v1.0h-1.0zM349.3 358.6h1.0v1.0h-1.0zM371.1 368.9h1.0v1.0h-1.0zM363.7 344.1h1.0v1.0h-1.0zM327.4 379.9h1.0v1.0h-1.0zM333.0 374.2h1.0v1.0h-1.0zM364.2 339.4h1.0v1.0h-1.0zM351.8 353.3h1.0v1.0h-1.0zM367.0 346.2h1.0v1.0h-1.0zM347.3 365.6h1.0v1.0h-1.0zM368.6 366.2h1.0v1.0h-1.0zM368.4 348.9h1.0v1.0h-1.0zM372.4 361.9h1.0v1.0h-1.0zM366.4 342.7h1.0v1.0h-1.0zM370.7 355.1h1.0v1.0h-1.0zM330.2 374.3h1.0v1.0h-1.0zM352.4 359.9h1.0v1.0h-1.0zM374.8 350.9h1.0v1.0h-1.0zM349.7 356.3h1.0v1.0h-1.0zM363.4 341.3h1.0v1.0h-1.0zM373.0 350.6h1.0v1.0h-1.0zM339.3 367.1h1.0v1.0h-1.0zM370.9 353.5h1.0v1.0h-1.0zM349.6 363.0h1.0v1.0h-1.0zM377.0 356.0h1.0v1.0h-1.0zM338.6 365.4h1.0v1.0h-1.0zM338.8 366.2h1.0v1.0h-1.0zM351.2 349.0h1.0v1.0h-1.0zM342.3 363.4h1.0v1.0h-1.0zM332.9 380.9h1.0v1.0h-1.0zM366.7 341.0h1.0v1.0h-1.0zM328.7 381.0h1.0v1.0h-1.0zM377.6 349.5h1.0v1.0h-1.0zM370.3 353.6h1.0v1.0h-1.0zM348.7 359.4h1.0v1.0h-1.0zM369.6 339.6h1.0v1.0h-1.0zM352.0 354.1h1.0v1.0h-1.0zM334.5 367.1h1.0v1.0h-1.0zM371.4 356.1h1.0v1.0h-1.0zM361.0 341.3h1.0v1.0h-1.0zM356.6 343.7h1.0v1.0h-1.0zM344.7 364.5h1.0v1.0h-1.0zM368.8 362.0h1.0v1.0h-1.0zM369.8 346.4h1.0v1.0h-1.0zM367.9 340.0h1.0v1.0h-1.0zM359.9 343.6h1.0v1.0h-1.0zM337.2 365.3h1.0v1.0h-1.0zM334.0 380.6h1.0v1.0h-1.0zM353.1 364.5h1.0v1.0h-1.0zM360.6 374.4h1.0v1.0h-1.0zM370.3 348.8h1.0v1.0h-1.0zM333.3 369.9h1.0v1.0h-1.0zM332.6 374.2h1.0v1.0h-1.0zM332.1 372.9h1.0v1.0h-1.0zM369.6 343.6h1.0v1.0h-1.0zM350.5 358.9h1.0v1.0h-1.0zM357.2 336.2h1.0v1.0h-1.0zM369.5 347.5h1.0v1.0h-1.0zM332.6 381.3h1.0v1.0h-1.0zM369.3 346.0h1.0v1.0h-1.0zM368.9 364.5h1.0v1.0h-1.0zM333.5 372.1h1.0v1.0h-1.0zM366.7 338.4h1.0v1.0h-1.0zM333.2 372.2h1.0v1.0h-1.0zM368.7 347.7h1.0v1.0h-1.0zM361.6 374.3h1.0v1.0h-1.0zM370.9 360.3h1.0v1.0h-1.0zM353.2 353.3h1.0v1.0h-1.0zM326.6 377.6h1.0v1.0h-1.0zM350.9 356.2h1.0v1.0h-1.0zM361.0 346.1h1.0v1.0h-1.0zM350.7 358.8h1.0v1.0h-1.0zM346.2 361.1h1.0v1.0h-1.0zM371.7 366.4h1.0v1.0h-1.0zM371.5 361.7h1.0v1.0h-1.0zM364.3 342.6h1.0v1.0h-1.0zM372.9 350.5h1.0v1.0h-1.0zM376.8 352.4h1.0v1.0h-1.0zM373.2 353.1h1.0v1.0h-1.0zM371.5 368.5h1.0v1.0h-1.0zM350.5 358.0h1.0v1.0h-1.0zM349.9 361.1h1.0v1.0h-1.0zM348.8 351.6h1.0v1.0h-1.0zM340.5 365.9h1.0v1.0h-1.0zM371.0 359.0h1.0v1.0h-1.0zM359.5 343.7h1.0v1.0h-1.0zM352.0 377.4h1.0v1.0h-1.0zM371.7 356.0h1.0v1.0h-1.0zM370.3 347.0h1.0v1.0h-1.0zM362.5 346.1h1.0v1.0h-1.0zM351.2 351.0h1.0v1.0h-1.0zM334.5 380.8h1.0v1.0h-1.0zM348.5 356.5h1.0v1.0h-1.0zM336.7 368.3h1.0v1.0h-1.0zM372.5 364.4h1.0v1.0h-1.0zM360.5 343.8h1.0v1.0h-1.0zM339.1 367.6h1.0v1.0h-1.0zM332.8 380.7h1.0v1.0h-1.0zM332.5 380.9h1.0v1.0h-1.0zM334.7 370.1h1.0v1.0h-1.0zM350.6 353.2h1.0v1.0h-1.0zM338.0 366.8h1.0v1.0h-1.0zM359.4 345.9h1.0v1.0h-1.0zM370.4 346.7h1.0v1.0h-1.0zM367.9 367.6h1.0v1.0h-1.0zM369.0 345.3h1.0v1.0h-1.0zM349.9 353.8h1.0v1.0h-1.0zM327.5 373.7h1.0v1.0h-1.0zM337.8 369.0h1.0v1.0h-1.0zM373.6 350.9h1.0v1.0h-1.0zM353.6 347.8h1.0v1.0h-1.0zM344.6 365.2h1.0v1.0h-1.0zM372.2 349.5h1.0v1.0h-1.0zM375.0 362.7h1.0v1.0h-1.0zM334.1 380.2h1.0v1.0h-1.0zM335.3 372.0h1.0v1.0h-1.0zM350.1 355.3h1.0v1.0h-1.0zM371.1 348.2h1.0v1.0h-1.0zM373.0 356.0h1.0v1.0h-1.0zM351.1 353.4h1.0v1.0h-1.0zM372.4 352.2h1.0v1.0h-1.0zM350.5 357.0h1.0v1.0h-1.0zM372.8 358.5h1.0v1.0h-1.0zM330.9 374.3h1.0v1.0h-1.0zM374.2 358.4h1.0v1.0h-1.0zM352.3 344.1h1.0v1.0h-1.0zM329.6 377.1h1.0v1.0h-1.0zM352.3 347.6h1.0v1.0h-1.0zM359.6 342.6h1.0v1.0h-1.0zM353.3 354.2h1.0v1.0h-1.0zM357.5 346.3h1.0v1.0h-1.0zM353.6 349.7h1.0v1.0h-1.0zM352.3 351.3h1.0v1.0h-1.0zM349.4 357.4h1.0v1.0h-1.0zM363.2 344.1h1.0v1.0h-1.0zM351.9 377.4h1.0v1.0h-1.0zM351.4 361.3h1.0v1.0h-1.0zM350.7 356.5h1.0v1.0h-1.0zM347.2 365.0h1.0v1.0h-1.0zM372.3 368.8h1.0v1.0h-1.0zM356.0 377.4h1.0v1.0h-1.0zM376.2 352.1h1.0v1.0h-1.0zM367.6 365.7h1.0v1.0h-1.0zM359.5 343.9h1.0v1.0h-1.0zM343.3 366.1h1.0v1.0h-1.0zM360.6 340.6h1.0v1.0h-1.0zM323.6 375.6h1.0v1.0h-1.0zM329.1 376.4h1.0v1.0h-1.0zM346.8 354.7h1.0v1.0h-1.0zM327.8 379.1h1.0v1.0h-1.0zM371.6 359.1h1.0v1.0h-1.0zM369.8 363.0h1.0v1.0h-1.0zM366.7 363.3h1.0v1.0h-1.0zM368.9 349.1h1.0v1.0h-1.0zM350.3 359.6h1.0v1.0h-1.0zM370.4 347.7h1.0v1.0h-1.0zM348.5 359.9h1.0v1.0h-1.0zM352.2 350.0h1.0v1.0h-1.0zM353.6 350.4h1.0v1.0h-1.0zM374.4 346.5h1.0v1.0h-1.0zM329.5 379.2h1.0v1.0h-1.0zM338.2 367.9h1.0v1.0h-1.0zM364.9 342.0h1.0v1.0h-1.0zM370.3 373.0h1.0v1.0h-1.0zM326.9 376.4h1.0v1.0h-1.0zM334.4 373.1h1.0v1.0h-1.0zM329.6 370.8h1.0v1.0h-1.0zM362.7 346.1h1.0v1.0h-1.0zM369.7 351.1h1.0v1.0h-1.0zM351.8 351.7h1.0v1.0h-1.0zM366.8 343.3h1.0v1.0h-1.0zM363.4 375.0h1.0v1.0h-1.0zM369.1 363.7h1.0v1.0h-1.0zM346.4 365.8h1.0v1.0h-1.0zM369.2 338.7h1.0v1.0h-1.0zM336.0 370.9h1.0v1.0h-1.0zM348.5 351.5h1.0v1.0h-1.0zM354.4 352.8h1.0v1.0h-1.0zM370.3 348.5h1.0v1.0h-1.0zM336.1 371.2h1.0v1.0h-1.0zM360.1 338.7h1.0v1.0h-1.0zM363.8 346.1h1.0v1.0h-1.0zM349.2 359.6h1.0v1.0h-1.0zM354.7 350.4h1.0v1.0h-1.0zM352.8 353.4h1.0v1.0h-1.0zM344.5 379.6h1.0v1.0h-1.0zM334.2 369.2h1.0v1.0h-1.0zM354.3 354.0h1.0v1.0h-1.0zM343.9 381.2h1.0v1.0h-1.0zM373.5 353.9h1.0v1.0h-1.0zM359.3 375.8h1.0v1.0h-1.0zM336.0 380.8h1.0v1.0h-1.0zM361.6 342.2h1.0v1.0h-1.0zM354.1 354.6h1.0v1.0h-1.0zM323.6 380.7h1.0v1.0h-1.0zM361.8 344.9h1.0v1.0h-1.0zM369.7 357.5h1.0v1.0h-1.0zM365.0 344.2h1.0v1.0h-1.0zM351.9 361.2h1.0v1.0h-1.0zM367.1 344.1h1.0v1.0h-1.0zM329.8 372.3h1.0v1.0h-1.0zM374.0 361.1h1.0v1.0h-1.0zM371.6 356.1h1.0v1.0h-1.0zM328.4 371.6h1.0v1.0h-1.0zM334.5 369.4h1.0v1.0h-1.0zM357.3 337.4h1.0v1.0h-1.0zM363.8 341.4h1.0v1.0h-1.0zM339.1 369.1h1.0v1.0h-1.0zM373.0 367.4h1.0v1.0h-1.0zM333.6 369.4h1.0v1.0h-1.0zM323.2 373.8h1.0v1.0h-1.0zM363.4 344.1h1.0v1.0h-1.0zM378.5 358.4h1.0v1.0h-1.0zM334.4 361.6h1.0v1.0h-1.0zM330.5 350.5h1.0v1.0h-1.0zM332.5 352.9h1.0v1.0h-1.0zM331.5 359.3h1.0v1.0h-1.0zM334.2 352.2h1.0v1.0h-1.0zM336.7 360.3h1.0v1.0h-1.0zM328.5 356.8h1.0v1.0h-1.0zM327.4 357.5h1.0v1.0h-1.0zM334.2 353.3h1.0v1.0h-1.0zM330.9 352.6h1.0v1.0h-1.0zM335.5 359.1h1.0v1.0h-1.0z" fill="#000"/>
<path d="M319.20 382.70H322.20M322.20 382.70V385.70M320.20 378.52H322.20M327.90 382.70V384.70M320.20 376.07H322.20M331.24 382.70V384.70M320.20 374.33H322.20M333.61 382.70V384.70M320.20 372.98H322.20M335.45 382.70V384.70M320.20 371.88H322.20M336.95 382.70V384.70M320.20 370.95H322.20M338.21 382.70V384.70M320.20 370.15H322.20M339.31 382.70V384.70M320.20 369.44H322.20M340.28 382.70V384.70M319.20 368.80H322.20M341.15 382.70V385.70M320.20 364.62H322.20M346.85 382.70V384.70M320.20 362.17H322.20M350.19 382.70V384.70M320.20 360.43H322.20M352.56 382.70V384.70M320.20 359.08H322.20M354.40 382.70V384.70M320.20 357.98H322.20M355.90 382.70V384.70M320.20 357.05H322.20M357.16 382.70V384.70M320.20 356.25H322.20M358.26 382.70V384.70M320.20 355.54H322.20M359.23 382.70V384.70M319.20 354.90H322.20M360.10 382.70V385.70M320.20 350.72H322.20M365.80 382.70V384.70M320.20 348.27H322.20M369.14 382.70V384.70M320.20 346.53H322.20M371.51 382.70V384.70M320.20 345.18H322.20M373.35 382.70V384.70M320.20 344.08H322.20M374.85 382.70V384.70M320.20 343.15H322.20M376.11 382.70V384.70M320.20 342.35H322.20M377.21 382.70V384.70M320.20 341.64H322.20M378.18 382.70V384.70M319.20 341.00H322.20M379.05 382.70V385.70M320.20 336.82H322.20M384.75 382.70V384.70M320.20 334.37H322.20M388.09 382.70V384.70M320.20 332.63H322.20M390.46 382.70V384.70M320.20 331.28H322.20M392.30 382.70V384.70M320.20 330.18H322.20M393.80 382.70V384.70M320.20 329.25H322.20M395.06 382.70V384.70M320.20 328.45H322.20M396.16 382.70V384.70M320.20 327.74H322.20M397.13 382.70V384.70" stroke="#000" stroke-width="0.75" fill="none"/>
<g transform="translate(322.4 392.6)"><text x="-5.53" y="0" font-family="'Liberation Sans', sans-serif" font-size="7.4" font-weight="bold" transform="scale(0.76 1)">10</text><text x="3.25" y="-4.0" font-family="'Liberation Sans', sans-serif" font-size="5.6" font-weight="bold" transform="scale(0.8 1)">0</text></g>
<g transform="translate(340.8 392.6)"><text x="-5.53" y="0" font-family="'Liberation Sans', sans-serif" font-size="7.4" font-weight="bold" transform="scale(0.76 1)">10</text><text x="3.25" y="-4.0" font-family="'Liberation Sans', sans-serif" font-size="5.6" font-weight="bold" transform="scale(0.8 1)">1</text></g>
<g transform="translate(359.2 392.6)"><text x="-5.53" y="0" font-family="'Liberation Sans', sans-serif" font-size="7.4" font-weight="bold" transform="scale(0.76 1)">10</text><text x="3.25" y="-4.0" font-family="'Liberation Sans', sans-serif" font-size="5.6" font-weight="bold" transform="scale(0.8 1)">2</text></g>
<g transform="translate(377.5 392.6)"><text x="-5.53" y="0" font-family="'Liberation Sans', sans-serif" font-size="7.4" font-weight="bold" transform="scale(0.76 1)">10</text><text x="3.25" y="-4.0" font-family="'Liberation Sans', sans-serif" font-size="5.6" font-weight="bold" transform="scale(0.8 1)">3</text></g>
<g transform="translate(395.9 392.6)"><text x="-5.53" y="0" font-family="'Liberation Sans', sans-serif" font-size="7.4" font-weight="bold" transform="scale(0.76 1)">10</text><text x="3.25" y="-4.0" font-family="'Liberation Sans', sans-serif" font-size="5.6" font-weight="bold" transform="scale(0.8 1)">4</text></g>
<g transform="translate(316.8 382.7) rotate(-90)"><text x="-5.66" y="0" font-family="'Liberation Sans', sans-serif" font-size="7.8" font-weight="bold" transform="scale(0.76 1)">10</text><text x="3.62" y="-4.3" font-family="'Liberation Sans', sans-serif" font-size="5.6" font-weight="bold" transform="scale(0.8 1)">0</text></g>
<g transform="translate(316.8 368.8) rotate(-90)"><text x="-5.66" y="0" font-family="'Liberation Sans', sans-serif" font-size="7.8" font-weight="bold" transform="scale(0.76 1)">10</text><text x="3.62" y="-4.3" font-family="'Liberation Sans', sans-serif" font-size="5.6" font-weight="bold" transform="scale(0.8 1)">1</text></g>
<g transform="translate(316.8 354.9) rotate(-90)"><text x="-5.66" y="0" font-family="'Liberation Sans', sans-serif" font-size="7.8" font-weight="bold" transform="scale(0.76 1)">10</text><text x="3.62" y="-4.3" font-family="'Liberation Sans', sans-serif" font-size="5.6" font-weight="bold" transform="scale(0.8 1)">2</text></g>
<g transform="translate(316.8 341.0) rotate(-90)"><text x="-5.66" y="0" font-family="'Liberation Sans', sans-serif" font-size="7.8" font-weight="bold" transform="scale(0.76 1)">10</text><text x="3.62" y="-4.3" font-family="'Liberation Sans', sans-serif" font-size="5.6" font-weight="bold" transform="scale(0.8 1)">3</text></g>
<g transform="translate(316.8 327.1) rotate(-90)"><text x="-5.66" y="0" font-family="'Liberation Sans', sans-serif" font-size="7.8" font-weight="bold" transform="scale(0.76 1)">10</text><text x="3.62" y="-4.3" font-family="'Liberation Sans', sans-serif" font-size="5.6" font-weight="bold" transform="scale(0.8 1)">4</text></g>
<text x="358.10" y="399.00" font-family="'Liberation Sans', sans-serif" font-size="6.8" font-weight="normal" text-anchor="middle" stroke="#000" stroke-width="0.25">CD11B-PE</text>
<text transform="translate(307.00 355.90) rotate(-90)" font-family="'Liberation Sans', sans-serif" font-size="6.4" text-anchor="middle" stroke="#000" stroke-width="0.2">FL1-H</text>
<text x="387.00" y="343.10" font-family="'Liberation Serif', serif" font-size="8.2" font-weight="normal" text-anchor="middle" >90</text>
<rect x="437.00" y="327.10" width="75.60" height="55.60" fill="none" stroke="#000" stroke-width="1.25"/>
<line x1="455.50" y1="327.10" x2="455.50" y2="382.70" stroke="#000" stroke-width="1"/>
<line x1="437.00" y1="367.70" x2="512.60" y2="367.70" stroke="#000" stroke-width="1"/>
<path d="M451.7 382.2l-.3-1.2-.3 1.2 M464.5 382.2l-.3 0 M469.7 382.2l-1.4-.4-.3 .4 M457.4 380l-2.2 .2 1.2 .3 1.4-.3-.4-.2 M459.4 378.9l-1.3 .3 1.3 1.2 0-1.5 M437.5 368.7l2 1.1 1-1.5-.6 2 .7 1-2.1 2.1 2 .6 1-.3 1 1 2 .2 1 1.4 1.9-.7 1 .8 1-1.5 1.4 .4 .3 .9-.7 .8-2.2 1.2 1.2 1.7 1-1.3 1 .5 1.7-.9 .6-1-1.7-1 .4-.2 6 1.4 1-1.2 1 .3 1 .7-.1 1 1.1 1 1-1 0-1.1 1-.1 1.9 1.7 2-.5 1 .8 5 1.1 3-1.2 2 1.5 1 0 .1-1.2 1.9-.9 1 .4 .9-.8 2 .1 2 .7 2-6.2 1 .4 1.4-.6-1.4-.8-1 .5-2.9-2.7 .4-2-.4-1 .9-1.4 1 1.8 1.6-.4 .9-2-.3-1-1.2-1 1.2-1.9-1.2-.3-1.9 2.2-.1 1.5-2 .2-1 1-1-1.7 .5-1-.5-.7-1-.2 0-1-1.9-1.2-1 1.1-1-.9 2.6-2-.6-1.3-1 1.2-1-1.2-1.3 .3 .8 1 .5 2-1 .2-1 1.8-1-.5-.3-2.5 .5-1-2.2-1.2-1.3 1.2 1.6 1-1.3 1-2.9-1 .9-1.4 1.4-.6-.4-.2-2-.6-2 .8-2-.3-.3 .3 1.3 1.5 2.4 .5-2.4 .3-2.2-1.3-2.7-3.2-1 1.3-1-1.2-2 2.1-1 3.1-.9-.1 .2-1-1.3-.6-1-1.2-2-.2-1-.6-1 .7-2-1.3-2.4 1.2-.8 3 .4 2-1.1 .9 0 1-2-.4-1 1.4-2.1-2 1.2-3.9-1.1-2.6-1.2 .6 1 2-.8 .5-1-1 M437.5 372l.8-.7-.8-.9 M446.6 370.3l-.2 .7-.9 .3-1-.4-.2-.6 1.2 .3 1.1-.3 M487.5 371.3l-.6 0 .6 0 M495.2 370.6l-.9 .7 .9 .6 .6-.6-.6-.7 M494.2 370.1l0 .6 0-.6 M437.5 364.8l1.8 .5-.1 1-1.7 1.5 M494.2 366.2l0 1.2 0-1.2 M444 364.3l-.5 .4-.6-.4 .6-.6 .5 .6 M480.5 363.3l-.2 1.1-.4-1.1 .6 0 M494.2 362.8l-.6 .5 .6 .6 .6-.6-.6-.5 M442.5 360.2l0 1.6 2 .2 .6-.6-2.6-1.2 M485.2 360.1l-1.8 .3 1.8 1.2 0-1.5 M450.6 358.4l-.2 .6-1 .3-1-.8-1.4 .9 .4-1.3 2-.2 1.2 .5 M483.3 358.7l-.9 .7 .9 .9 .7-.9-.7-.7 M457.4 355.8l-.7 .6 .7 .7 .9-.7-.9-.6 M477.3 355.2l-1.1 .2 1.1 .3 0-.5 M437.5 354.8l1-1.4 1 1.8 1.5-.8-.2-3-2.5-1 1.2 0 .9-1 .9-2.9-.4-1-1.6-1-.8-3.8-1 1 M443.5 354.3l-1.2 .1 1.2-.1 M458.4 353.7l-.6 .7 .6 .7 .7-.7-.7-.7 M474.3 351.8l-.6 .6 .6 .6 .6-.6-.6-.6 M437.5 347.7l0 1 M437.5 341.1l.8-.6-.8-.3 M439.5 337.2l-1 .4-.5 1.9 1.5 1.5 .5-1.5-.5-2.3 M437.5 337.9l.8-.4-.8-.3 M460.4 356.2l-1.3 .2-.1 1-1.2 1 .3 1-.7 .5-1 0-2-2.5-2.4 0 1.3 2-.3 1 1.1 1-.7 1-2-2.7-2 .2-1-.9-1 1.3-1-.4-.4 .5 1.8 1.9-1.4 .8-.3-.8-1 0-.6 3.4-3 .1-.6-.5 .2-1-1.6-1.3-.8 1.3 1.4 1-.4 2 1.6 1-.5 2 2.7 1.4 .1-2.4 .9-.8 2.9 1.8 .1 2 .9 .8 1-.7 2 2.5 3 1.2 1-.3 1 .6 3-.6 1.7 .4 1.3 1.3 1-1.2 1 0 1 1.4 2.9 0 1 1 4 .4 1 .6 3-1.5 2 .9 3-1.1 1 .1 .9-.8 4 .5 .3-.6-1-1.9 1.4-1 1-2-.7-.9-2 .9-2-1.9-1.6-.1-.8-1-.3-1 .8-.2 .9 .6 1-.9 1-.1 .5-1.4-.5-.9-1 .4-1.5-.5 .1-3-1.5-1.4-1-.3-.9 .8 1.3 1.9-1.4 2.1-2-3.8-2.4-.2-.6-2.7-.5 .7-1.5 .3-2-.1-1-.9-3 .7-1.9-1.2-1.2 .2-.1-1-.7-.9-3-.3 M451.4 377.6l-.5 .6 .5 .5 .9-.5-.9-.6 M446.4 371.7l-1.9 .1-1.6 2.5 1.6 0 1.9 1.2 1-.7 1 .2 .7-.7-.7-.6-2.4-.4 1.4-1-1-.6 M455.6 374.3l-.4 0 .4 0 M460.5 373.3l-1.1 1.2-1 .1 0-.5 1 0 1.1-.8 M441.5 371.5l-1.5 .8-.1 1 .6 .3 1.9-1.3-.9-.8 M437.5 371.4l0-.3 M487.2 370.1l-.8 .2 .8 .2 0-.4 M478.5 368.3l-.2 .4-1-.4 1.2 0 M446.5 366.3l.3 1-.4 .4-.9-.2-1 .6 0-1.2 2-.6 M482.9 365.3l-.9 0 .9 0 M490.2 364l0 1.1 .5-.8-.5-.3 M489.2 361.9l-.4 .4 .4 .8 .5-.8-.5-.4 M437.5 361.7l1.1-.3-1.1-.5 M479.3 359.8l-.9 .6 .9 1.3 .5-1.3-.5-.6 M439.5 358.8l-.6 .6 .6 1 .5-1-.5-.6 M437.5 359.8l.5-.4-.5-.6 M462.5 358.4l-2.1 1.6-.4-.6 .5-1 .9-.5 1.1 .5 M451.4 358.1l0 .7 0-.7 M446.4 356.8l0 1 .9-.4-.9-.6 M470.3 356.1l-1.3 .3 .3 .8 1-.1 .7-.7-.7-.3 M437.5 353.7l1-1 1 .4 1-.7-1-.6-2-.1 M437.5 345.3l.6 4.1 1.4 .6 1.3-3.5-1.3-.9-2-2.6 M470.3 359.3l-2 .6-2-.3-.9 1-1.4-1.2-1.6 .9 0 1.1-2-.7-1 .7-2-1-1 .1-2 3.4-2-2.1-1-.2-1 .5-1-.4-3 2.4-.9-.7-.5 .9 .5 1.5 .9-.3 1 1.8 2-.1 1.5 1.1-.9 1 3.9 2-1.5 .2-1.6 1.8 3.6 2.2 .5-.2-.4-1 .6-1 2.3 2.5 .8-.5-.6-1 2.8-1.5 1.1 .5-2 2 2.9 1.1 2-.5 1 1.3 2.9-.1 1 1.1 2 .4 2 0 1 .5 1.5-.9 2.5-.2 1 .8 4-1.1 .9-1 3 .3 .5-.8-1.1-.9 .3-1 1.3-.4 1-1.8-1-.1-1 .8-2-.5-.3-1-2-1-1.6-1.9-3 2.2-.3-1.3-1.4-1 .5-4 .7 1 .2 2 1.3 1.4 1.7-1.4 0-1-1.5-1-2.2-3-2-.7-.3 .7-1 0 1.3-2-3-.4-1 .3-1-.9 M451.4 370.3l-2 .9-1-.5-.3 1.6 .3 .3 1-1.3 1 .9 1-.2 .8-.7-.8-1 M442.5 366.1l-.7 .2-.4 1 .9 2-.5 1 .7 .3 .1-1.3 1.4-1-.5-1.4-1-.8 M447.4 367.3l-1 .9-1.3 .1 1.3 .2 1 1.5 1.3-.7-1.3-2 M484.2 366.7l-.8 .6 .8 .6 .6-.6-.6-.6 M440.5 365.7l0 1.2 .8-.6-.8-.6 M451.6 363.3l1.3 1-.5 2.1-1.9-3.1 .9-.3 .2 .3 M440.5 364.3l-.5 0 .5 0 M465.2 362.3l-1.8 0 1-.5 .8 .5 M481.3 361l0 .9 .4-.5-.4-.4 M448.4 359.7l-.4 .7 .4 .4 .7-.4-.7-.7 M454.4 359.7l0 1 .5-.3-.5-.7 M454.4 358.1l-.7 .3 .7 .7 0-1 M459.4 357.8l-1.2 .6 1.2 .9 .4-.9-.4-.6 M463.4 357.4l-1.6 0 1.6 0 M437.5 352.8l.4-.4-.4-.2 M438.5 344.8l-.7 1.7 1.7 3 .2-3-1.2-1.7 M479.3 377.6l0 .8 0-.8 M472.3 360.2l-.4 1.2 1 .9-1.9 1 .3 1.2-1-.6-1 .9-.4-.5 .3-2.9-1.9-.3-1-.9-.6 1.2 .6 1.1-2.9 .4-1-1-2-.5-1 .9 0 2.2-3-1.3-1 1.2-2 .9-1.8 3 1.8 2.3 1 .1 .3-1.4 .7-.5 1.2 1.5-2.7 2 .5 .5 3 .9 2-1.7 2 .4 .4 .9-.5 1 .2 1 .9 .4 2-.2 1 .8 .9-1.1 2 1 1 1.5 2 .5 8-1.1 1 .8 3-.7 .9-1.6 1 .4 .9-2.7-2.8-2.5-1-.3-1 1.5-1 .5 0-1.9 1.1-.3-2.1-.2-1 1.2-3-1.2-1-1.5-1 1.9-1-.9-1 .1-1-1.1-1 .2 0-.6 1-.1 2 .6 1-.6 1 .1 1-.9-1-2 2.7-2-.7-.6-2 .6-.9-1 .3-.9-.4-.7-1-.5 M453.4 373.4l-.5 .9 .5 .3 .5-.3-.5-.9 M463.6 370.3l1 1-.2 .8-1.1-1.8 .3 0 M447.4 367.9l-.4 .4 .4 1.3 .5-.3-.5-1.4 M451.4 368.9l0 .5 1-.1-1-.4 M477.3 369.3l-1 0 1 0 M479.3 365.6l-.8 .7 .8 1.6 1-.6-.1-1-.9-.7 M450.4 364.6l-2.4 1.7 2.4 1 .9-1-.9-1.7 M447.4 364l0 .7 0-.7 M470.3 361.8l-.4 .5 .4 .6 .5-.6-.5-.5 M457.4 360.8l-1.3 .6 .3 .5 1 .1 .8-.6-.8-.6 M464.4 360.2l-.4 .2 .4 .2 0-.4 M469.3 360.3l0 .8 0-.8 M438.5 345.4l-.4 1.1 .4 .8 .6-.8-.6-1.1 M471.3 376.3l-1 .9 1.5 0-.5-.9 M473.3 376.7l-.5 .5 1.1 0-.6-.5 M460.4 362l-.7 1.3 2.2 2 .6 2-1.1-.6-.8 .6-.2 1-.6-3-1.4-.4-1 1.2-1-.2-2 1.2-1-1.1-.6 2.3 .6 1.6 1-2 1-.1 1 .9 1-1.9 2 1.5 3 .6 2 1.1 1.9 .1 .2 1.2 1.3 2-.5 .5-1.9-1.2-2 .1-1-2.2-.9 .8 .9 3.7 1 .3 2.9-.8 2 1.3 1 1.3 1 .1 1-1 2.5-.9-1.5-1 1-1.4 3 .4 1.3 1 0 1-1.3 .4-1-.6-1.7 1.1 1.7 1.4 2.3-.4 1.7-1.4 1 1.4 3-.6 .3-1.3 1.6-1 .2-1-2.1-2-.8 1 .2 2-.4 .4-.7-.4 .4-1-.7-.4-.7 .4-.3 1.5-1 .3-.9-1.8 1.3-1-.4-.8-2 .6-3-2.5-1 1.5-1-.7-4-.4-.4-.7 .3-4-.9-.9-1.2-.1 .2-.7 1 .7 1-1-1-.8-1 .7-2.9 .5-3-1.7 M459.4 369.8l-1 0-.8 1.5 .8 .4 1-.7 .6-.7-.6-.5 M465.4 370.9l0 .5 .8-.1-.8-.4 M473.3 366l-1 .7-2-.3-.8 .9 1.8 .6 3-.3 0-1.3-1-.3 M450.4 365.9l-.5 .4 .5 .4 .4-.4-.4-.4 M479.3 366.1l0 1 0-1 M470.3 364.7l-.8 .6 .8 1 .9-1-.9-.6 M457.4 363.9l-.8 .4 .8 .7 .7-.7-.7-.4 M472.3 363.1l0 .8 .6-.6-.6-.2" fill="none" stroke="#000" stroke-width="0.9" stroke-linejoin="round"/>
<path d="M493.8 366.1h1.0v1.0h-1.0zM437.7 342.0h1.0v1.0h-1.0zM489.2 365.8h1.0v1.0h-1.0zM478.3 356.1h1.0v1.0h-1.0zM490.2 360.9h1.0v1.0h-1.0zM492.5 368.3h1.0v1.0h-1.0zM490.6 366.8h1.0v1.0h-1.0zM485.2 360.2h1.0v1.0h-1.0zM460.6 377.3h1.0v1.0h-1.0zM480.2 362.2h1.0v1.0h-1.0zM482.8 377.5h1.0v1.0h-1.0zM437.8 331.1h1.0v1.0h-1.0zM446.6 370.4h1.0v1.0h-1.0zM490.6 371.3h1.0v1.0h-1.0zM439.6 358.2h1.0v1.0h-1.0zM489.5 355.6h1.0v1.0h-1.0zM457.7 354.0h1.0v1.0h-1.0zM482.0 380.4h1.0v1.0h-1.0zM488.9 371.2h1.0v1.0h-1.0zM456.8 356.1h1.0v1.0h-1.0zM487.9 355.3h1.0v1.0h-1.0zM485.7 368.9h1.0v1.0h-1.0zM448.0 374.9h1.0v1.0h-1.0zM439.4 340.0h1.0v1.0h-1.0zM463.1 354.5h1.0v1.0h-1.0zM445.8 353.3h1.0v1.0h-1.0zM466.4 357.1h1.0v1.0h-1.0zM440.4 353.4h1.0v1.0h-1.0zM437.3 357.9h1.0v1.0h-1.0zM483.7 364.9h1.0v1.0h-1.0zM451.2 356.3h1.0v1.0h-1.0zM493.1 379.4h1.0v1.0h-1.0zM476.6 354.6h1.0v1.0h-1.0zM440.3 344.7h1.0v1.0h-1.0zM468.0 381.5h1.0v1.0h-1.0zM456.1 379.7h1.0v1.0h-1.0zM445.8 357.5h1.0v1.0h-1.0zM469.2 356.6h1.0v1.0h-1.0zM491.6 376.1h1.0v1.0h-1.0zM491.3 368.3h1.0v1.0h-1.0zM439.4 367.1h1.0v1.0h-1.0zM490.8 363.3h1.0v1.0h-1.0zM473.9 352.0h1.0v1.0h-1.0zM478.6 361.7h1.0v1.0h-1.0zM439.2 369.0h1.0v1.0h-1.0zM485.7 368.1h1.0v1.0h-1.0zM457.4 354.2h1.0v1.0h-1.0zM483.0 359.0h1.0v1.0h-1.0zM490.8 370.2h1.0v1.0h-1.0zM458.3 352.3h1.0v1.0h-1.0zM436.8 348.7h1.0v1.0h-1.0zM451.6 378.0h1.0v1.0h-1.0zM476.0 379.1h1.0v1.0h-1.0zM486.0 369.3h1.0v1.0h-1.0zM467.7 357.1h1.0v1.0h-1.0zM464.9 354.8h1.0v1.0h-1.0zM439.4 361.0h1.0v1.0h-1.0zM453.7 355.1h1.0v1.0h-1.0zM491.5 366.1h1.0v1.0h-1.0zM442.3 372.5h1.0v1.0h-1.0zM484.9 368.8h1.0v1.0h-1.0zM480.4 356.0h1.0v1.0h-1.0zM450.5 375.2h1.0v1.0h-1.0zM509.6 376.2h1.0v1.0h-1.0zM442.3 371.5h1.0v1.0h-1.0zM459.7 354.0h1.0v1.0h-1.0zM438.2 356.1h1.0v1.0h-1.0zM450.2 357.2h1.0v1.0h-1.0zM451.9 376.9h1.0v1.0h-1.0zM466.2 356.2h1.0v1.0h-1.0zM490.0 364.5h1.0v1.0h-1.0zM495.3 365.6h1.0v1.0h-1.0zM461.8 380.8h1.0v1.0h-1.0zM451.2 355.9h1.0v1.0h-1.0zM487.4 369.3h1.0v1.0h-1.0zM462.1 355.3h1.0v1.0h-1.0zM470.6 356.1h1.0v1.0h-1.0zM456.1 352.7h1.0v1.0h-1.0zM442.3 363.6h1.0v1.0h-1.0zM452.4 374.8h1.0v1.0h-1.0zM453.1 376.3h1.0v1.0h-1.0zM450.9 358.5h1.0v1.0h-1.0zM447.5 375.8h1.0v1.0h-1.0zM459.6 354.9h1.0v1.0h-1.0zM470.1 357.1h1.0v1.0h-1.0zM457.8 379.1h1.0v1.0h-1.0zM476.1 356.8h1.0v1.0h-1.0zM494.6 370.7h1.0v1.0h-1.0zM462.0 353.5h1.0v1.0h-1.0zM437.2 337.2h1.0v1.0h-1.0zM466.7 348.9h1.0v1.0h-1.0zM480.1 379.4h1.0v1.0h-1.0zM440.3 369.5h1.0v1.0h-1.0zM460.9 358.5h1.0v1.0h-1.0zM440.0 351.2h1.0v1.0h-1.0zM485.4 355.3h1.0v1.0h-1.0zM462.3 378.6h1.0v1.0h-1.0zM437.5 350.8h1.0v1.0h-1.0zM438.3 339.1h1.0v1.0h-1.0zM438.4 362.2h1.0v1.0h-1.0zM449.3 356.3h1.0v1.0h-1.0zM491.2 360.3h1.0v1.0h-1.0zM465.8 377.8h1.0v1.0h-1.0zM494.4 370.5h1.0v1.0h-1.0zM487.1 364.6h1.0v1.0h-1.0zM454.6 379.3h1.0v1.0h-1.0zM451.8 359.7h1.0v1.0h-1.0zM475.1 357.6h1.0v1.0h-1.0zM466.7 355.4h1.0v1.0h-1.0zM494.2 363.0h1.0v1.0h-1.0zM476.4 359.2h1.0v1.0h-1.0zM438.6 372.7h1.0v1.0h-1.0zM445.9 355.9h1.0v1.0h-1.0zM491.4 371.8h1.0v1.0h-1.0zM447.7 357.3h1.0v1.0h-1.0zM436.8 353.6h1.0v1.0h-1.0zM446.1 362.3h1.0v1.0h-1.0zM437.6 363.8h1.0v1.0h-1.0zM453.8 375.4h1.0v1.0h-1.0zM478.7 357.7h1.0v1.0h-1.0zM450.1 374.0h1.0v1.0h-1.0zM490.1 365.4h1.0v1.0h-1.0zM477.4 359.7h1.0v1.0h-1.0zM457.6 375.9h1.0v1.0h-1.0zM499.0 371.0h1.0v1.0h-1.0zM451.0 375.9h1.0v1.0h-1.0zM458.7 348.2h1.0v1.0h-1.0zM457.9 376.8h1.0v1.0h-1.0zM437.5 359.9h1.0v1.0h-1.0zM451.2 381.0h1.0v1.0h-1.0zM440.0 352.1h1.0v1.0h-1.0zM437.7 337.8h1.0v1.0h-1.0zM439.1 331.7h1.0v1.0h-1.0zM437.2 339.7h1.0v1.0h-1.0zM478.2 361.0h1.0v1.0h-1.0zM441.9 359.8h1.0v1.0h-1.0zM437.1 341.9h1.0v1.0h-1.0zM442.9 356.6h1.0v1.0h-1.0zM484.8 369.7h1.0v1.0h-1.0zM490.6 371.5h1.0v1.0h-1.0zM442.3 361.2h1.0v1.0h-1.0zM439.3 357.3h1.0v1.0h-1.0zM484.9 360.9h1.0v1.0h-1.0zM442.5 361.3h1.0v1.0h-1.0zM467.3 358.6h1.0v1.0h-1.0zM437.7 368.0h1.0v1.0h-1.0zM450.5 381.7h1.0v1.0h-1.0zM456.7 379.8h1.0v1.0h-1.0zM465.1 352.7h1.0v1.0h-1.0zM454.7 355.4h1.0v1.0h-1.0zM463.9 381.9h1.0v1.0h-1.0zM472.2 356.4h1.0v1.0h-1.0zM440.5 376.2h1.0v1.0h-1.0zM437.7 372.9h1.0v1.0h-1.0zM489.0 374.1h1.0v1.0h-1.0zM461.2 356.1h1.0v1.0h-1.0zM486.4 378.0h1.0v1.0h-1.0zM442.9 354.1h1.0v1.0h-1.0zM457.2 356.2h1.0v1.0h-1.0zM449.0 357.0h1.0v1.0h-1.0zM488.3 362.9h1.0v1.0h-1.0zM488.0 363.5h1.0v1.0h-1.0zM448.1 380.2h1.0v1.0h-1.0zM438.8 367.5h1.0v1.0h-1.0zM442.5 378.5h1.0v1.0h-1.0zM444.5 358.9h1.0v1.0h-1.0zM437.6 336.4h1.0v1.0h-1.0zM444.4 361.2h1.0v1.0h-1.0zM492.6 370.7h1.0v1.0h-1.0zM490.3 363.7h1.0v1.0h-1.0zM494.2 369.4h1.0v1.0h-1.0zM477.6 378.4h1.0v1.0h-1.0zM470.6 380.2h1.0v1.0h-1.0zM437.3 362.7h1.0v1.0h-1.0zM459.1 379.3h1.0v1.0h-1.0zM488.9 364.5h1.0v1.0h-1.0zM494.5 373.3h1.0v1.0h-1.0zM484.0 356.6h1.0v1.0h-1.0zM489.7 374.8h1.0v1.0h-1.0zM440.0 353.8h1.0v1.0h-1.0zM494.3 357.0h1.0v1.0h-1.0zM449.3 373.5h1.0v1.0h-1.0zM478.3 357.4h1.0v1.0h-1.0zM476.1 354.5h1.0v1.0h-1.0zM447.8 355.3h1.0v1.0h-1.0zM481.1 359.1h1.0v1.0h-1.0zM449.0 377.6h1.0v1.0h-1.0zM481.8 359.5h1.0v1.0h-1.0zM442.6 365.2h1.0v1.0h-1.0zM445.3 375.4h1.0v1.0h-1.0zM483.7 361.4h1.0v1.0h-1.0zM456.2 357.8h1.0v1.0h-1.0zM484.0 364.0h1.0v1.0h-1.0zM453.5 379.2h1.0v1.0h-1.0zM486.9 367.9h1.0v1.0h-1.0zM437.3 367.8h1.0v1.0h-1.0zM445.0 351.9h1.0v1.0h-1.0zM438.7 338.5h1.0v1.0h-1.0zM447.6 355.8h1.0v1.0h-1.0zM444.2 357.6h1.0v1.0h-1.0zM469.1 381.5h1.0v1.0h-1.0zM455.8 377.5h1.0v1.0h-1.0zM442.2 373.7h1.0v1.0h-1.0zM473.2 356.5h1.0v1.0h-1.0zM436.9 363.9h1.0v1.0h-1.0zM450.2 376.5h1.0v1.0h-1.0zM479.8 357.5h1.0v1.0h-1.0zM447.3 357.1h1.0v1.0h-1.0zM486.7 366.5h1.0v1.0h-1.0zM463.0 356.3h1.0v1.0h-1.0zM496.8 370.0h1.0v1.0h-1.0zM438.8 337.3h1.0v1.0h-1.0zM483.7 359.7h1.0v1.0h-1.0zM441.5 362.6h1.0v1.0h-1.0zM482.4 369.0h1.0v1.0h-1.0zM442.0 354.3h1.0v1.0h-1.0zM471.7 352.8h1.0v1.0h-1.0zM478.7 355.7h1.0v1.0h-1.0zM445.2 369.7h1.0v1.0h-1.0zM487.1 363.4h1.0v1.0h-1.0z" fill="#000"/>
<path d="M434.00 382.70H437.00M437.00 382.70V385.70M435.00 378.52H437.00M442.69 382.70V384.70M435.00 376.07H437.00M446.02 382.70V384.70M435.00 374.33H437.00M448.38 382.70V384.70M435.00 372.98H437.00M450.21 382.70V384.70M435.00 371.88H437.00M451.71 382.70V384.70M435.00 370.95H437.00M452.97 382.70V384.70M435.00 370.15H437.00M454.07 382.70V384.70M435.00 369.44H437.00M455.04 382.70V384.70M434.00 368.80H437.00M455.90 382.70V385.70M435.00 364.62H437.00M461.59 382.70V384.70M435.00 362.17H437.00M464.92 382.70V384.70M435.00 360.43H437.00M467.28 382.70V384.70M435.00 359.08H437.00M469.11 382.70V384.70M435.00 357.98H437.00M470.61 382.70V384.70M435.00 357.05H437.00M471.87 382.70V384.70M435.00 356.25H437.00M472.97 382.70V384.70M435.00 355.54H437.00M473.94 382.70V384.70M434.00 354.90H437.00M474.80 382.70V385.70M435.00 350.72H437.00M480.49 382.70V384.70M435.00 348.27H437.00M483.82 382.70V384.70M435.00 346.53H437.00M486.18 382.70V384.70M435.00 345.18H437.00M488.01 382.70V384.70M435.00 344.08H437.00M489.51 382.70V384.70M435.00 343.15H437.00M490.77 382.70V384.70M435.00 342.35H437.00M491.87 382.70V384.70M435.00 341.64H437.00M492.84 382.70V384.70M434.00 341.00H437.00M493.70 382.70V385.70M435.00 336.82H437.00M499.39 382.70V384.70M435.00 334.37H437.00M502.72 382.70V384.70M435.00 332.63H437.00M505.08 382.70V384.70M435.00 331.28H437.00M506.91 382.70V384.70M435.00 330.18H437.00M508.41 382.70V384.70M435.00 329.25H437.00M509.67 382.70V384.70M435.00 328.45H437.00M510.77 382.70V384.70M435.00 327.74H437.00M511.74 382.70V384.70" stroke="#000" stroke-width="0.75" fill="none"/>
<g transform="translate(437.2 392.6)"><text x="-5.53" y="0" font-family="'Liberation Sans', sans-serif" font-size="7.4" font-weight="bold" transform="scale(0.76 1)">10</text><text x="3.25" y="-4.0" font-family="'Liberation Sans', sans-serif" font-size="5.6" font-weight="bold" transform="scale(0.8 1)">0</text></g>
<g transform="translate(455.5 392.6)"><text x="-5.53" y="0" font-family="'Liberation Sans', sans-serif" font-size="7.4" font-weight="bold" transform="scale(0.76 1)">10</text><text x="3.25" y="-4.0" font-family="'Liberation Sans', sans-serif" font-size="5.6" font-weight="bold" transform="scale(0.8 1)">1</text></g>
<g transform="translate(473.9 392.6)"><text x="-5.53" y="0" font-family="'Liberation Sans', sans-serif" font-size="7.4" font-weight="bold" transform="scale(0.76 1)">10</text><text x="3.25" y="-4.0" font-family="'Liberation Sans', sans-serif" font-size="5.6" font-weight="bold" transform="scale(0.8 1)">2</text></g>
<g transform="translate(492.2 392.6)"><text x="-5.53" y="0" font-family="'Liberation Sans', sans-serif" font-size="7.4" font-weight="bold" transform="scale(0.76 1)">10</text><text x="3.25" y="-4.0" font-family="'Liberation Sans', sans-serif" font-size="5.6" font-weight="bold" transform="scale(0.8 1)">3</text></g>
<g transform="translate(510.5 392.6)"><text x="-5.53" y="0" font-family="'Liberation Sans', sans-serif" font-size="7.4" font-weight="bold" transform="scale(0.76 1)">10</text><text x="3.25" y="-4.0" font-family="'Liberation Sans', sans-serif" font-size="5.6" font-weight="bold" transform="scale(0.8 1)">4</text></g>
<g transform="translate(431.6 382.7) rotate(-90)"><text x="-5.66" y="0" font-family="'Liberation Sans', sans-serif" font-size="7.8" font-weight="bold" transform="scale(0.76 1)">10</text><text x="3.62" y="-4.3" font-family="'Liberation Sans', sans-serif" font-size="5.6" font-weight="bold" transform="scale(0.8 1)">0</text></g>
<g transform="translate(431.6 368.8) rotate(-90)"><text x="-5.66" y="0" font-family="'Liberation Sans', sans-serif" font-size="7.8" font-weight="bold" transform="scale(0.76 1)">10</text><text x="3.62" y="-4.3" font-family="'Liberation Sans', sans-serif" font-size="5.6" font-weight="bold" transform="scale(0.8 1)">1</text></g>
<g transform="translate(431.6 354.9) rotate(-90)"><text x="-5.66" y="0" font-family="'Liberation Sans', sans-serif" font-size="7.8" font-weight="bold" transform="scale(0.76 1)">10</text><text x="3.62" y="-4.3" font-family="'Liberation Sans', sans-serif" font-size="5.6" font-weight="bold" transform="scale(0.8 1)">2</text></g>
<g transform="translate(431.6 341.0) rotate(-90)"><text x="-5.66" y="0" font-family="'Liberation Sans', sans-serif" font-size="7.8" font-weight="bold" transform="scale(0.76 1)">10</text><text x="3.62" y="-4.3" font-family="'Liberation Sans', sans-serif" font-size="5.6" font-weight="bold" transform="scale(0.8 1)">3</text></g>
<g transform="translate(431.6 327.1) rotate(-90)"><text x="-5.66" y="0" font-family="'Liberation Sans', sans-serif" font-size="7.8" font-weight="bold" transform="scale(0.76 1)">10</text><text x="3.62" y="-4.3" font-family="'Liberation Sans', sans-serif" font-size="5.6" font-weight="bold" transform="scale(0.8 1)">4</text></g>
<text x="472.80" y="399.00" font-family="'Liberation Sans', sans-serif" font-size="6.8" font-weight="normal" text-anchor="middle" stroke="#000" stroke-width="0.25">CD11B-PE</text>
<text transform="translate(421.80 355.90) rotate(-90)" font-family="'Liberation Sans', sans-serif" font-size="6.4" text-anchor="middle" stroke="#000" stroke-width="0.2">FL1-H</text>
<text x="502.50" y="343.10" font-family="'Liberation Serif', serif" font-size="8.2" font-weight="normal" text-anchor="middle" >76</text>
<path d="M458.5 92.6l3.2 -2.2" stroke="#000" stroke-width="1.3" fill="none"/>
<path d="M70.4 421.6H249.3V541.1H70.4Z" fill="none" stroke="#000" stroke-width="1.1"/>
<text x="65.20" y="544.40" font-family="'Liberation Sans', sans-serif" font-size="6.4" font-weight="normal" text-anchor="end" >0</text>
<text x="65.20" y="520.50" font-family="'Liberation Sans', sans-serif" font-size="6.4" font-weight="normal" text-anchor="end" >20</text>
<text x="65.20" y="496.60" font-family="'Liberation Sans', sans-serif" font-size="6.4" font-weight="normal" text-anchor="end" >40</text>
<text x="65.20" y="472.70" font-family="'Liberation Sans', sans-serif" font-size="6.4" font-weight="normal" text-anchor="end" >60</text>
<text x="65.20" y="448.80" font-family="'Liberation Sans', sans-serif" font-size="6.4" font-weight="normal" text-anchor="end" >80</text>
<text x="65.20" y="424.90" font-family="'Liberation Sans', sans-serif" font-size="6.4" font-weight="normal" text-anchor="end" >100</text>
<text x="70.40" y="551.60" font-family="'Liberation Sans', sans-serif" font-size="6.6" font-weight="bold" text-anchor="middle" >0</text>
<text x="115.12" y="551.60" font-family="'Liberation Sans', sans-serif" font-size="6.6" font-weight="bold" text-anchor="middle" >2</text>
<text x="159.85" y="551.60" font-family="'Liberation Sans', sans-serif" font-size="6.6" font-weight="bold" text-anchor="middle" >3</text>
<text x="204.58" y="551.60" font-family="'Liberation Sans', sans-serif" font-size="6.6" font-weight="bold" text-anchor="middle" >4</text>
<text x="249.30" y="551.60" font-family="'Liberation Sans', sans-serif" font-size="6.6" font-weight="bold" text-anchor="middle" >5</text>
<path d="M69.4 541.10H72.9M69.4 517.20H72.9M69.4 493.30H72.9M69.4 469.40H72.9M69.4 445.50H72.9M69.4 421.60H72.9M70.40 541.1V544.1M115.12 541.1V544.1M159.85 541.1V544.1M204.58 541.1V544.1M249.30 541.1V544.1" stroke="#000" stroke-width="0.9" fill="none"/>
<polyline points="70.40,541.10 115.12,520.78 159.85,514.81 204.58,493.30 249.30,457.45" fill="none" stroke="#000" stroke-width="0.9" stroke-dasharray="4 2 1 2"/>
<polyline points="70.40,541.10 115.12,512.42 159.85,482.55 204.58,461.04 249.30,435.94" fill="none" stroke="#000" stroke-width="1"/>
<path d="M115.12 506.45V518.39M113.12 506.45h4M113.12 518.39h4M115.12 514.81V526.76M113.12 514.81h4M113.12 526.76h4M159.85 470.60V494.50M157.85 470.60h4M157.85 494.50h4M159.85 511.23V518.39M157.85 511.23h4M157.85 518.39h4M204.58 456.25V465.82M202.58 456.25h4M202.58 465.82h4M204.58 488.52V498.08M202.58 488.52h4M202.58 498.08h4M249.30 429.97V441.92M247.30 429.97h4M247.30 441.92h4M249.30 447.89V467.01M247.30 447.89h4M247.30 467.01h4" stroke="#000" stroke-width="0.9" fill="none"/>
<rect x="67.80" y="538.50" width="5.2" height="5.2" fill="#000"/>
<circle cx="70.40" cy="541.10" r="1.5" fill="#000"/>
<rect x="112.53" y="509.82" width="5.2" height="5.2" fill="#000"/>
<circle cx="115.12" cy="520.78" r="1.5" fill="#000"/>
<rect x="157.25" y="479.94" width="5.2" height="5.2" fill="#000"/>
<circle cx="159.85" cy="514.81" r="1.5" fill="#000"/>
<rect x="201.98" y="458.44" width="5.2" height="5.2" fill="#000"/>
<circle cx="204.58" cy="493.30" r="1.5" fill="#000"/>
<rect x="246.70" y="433.34" width="5.2" height="5.2" fill="#000"/>
<circle cx="249.30" cy="457.45" r="1.5" fill="#000"/>
<line x1="81.2" y1="437.1" x2="105.2" y2="437.1" stroke="#000" stroke-width="1"/>
<rect x="90.60000000000001" y="434.5" width="5.2" height="5.2" fill="#000"/>
<circle cx="93.2" cy="447.1" r="1.4" fill="#000"/>
<text x="110.20" y="439.40" font-family="'Liberation Sans', sans-serif" font-size="6.6" font-weight="normal" text-anchor="start" >MSCV- GFP</text>
<text x="110.20" y="449.40" font-family="'Liberation Sans', sans-serif" font-size="6.6" font-weight="normal" text-anchor="start" >MSCV- ICN/GFP</text>
<text transform="translate(46.5 486.35) rotate(-90)" font-family="'Liberation Sans', sans-serif" font-size="10" font-weight="bold" text-anchor="middle">% of Differentiated Cells</text>
<text x="159.00" y="563.90" font-family="'Liberation Sans', sans-serif" font-size="9.6" font-weight="bold" text-anchor="middle" >Day</text>
<text x="12.40" y="421.60" font-family="'Liberation Serif', serif" font-size="18.8" font-weight="bold" text-anchor="middle" >C</text>
<path d="M337.1 421.8H517.6V539.5H337.1Z" fill="none" stroke="#000" stroke-width="1.1"/>
<text x="331.90" y="542.80" font-family="'Liberation Sans', sans-serif" font-size="6.4" font-weight="normal" text-anchor="end" >0</text>
<text x="331.90" y="519.26" font-family="'Liberation Sans', sans-serif" font-size="6.4" font-weight="normal" text-anchor="end" >20</text>
<text x="331.90" y="495.72" font-family="'Liberation Sans', sans-serif" font-size="6.4" font-weight="normal" text-anchor="end" >40</text>
<text x="331.90" y="472.18" font-family="'Liberation Sans', sans-serif" font-size="6.4" font-weight="normal" text-anchor="end" >60</text>
<text x="331.90" y="448.64" font-family="'Liberation Sans', sans-serif" font-size="6.4" font-weight="normal" text-anchor="end" >80</text>
<text x="331.90" y="425.10" font-family="'Liberation Sans', sans-serif" font-size="6.4" font-weight="normal" text-anchor="end" >100</text>
<text x="337.10" y="550.00" font-family="'Liberation Sans', sans-serif" font-size="6.6" font-weight="bold" text-anchor="middle" >0</text>
<text x="397.27" y="550.00" font-family="'Liberation Sans', sans-serif" font-size="6.6" font-weight="bold" text-anchor="middle" >1</text>
<text x="457.43" y="550.00" font-family="'Liberation Sans', sans-serif" font-size="6.6" font-weight="bold" text-anchor="middle" >2</text>
<text x="517.60" y="550.00" font-family="'Liberation Sans', sans-serif" font-size="6.6" font-weight="bold" text-anchor="middle" >3</text>
<path d="M336.1 539.50H339.6M336.1 515.96H339.6M336.1 492.42H339.6M336.1 468.88H339.6M336.1 445.34H339.6M336.1 421.80H339.6M337.10 539.5V542.5M397.27 539.5V542.5M457.43 539.5V542.5M517.60 539.5V542.5" stroke="#000" stroke-width="0.9" fill="none"/>
<polyline points="337.10,539.50 397.27,513.61 457.43,494.77 517.60,464.17" fill="none" stroke="#000" stroke-width="0.9" stroke-dasharray="4 2 1 2"/>
<polyline points="337.10,539.50 397.27,491.24 457.43,454.76 517.60,452.40" fill="none" stroke="#000" stroke-width="1"/>
<path d="M397.27 478.30V504.19M395.27 478.30h4M395.27 504.19h4M397.27 501.84V525.38M395.27 501.84h4M395.27 525.38h4M457.43 450.05V459.46M455.43 450.05h4M455.43 459.46h4M457.43 486.54V503.01M455.43 486.54h4M455.43 503.01h4M517.60 438.28V466.53M515.60 438.28h4M515.60 466.53h4M517.60 453.58V474.76M515.60 453.58h4M515.60 474.76h4" stroke="#000" stroke-width="0.9" fill="none"/>
<rect x="334.50" y="536.90" width="5.2" height="5.2" fill="#000"/>
<circle cx="337.10" cy="539.50" r="1.5" fill="#000"/>
<rect x="394.67" y="488.64" width="5.2" height="5.2" fill="#000"/>
<circle cx="397.27" cy="513.61" r="1.5" fill="#000"/>
<rect x="454.83" y="452.16" width="5.2" height="5.2" fill="#000"/>
<circle cx="457.43" cy="494.77" r="1.5" fill="#000"/>
<rect x="515.00" y="449.80" width="5.2" height="5.2" fill="#000"/>
<circle cx="517.60" cy="464.17" r="1.5" fill="#000"/>
<line x1="342.6" y1="437.3" x2="366.6" y2="437.3" stroke="#000" stroke-width="1"/>
<rect x="352.0" y="434.7" width="5.2" height="5.2" fill="#000"/>
<circle cx="354.6" cy="447.3" r="1.4" fill="#000"/>
<text x="371.60" y="439.60" font-family="'Liberation Sans', sans-serif" font-size="6.6" font-weight="normal" text-anchor="start" >MSCV- GFP</text>
<text x="371.60" y="449.60" font-family="'Liberation Sans', sans-serif" font-size="6.6" font-weight="normal" text-anchor="start" >MSCV- ICN/GFP</text>
<text transform="translate(319.3 485.65) rotate(-90)" font-family="'Liberation Sans', sans-serif" font-size="10" font-weight="bold" text-anchor="middle">% of Differentiated Cells</text>
<text x="427.00" y="562.30" font-family="'Liberation Sans', sans-serif" font-size="9.6" font-weight="bold" text-anchor="middle" >Day</text>
<text x="287.30" y="420.70" font-family="'Liberation Serif', serif" font-size="18.8" font-weight="bold" text-anchor="middle" >D</text>
</svg></body></html>
